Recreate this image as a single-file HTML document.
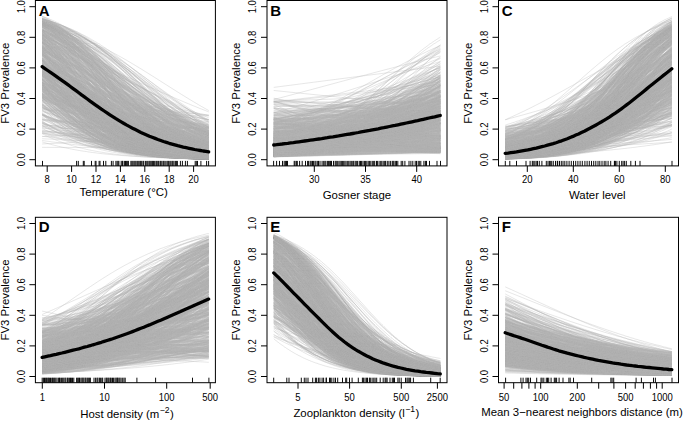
<!DOCTYPE html><html><head><meta charset="utf-8"><style>html,body{margin:0;padding:0;background:#fff}svg{display:block}</style></head><body>
<svg width="685" height="421" viewBox="0 0 685 421" font-family="Liberation Sans, sans-serif">
<rect width="685" height="421" fill="#fff"/>
<defs><path id="s" fill="none" stroke="#b3b3b3" stroke-opacity="0.4" stroke-width="0.8" vector-effect="non-scaling-stroke" d="M-9 159.68 -8.97 159.68 -8.95 159.68 -8.93 159.68 -8.9 159.68 -8.88 159.68 -8.85 159.68 -8.82 159.68 -8.8 159.68 -8.78 159.68 -8.75 159.68 -8.72 159.68 -8.7 159.67 -8.68 159.67 -8.65 159.67 -8.62 159.67 -8.6 159.67 -8.57 159.67 -8.55 159.67 -8.53 159.67 -8.5 159.67 -8.47 159.67 -8.45 159.67 -8.43 159.67 -8.4 159.67 -8.38 159.66 -8.35 159.66 -8.32 159.66 -8.3 159.66 -8.28 159.66 -8.25 159.66 -8.22 159.66 -8.2 159.66 -8.18 159.66 -8.15 159.66 -8.12 159.65 -8.1 159.65 -8.07 159.65 -8.05 159.65 -8.03 159.65 -8 159.65 -7.97 159.65 -7.95 159.65 -7.92 159.64 -7.9 159.64 -7.88 159.64 -7.85 159.64 -7.83 159.64 -7.8 159.64 -7.78 159.64 -7.75 159.63 -7.72 159.63 -7.7 159.63 -7.67 159.63 -7.65 159.63 -7.62 159.63 -7.6 159.62 -7.58 159.62 -7.55 159.62 -7.53 159.62 -7.5 159.62 -7.47 159.61 -7.45 159.61 -7.42 159.61 -7.4 159.61 -7.38 159.6 -7.35 159.6 -7.33 159.6 -7.3 159.6 -7.28 159.59 -7.25 159.59 -7.22 159.59 -7.2 159.59 -7.17 159.58 -7.15 159.58 -7.12 159.58 -7.1 159.57 -7.08 159.57 -7.05 159.57 -7.03 159.56 -7 159.56 -6.97 159.56 -6.95 159.55 -6.92 159.55 -6.9 159.55 -6.88 159.54 -6.85 159.54 -6.82 159.53 -6.8 159.53 -6.78 159.53 -6.75 159.52 -6.72 159.52 -6.7 159.51 -6.67 159.51 -6.65 159.5 -6.62 159.5 -6.6 159.49 -6.57 159.49 -6.55 159.48 -6.53 159.48 -6.5 159.47 -6.47 159.46 -6.45 159.46 -6.42 159.45 -6.4 159.45 -6.38 159.44 -6.35 159.43 -6.32 159.43 -6.3 159.42 -6.28 159.41 -6.25 159.41 -6.22 159.4 -6.2 159.39 -6.17 159.38 -6.15 159.37 -6.12 159.37 -6.1 159.36 -6.07 159.35 -6.05 159.34 -6.03 159.33 -6 159.32 -5.97 159.31 -5.95 159.3 -5.92 159.29 -5.9 159.28 -5.88 159.27 -5.85 159.26 -5.82 159.25 -5.8 159.24 -5.78 159.23 -5.75 159.21 -5.72 159.2 -5.7 159.19 -5.67 159.18 -5.65 159.16 -5.62 159.15 -5.6 159.14 -5.57 159.12 -5.55 159.11 -5.53 159.09 -5.5 159.08 -5.47 159.06 -5.45 159.05 -5.42 159.03 -5.4 159.01 -5.38 158.99 -5.35 158.98 -5.32 158.96 -5.3 158.94 -5.28 158.92 -5.25 158.9 -5.22 158.88 -5.2 158.86 -5.17 158.84 -5.15 158.82 -5.12 158.8 -5.1 158.77 -5.07 158.75 -5.05 158.73 -5.03 158.7 -5 158.68 -4.97 158.65 -4.95 158.62 -4.92 158.6 -4.9 158.57 -4.88 158.54 -4.85 158.51 -4.83 158.48 -4.8 158.45 -4.77 158.42 -4.75 158.39 -4.72 158.35 -4.7 158.32 -4.67 158.29 -4.65 158.25 -4.62 158.21 -4.6 158.18 -4.58 158.14 -4.55 158.1 -4.52 158.06 -4.5 158.02 -4.47 157.98 -4.45 157.93 -4.42 157.89 -4.4 157.84 -4.38 157.8 -4.35 157.75 -4.33 157.7 -4.3 157.65 -4.27 157.6 -4.25 157.55 -4.22 157.49 -4.2 157.44 -4.17 157.38 -4.15 157.33 -4.12 157.27 -4.1 157.21 -4.07 157.14 -4.05 157.08 -4.02 157.01 -4 156.95 -3.97 156.88 -3.95 156.81 -3.92 156.74 -3.9 156.66 -3.88 156.59 -3.85 156.51 -3.82 156.43 -3.8 156.35 -3.77 156.27 -3.75 156.18 -3.72 156.1 -3.7 156.01 -3.67 155.92 -3.65 155.82 -3.62 155.73 -3.6 155.63 -3.57 155.53 -3.55 155.43 -3.52 155.32 -3.5 155.22 -3.47 155.11 -3.45 154.99 -3.42 154.88 -3.4 154.76 -3.38 154.64 -3.35 154.51 -3.32 154.39 -3.3 154.26 -3.27 154.12 -3.25 153.99 -3.22 153.85 -3.2 153.71 -3.17 153.56 -3.15 153.41 -3.12 153.26 -3.1 153.1 -3.07 152.94 -3.05 152.78 -3.02 152.61 -3 152.44 -2.97 152.27 -2.95 152.09 -2.92 151.91 -2.9 151.72 -2.88 151.53 -2.85 151.33 -2.82 151.13 -2.8 150.93 -2.77 150.72 -2.75 150.51 -2.72 150.29 -2.7 150.07 -2.67 149.84 -2.65 149.6 -2.62 149.37 -2.6 149.12 -2.57 148.87 -2.55 148.62 -2.52 148.36 -2.5 148.09 -2.47 147.82 -2.45 147.55 -2.42 147.26 -2.4 146.97 -2.38 146.68 -2.35 146.38 -2.32 146.07 -2.3 145.76 -2.27 145.44 -2.25 145.11 -2.22 144.78 -2.2 144.44 -2.17 144.09 -2.15 143.74 -2.12 143.38 -2.1 143.01 -2.07 142.63 -2.05 142.25 -2.02 141.86 -2 141.46 -1.97 141.06 -1.95 140.64 -1.92 140.22 -1.9 139.79 -1.88 139.36 -1.85 138.91 -1.82 138.46 -1.8 138 -1.77 137.53 -1.75 137.05 -1.72 136.56 -1.7 136.07 -1.67 135.56 -1.65 135.05 -1.62 134.53 -1.6 134 -1.57 133.46 -1.55 132.91 -1.52 132.35 -1.5 131.79 -1.47 131.21 -1.45 130.63 -1.42 130.04 -1.4 129.43 -1.38 128.82 -1.35 128.2 -1.32 127.57 -1.3 126.93 -1.27 126.28 -1.25 125.63 -1.22 124.96 -1.2 124.28 -1.17 123.6 -1.15 122.91 -1.12 122.2 -1.1 121.49 -1.07 120.77 -1.05 120.04 -1.02 119.3 -1 118.55 -0.975 117.8 -0.95 117.03 -0.925 116.26 -0.9 115.48 -0.875 114.69 -0.85 113.89 -0.825 113.08 -0.8 112.27 -0.775 111.44 -0.75 110.61 -0.725 109.78 -0.7 108.93 -0.675 108.08 -0.65 107.22 -0.625 106.36 -0.6 105.49 -0.575 104.61 -0.55 103.72 -0.525 102.83 -0.5 101.94 -0.475 101.03 -0.45 100.13 -0.425 99.22 -0.4 98.3 -0.375 97.38 -0.35 96.45 -0.325 95.52 -0.3 94.59 -0.275 93.65 -0.25 92.71 -0.225 91.77 -0.2 90.82 -0.175 89.88 -0.15 88.93 -0.125 87.98 -0.1 87.02 -0.075 86.07 -0.05 85.11 -0.025 84.16 0 83.2 0.025 82.24 0.05 81.29 0.075 80.33 0.1 79.38 0.125 78.42 0.15 77.47 0.175 76.52 0.2 75.58 0.225 74.63 0.25 73.69 0.275 72.75 0.3 71.81 0.325 70.88 0.35 69.95 0.375 69.02 0.4 68.1 0.425 67.18 0.45 66.27 0.475 65.37 0.5 64.46 0.525 63.57 0.55 62.68 0.575 61.79 0.6 60.91 0.625 60.04 0.65 59.18 0.675 58.32 0.7 57.47 0.725 56.62 0.75 55.79 0.775 54.96 0.8 54.13 0.825 53.32 0.85 52.51 0.875 51.71 0.9 50.92 0.925 50.14 0.95 49.37 0.975 48.6 1 47.85 1.03 47.1 1.05 46.36 1.08 45.63 1.1 44.91 1.12 44.2 1.15 43.49 1.18 42.8 1.2 42.12 1.23 41.44 1.25 40.77 1.28 40.12 1.3 39.47 1.33 38.83 1.35 38.2 1.38 37.58 1.4 36.97 1.43 36.36 1.45 35.77 1.48 35.19 1.5 34.61 1.53 34.05 1.55 33.49 1.58 32.94 1.6 32.4 1.62 31.87 1.65 31.35 1.68 30.84 1.7 30.33 1.73 29.84 1.75 29.35 1.78 28.87 1.8 28.4 1.83 27.94 1.85 27.49 1.88 27.04 1.9 26.61 1.93 26.18 1.95 25.76 1.98 25.34 2 24.94 2.03 24.54 2.05 24.15 2.08 23.77 2.1 23.39 2.12 23.02 2.15 22.66 2.18 22.31 2.2 21.96 2.23 21.62 2.25 21.29 2.28 20.96 2.3 20.64 2.33 20.33 2.35 20.02 2.38 19.72 2.4 19.43 2.43 19.14 2.45 18.85 2.48 18.58 2.5 18.31 2.53 18.04 2.55 17.78 2.58 17.53 2.6 17.28 2.62 17.03 2.65 16.8 2.68 16.56 2.7 16.33 2.73 16.11 2.75 15.89 2.78 15.68 2.8 15.47 2.83 15.27 2.85 15.07 2.88 14.87 2.9 14.68 2.93 14.49 2.95 14.31 2.98 14.13 3 13.96 3.03 13.79 3.05 13.62 3.08 13.46 3.1 13.3 3.12 13.14 3.15 12.99 3.18 12.84 3.2 12.69 3.23 12.55 3.25 12.41 3.28 12.28 3.3 12.14 3.33 12.01 3.35 11.89 3.38 11.76 3.4 11.64 3.43 11.52 3.45 11.41 3.48 11.29 3.5 11.18 3.53 11.08 3.55 10.97 3.58 10.87 3.6 10.77 3.62 10.67 3.65 10.58 3.68 10.48 3.7 10.39 3.73 10.3 3.75 10.22 3.78 10.13 3.8 10.05 3.83 9.97 3.85 9.89 3.88 9.81 3.9 9.74 3.93 9.66 3.95 9.59 3.98 9.52 4 9.45 4.03 9.39 4.05 9.32 4.08 9.26 4.1 9.19 4.12 9.13 4.15 9.07 4.18 9.02 4.2 8.96 4.23 8.91 4.25 8.85 4.28 8.8 4.3 8.75 4.33 8.7 4.35 8.65 4.38 8.6 4.4 8.56 4.43 8.51 4.45 8.47 4.48 8.42 4.5 8.38 4.53 8.34 4.55 8.3 4.58 8.26 4.6 8.22 4.62 8.19 4.65 8.15 4.68 8.11 4.7 8.08 4.73 8.05 4.75 8.01 4.78 7.98 4.8 7.95 4.83 7.92 4.85 7.89 4.88 7.86 4.9 7.83 4.93 7.8 4.95 7.78 4.98 7.75 5 7.72 5.03 7.7 5.05 7.67 5.08 7.65 5.1 7.63 5.12 7.6 5.15 7.58 5.18 7.56 5.2 7.54 5.23 7.52 5.25 7.5 5.28 7.48 5.3 7.46 5.33 7.44 5.35 7.42 5.38 7.41 5.4 7.39 5.43 7.37 5.45 7.35 5.48 7.34 5.5 7.32 5.53 7.31 5.55 7.29 5.58 7.28 5.6 7.26 5.62 7.25 5.65 7.24 5.68 7.22 5.7 7.21 5.73 7.2 5.75 7.19 5.78 7.17 5.8 7.16 5.83 7.15 5.85 7.14 5.88 7.13 5.9 7.12 5.93 7.11 5.95 7.1 5.98 7.09 6 7.08 6.03 7.07 6.05 7.06 6.08 7.05 6.1 7.04 6.12 7.03 6.15 7.03 6.18 7.02 6.2 7.01 6.23 7 6.25 6.99 6.28 6.99 6.3 6.98 6.33 6.97 6.35 6.97 6.38 6.96 6.4 6.95 6.43 6.95 6.45 6.94 6.48 6.94 6.5 6.93 6.53 6.92 6.55 6.92 6.58 6.91 6.6 6.91 6.62 6.9 6.65 6.9 6.68 6.89 6.7 6.89 6.73 6.88 6.75 6.88 6.78 6.87 6.8 6.87 6.83 6.87 6.85 6.86 6.88 6.86 6.9 6.85 6.93 6.85 6.95 6.85 6.98 6.84 7 6.84 7.03 6.84 7.05 6.83 7.07 6.83 7.1 6.83 7.12 6.82 7.15 6.82 7.18 6.82 7.2 6.81 7.23 6.81 7.25 6.81 7.28 6.81 7.3 6.8 7.32 6.8 7.35 6.8 7.38 6.8 7.4 6.79 7.43 6.79 7.45 6.79 7.48 6.79 7.5 6.78 7.53 6.78 7.55 6.78 7.57 6.78 7.6 6.78 7.62 6.77 7.65 6.77 7.68 6.77 7.7 6.77 7.73 6.77 7.75 6.77 7.78 6.76 7.8 6.76 7.82 6.76 7.85 6.76 7.88 6.76 7.9 6.76 7.93 6.76 7.95 6.75 7.98 6.75 8 6.75 8.03 6.75 8.05 6.75 8.07 6.75 8.1 6.75 8.12 6.75 8.15 6.74 8.18 6.74 8.2 6.74 8.23 6.74 8.25 6.74 8.28 6.74 8.3 6.74 8.32 6.74 8.35 6.74 8.38 6.74 8.4 6.73 8.43 6.73 8.45 6.73 8.48 6.73 8.5 6.73 8.53 6.73 8.55 6.73 8.57 6.73 8.6 6.73 8.62 6.73 8.65 6.73 8.68 6.73 8.7 6.73 8.73 6.72 8.75 6.72 8.78 6.72 8.8 6.72 8.82 6.72 8.85 6.72 8.88 6.72 8.9 6.72 8.93 6.72 8.95 6.72 8.98 6.72 9 6.72"/></defs>
<clipPath id="cA"><rect x="42.1" y="0.5" width="166.7" height="165.4"/></clipPath>
<g transform="translate(0 0.0)"><g clip-path="url(#cA)"><use href="#s" transform="matrix(-72.77 0 0 1 -5.1918 0)"/><use href="#s" transform="matrix(-33.1 0 0 1 108.91 0)"/><use href="#s" transform="matrix(-72.95 0 0 1 31.261 0)"/><use href="#s" transform="matrix(-56.37 0 0 1 60.653 0)"/><use href="#s" transform="matrix(-55.04 0 0 1 68.118 0)"/><use href="#s" transform="matrix(-37.59 0 0 1 40.311 0)"/><use href="#s" transform="matrix(-51.68 0 0 1 11.66 0)"/><use href="#s" transform="matrix(-59.5 0 0 1 120.71 0)"/><use href="#s" transform="matrix(-25.35 0 0 1 66.693 0)"/><use href="#s" transform="matrix(-653.5 0 0 1 -759.1 0)"/><use href="#s" transform="matrix(-27.9 0 0 1 110.39 0)"/><use href="#s" transform="matrix(-50.07 0 0 1 127.73 0)"/><use href="#s" transform="matrix(-29.75 0 0 1 40.247 0)"/><use href="#s" transform="matrix(-32.29 0 0 1 94.708 0)"/><use href="#s" transform="matrix(-73.89 0 0 1 54.432 0)"/><use href="#s" transform="matrix(-50.9 0 0 1 66.742 0)"/><use href="#s" transform="matrix(-51.01 0 0 1 118.18 0)"/><use href="#s" transform="matrix(-39.01 0 0 1 23.842 0)"/><use href="#s" transform="matrix(-32.83 0 0 1 82.549 0)"/><use href="#s" transform="matrix(-28.05 0 0 1 100.34 0)"/><use href="#s" transform="matrix(-38.72 0 0 1 121.23 0)"/><use href="#s" transform="matrix(-59.95 0 0 1 59.933 0)"/><use href="#s" transform="matrix(-35.99 0 0 1 100.77 0)"/><use href="#s" transform="matrix(-58.6 0 0 1 -8.6152 0)"/><use href="#s" transform="matrix(-42.69 0 0 1 59.512 0)"/><use href="#s" transform="matrix(-42.94 0 0 1 88.406 0)"/><use href="#s" transform="matrix(-38.53 0 0 1 20.415 0)"/><use href="#s" transform="matrix(-47.24 0 0 1 64.195 0)"/><use href="#s" transform="matrix(-32.5 0 0 1 114.1 0)"/><use href="#s" transform="matrix(-27.93 0 0 1 112.68 0)"/><use href="#s" transform="matrix(-31.42 0 0 1 88.517 0)"/><use href="#s" transform="matrix(-55.56 0 0 1 127.65 0)"/><use href="#s" transform="matrix(-41.65 0 0 1 33.023 0)"/><use href="#s" transform="matrix(-75.15 0 0 1 10.826 0)"/><use href="#s" transform="matrix(-165.1 0 0 1 -63.056 0)"/><use href="#s" transform="matrix(-50.71 0 0 1 102.47 0)"/><use href="#s" transform="matrix(-38.86 0 0 1 98.312 0)"/><use href="#s" transform="matrix(-85.46 0 0 1 43.559 0)"/><use href="#s" transform="matrix(-34.53 0 0 1 26.989 0)"/><use href="#s" transform="matrix(-28 0 0 1 65.747 0)"/><use href="#s" transform="matrix(-36.95 0 0 1 75.798 0)"/><use href="#s" transform="matrix(-43.96 0 0 1 60.968 0)"/><use href="#s" transform="matrix(-33.8 0 0 1 110.41 0)"/><use href="#s" transform="matrix(-95.46 0 0 1 85.938 0)"/><use href="#s" transform="matrix(-89.01 0 0 1 84.836 0)"/><use href="#s" transform="matrix(-57.92 0 0 1 22.735 0)"/><use href="#s" transform="matrix(-49.69 0 0 1 76.73 0)"/><use href="#s" transform="matrix(-26.11 0 0 1 95.722 0)"/><use href="#s" transform="matrix(-52.03 0 0 1 73.628 0)"/><use href="#s" transform="matrix(-28.8 0 0 1 59.882 0)"/><use href="#s" transform="matrix(-64.47 0 0 1 110.4 0)"/><use href="#s" transform="matrix(-35.5 0 0 1 72.948 0)"/><use href="#s" transform="matrix(-48.04 0 0 1 98.627 0)"/><use href="#s" transform="matrix(-26.39 0 0 1 73.346 0)"/><use href="#s" transform="matrix(-59.43 0 0 1 118.42 0)"/><use href="#s" transform="matrix(-72.85 0 0 1 35.582 0)"/><use href="#s" transform="matrix(-78.72 0 0 1 112.71 0)"/><use href="#s" transform="matrix(-73.56 0 0 1 -20.041 0)"/><use href="#s" transform="matrix(-27.14 0 0 1 65.322 0)"/><use href="#s" transform="matrix(-40.59 0 0 1 22.885 0)"/><use href="#s" transform="matrix(-29.7 0 0 1 56.219 0)"/><use href="#s" transform="matrix(-65.82 0 0 1 115.06 0)"/><use href="#s" transform="matrix(-38.33 0 0 1 50.042 0)"/><use href="#s" transform="matrix(-33.82 0 0 1 64.086 0)"/><use href="#s" transform="matrix(-104.2 0 0 1 -50.218 0)"/><use href="#s" transform="matrix(-63.76 0 0 1 33.29 0)"/><use href="#s" transform="matrix(-44.87 0 0 1 103.53 0)"/><use href="#s" transform="matrix(-45.25 0 0 1 25.327 0)"/><use href="#s" transform="matrix(-24.65 0 0 1 74.698 0)"/><use href="#s" transform="matrix(-35.99 0 0 1 20.086 0)"/><use href="#s" transform="matrix(-30.94 0 0 1 36.596 0)"/><use href="#s" transform="matrix(-121.5 0 0 1 2.7324 0)"/><use href="#s" transform="matrix(-66.31 0 0 1 77.936 0)"/><use href="#s" transform="matrix(-35.45 0 0 1 83.985 0)"/><use href="#s" transform="matrix(-79.67 0 0 1 18.118 0)"/><use href="#s" transform="matrix(-63.24 0 0 1 66.756 0)"/><use href="#s" transform="matrix(-39.09 0 0 1 126.99 0)"/><use href="#s" transform="matrix(-61.86 0 0 1 59.647 0)"/><use href="#s" transform="matrix(-84.06 0 0 1 33.219 0)"/><use href="#s" transform="matrix(-43.67 0 0 1 85.847 0)"/><use href="#s" transform="matrix(-28.2 0 0 1 52.149 0)"/><use href="#s" transform="matrix(-29.28 0 0 1 41.596 0)"/><use href="#s" transform="matrix(-227.7 0 0 1 -198.09 0)"/><use href="#s" transform="matrix(-44.49 0 0 1 110.04 0)"/><use href="#s" transform="matrix(-29.12 0 0 1 44.571 0)"/><use href="#s" transform="matrix(-50.65 0 0 1 69.074 0)"/><use href="#s" transform="matrix(-37.76 0 0 1 30.779 0)"/><use href="#s" transform="matrix(-29.1 0 0 1 101.31 0)"/><use href="#s" transform="matrix(-23.58 0 0 1 76.072 0)"/><use href="#s" transform="matrix(-44.56 0 0 1 118.96 0)"/><use href="#s" transform="matrix(-46.82 0 0 1 62.944 0)"/><use href="#s" transform="matrix(-53.37 0 0 1 100.86 0)"/><use href="#s" transform="matrix(-50.48 0 0 1 123.64 0)"/><use href="#s" transform="matrix(-50.05 0 0 1 131.01 0)"/><use href="#s" transform="matrix(-72.34 0 0 1 108.06 0)"/><use href="#s" transform="matrix(-53.39 0 0 1 67.901 0)"/><use href="#s" transform="matrix(-55.54 0 0 1 56.026 0)"/><use href="#s" transform="matrix(-39.95 0 0 1 39.958 0)"/><use href="#s" transform="matrix(-73.76 0 0 1 25.676 0)"/><use href="#s" transform="matrix(-38.98 0 0 1 79.89 0)"/><use href="#s" transform="matrix(-30.62 0 0 1 52.513 0)"/><use href="#s" transform="matrix(-277.6 0 0 1 -311.22 0)"/><use href="#s" transform="matrix(-63.95 0 0 1 68.342 0)"/><use href="#s" transform="matrix(-22.32 0 0 1 82.842 0)"/><use href="#s" transform="matrix(-29.05 0 0 1 51.282 0)"/><use href="#s" transform="matrix(-65.31 0 0 1 -30.919 0)"/><use href="#s" transform="matrix(-29.7 0 0 1 54.986 0)"/><use href="#s" transform="matrix(-54.03 0 0 1 122.43 0)"/><use href="#s" transform="matrix(-47.64 0 0 1 79.129 0)"/><use href="#s" transform="matrix(-64.87 0 0 1 54.892 0)"/><use href="#s" transform="matrix(-41.66 0 0 1 136.58 0)"/><use href="#s" transform="matrix(-44.34 0 0 1 143.66 0)"/><use href="#s" transform="matrix(-42.81 0 0 1 61.558 0)"/><use href="#s" transform="matrix(-45.1 0 0 1 110.71 0)"/><use href="#s" transform="matrix(-45.97 0 0 1 88.486 0)"/><use href="#s" transform="matrix(-48.02 0 0 1 113.29 0)"/><use href="#s" transform="matrix(-38.97 0 0 1 123.93 0)"/><use href="#s" transform="matrix(-55.42 0 0 1 126.87 0)"/><use href="#s" transform="matrix(-55.93 0 0 1 77.8 0)"/><use href="#s" transform="matrix(-42.52 0 0 1 42.984 0)"/><use href="#s" transform="matrix(-59.9 0 0 1 35.945 0)"/><use href="#s" transform="matrix(-30.4 0 0 1 57.64 0)"/><use href="#s" transform="matrix(-37.87 0 0 1 115.6 0)"/><use href="#s" transform="matrix(-70.81 0 0 1 105.65 0)"/><use href="#s" transform="matrix(-36.28 0 0 1 63.72 0)"/><use href="#s" transform="matrix(-27.14 0 0 1 65.005 0)"/><use href="#s" transform="matrix(-45.96 0 0 1 68.525 0)"/><use href="#s" transform="matrix(-33.83 0 0 1 82.603 0)"/><use href="#s" transform="matrix(-60.12 0 0 1 21.31 0)"/><use href="#s" transform="matrix(-53.97 0 0 1 -25.416 0)"/><use href="#s" transform="matrix(-53.99 0 0 1 52.865 0)"/><use href="#s" transform="matrix(-36.28 0 0 1 28.801 0)"/><use href="#s" transform="matrix(-47.25 0 0 1 144.58 0)"/><use href="#s" transform="matrix(-44.34 0 0 1 60.176 0)"/><use href="#s" transform="matrix(-60.94 0 0 1 62.459 0)"/><use href="#s" transform="matrix(-111.1 0 0 1 -43.961 0)"/><use href="#s" transform="matrix(-41.54 0 0 1 78.437 0)"/><use href="#s" transform="matrix(-65.36 0 0 1 45.003 0)"/><use href="#s" transform="matrix(-32.99 0 0 1 104.66 0)"/><use href="#s" transform="matrix(-32.54 0 0 1 92.688 0)"/><use href="#s" transform="matrix(-49.3 0 0 1 38.415 0)"/><use href="#s" transform="matrix(-49.2 0 0 1 92.842 0)"/><use href="#s" transform="matrix(-51.56 0 0 1 -62.261 0)"/><use href="#s" transform="matrix(-35.65 0 0 1 42.284 0)"/><use href="#s" transform="matrix(-27.11 0 0 1 96.614 0)"/><use href="#s" transform="matrix(-31.55 0 0 1 89.189 0)"/><use href="#s" transform="matrix(-69.2 0 0 1 93.662 0)"/><use href="#s" transform="matrix(-47.89 0 0 1 66.46 0)"/><use href="#s" transform="matrix(-54.24 0 0 1 7.0971 0)"/><use href="#s" transform="matrix(-71.41 0 0 1 0.66477 0)"/><use href="#s" transform="matrix(-64.97 0 0 1 94.309 0)"/><use href="#s" transform="matrix(-27 0 0 1 102.33 0)"/><use href="#s" transform="matrix(-278.8 0 0 1 -364.73 0)"/><use href="#s" transform="matrix(-24.32 0 0 1 73.612 0)"/><use href="#s" transform="matrix(-29.45 0 0 1 79.286 0)"/><use href="#s" transform="matrix(-53.32 0 0 1 132.14 0)"/><use href="#s" transform="matrix(-123.9 0 0 1 23.858 0)"/><use href="#s" transform="matrix(-57.82 0 0 1 48.938 0)"/><use href="#s" transform="matrix(-39.33 0 0 1 65.186 0)"/><use href="#s" transform="matrix(-89.32 0 0 1 17.887 0)"/><use href="#s" transform="matrix(-48.89 0 0 1 20.684 0)"/><use href="#s" transform="matrix(-124.8 0 0 1 22.345 0)"/><use href="#s" transform="matrix(-78.29 0 0 1 79.398 0)"/><use href="#s" transform="matrix(-55.04 0 0 1 96.41 0)"/><use href="#s" transform="matrix(-33.91 0 0 1 59.464 0)"/><use href="#s" transform="matrix(-67.27 0 0 1 84.191 0)"/><use href="#s" transform="matrix(-48.44 0 0 1 41.96 0)"/><use href="#s" transform="matrix(-49.19 0 0 1 40.539 0)"/><use href="#s" transform="matrix(-31.33 0 0 1 101.46 0)"/><use href="#s" transform="matrix(-46.6 0 0 1 64.873 0)"/><use href="#s" transform="matrix(-58.76 0 0 1 69.557 0)"/><use href="#s" transform="matrix(-46.85 0 0 1 120.36 0)"/><use href="#s" transform="matrix(-43.18 0 0 1 128.81 0)"/><use href="#s" transform="matrix(-60.14 0 0 1 163.76 0)"/><use href="#s" transform="matrix(-37.73 0 0 1 80.784 0)"/><use href="#s" transform="matrix(-77.67 0 0 1 80.351 0)"/><use href="#s" transform="matrix(-34.24 0 0 1 72.346 0)"/><use href="#s" transform="matrix(-42.67 0 0 1 74.086 0)"/><use href="#s" transform="matrix(-24.67 0 0 1 93.291 0)"/><use href="#s" transform="matrix(-66.96 0 0 1 101.5 0)"/><use href="#s" transform="matrix(-43.42 0 0 1 98.911 0)"/><use href="#s" transform="matrix(-51.31 0 0 1 68.258 0)"/><use href="#s" transform="matrix(-33.9 0 0 1 112.07 0)"/><use href="#s" transform="matrix(-217 0 0 1 -247.62 0)"/><use href="#s" transform="matrix(-35.88 0 0 1 77.779 0)"/><use href="#s" transform="matrix(-43.73 0 0 1 105.54 0)"/><use href="#s" transform="matrix(-255.1 0 0 1 -53.219 0)"/><use href="#s" transform="matrix(-32.18 0 0 1 119.01 0)"/><use href="#s" transform="matrix(-38.06 0 0 1 57.853 0)"/><use href="#s" transform="matrix(-32.87 0 0 1 55.423 0)"/><use href="#s" transform="matrix(-92.81 0 0 1 13.18 0)"/><use href="#s" transform="matrix(-38.8 0 0 1 104.17 0)"/><use href="#s" transform="matrix(-33.83 0 0 1 69.314 0)"/><use href="#s" transform="matrix(-37.19 0 0 1 44.668 0)"/><use href="#s" transform="matrix(-46.16 0 0 1 79.34 0)"/><use href="#s" transform="matrix(-28.48 0 0 1 81.011 0)"/><use href="#s" transform="matrix(-54.03 0 0 1 150.07 0)"/><use href="#s" transform="matrix(-42.7 0 0 1 76.018 0)"/><use href="#s" transform="matrix(-54.22 0 0 1 30.047 0)"/><use href="#s" transform="matrix(-52.69 0 0 1 47.193 0)"/><use href="#s" transform="matrix(-43.12 0 0 1 -26.469 0)"/><use href="#s" transform="matrix(-32.18 0 0 1 40.785 0)"/><use href="#s" transform="matrix(-35.1 0 0 1 92.208 0)"/><use href="#s" transform="matrix(-42.37 0 0 1 88.632 0)"/><use href="#s" transform="matrix(-30.3 0 0 1 55.641 0)"/><use href="#s" transform="matrix(-102.9 0 0 1 69.391 0)"/><use href="#s" transform="matrix(-38.27 0 0 1 124.6 0)"/><use href="#s" transform="matrix(-68.86 0 0 1 102.37 0)"/><use href="#s" transform="matrix(-51.82 0 0 1 127 0)"/><use href="#s" transform="matrix(-40.23 0 0 1 82.82 0)"/><use href="#s" transform="matrix(-159.7 0 0 1 43.531 0)"/><use href="#s" transform="matrix(-35.45 0 0 1 118.08 0)"/><use href="#s" transform="matrix(-33.39 0 0 1 27.141 0)"/><use href="#s" transform="matrix(-32.14 0 0 1 29.133 0)"/><use href="#s" transform="matrix(-53.84 0 0 1 52.667 0)"/><use href="#s" transform="matrix(-84.95 0 0 1 38.844 0)"/><use href="#s" transform="matrix(-56.77 0 0 1 47.551 0)"/><use href="#s" transform="matrix(-118.3 0 0 1 49.569 0)"/><use href="#s" transform="matrix(-34.09 0 0 1 101.15 0)"/><use href="#s" transform="matrix(-58.64 0 0 1 77.14 0)"/><use href="#s" transform="matrix(-55.74 0 0 1 95.598 0)"/><use href="#s" transform="matrix(-40.56 0 0 1 8.4699 0)"/><use href="#s" transform="matrix(-67.01 0 0 1 33.383 0)"/><use href="#s" transform="matrix(-39.68 0 0 1 115.56 0)"/><use href="#s" transform="matrix(-118.8 0 0 1 -6.604 0)"/><use href="#s" transform="matrix(-47.53 0 0 1 135.52 0)"/><use href="#s" transform="matrix(-101.7 0 0 1 14.286 0)"/><use href="#s" transform="matrix(-33.28 0 0 1 71.892 0)"/><use href="#s" transform="matrix(-82 0 0 1 31.486 0)"/><use href="#s" transform="matrix(-67.74 0 0 1 94.328 0)"/><use href="#s" transform="matrix(-60.71 0 0 1 31.7 0)"/><use href="#s" transform="matrix(-69.03 0 0 1 64.965 0)"/><use href="#s" transform="matrix(-41.15 0 0 1 132.35 0)"/><use href="#s" transform="matrix(-88.44 0 0 1 63.202 0)"/><use href="#s" transform="matrix(-33.95 0 0 1 121.83 0)"/><use href="#s" transform="matrix(-64.76 0 0 1 53.317 0)"/><use href="#s" transform="matrix(-69.74 0 0 1 15.111 0)"/><use href="#s" transform="matrix(-48.92 0 0 1 72.574 0)"/><use href="#s" transform="matrix(-39.69 0 0 1 50.506 0)"/><use href="#s" transform="matrix(-31.31 0 0 1 111.89 0)"/><use href="#s" transform="matrix(-26.66 0 0 1 84.188 0)"/><use href="#s" transform="matrix(-33.86 0 0 1 108.77 0)"/><use href="#s" transform="matrix(-49.54 0 0 1 106.51 0)"/><use href="#s" transform="matrix(-37.65 0 0 1 135.65 0)"/><use href="#s" transform="matrix(-47.86 0 0 1 113.8 0)"/><use href="#s" transform="matrix(-40.56 0 0 1 89.877 0)"/><use href="#s" transform="matrix(-115.3 0 0 1 28.703 0)"/><use href="#s" transform="matrix(-45.98 0 0 1 33.867 0)"/><use href="#s" transform="matrix(-59.79 0 0 1 87.291 0)"/><use href="#s" transform="matrix(-41.02 0 0 1 113.69 0)"/><use href="#s" transform="matrix(-28.5 0 0 1 95.966 0)"/><use href="#s" transform="matrix(-41.16 0 0 1 33.612 0)"/><use href="#s" transform="matrix(-52.17 0 0 1 103.57 0)"/><use href="#s" transform="matrix(-46.61 0 0 1 77.837 0)"/><use href="#s" transform="matrix(-70.68 0 0 1 17.922 0)"/><use href="#s" transform="matrix(-85.78 0 0 1 141.15 0)"/><use href="#s" transform="matrix(-176 0 0 1 -232.67 0)"/><use href="#s" transform="matrix(-46.77 0 0 1 81.94 0)"/><use href="#s" transform="matrix(-38.73 0 0 1 138.33 0)"/><use href="#s" transform="matrix(-43.74 0 0 1 30.487 0)"/><use href="#s" transform="matrix(-45.3 0 0 1 67.212 0)"/><use href="#s" transform="matrix(-116.3 0 0 1 -93.131 0)"/><use href="#s" transform="matrix(-38.26 0 0 1 39.857 0)"/><use href="#s" transform="matrix(-39.04 0 0 1 98.768 0)"/><use href="#s" transform="matrix(-54.68 0 0 1 26.626 0)"/><use href="#s" transform="matrix(-51.16 0 0 1 67.926 0)"/><use href="#s" transform="matrix(-29.77 0 0 1 49.649 0)"/><use href="#s" transform="matrix(-107 0 0 1 67.371 0)"/><use href="#s" transform="matrix(-45.05 0 0 1 76.49 0)"/><use href="#s" transform="matrix(-49.79 0 0 1 97.913 0)"/><use href="#s" transform="matrix(-25.84 0 0 1 93.892 0)"/><use href="#s" transform="matrix(-25.46 0 0 1 81.424 0)"/><use href="#s" transform="matrix(-55.82 0 0 1 47.133 0)"/><use href="#s" transform="matrix(-31.97 0 0 1 108.68 0)"/><use href="#s" transform="matrix(-41.17 0 0 1 124.94 0)"/><use href="#s" transform="matrix(-42.22 0 0 1 8.4282 0)"/><use href="#s" transform="matrix(-28.77 0 0 1 80.663 0)"/><use href="#s" transform="matrix(-42.14 0 0 1 106.83 0)"/><use href="#s" transform="matrix(-44.79 0 0 1 118.57 0)"/><use href="#s" transform="matrix(-55.22 0 0 1 108.22 0)"/><use href="#s" transform="matrix(-64.54 0 0 1 9.0645 0)"/><use href="#s" transform="matrix(-56.81 0 0 1 60.422 0)"/><use href="#s" transform="matrix(-51.25 0 0 1 -27.314 0)"/><use href="#s" transform="matrix(-84.55 0 0 1 76.635 0)"/><use href="#s" transform="matrix(-42.91 0 0 1 142.73 0)"/><use href="#s" transform="matrix(-55.67 0 0 1 117.87 0)"/><use href="#s" transform="matrix(-24.63 0 0 1 80.24 0)"/><use href="#s" transform="matrix(-78.92 0 0 1 52.404 0)"/><use href="#s" transform="matrix(-41.24 0 0 1 31.283 0)"/><use href="#s" transform="matrix(-77.49 0 0 1 18.502 0)"/><use href="#s" transform="matrix(-54.16 0 0 1 79.055 0)"/><use href="#s" transform="matrix(-106.8 0 0 1 31.888 0)"/><use href="#s" transform="matrix(-50.45 0 0 1 43.78 0)"/><use href="#s" transform="matrix(-32.38 0 0 1 104.4 0)"/><use href="#s" transform="matrix(-41.31 0 0 1 5.4667 0)"/><use href="#s" transform="matrix(-36.25 0 0 1 22.866 0)"/><use href="#s" transform="matrix(-68.31 0 0 1 51.181 0)"/><use href="#s" transform="matrix(-33.87 0 0 1 57.449 0)"/><use href="#s" transform="matrix(-64.04 0 0 1 69.669 0)"/><use href="#s" transform="matrix(-53.08 0 0 1 9.1657 0)"/><use href="#s" transform="matrix(-36.42 0 0 1 70.036 0)"/><use href="#s" transform="matrix(-72.52 0 0 1 73.336 0)"/><use href="#s" transform="matrix(-57.74 0 0 1 97.706 0)"/><use href="#s" transform="matrix(-37.15 0 0 1 30.405 0)"/><use href="#s" transform="matrix(-42.49 0 0 1 77.347 0)"/><use href="#s" transform="matrix(-45.46 0 0 1 78.481 0)"/><use href="#s" transform="matrix(-73.81 0 0 1 43.259 0)"/><use href="#s" transform="matrix(-36.59 0 0 1 55.291 0)"/><use href="#s" transform="matrix(-44.04 0 0 1 46.372 0)"/><use href="#s" transform="matrix(-33.89 0 0 1 111.86 0)"/><use href="#s" transform="matrix(-3316 0 0 1 -8016.4 0)"/><use href="#s" transform="matrix(-118 0 0 1 -37.627 0)"/><use href="#s" transform="matrix(-52.7 0 0 1 -8.3517 0)"/><use href="#s" transform="matrix(-105.5 0 0 1 67.043 0)"/><use href="#s" transform="matrix(-66.47 0 0 1 42.202 0)"/><use href="#s" transform="matrix(-36.58 0 0 1 49.78 0)"/><use href="#s" transform="matrix(-25.2 0 0 1 77.527 0)"/><use href="#s" transform="matrix(-52.8 0 0 1 -4.228 0)"/><use href="#s" transform="matrix(-30.49 0 0 1 38.145 0)"/><use href="#s" transform="matrix(-54.21 0 0 1 61.467 0)"/><use href="#s" transform="matrix(-82.69 0 0 1 8.337 0)"/><use href="#s" transform="matrix(-65.21 0 0 1 106.13 0)"/><use href="#s" transform="matrix(-51.17 0 0 1 89.852 0)"/><use href="#s" transform="matrix(-31.32 0 0 1 41.349 0)"/><use href="#s" transform="matrix(-62.87 0 0 1 -22.556 0)"/><use href="#s" transform="matrix(-40.27 0 0 1 129.18 0)"/><use href="#s" transform="matrix(-25.24 0 0 1 69.965 0)"/><use href="#s" transform="matrix(-31.46 0 0 1 75.027 0)"/><use href="#s" transform="matrix(-58.71 0 0 1 78.474 0)"/><use href="#s" transform="matrix(-49.6 0 0 1 68.179 0)"/><use href="#s" transform="matrix(-23.97 0 0 1 79.062 0)"/><use href="#s" transform="matrix(-38.9 0 0 1 62.298 0)"/><use href="#s" transform="matrix(-55.99 0 0 1 44.263 0)"/><use href="#s" transform="matrix(-66.14 0 0 1 134.37 0)"/><use href="#s" transform="matrix(-39.33 0 0 1 65.856 0)"/><use href="#s" transform="matrix(-36.63 0 0 1 39.451 0)"/><use href="#s" transform="matrix(-65.32 0 0 1 30.576 0)"/><use href="#s" transform="matrix(-38.22 0 0 1 116.61 0)"/><use href="#s" transform="matrix(-47.38 0 0 1 103.66 0)"/><use href="#s" transform="matrix(-44.9 0 0 1 146.37 0)"/><use href="#s" transform="matrix(-52.29 0 0 1 48.378 0)"/><use href="#s" transform="matrix(-32.39 0 0 1 40.487 0)"/><use href="#s" transform="matrix(-43.56 0 0 1 86.66 0)"/><use href="#s" transform="matrix(-34.78 0 0 1 114.02 0)"/><use href="#s" transform="matrix(-54.6 0 0 1 110.77 0)"/><use href="#s" transform="matrix(-55.44 0 0 1 100.79 0)"/><use href="#s" transform="matrix(-27.27 0 0 1 104.39 0)"/><use href="#s" transform="matrix(-79.38 0 0 1 38.203 0)"/><use href="#s" transform="matrix(-111.2 0 0 1 -8.8354 0)"/><use href="#s" transform="matrix(-50.98 0 0 1 39.537 0)"/><use href="#s" transform="matrix(-75.85 0 0 1 63.656 0)"/><use href="#s" transform="matrix(-45.59 0 0 1 87.042 0)"/><use href="#s" transform="matrix(-38.2 0 0 1 109.9 0)"/><use href="#s" transform="matrix(-41.02 0 0 1 84.144 0)"/><use href="#s" transform="matrix(-41.69 0 0 1 130.88 0)"/><use href="#s" transform="matrix(-210.2 0 0 1 18.023 0)"/><use href="#s" transform="matrix(-35.21 0 0 1 122.83 0)"/><use href="#s" transform="matrix(-33.51 0 0 1 38.639 0)"/><use href="#s" transform="matrix(-33.3 0 0 1 107.23 0)"/><use href="#s" transform="matrix(-43.22 0 0 1 33.395 0)"/><use href="#s" transform="matrix(-48.25 0 0 1 87.905 0)"/><use href="#s" transform="matrix(-45.29 0 0 1 68.979 0)"/><use href="#s" transform="matrix(-78 0 0 1 132.7 0)"/><use href="#s" transform="matrix(-48.21 0 0 1 111.81 0)"/><use href="#s" transform="matrix(-101.6 0 0 1 79.2 0)"/><use href="#s" transform="matrix(-36.21 0 0 1 59.447 0)"/><use href="#s" transform="matrix(-41.64 0 0 1 76.344 0)"/><use href="#s" transform="matrix(-236 0 0 1 -80.607 0)"/><use href="#s" transform="matrix(-31.51 0 0 1 40.832 0)"/><use href="#s" transform="matrix(-81.69 0 0 1 -28.839 0)"/><use href="#s" transform="matrix(-28.85 0 0 1 57.606 0)"/><use href="#s" transform="matrix(-44.67 0 0 1 149.82 0)"/><use href="#s" transform="matrix(-25.33 0 0 1 78.4 0)"/><use href="#s" transform="matrix(-48.97 0 0 1 35.014 0)"/><use href="#s" transform="matrix(-50.9 0 0 1 41.009 0)"/><use href="#s" transform="matrix(-23.89 0 0 1 83.146 0)"/><use href="#s" transform="matrix(-139.7 0 0 1 64.637 0)"/><use href="#s" transform="matrix(-64.32 0 0 1 -12.648 0)"/><use href="#s" transform="matrix(-142 0 0 1 4.1479 0)"/><use href="#s" transform="matrix(-41.71 0 0 1 29.904 0)"/><use href="#s" transform="matrix(-33.44 0 0 1 33.174 0)"/><use href="#s" transform="matrix(-42.28 0 0 1 99.339 0)"/><use href="#s" transform="matrix(-50.51 0 0 1 73.292 0)"/><use href="#s" transform="matrix(-854.9 0 0 1 -573.5 0)"/><use href="#s" transform="matrix(-33.62 0 0 1 45.778 0)"/><use href="#s" transform="matrix(-33.72 0 0 1 30.019 0)"/><use href="#s" transform="matrix(-42.42 0 0 1 24.476 0)"/><use href="#s" transform="matrix(-83.65 0 0 1 -19.806 0)"/><use href="#s" transform="matrix(-38.48 0 0 1 127.72 0)"/><use href="#s" transform="matrix(-36.64 0 0 1 52.768 0)"/><use href="#s" transform="matrix(-36.1 0 0 1 86.591 0)"/><use href="#s" transform="matrix(-43.74 0 0 1 111.59 0)"/><use href="#s" transform="matrix(-82.96 0 0 1 61.309 0)"/><use href="#s" transform="matrix(-33.2 0 0 1 81.341 0)"/><use href="#s" transform="matrix(-42.82 0 0 1 93.031 0)"/><use href="#s" transform="matrix(-25.74 0 0 1 62.737 0)"/><use href="#s" transform="matrix(-25.19 0 0 1 102.45 0)"/><use href="#s" transform="matrix(-50.63 0 0 1 86.507 0)"/><use href="#s" transform="matrix(-50.61 0 0 1 59.966 0)"/><use href="#s" transform="matrix(-37.82 0 0 1 91.928 0)"/><use href="#s" transform="matrix(-46.96 0 0 1 147.22 0)"/><use href="#s" transform="matrix(-33.63 0 0 1 100.66 0)"/><use href="#s" transform="matrix(-32.78 0 0 1 47.261 0)"/><use href="#s" transform="matrix(-63.32 0 0 1 33.277 0)"/><use href="#s" transform="matrix(-64.43 0 0 1 29.492 0)"/><use href="#s" transform="matrix(-32.91 0 0 1 42.56 0)"/><use href="#s" transform="matrix(-59.62 0 0 1 101.84 0)"/><use href="#s" transform="matrix(-58.03 0 0 1 132.69 0)"/><use href="#s" transform="matrix(-59.87 0 0 1 -51.344 0)"/><use href="#s" transform="matrix(-33.57 0 0 1 59.446 0)"/><use href="#s" transform="matrix(-57.62 0 0 1 22.98 0)"/><use href="#s" transform="matrix(-56.71 0 0 1 119.37 0)"/><use href="#s" transform="matrix(-31.05 0 0 1 93.144 0)"/><use href="#s" transform="matrix(-39.21 0 0 1 39.087 0)"/><use href="#s" transform="matrix(-39.7 0 0 1 49.253 0)"/><use href="#s" transform="matrix(-65.7 0 0 1 28.18 0)"/><use href="#s" transform="matrix(-45.78 0 0 1 88.218 0)"/><use href="#s" transform="matrix(-63.65 0 0 1 -12.179 0)"/><use href="#s" transform="matrix(-119.7 0 0 1 0.49561 0)"/><use href="#s" transform="matrix(-149.8 0 0 1 41.655 0)"/><use href="#s" transform="matrix(-29.27 0 0 1 100.72 0)"/><use href="#s" transform="matrix(-41.07 0 0 1 143.3 0)"/><use href="#s" transform="matrix(-52.64 0 0 1 71.36 0)"/><use href="#s" transform="matrix(-377.3 0 0 1 -123.89 0)"/><use href="#s" transform="matrix(-32.93 0 0 1 62.567 0)"/><use href="#s" transform="matrix(-47.63 0 0 1 35.072 0)"/><use href="#s" transform="matrix(-43.51 0 0 1 89.568 0)"/><use href="#s" transform="matrix(-33.99 0 0 1 30.577 0)"/><use href="#s" transform="matrix(-46.83 0 0 1 53.47 0)"/><use href="#s" transform="matrix(-62.6 0 0 1 74.691 0)"/><use href="#s" transform="matrix(-26.28 0 0 1 72.682 0)"/><use href="#s" transform="matrix(-51.37 0 0 1 66.319 0)"/><use href="#s" transform="matrix(-51.13 0 0 1 145.37 0)"/><use href="#s" transform="matrix(-36.17 0 0 1 66.786 0)"/><use href="#s" transform="matrix(-44.58 0 0 1 -5.825 0)"/><use href="#s" transform="matrix(-22.99 0 0 1 80.149 0)"/><use href="#s" transform="matrix(-48.65 0 0 1 56.891 0)"/><use href="#s" transform="matrix(-31.32 0 0 1 42.344 0)"/><use href="#s" transform="matrix(-39.04 0 0 1 124.97 0)"/><use href="#s" transform="matrix(-138.7 0 0 1 8.2015 0)"/><use href="#s" transform="matrix(-57.08 0 0 1 77.494 0)"/><use href="#s" transform="matrix(-37.87 0 0 1 41.124 0)"/><use href="#s" transform="matrix(-40.48 0 0 1 125.35 0)"/><use href="#s" transform="matrix(-41.31 0 0 1 52.303 0)"/><use href="#s" transform="matrix(-29.34 0 0 1 66.093 0)"/><use href="#s" transform="matrix(-48.87 0 0 1 12.011 0)"/><use href="#s" transform="matrix(-36.33 0 0 1 118.09 0)"/><use href="#s" transform="matrix(-48.7 0 0 1 27.284 0)"/><use href="#s" transform="matrix(-42.91 0 0 1 112.44 0)"/><use href="#s" transform="matrix(-55.97 0 0 1 147.71 0)"/><use href="#s" transform="matrix(-40.41 0 0 1 123.14 0)"/><use href="#s" transform="matrix(-40.08 0 0 1 132.42 0)"/><use href="#s" transform="matrix(-42.68 0 0 1 25.737 0)"/><use href="#s" transform="matrix(-64.94 0 0 1 108.4 0)"/><use href="#s" transform="matrix(-51.84 0 0 1 78.364 0)"/><use href="#s" transform="matrix(-58.96 0 0 1 103.57 0)"/><use href="#s" transform="matrix(-28.01 0 0 1 94.404 0)"/><use href="#s" transform="matrix(-50.32 0 0 1 75.545 0)"/><use href="#s" transform="matrix(-30.37 0 0 1 38.844 0)"/><use href="#s" transform="matrix(-41.64 0 0 1 61.065 0)"/><use href="#s" transform="matrix(-26.61 0 0 1 98.934 0)"/><use href="#s" transform="matrix(-36.87 0 0 1 27.722 0)"/><use href="#s" transform="matrix(-84.6 0 0 1 95.296 0)"/><use href="#s" transform="matrix(-32.97 0 0 1 34.333 0)"/><use href="#s" transform="matrix(-34.41 0 0 1 106.81 0)"/><use href="#s" transform="matrix(-65.3 0 0 1 -16.32 0)"/><use href="#s" transform="matrix(-62.89 0 0 1 58.775 0)"/><use href="#s" transform="matrix(-72.89 0 0 1 73.786 0)"/><use href="#s" transform="matrix(-28.02 0 0 1 60.968 0)"/><use href="#s" transform="matrix(-28.25 0 0 1 111.38 0)"/><use href="#s" transform="matrix(-27.65 0 0 1 101.34 0)"/><use href="#s" transform="matrix(-82.83 0 0 1 19.494 0)"/><use href="#s" transform="matrix(-40.83 0 0 1 139.81 0)"/><use href="#s" transform="matrix(-48.22 0 0 1 22.798 0)"/><use href="#s" transform="matrix(-54.1 0 0 1 -19.422 0)"/><use href="#s" transform="matrix(-39.07 0 0 1 13.518 0)"/><use href="#s" transform="matrix(-50.65 0 0 1 81.565 0)"/><use href="#s" transform="matrix(-65.57 0 0 1 119.64 0)"/><use href="#s" transform="matrix(-132.5 0 0 1 -156.67 0)"/><use href="#s" transform="matrix(-32.31 0 0 1 76.402 0)"/><use href="#s" transform="matrix(-34.86 0 0 1 53.345 0)"/><use href="#s" transform="matrix(-30.53 0 0 1 84.558 0)"/><use href="#s" transform="matrix(-30.02 0 0 1 49.022 0)"/><use href="#s" transform="matrix(-56.87 0 0 1 134.62 0)"/><use href="#s" transform="matrix(-41.57 0 0 1 92.744 0)"/><use href="#s" transform="matrix(-49.89 0 0 1 22.905 0)"/><use href="#s" transform="matrix(-52.85 0 0 1 152.89 0)"/><use href="#s" transform="matrix(-48.16 0 0 1 80.143 0)"/><use href="#s" transform="matrix(-57.98 0 0 1 124.43 0)"/><use href="#s" transform="matrix(-36.84 0 0 1 116.44 0)"/><use href="#s" transform="matrix(-102.3 0 0 1 18.604 0)"/><use href="#s" transform="matrix(-50.07 0 0 1 65.399 0)"/><use href="#s" transform="matrix(-46.03 0 0 1 37.01 0)"/><use href="#s" transform="matrix(-69.74 0 0 1 27.83 0)"/><use href="#s" transform="matrix(-55.67 0 0 1 89.712 0)"/><use href="#s" transform="matrix(-62.23 0 0 1 100.92 0)"/><use href="#s" transform="matrix(-36.05 0 0 1 115.91 0)"/><use href="#s" transform="matrix(-32.09 0 0 1 108.55 0)"/><use href="#s" transform="matrix(-40.55 0 0 1 62.972 0)"/><use href="#s" transform="matrix(-64.83 0 0 1 34.166 0)"/><use href="#s" transform="matrix(-28.15 0 0 1 118.05 0)"/><use href="#s" transform="matrix(-30.22 0 0 1 114.3 0)"/><use href="#s" transform="matrix(-59.21 0 0 1 68.642 0)"/><use href="#s" transform="matrix(-75.35 0 0 1 27.403 0)"/><use href="#s" transform="matrix(-63.11 0 0 1 54.761 0)"/><use href="#s" transform="matrix(-32.74 0 0 1 70.687 0)"/><use href="#s" transform="matrix(-23.57 0 0 1 87.074 0)"/><use href="#s" transform="matrix(-39.24 0 0 1 109.23 0)"/><use href="#s" transform="matrix(-43.56 0 0 1 88.33 0)"/><use href="#s" transform="matrix(-41.77 0 0 1 56.23 0)"/><use href="#s" transform="matrix(-48.57 0 0 1 77.859 0)"/><use href="#s" transform="matrix(-70.92 0 0 1 62.599 0)"/><use href="#s" transform="matrix(-42.8 0 0 1 68.538 0)"/><use href="#s" transform="matrix(-56.11 0 0 1 67.396 0)"/><use href="#s" transform="matrix(-28.94 0 0 1 75.968 0)"/><use href="#s" transform="matrix(-66.35 0 0 1 -34.197 0)"/><use href="#s" transform="matrix(-35.13 0 0 1 51.275 0)"/><use href="#s" transform="matrix(-30.13 0 0 1 51.243 0)"/><use href="#s" transform="matrix(-74.38 0 0 1 15.941 0)"/><use href="#s" transform="matrix(-27.29 0 0 1 52.908 0)"/><use href="#s" transform="matrix(-56.66 0 0 1 25.577 0)"/><use href="#s" transform="matrix(-76.09 0 0 1 43.051 0)"/><use href="#s" transform="matrix(-58.53 0 0 1 59.969 0)"/><use href="#s" transform="matrix(-29.72 0 0 1 52.006 0)"/><use href="#s" transform="matrix(-58.98 0 0 1 47.013 0)"/><use href="#s" transform="matrix(-23.1 0 0 1 85.387 0)"/><use href="#s" transform="matrix(-31.66 0 0 1 66.663 0)"/><use href="#s" transform="matrix(-68.44 0 0 1 105.34 0)"/><use href="#s" transform="matrix(-46.81 0 0 1 80.259 0)"/><use href="#s" transform="matrix(-94.39 0 0 1 43.028 0)"/><use href="#s" transform="matrix(-33.96 0 0 1 36.704 0)"/><use href="#s" transform="matrix(-23.75 0 0 1 78.971 0)"/><use href="#s" transform="matrix(-36.19 0 0 1 51.344 0)"/><use href="#s" transform="matrix(-226.8 0 0 1 -191.05 0)"/><use href="#s" transform="matrix(-236.5 0 0 1 -309.76 0)"/><use href="#s" transform="matrix(-64.68 0 0 1 93.943 0)"/><use href="#s" transform="matrix(-50.65 0 0 1 39.852 0)"/><use href="#s" transform="matrix(-46.43 0 0 1 64.327 0)"/><use href="#s" transform="matrix(-47.6 0 0 1 47.045 0)"/><use href="#s" transform="matrix(-149.7 0 0 1 74.088 0)"/><use href="#s" transform="matrix(-51.12 0 0 1 62.375 0)"/><use href="#s" transform="matrix(-174.7 0 0 1 -37.801 0)"/><use href="#s" transform="matrix(-44.21 0 0 1 64.948 0)"/><use href="#s" transform="matrix(-51.55 0 0 1 131.35 0)"/><use href="#s" transform="matrix(-27.2 0 0 1 79.563 0)"/><use href="#s" transform="matrix(-52.89 0 0 1 -10.484 0)"/><use href="#s" transform="matrix(-77.97 0 0 1 -1.5798 0)"/><use href="#s" transform="matrix(-45.76 0 0 1 16.887 0)"/><use href="#s" transform="matrix(-41.24 0 0 1 56.021 0)"/><use href="#s" transform="matrix(-36.01 0 0 1 98.691 0)"/><use href="#s" transform="matrix(-35.02 0 0 1 74.467 0)"/><use href="#s" transform="matrix(-305.2 0 0 1 -265.85 0)"/><use href="#s" transform="matrix(-72.05 0 0 1 85.226 0)"/><use href="#s" transform="matrix(-24.99 0 0 1 79.921 0)"/><use href="#s" transform="matrix(-106.1 0 0 1 61.305 0)"/><use href="#s" transform="matrix(-32.96 0 0 1 117.64 0)"/><use href="#s" transform="matrix(-53.61 0 0 1 43.308 0)"/><use href="#s" transform="matrix(-33.62 0 0 1 107.92 0)"/><use href="#s" transform="matrix(-39.78 0 0 1 139.53 0)"/><use href="#s" transform="matrix(-91.97 0 0 1 -2.8831 0)"/><use href="#s" transform="matrix(-39.8 0 0 1 53.182 0)"/><use href="#s" transform="matrix(-41.28 0 0 1 92.9 0)"/><use href="#s" transform="matrix(-22.57 0 0 1 103.08 0)"/><use href="#s" transform="matrix(-496.5 0 0 1 -477.61 0)"/><use href="#s" transform="matrix(-30 0 0 1 78.695 0)"/><use href="#s" transform="matrix(-31.28 0 0 1 69.558 0)"/><use href="#s" transform="matrix(-37.28 0 0 1 49.605 0)"/><use href="#s" transform="matrix(-60.84 0 0 1 34.758 0)"/><use href="#s" transform="matrix(-72.62 0 0 1 50.873 0)"/><use href="#s" transform="matrix(-42.88 0 0 1 54.733 0)"/><use href="#s" transform="matrix(-64.14 0 0 1 11.175 0)"/><use href="#s" transform="matrix(-31 0 0 1 108.8 0)"/><use href="#s" transform="matrix(-125.9 0 0 1 0.028 0)"/><use href="#s" transform="matrix(-57.19 0 0 1 53.399 0)"/><use href="#s" transform="matrix(-31.07 0 0 1 42.543 0)"/><use href="#s" transform="matrix(-96.75 0 0 1 62.316 0)"/><use href="#s" transform="matrix(-52.26 0 0 1 75.79 0)"/><use href="#s" transform="matrix(-136.7 0 0 1 33.898 0)"/><use href="#s" transform="matrix(-38.05 0 0 1 55.296 0)"/><use href="#s" transform="matrix(-29.32 0 0 1 107.04 0)"/><use href="#s" transform="matrix(-34.51 0 0 1 104.79 0)"/><use href="#s" transform="matrix(-30.27 0 0 1 51.363 0)"/><use href="#s" transform="matrix(-33.18 0 0 1 96.349 0)"/><use href="#s" transform="matrix(-105.1 0 0 1 34.888 0)"/><use href="#s" transform="matrix(-56.64 0 0 1 87.78 0)"/><use href="#s" transform="matrix(-33.54 0 0 1 20.116 0)"/><use href="#s" transform="matrix(-128.7 0 0 1 -4.4974 0)"/><use href="#s" transform="matrix(-67.44 0 0 1 32.294 0)"/><use href="#s" transform="matrix(-42.66 0 0 1 127.74 0)"/><use href="#s" transform="matrix(-45.65 0 0 1 79.181 0)"/><use href="#s" transform="matrix(-43.37 0 0 1 94.059 0)"/><use href="#s" transform="matrix(-47.01 0 0 1 75.759 0)"/><use href="#s" transform="matrix(-43.97 0 0 1 85.102 0)"/><use href="#s" transform="matrix(-29.19 0 0 1 72.501 0)"/><use href="#s" transform="matrix(-52.51 0 0 1 118.91 0)"/><use href="#s" transform="matrix(-49.24 0 0 1 77.933 0)"/><use href="#s" transform="matrix(-69.2 0 0 1 29.364 0)"/><use href="#s" transform="matrix(-65.74 0 0 1 36.425 0)"/><use href="#s" transform="matrix(-32.01 0 0 1 106.04 0)"/><use href="#s" transform="matrix(-34.01 0 0 1 112.9 0)"/><use href="#s" transform="matrix(-26.28 0 0 1 73.945 0)"/><use href="#s" transform="matrix(-87.19 0 0 1 -35.564 0)"/><use href="#s" transform="matrix(-36.29 0 0 1 120.18 0)"/><use href="#s" transform="matrix(-39.88 0 0 1 78.964 0)"/><use href="#s" transform="matrix(-28.72 0 0 1 55.681 0)"/><use href="#s" transform="matrix(-78.65 0 0 1 85.805 0)"/><use href="#s" transform="matrix(-47.65 0 0 1 53.55 0)"/><use href="#s" transform="matrix(-33.54 0 0 1 116.89 0)"/><use href="#s" transform="matrix(-31.25 0 0 1 110.76 0)"/><use href="#s" transform="matrix(-43.37 0 0 1 29.063 0)"/><use href="#s" transform="matrix(-41.4 0 0 1 57.961 0)"/><use href="#s" transform="matrix(-29.11 0 0 1 68.306 0)"/><use href="#s" transform="matrix(-29.12 0 0 1 101.03 0)"/><use href="#s" transform="matrix(388.3 0 0 1 711.29 0)"/><use href="#s" transform="matrix(-51.08 0 0 1 127.09 0)"/><use href="#s" transform="matrix(-50.33 0 0 1 152.38 0)"/><use href="#s" transform="matrix(-38.54 0 0 1 52.518 0)"/><use href="#s" transform="matrix(-28.26 0 0 1 55.971 0)"/><use href="#s" transform="matrix(-23.42 0 0 1 89.171 0)"/><use href="#s" transform="matrix(-25.2 0 0 1 66.729 0)"/><use href="#s" transform="matrix(-125.6 0 0 1 -28.891 0)"/><use href="#s" transform="matrix(-125.3 0 0 1 -6.9531 0)"/><use href="#s" transform="matrix(-63.68 0 0 1 23.959 0)"/><use href="#s" transform="matrix(-83.47 0 0 1 -12.918 0)"/><use href="#s" transform="matrix(-55.01 0 0 1 70.48 0)"/><use href="#s" transform="matrix(-50.57 0 0 1 47.873 0)"/><use href="#s" transform="matrix(-62.02 0 0 1 77.105 0)"/><use href="#s" transform="matrix(-28.01 0 0 1 80.578 0)"/><use href="#s" transform="matrix(-29.82 0 0 1 108.8 0)"/><use href="#s" transform="matrix(-42.91 0 0 1 75.461 0)"/><use href="#s" transform="matrix(-39.17 0 0 1 -2.8783 0)"/><use href="#s" transform="matrix(-25.61 0 0 1 95.04 0)"/><use href="#s" transform="matrix(-57.85 0 0 1 66.814 0)"/><use href="#s" transform="matrix(-38.35 0 0 1 116.23 0)"/><use href="#s" transform="matrix(-28.83 0 0 1 46.902 0)"/><use href="#s" transform="matrix(-59.95 0 0 1 95.02 0)"/><use href="#s" transform="matrix(-56.3 0 0 1 65.383 0)"/><use href="#s" transform="matrix(-64.42 0 0 1 74.232 0)"/><use href="#s" transform="matrix(-34.3 0 0 1 111.33 0)"/><use href="#s" transform="matrix(-70.72 0 0 1 42.531 0)"/><use href="#s" transform="matrix(-28.55 0 0 1 62.385 0)"/><use href="#s" transform="matrix(-41.58 0 0 1 74.509 0)"/><use href="#s" transform="matrix(-32.8 0 0 1 49.112 0)"/><use href="#s" transform="matrix(-61.73 0 0 1 -51.213 0)"/><use href="#s" transform="matrix(-64.77 0 0 1 102.69 0)"/><use href="#s" transform="matrix(276.6 0 0 1 640.77 0)"/><use href="#s" transform="matrix(-71.4 0 0 1 -12.055 0)"/><use href="#s" transform="matrix(-42.53 0 0 1 48.817 0)"/><use href="#s" transform="matrix(-54.41 0 0 1 98.35 0)"/><use href="#s" transform="matrix(-42.88 0 0 1 109.05 0)"/><use href="#s" transform="matrix(-61.41 0 0 1 135.44 0)"/><use href="#s" transform="matrix(-48.89 0 0 1 102.62 0)"/><use href="#s" transform="matrix(-28.67 0 0 1 48.789 0)"/><use href="#s" transform="matrix(-35.42 0 0 1 112.65 0)"/><use href="#s" transform="matrix(-43.62 0 0 1 55.61 0)"/><use href="#s" transform="matrix(-27.77 0 0 1 94.25 0)"/><use href="#s" transform="matrix(-111.4 0 0 1 -130.14 0)"/><use href="#s" transform="matrix(-61.19 0 0 1 28.165 0)"/><use href="#s" transform="matrix(-45.17 0 0 1 45.18 0)"/><use href="#s" transform="matrix(-83.79 0 0 1 85.477 0)"/><use href="#s" transform="matrix(-157.4 0 0 1 -226.46 0)"/><use href="#s" transform="matrix(-42.82 0 0 1 106.5 0)"/><use href="#s" transform="matrix(-38.3 0 0 1 107.94 0)"/><use href="#s" transform="matrix(-54.46 0 0 1 122.29 0)"/><use href="#s" transform="matrix(-32.75 0 0 1 45.851 0)"/><use href="#s" transform="matrix(-45.65 0 0 1 137.73 0)"/><use href="#s" transform="matrix(-47.65 0 0 1 46.427 0)"/><use href="#s" transform="matrix(-54.64 0 0 1 130.56 0)"/><use href="#s" transform="matrix(-83.52 0 0 1 81.672 0)"/><use href="#s" transform="matrix(-57.81 0 0 1 71.272 0)"/><use href="#s" transform="matrix(-40.43 0 0 1 58.187 0)"/><use href="#s" transform="matrix(-53.55 0 0 1 69.038 0)"/><use href="#s" transform="matrix(-38.96 0 0 1 114.86 0)"/><use href="#s" transform="matrix(-23.05 0 0 1 90.212 0)"/><use href="#s" transform="matrix(-31.51 0 0 1 107.74 0)"/><use href="#s" transform="matrix(-29.81 0 0 1 90.377 0)"/><use href="#s" transform="matrix(-58.77 0 0 1 120.09 0)"/><use href="#s" transform="matrix(-69.4 0 0 1 115.92 0)"/><use href="#s" transform="matrix(-27.36 0 0 1 102.96 0)"/><use href="#s" transform="matrix(-40.85 0 0 1 49.216 0)"/><use href="#s" transform="matrix(-32.07 0 0 1 42.863 0)"/><use href="#s" transform="matrix(-52.16 0 0 1 71.918 0)"/><use href="#s" transform="matrix(-129.4 0 0 1 -78.776 0)"/><use href="#s" transform="matrix(-100.4 0 0 1 75.679 0)"/><use href="#s" transform="matrix(-29.73 0 0 1 56.171 0)"/><use href="#s" transform="matrix(-95.56 0 0 1 14.953 0)"/><use href="#s" transform="matrix(-50.17 0 0 1 45.53 0)"/><use href="#s" transform="matrix(-30.82 0 0 1 83.985 0)"/><use href="#s" transform="matrix(-42.86 0 0 1 56.641 0)"/><use href="#s" transform="matrix(-34.4 0 0 1 62.91 0)"/><use href="#s" transform="matrix(-40.68 0 0 1 114.2 0)"/><use href="#s" transform="matrix(-54.87 0 0 1 44.256 0)"/><use href="#s" transform="matrix(-119.3 0 0 1 -2.6085 0)"/><use href="#s" transform="matrix(-38.48 0 0 1 60.839 0)"/><use href="#s" transform="matrix(-26.02 0 0 1 68.878 0)"/><use href="#s" transform="matrix(-42.72 0 0 1 -4.5748 0)"/><use href="#s" transform="matrix(-43.94 0 0 1 99.782 0)"/><use href="#s" transform="matrix(-30.27 0 0 1 50.381 0)"/><use href="#s" transform="matrix(-36.96 0 0 1 49.338 0)"/><use href="#s" transform="matrix(-72.95 0 0 1 30.907 0)"/><use href="#s" transform="matrix(-30 0 0 1 53.355 0)"/><use href="#s" transform="matrix(-46.24 0 0 1 120.15 0)"/><use href="#s" transform="matrix(-45.58 0 0 1 94.83 0)"/><use href="#s" transform="matrix(-31.45 0 0 1 89.344 0)"/><use href="#s" transform="matrix(-50.84 0 0 1 54.103 0)"/><use href="#s" transform="matrix(-29.45 0 0 1 105.55 0)"/><use href="#s" transform="matrix(-30.88 0 0 1 104.45 0)"/><use href="#s" transform="matrix(-41.7 0 0 1 63.291 0)"/><use href="#s" transform="matrix(-118.8 0 0 1 -188.3 0)"/><use href="#s" transform="matrix(-45.73 0 0 1 69.249 0)"/><use href="#s" transform="matrix(-26.45 0 0 1 109.94 0)"/><use href="#s" transform="matrix(-32.38 0 0 1 57.676 0)"/><use href="#s" transform="matrix(-175.3 0 0 1 -5.7682 0)"/><use href="#s" transform="matrix(-24.62 0 0 1 96.363 0)"/><use href="#s" transform="matrix(-50.03 0 0 1 44.311 0)"/><use href="#s" transform="matrix(-60.63 0 0 1 110.31 0)"/><use href="#s" transform="matrix(-51.44 0 0 1 116.95 0)"/><use href="#s" transform="matrix(-44.34 0 0 1 10.573 0)"/><use href="#s" transform="matrix(-88.89 0 0 1 102.49 0)"/><use href="#s" transform="matrix(-51.32 0 0 1 143.62 0)"/><use href="#s" transform="matrix(-43.9 0 0 1 53.993 0)"/><use href="#s" transform="matrix(-26.37 0 0 1 76.935 0)"/><use href="#s" transform="matrix(-60.33 0 0 1 72.911 0)"/><use href="#s" transform="matrix(-34.56 0 0 1 103.57 0)"/><use href="#s" transform="matrix(-31.09 0 0 1 112.61 0)"/><use href="#s" transform="matrix(-39.52 0 0 1 29.037 0)"/><use href="#s" transform="matrix(-38.49 0 0 1 53.819 0)"/><use href="#s" transform="matrix(-44.9 0 0 1 87.353 0)"/><use href="#s" transform="matrix(-80.62 0 0 1 44.96 0)"/><use href="#s" transform="matrix(-30.84 0 0 1 38.478 0)"/><use href="#s" transform="matrix(-28.51 0 0 1 49.447 0)"/><use href="#s" transform="matrix(-74.33 0 0 1 65.768 0)"/><use href="#s" transform="matrix(-36.62 0 0 1 42.729 0)"/><use href="#s" transform="matrix(-54.1 0 0 1 92.381 0)"/><use href="#s" transform="matrix(-39.38 0 0 1 101.68 0)"/><use href="#s" transform="matrix(-55.16 0 0 1 121.44 0)"/><use href="#s" transform="matrix(-51.46 0 0 1 111.99 0)"/><use href="#s" transform="matrix(-32.26 0 0 1 106.05 0)"/><use href="#s" transform="matrix(-58.48 0 0 1 7.7231 0)"/><use href="#s" transform="matrix(-54.95 0 0 1 66.306 0)"/><use href="#s" transform="matrix(-58.06 0 0 1 86.321 0)"/><use href="#s" transform="matrix(-32.67 0 0 1 80.354 0)"/><use href="#s" transform="matrix(-37.44 0 0 1 9.9095 0)"/><use href="#s" transform="matrix(-34.07 0 0 1 119.85 0)"/><use href="#s" transform="matrix(-55.97 0 0 1 32.905 0)"/><use href="#s" transform="matrix(-41.79 0 0 1 77.737 0)"/><use href="#s" transform="matrix(-27.84 0 0 1 81.861 0)"/><use href="#s" transform="matrix(-41.53 0 0 1 119.08 0)"/><use href="#s" transform="matrix(-31.1 0 0 1 41.937 0)"/><use href="#s" transform="matrix(-41.93 0 0 1 46.631 0)"/><use href="#s" transform="matrix(-65.07 0 0 1 106.09 0)"/><use href="#s" transform="matrix(-27.64 0 0 1 76.536 0)"/><use href="#s" transform="matrix(-41.46 0 0 1 110.15 0)"/><use href="#s" transform="matrix(-56.84 0 0 1 69.839 0)"/><use href="#s" transform="matrix(-65.94 0 0 1 41.41 0)"/><use href="#s" transform="matrix(-34.61 0 0 1 22.953 0)"/><use href="#s" transform="matrix(-42.93 0 0 1 137.61 0)"/><use href="#s" transform="matrix(-71.95 0 0 1 -0.70235 0)"/><use href="#s" transform="matrix(-45.03 0 0 1 104.45 0)"/><use href="#s" transform="matrix(-48.55 0 0 1 84.454 0)"/><use href="#s" transform="matrix(-39.39 0 0 1 99.672 0)"/><use href="#s" transform="matrix(-50.83 0 0 1 128.29 0)"/><use href="#s" transform="matrix(-47.67 0 0 1 140.15 0)"/><use href="#s" transform="matrix(-28.34 0 0 1 55.916 0)"/><use href="#s" transform="matrix(-31.85 0 0 1 74.524 0)"/><use href="#s" transform="matrix(-71.87 0 0 1 -45.926 0)"/><use href="#s" transform="matrix(-27.26 0 0 1 58.192 0)"/><use href="#s" transform="matrix(-121.2 0 0 1 20.917 0)"/><use href="#s" transform="matrix(-35.32 0 0 1 56.716 0)"/><use href="#s" transform="matrix(-39.78 0 0 1 122.03 0)"/><use href="#s" transform="matrix(-49.98 0 0 1 75.402 0)"/><use href="#s" transform="matrix(-33.71 0 0 1 104.94 0)"/><use href="#s" transform="matrix(-32.64 0 0 1 54.421 0)"/><use href="#s" transform="matrix(-37.16 0 0 1 80.128 0)"/><use href="#s" transform="matrix(-54.3 0 0 1 53.612 0)"/><use href="#s" transform="matrix(-327.8 0 0 1 -560.39 0)"/><use href="#s" transform="matrix(-49.66 0 0 1 40.983 0)"/><use href="#s" transform="matrix(-42.01 0 0 1 55.837 0)"/><use href="#s" transform="matrix(-41.37 0 0 1 72.275 0)"/><use href="#s" transform="matrix(-78.3 0 0 1 84.501 0)"/><use href="#s" transform="matrix(-54.65 0 0 1 65.997 0)"/><use href="#s" transform="matrix(-29.71 0 0 1 92.372 0)"/><use href="#s" transform="matrix(-26.35 0 0 1 76.336 0)"/><use href="#s" transform="matrix(-42.59 0 0 1 51.703 0)"/><use href="#s" transform="matrix(-27.98 0 0 1 86.864 0)"/><use href="#s" transform="matrix(-60.92 0 0 1 -34.386 0)"/><use href="#s" transform="matrix(-88.28 0 0 1 70.028 0)"/><use href="#s" transform="matrix(-63.88 0 0 1 69.062 0)"/><use href="#s" transform="matrix(-36.52 0 0 1 116.56 0)"/><use href="#s" transform="matrix(-62.82 0 0 1 49.557 0)"/><use href="#s" transform="matrix(-224.8 0 0 1 -113.71 0)"/><use href="#s" transform="matrix(-29.53 0 0 1 64.458 0)"/><use href="#s" transform="matrix(-37.39 0 0 1 124.57 0)"/><use href="#s" transform="matrix(-45.53 0 0 1 59.199 0)"/><use href="#s" transform="matrix(-51.6 0 0 1 65.946 0)"/><use href="#s" transform="matrix(-51.58 0 0 1 61.674 0)"/><use href="#s" transform="matrix(-41.18 0 0 1 67.129 0)"/><use href="#s" transform="matrix(-39.39 0 0 1 122.46 0)"/><use href="#s" transform="matrix(-21.49 0 0 1 91.992 0)"/><use href="#s" transform="matrix(-45.43 0 0 1 92.956 0)"/><use href="#s" transform="matrix(-62.74 0 0 1 70.958 0)"/><use href="#s" transform="matrix(-25.52 0 0 1 100.17 0)"/><use href="#s" transform="matrix(-31.58 0 0 1 63.191 0)"/><use href="#s" transform="matrix(-88.91 0 0 1 98.001 0)"/><use href="#s" transform="matrix(-34.64 0 0 1 51.197 0)"/><use href="#s" transform="matrix(-42.64 0 0 1 54.726 0)"/><use href="#s" transform="matrix(-32.94 0 0 1 69.835 0)"/><use href="#s" transform="matrix(-38.37 0 0 1 54.313 0)"/><use href="#s" transform="matrix(-32.92 0 0 1 76.941 0)"/><use href="#s" transform="matrix(-27.08 0 0 1 60.008 0)"/><use href="#s" transform="matrix(-73.68 0 0 1 132.51 0)"/><use href="#s" transform="matrix(-37.09 0 0 1 51.205 0)"/><use href="#s" transform="matrix(-57.21 0 0 1 64.285 0)"/><use href="#s" transform="matrix(-43.54 0 0 1 78.991 0)"/><use href="#s" transform="matrix(-75.96 0 0 1 90.304 0)"/><use href="#s" transform="matrix(-58.78 0 0 1 81.665 0)"/><use href="#s" transform="matrix(-46.37 0 0 1 133.67 0)"/><use href="#s" transform="matrix(-111.7 0 0 1 9.348 0)"/><use href="#s" transform="matrix(-161.9 0 0 1 -151.5 0)"/><use href="#s" transform="matrix(-39.41 0 0 1 98.578 0)"/><use href="#s" transform="matrix(-71.67 0 0 1 67.576 0)"/><use href="#s" transform="matrix(-22.93 0 0 1 89.382 0)"/><use href="#s" transform="matrix(-67.9 0 0 1 74.536 0)"/><use href="#s" transform="matrix(-86.65 0 0 1 10.115 0)"/><use href="#s" transform="matrix(-35.01 0 0 1 126.38 0)"/><use href="#s" transform="matrix(-27.02 0 0 1 70.137 0)"/><use href="#s" transform="matrix(-93.14 0 0 1 59.878 0)"/><use href="#s" transform="matrix(-39.86 0 0 1 40.357 0)"/><use href="#s" transform="matrix(-48.73 0 0 1 102.24 0)"/><use href="#s" transform="matrix(-30.72 0 0 1 42.537 0)"/><use href="#s" transform="matrix(-40.06 0 0 1 83.116 0)"/><use href="#s" transform="matrix(-28.74 0 0 1 98.592 0)"/><use href="#s" transform="matrix(-42.39 0 0 1 16.813 0)"/><use href="#s" transform="matrix(-37.84 0 0 1 52.085 0)"/><use href="#s" transform="matrix(-68.5 0 0 1 119.63 0)"/><use href="#s" transform="matrix(-33.57 0 0 1 115.74 0)"/><use href="#s" transform="matrix(-40.34 0 0 1 109.84 0)"/><use href="#s" transform="matrix(-124.2 0 0 1 65.317 0)"/><use href="#s" transform="matrix(-23.03 0 0 1 90.645 0)"/><use href="#s" transform="matrix(-95.36 0 0 1 67.055 0)"/><use href="#s" transform="matrix(-41.7 0 0 1 59.371 0)"/><use href="#s" transform="matrix(-33.66 0 0 1 75.947 0)"/><use href="#s" transform="matrix(-47.51 0 0 1 27.144 0)"/><use href="#s" transform="matrix(-21.12 0 0 1 98.372 0)"/><use href="#s" transform="matrix(-23.2 0 0 1 88.387 0)"/><use href="#s" transform="matrix(-29.28 0 0 1 65.853 0)"/><use href="#s" transform="matrix(-40.69 0 0 1 45.987 0)"/><use href="#s" transform="matrix(-86.95 0 0 1 10.31 0)"/><use href="#s" transform="matrix(-61.24 0 0 1 103.13 0)"/><use href="#s" transform="matrix(-34.59 0 0 1 90.124 0)"/><use href="#s" transform="matrix(-59.67 0 0 1 55.691 0)"/><use href="#s" transform="matrix(-58.21 0 0 1 64.61 0)"/><use href="#s" transform="matrix(-37.64 0 0 1 88.041 0)"/><use href="#s" transform="matrix(-52.51 0 0 1 67.903 0)"/><use href="#s" transform="matrix(-52.46 0 0 1 -16.146 0)"/><use href="#s" transform="matrix(-46.16 0 0 1 104.53 0)"/><use href="#s" transform="matrix(-40.68 0 0 1 76.196 0)"/><use href="#s" transform="matrix(-39.41 0 0 1 98.436 0)"/><use href="#s" transform="matrix(-62.24 0 0 1 38.84 0)"/><use href="#s" transform="matrix(-102.8 0 0 1 -102.31 0)"/><use href="#s" transform="matrix(-42.12 0 0 1 23.12 0)"/><use href="#s" transform="matrix(-27.55 0 0 1 66.958 0)"/><use href="#s" transform="matrix(-32.43 0 0 1 118.94 0)"/><use href="#s" transform="matrix(-28.04 0 0 1 110.83 0)"/><use href="#s" transform="matrix(-35.41 0 0 1 74.25 0)"/><use href="#s" transform="matrix(-62.27 0 0 1 -0.23677 0)"/><use href="#s" transform="matrix(-36.96 0 0 1 52.205 0)"/><use href="#s" transform="matrix(-47.87 0 0 1 93.919 0)"/><use href="#s" transform="matrix(-47.32 0 0 1 92.72 0)"/><use href="#s" transform="matrix(-32.35 0 0 1 63.241 0)"/><use href="#s" transform="matrix(-37.52 0 0 1 119.14 0)"/><use href="#s" transform="matrix(-36.08 0 0 1 36.076 0)"/><use href="#s" transform="matrix(-177.1 0 0 1 -214.48 0)"/><use href="#s" transform="matrix(-75.36 0 0 1 30.813 0)"/><use href="#s" transform="matrix(-60.19 0 0 1 19.695 0)"/><use href="#s" transform="matrix(-40.09 0 0 1 138.95 0)"/><use href="#s" transform="matrix(-74.06 0 0 1 71.004 0)"/><use href="#s" transform="matrix(-85.09 0 0 1 -13.141 0)"/><use href="#s" transform="matrix(-25.09 0 0 1 74.409 0)"/><use href="#s" transform="matrix(-37.52 0 0 1 108.22 0)"/><use href="#s" transform="matrix(-50.33 0 0 1 72.413 0)"/><use href="#s" transform="matrix(-59.02 0 0 1 87.654 0)"/><use href="#s" transform="matrix(-26.57 0 0 1 89.45 0)"/><use href="#s" transform="matrix(-50.66 0 0 1 101.04 0)"/><use href="#s" transform="matrix(-63.64 0 0 1 41.374 0)"/><use href="#s" transform="matrix(-45.17 0 0 1 98.745 0)"/><use href="#s" transform="matrix(-25.12 0 0 1 83.965 0)"/><use href="#s" transform="matrix(-31.11 0 0 1 71.741 0)"/><use href="#s" transform="matrix(-51.34 0 0 1 124.2 0)"/><use href="#s" transform="matrix(-51.45 0 0 1 106.32 0)"/><use href="#s" transform="matrix(-48.1 0 0 1 58.938 0)"/><use href="#s" transform="matrix(-75.2 0 0 1 73.698 0)"/><use href="#s" transform="matrix(-43.06 0 0 1 97.346 0)"/><use href="#s" transform="matrix(-43.06 0 0 1 46.482 0)"/><use href="#s" transform="matrix(-23.29 0 0 1 87.21 0)"/><use href="#s" transform="matrix(-44.68 0 0 1 131.51 0)"/><use href="#s" transform="matrix(-74.52 0 0 1 -55.473 0)"/><use href="#s" transform="matrix(-52.51 0 0 1 67.272 0)"/><use href="#s" transform="matrix(-31.16 0 0 1 40.439 0)"/><use href="#s" transform="matrix(-41.13 0 0 1 43.664 0)"/></g></g>
<path fill="none" stroke="#000" stroke-width="3.3" stroke-linejoin="round" stroke-linecap="round" d="M42.1 66.7 44.9 68.6 47.7 70.5 50.5 72.4 53.4 74.3 56.2 76.3 59.0 78.3 61.8 80.3 64.7 82.4 67.5 84.4 70.3 86.5 73.1 88.6 76.0 90.7 78.8 92.8 81.6 94.9 84.4 96.9 87.3 99.0 90.1 101.1 92.9 103.1 95.7 105.1 98.6 107.1 101.4 109.1 104.2 111.0 107.0 112.9 109.9 114.8 112.7 116.6 115.5 118.4 118.3 120.1 121.2 121.8 124.0 123.5 126.8 125.1 129.6 126.6 132.5 128.2 135.3 129.6 138.1 131.0 140.9 132.4 143.8 133.7 146.6 134.9 149.4 136.2 152.2 137.3 155.1 138.4 157.9 139.5 160.7 140.5 163.5 141.5 166.4 142.4 169.2 143.3 172.0 144.1 174.8 144.9 177.7 145.7 180.5 146.4 183.3 147.1 186.1 147.7 189.0 148.3 191.8 148.9 194.6 149.5 197.4 150.0 200.3 150.5 203.1 151.0 205.9 151.4 208.7 151.9"/>
<path stroke="#000" stroke-width=".95" d="M42.5 165.9v-5M76.6 165.9v-5M78.3 165.9v-5M83.3 165.9v-5M84.2 165.9v-5M91.5 165.9v-5M95.2 165.9v-5M96 165.9v-5M99.1 165.9v-5M100 165.9v-5M103.5 165.9v-5M105.8 165.9v-5M111.4 165.9v-5M113.1 165.9v-5M115.9 165.9v-5M117.1 165.9v-5M118.1 165.9v-5M118.9 165.9v-5M121.2 165.9v-5M122.3 165.9v-5M122.8 165.9v-5M124.4 165.9v-5M125.5 165.9v-5M126.6 165.9v-5M127.7 165.9v-5M128.4 165.9v-5M130.9 165.9v-5M131.9 165.9v-5M132.9 165.9v-5M134 165.9v-5M135 165.9v-5M136 165.9v-5M137.2 165.9v-5M138.1 165.9v-5M139.1 165.9v-5M140.2 165.9v-5M140.9 165.9v-5M141.8 165.9v-5M143.1 165.9v-5M143.8 165.9v-5M145.6 165.9v-5M146.8 165.9v-5M147.8 165.9v-5M149 165.9v-5M149.9 165.9v-5M150.9 165.9v-5M151.9 165.9v-5M152.7 165.9v-5M153.6 165.9v-5M154.7 165.9v-5M156 165.9v-5M156.8 165.9v-5M157.9 165.9v-5M158.7 165.9v-5M160.1 165.9v-5M160.8 165.9v-5M161.9 165.9v-5M163.2 165.9v-5M164 165.9v-5M165.2 165.9v-5M166.9 165.9v-5M167.9 165.9v-5M168.7 165.9v-5M169.9 165.9v-5M170.9 165.9v-5M172.1 165.9v-5M172.9 165.9v-5M174 165.9v-5M175.4 165.9v-5M176.4 165.9v-5M177.4 165.9v-5M180.4 165.9v-5M182.4 165.9v-5M185.4 165.9v-5M187.4 165.9v-5M195.2 165.9v-5M196.3 165.9v-5M197.5 165.9v-5M200.9 165.9v-5M206.6 165.9v-5M208.6 165.9v-5"/>
<rect x="35.4" y="0.5" width="180" height="165.4" fill="none" stroke="#000" stroke-width="1"/>
<path stroke="#000" stroke-width="1" d="M35.4 159.7h-6M35.4 129.1h-6M35.4 98.5h-6M35.4 67.9h-6M35.4 37.3h-6M35.4 6.7h-6M47.2 165.9v6M71.6 165.9v6M96 165.9v6M120.4 165.9v6M144.8 165.9v6M169.2 165.9v6M193.6 165.9v6"/>
<text transform="translate(24.5 159.7) rotate(-90) scale(.95 1)" text-anchor="middle" font-size="10">0.0</text>
<text transform="translate(24.5 129.1) rotate(-90) scale(.95 1)" text-anchor="middle" font-size="10">0.2</text>
<text transform="translate(24.5 98.5) rotate(-90) scale(.95 1)" text-anchor="middle" font-size="10">0.4</text>
<text transform="translate(24.5 67.9) rotate(-90) scale(.95 1)" text-anchor="middle" font-size="10">0.6</text>
<text transform="translate(24.5 37.3) rotate(-90) scale(.95 1)" text-anchor="middle" font-size="10">0.8</text>
<text transform="translate(24.5 6.7) rotate(-90) scale(.95 1)" text-anchor="middle" font-size="10">1.0</text>
<text transform="translate(47.2 182.6) scale(.95 1)" text-anchor="middle" font-size="10">8</text>
<text transform="translate(71.6 182.6) scale(.95 1)" text-anchor="middle" font-size="10">10</text>
<text transform="translate(96 182.6) scale(.95 1)" text-anchor="middle" font-size="10">12</text>
<text transform="translate(120.4 182.6) scale(.95 1)" text-anchor="middle" font-size="10">14</text>
<text transform="translate(144.8 182.6) scale(.95 1)" text-anchor="middle" font-size="10">16</text>
<text transform="translate(169.2 182.6) scale(.95 1)" text-anchor="middle" font-size="10">18</text>
<text transform="translate(193.6 182.6) scale(.95 1)" text-anchor="middle" font-size="10">20</text>
<text transform="translate(8.8 83.2) rotate(-90)" text-anchor="middle" font-size="11.4">FV3 Prevalence</text>
<text x="79.6" y="196" font-size="11.5">Temperature (°C)</text>
<text x="38.7" y="15.6" font-size="15" font-weight="bold">A</text>
<clipPath id="cB"><rect x="273.7" y="0.5" width="166.7" height="165.4"/></clipPath>
<g transform="translate(0 0.0)"><g clip-path="url(#cB)"><use href="#s" transform="matrix(259.3 0 0 1 630.14 0)"/><use href="#s" transform="matrix(114.9 0 0 1 565.89 0)"/><use href="#s" transform="matrix(-658.1 0 0 1 -680.83 0)"/><use href="#s" transform="matrix(260.7 0 0 1 541.35 0)"/><use href="#s" transform="matrix(118.6 0 0 1 371.15 0)"/><use href="#s" transform="matrix(-168.7 0 0 1 109.38 0)"/><use href="#s" transform="matrix(-558.9 0 0 1 -384.66 0)"/><use href="#s" transform="matrix(70.78 0 0 1 490.82 0)"/><use href="#s" transform="matrix(611.1 0 0 1 1637.6 0)"/><use href="#s" transform="matrix(112.6 0 0 1 467.76 0)"/><use href="#s" transform="matrix(763.2 0 0 1 1876.4 0)"/><use href="#s" transform="matrix(149.4 0 0 1 825.87 0)"/><use href="#s" transform="matrix(2002 0 0 1 4877.3 0)"/><use href="#s" transform="matrix(66.47 0 0 1 460.39 0)"/><use href="#s" transform="matrix(-176 0 0 1 -71.231 0)"/><use href="#s" transform="matrix(180 0 0 1 604.9 0)"/><use href="#s" transform="matrix(386.9 0 0 1 1597.2 0)"/><use href="#s" transform="matrix(71.68 0 0 1 478.52 0)"/><use href="#s" transform="matrix(128.8 0 0 1 531.92 0)"/><use href="#s" transform="matrix(65.82 0 0 1 479.93 0)"/><use href="#s" transform="matrix(61.66 0 0 1 408.03 0)"/><use href="#s" transform="matrix(95.08 0 0 1 553.38 0)"/><use href="#s" transform="matrix(63.05 0 0 1 451.3 0)"/><use href="#s" transform="matrix(183 0 0 1 525.84 0)"/><use href="#s" transform="matrix(80.17 0 0 1 456.11 0)"/><use href="#s" transform="matrix(219 0 0 1 859.37 0)"/><use href="#s" transform="matrix(183.3 0 0 1 441.55 0)"/><use href="#s" transform="matrix(149.9 0 0 1 641.34 0)"/><use href="#s" transform="matrix(71.62 0 0 1 430.17 0)"/><use href="#s" transform="matrix(86.83 0 0 1 459.71 0)"/><use href="#s" transform="matrix(-368.6 0 0 1 203.47 0)"/><use href="#s" transform="matrix(141.4 0 0 1 500.09 0)"/><use href="#s" transform="matrix(173.9 0 0 1 516.86 0)"/><use href="#s" transform="matrix(95.69 0 0 1 513.2 0)"/><use href="#s" transform="matrix(66.91 0 0 1 368.2 0)"/><use href="#s" transform="matrix(-315.2 0 0 1 -93.229 0)"/><use href="#s" transform="matrix(224.3 0 0 1 1005 0)"/><use href="#s" transform="matrix(-285.2 0 0 1 -232.09 0)"/><use href="#s" transform="matrix(-1689 0 0 1 -1157.2 0)"/><use href="#s" transform="matrix(-4555 0 0 1 -3104.7 0)"/><use href="#s" transform="matrix(104.9 0 0 1 476.66 0)"/><use href="#s" transform="matrix(315.7 0 0 1 430.4 0)"/><use href="#s" transform="matrix(81.28 0 0 1 500.44 0)"/><use href="#s" transform="matrix(304.9 0 0 1 646.76 0)"/><use href="#s" transform="matrix(-964.2 0 0 1 -1338.8 0)"/><use href="#s" transform="matrix(56.6 0 0 1 451.03 0)"/><use href="#s" transform="matrix(113.2 0 0 1 415.56 0)"/><use href="#s" transform="matrix(73.94 0 0 1 520 0)"/><use href="#s" transform="matrix(69.78 0 0 1 465.89 0)"/><use href="#s" transform="matrix(244.6 0 0 1 817.88 0)"/><use href="#s" transform="matrix(72.22 0 0 1 509.98 0)"/><use href="#s" transform="matrix(384.1 0 0 1 704.13 0)"/><use href="#s" transform="matrix(71.71 0 0 1 457.32 0)"/><use href="#s" transform="matrix(218.4 0 0 1 995.87 0)"/><use href="#s" transform="matrix(148.2 0 0 1 556.77 0)"/><use href="#s" transform="matrix(84.74 0 0 1 455.58 0)"/><use href="#s" transform="matrix(67.16 0 0 1 486.04 0)"/><use href="#s" transform="matrix(74.03 0 0 1 469.76 0)"/><use href="#s" transform="matrix(-103.1 0 0 1 134.55 0)"/><use href="#s" transform="matrix(-533.2 0 0 1 -478.27 0)"/><use href="#s" transform="matrix(83.63 0 0 1 565.76 0)"/><use href="#s" transform="matrix(-519.6 0 0 1 -390.93 0)"/><use href="#s" transform="matrix(-100.4 0 0 1 145.87 0)"/><use href="#s" transform="matrix(147.9 0 0 1 440.66 0)"/><use href="#s" transform="matrix(90.77 0 0 1 507.52 0)"/><use href="#s" transform="matrix(5385 0 0 1 15627 0)"/><use href="#s" transform="matrix(215.9 0 0 1 751.68 0)"/><use href="#s" transform="matrix(92.08 0 0 1 525.82 0)"/><use href="#s" transform="matrix(77.15 0 0 1 455.95 0)"/><use href="#s" transform="matrix(74.53 0 0 1 474.08 0)"/><use href="#s" transform="matrix(613.2 0 0 1 1739.9 0)"/><use href="#s" transform="matrix(191.8 0 0 1 770.03 0)"/><use href="#s" transform="matrix(123.6 0 0 1 532.53 0)"/><use href="#s" transform="matrix(91.61 0 0 1 455.27 0)"/><use href="#s" transform="matrix(182 0 0 1 704.15 0)"/><use href="#s" transform="matrix(180.1 0 0 1 748.69 0)"/><use href="#s" transform="matrix(342 0 0 1 565.83 0)"/><use href="#s" transform="matrix(302.2 0 0 1 668.06 0)"/><use href="#s" transform="matrix(91.85 0 0 1 429.41 0)"/><use href="#s" transform="matrix(71.99 0 0 1 486.08 0)"/><use href="#s" transform="matrix(115.5 0 0 1 455.26 0)"/><use href="#s" transform="matrix(-298.7 0 0 1 -405.44 0)"/><use href="#s" transform="matrix(-195.7 0 0 1 -39.946 0)"/><use href="#s" transform="matrix(-256.9 0 0 1 -220.62 0)"/><use href="#s" transform="matrix(-159.6 0 0 1 210.77 0)"/><use href="#s" transform="matrix(116.7 0 0 1 520.27 0)"/><use href="#s" transform="matrix(98.57 0 0 1 577.13 0)"/><use href="#s" transform="matrix(242.7 0 0 1 559.28 0)"/><use href="#s" transform="matrix(-285.2 0 0 1 -48.159 0)"/><use href="#s" transform="matrix(185.7 0 0 1 462.3 0)"/><use href="#s" transform="matrix(49.58 0 0 1 466.15 0)"/><use href="#s" transform="matrix(674.1 0 0 1 2307.9 0)"/><use href="#s" transform="matrix(297.7 0 0 1 1139.1 0)"/><use href="#s" transform="matrix(103.1 0 0 1 637.45 0)"/><use href="#s" transform="matrix(98.68 0 0 1 474.43 0)"/><use href="#s" transform="matrix(135.2 0 0 1 485.83 0)"/><use href="#s" transform="matrix(103.6 0 0 1 398.04 0)"/><use href="#s" transform="matrix(-138.2 0 0 1 87.197 0)"/><use href="#s" transform="matrix(126.9 0 0 1 544.46 0)"/><use href="#s" transform="matrix(8032 0 0 1 7541.6 0)"/><use href="#s" transform="matrix(261.2 0 0 1 780.08 0)"/><use href="#s" transform="matrix(68.93 0 0 1 544.29 0)"/><use href="#s" transform="matrix(-347.9 0 0 1 -585.19 0)"/><use href="#s" transform="matrix(81.42 0 0 1 508.54 0)"/><use href="#s" transform="matrix(417.5 0 0 1 1057.9 0)"/><use href="#s" transform="matrix(2312 0 0 1 6239.5 0)"/><use href="#s" transform="matrix(66.07 0 0 1 438.26 0)"/><use href="#s" transform="matrix(-252.9 0 0 1 13.094 0)"/><use href="#s" transform="matrix(82.66 0 0 1 514.14 0)"/><use href="#s" transform="matrix(120.1 0 0 1 684.1 0)"/><use href="#s" transform="matrix(-252.3 0 0 1 -226.4 0)"/><use href="#s" transform="matrix(1356 0 0 1 2483.8 0)"/><use href="#s" transform="matrix(109.1 0 0 1 525.89 0)"/><use href="#s" transform="matrix(-4541 0 0 1 -9774.1 0)"/><use href="#s" transform="matrix(79.72 0 0 1 494.3 0)"/><use href="#s" transform="matrix(46.82 0 0 1 432.9 0)"/><use href="#s" transform="matrix(60.09 0 0 1 449.97 0)"/><use href="#s" transform="matrix(98.12 0 0 1 590.19 0)"/><use href="#s" transform="matrix(-241.9 0 0 1 -1.5141 0)"/><use href="#s" transform="matrix(77.89 0 0 1 465.45 0)"/><use href="#s" transform="matrix(-114.8 0 0 1 155.37 0)"/><use href="#s" transform="matrix(2443 0 0 1 6017.8 0)"/><use href="#s" transform="matrix(50.36 0 0 1 429.27 0)"/><use href="#s" transform="matrix(121.5 0 0 1 523.46 0)"/><use href="#s" transform="matrix(114.8 0 0 1 508.49 0)"/><use href="#s" transform="matrix(-2071 0 0 1 -1965.3 0)"/><use href="#s" transform="matrix(35.18 0 0 1 406.99 0)"/><use href="#s" transform="matrix(42.58 0 0 1 385.55 0)"/><use href="#s" transform="matrix(210.3 0 0 1 666.21 0)"/><use href="#s" transform="matrix(65 0 0 1 464.79 0)"/><use href="#s" transform="matrix(193.4 0 0 1 683.51 0)"/><use href="#s" transform="matrix(88.25 0 0 1 494.55 0)"/><use href="#s" transform="matrix(140.3 0 0 1 416.78 0)"/><use href="#s" transform="matrix(133.8 0 0 1 423.9 0)"/><use href="#s" transform="matrix(70.74 0 0 1 542.37 0)"/><use href="#s" transform="matrix(59.77 0 0 1 484.5 0)"/><use href="#s" transform="matrix(40.97 0 0 1 395.66 0)"/><use href="#s" transform="matrix(79.17 0 0 1 454.93 0)"/><use href="#s" transform="matrix(66.11 0 0 1 430.52 0)"/><use href="#s" transform="matrix(75.86 0 0 1 479.22 0)"/><use href="#s" transform="matrix(225.3 0 0 1 653.34 0)"/><use href="#s" transform="matrix(-256.9 0 0 1 -98.301 0)"/><use href="#s" transform="matrix(2040 0 0 1 4619.8 0)"/><use href="#s" transform="matrix(-964.2 0 0 1 -2136.3 0)"/><use href="#s" transform="matrix(-1.187e+04 0 0 1 -25632 0)"/><use href="#s" transform="matrix(174.1 0 0 1 796.86 0)"/><use href="#s" transform="matrix(139.3 0 0 1 480.66 0)"/><use href="#s" transform="matrix(-147.1 0 0 1 56.44 0)"/><use href="#s" transform="matrix(68.68 0 0 1 486.14 0)"/><use href="#s" transform="matrix(-95.21 0 0 1 178.69 0)"/><use href="#s" transform="matrix(51.25 0 0 1 389.51 0)"/><use href="#s" transform="matrix(1.465e+05 0 0 1 2.175e+05 0)"/><use href="#s" transform="matrix(118 0 0 1 535.03 0)"/><use href="#s" transform="matrix(60.5 0 0 1 417.88 0)"/><use href="#s" transform="matrix(300.6 0 0 1 748.79 0)"/><use href="#s" transform="matrix(75.11 0 0 1 509.26 0)"/><use href="#s" transform="matrix(103 0 0 1 525.36 0)"/><use href="#s" transform="matrix(60.57 0 0 1 475.42 0)"/><use href="#s" transform="matrix(483.2 0 0 1 1130.6 0)"/><use href="#s" transform="matrix(59.62 0 0 1 418.45 0)"/><use href="#s" transform="matrix(67.89 0 0 1 444.35 0)"/><use href="#s" transform="matrix(89.49 0 0 1 516.25 0)"/><use href="#s" transform="matrix(97.9 0 0 1 434.13 0)"/><use href="#s" transform="matrix(167 0 0 1 603.23 0)"/><use href="#s" transform="matrix(191.1 0 0 1 735.84 0)"/><use href="#s" transform="matrix(104.7 0 0 1 551.07 0)"/><use href="#s" transform="matrix(438.2 0 0 1 622.8 0)"/><use href="#s" transform="matrix(-108.2 0 0 1 168.89 0)"/><use href="#s" transform="matrix(89.52 0 0 1 566.5 0)"/><use href="#s" transform="matrix(249.8 0 0 1 559.31 0)"/><use href="#s" transform="matrix(-393.1 0 0 1 -410.24 0)"/><use href="#s" transform="matrix(129 0 0 1 523.11 0)"/><use href="#s" transform="matrix(-466.2 0 0 1 -578.24 0)"/><use href="#s" transform="matrix(65.49 0 0 1 497.64 0)"/><use href="#s" transform="matrix(-488.6 0 0 1 53.634 0)"/><use href="#s" transform="matrix(1260 0 0 1 1070.6 0)"/><use href="#s" transform="matrix(437.4 0 0 1 1220.1 0)"/><use href="#s" transform="matrix(-254 0 0 1 -282.57 0)"/><use href="#s" transform="matrix(-171.2 0 0 1 -80.149 0)"/><use href="#s" transform="matrix(39.4 0 0 1 385.3 0)"/><use href="#s" transform="matrix(-205.4 0 0 1 -80.254 0)"/><use href="#s" transform="matrix(654.3 0 0 1 1737.5 0)"/><use href="#s" transform="matrix(343.5 0 0 1 1380.7 0)"/><use href="#s" transform="matrix(60.52 0 0 1 435.51 0)"/><use href="#s" transform="matrix(69.64 0 0 1 470.5 0)"/><use href="#s" transform="matrix(67.67 0 0 1 462.36 0)"/><use href="#s" transform="matrix(938.2 0 0 1 2654.7 0)"/><use href="#s" transform="matrix(106.7 0 0 1 451.34 0)"/><use href="#s" transform="matrix(234.3 0 0 1 887.27 0)"/><use href="#s" transform="matrix(48.14 0 0 1 445.44 0)"/><use href="#s" transform="matrix(1467 0 0 1 1766.3 0)"/><use href="#s" transform="matrix(-769.4 0 0 1 -1866.7 0)"/><use href="#s" transform="matrix(1811 0 0 1 2113.4 0)"/><use href="#s" transform="matrix(6007 0 0 1 12350 0)"/><use href="#s" transform="matrix(63.48 0 0 1 384.32 0)"/><use href="#s" transform="matrix(351.1 0 0 1 1336 0)"/><use href="#s" transform="matrix(197.1 0 0 1 695.79 0)"/><use href="#s" transform="matrix(133.1 0 0 1 618.33 0)"/><use href="#s" transform="matrix(572.8 0 0 1 1581.9 0)"/><use href="#s" transform="matrix(1.165e+04 0 0 1 21362 0)"/><use href="#s" transform="matrix(109 0 0 1 556.57 0)"/><use href="#s" transform="matrix(193.5 0 0 1 562.74 0)"/><use href="#s" transform="matrix(92.54 0 0 1 593.71 0)"/><use href="#s" transform="matrix(91.52 0 0 1 570.65 0)"/><use href="#s" transform="matrix(184.3 0 0 1 613.51 0)"/><use href="#s" transform="matrix(-532.2 0 0 1 -664.56 0)"/><use href="#s" transform="matrix(1097 0 0 1 1679.1 0)"/><use href="#s" transform="matrix(1968 0 0 1 2066.7 0)"/><use href="#s" transform="matrix(98.92 0 0 1 454.2 0)"/><use href="#s" transform="matrix(143.2 0 0 1 495.97 0)"/><use href="#s" transform="matrix(117.3 0 0 1 507.26 0)"/><use href="#s" transform="matrix(91.18 0 0 1 463.21 0)"/><use href="#s" transform="matrix(463.1 0 0 1 1340.5 0)"/><use href="#s" transform="matrix(82.51 0 0 1 447.62 0)"/><use href="#s" transform="matrix(134.9 0 0 1 642.74 0)"/><use href="#s" transform="matrix(141.3 0 0 1 606.12 0)"/><use href="#s" transform="matrix(1413 0 0 1 2399.5 0)"/><use href="#s" transform="matrix(124.9 0 0 1 494.45 0)"/><use href="#s" transform="matrix(-381.6 0 0 1 -182.7 0)"/><use href="#s" transform="matrix(80.13 0 0 1 485.96 0)"/><use href="#s" transform="matrix(154 0 0 1 665.31 0)"/><use href="#s" transform="matrix(616.1 0 0 1 1399.5 0)"/><use href="#s" transform="matrix(73.71 0 0 1 495.72 0)"/><use href="#s" transform="matrix(186.5 0 0 1 842.92 0)"/><use href="#s" transform="matrix(101.8 0 0 1 443.16 0)"/><use href="#s" transform="matrix(288.4 0 0 1 993.73 0)"/><use href="#s" transform="matrix(-5060 0 0 1 -7095 0)"/><use href="#s" transform="matrix(80.52 0 0 1 445.79 0)"/><use href="#s" transform="matrix(-1.024e+04 0 0 1 -26650 0)"/><use href="#s" transform="matrix(59.18 0 0 1 463.32 0)"/><use href="#s" transform="matrix(542.9 0 0 1 909.97 0)"/><use href="#s" transform="matrix(122.9 0 0 1 556.56 0)"/><use href="#s" transform="matrix(77.92 0 0 1 512.62 0)"/><use href="#s" transform="matrix(141.3 0 0 1 768.81 0)"/><use href="#s" transform="matrix(47.48 0 0 1 433.66 0)"/><use href="#s" transform="matrix(83.63 0 0 1 492.93 0)"/><use href="#s" transform="matrix(225 0 0 1 533.72 0)"/><use href="#s" transform="matrix(62.93 0 0 1 469.29 0)"/><use href="#s" transform="matrix(95.52 0 0 1 463.84 0)"/><use href="#s" transform="matrix(128.9 0 0 1 538.59 0)"/><use href="#s" transform="matrix(110.7 0 0 1 718.63 0)"/><use href="#s" transform="matrix(207.4 0 0 1 978.8 0)"/><use href="#s" transform="matrix(-171.8 0 0 1 7.3062 0)"/><use href="#s" transform="matrix(85.49 0 0 1 598.83 0)"/><use href="#s" transform="matrix(150.3 0 0 1 466.12 0)"/><use href="#s" transform="matrix(-615.4 0 0 1 -1121.7 0)"/><use href="#s" transform="matrix(86.02 0 0 1 585.77 0)"/><use href="#s" transform="matrix(450.2 0 0 1 635.12 0)"/><use href="#s" transform="matrix(183.9 0 0 1 715.82 0)"/><use href="#s" transform="matrix(-739.5 0 0 1 -447.01 0)"/><use href="#s" transform="matrix(-641.3 0 0 1 -1071.7 0)"/><use href="#s" transform="matrix(82.44 0 0 1 520.81 0)"/><use href="#s" transform="matrix(-459.8 0 0 1 -322.09 0)"/><use href="#s" transform="matrix(-190.9 0 0 1 111.78 0)"/><use href="#s" transform="matrix(-633.9 0 0 1 -461.71 0)"/><use href="#s" transform="matrix(66.39 0 0 1 497.43 0)"/><use href="#s" transform="matrix(112.7 0 0 1 469.3 0)"/><use href="#s" transform="matrix(201 0 0 1 950.08 0)"/><use href="#s" transform="matrix(78.13 0 0 1 496.84 0)"/><use href="#s" transform="matrix(-143.5 0 0 1 113.6 0)"/><use href="#s" transform="matrix(300.6 0 0 1 1326.4 0)"/><use href="#s" transform="matrix(-148.5 0 0 1 202.04 0)"/><use href="#s" transform="matrix(70.89 0 0 1 526.45 0)"/><use href="#s" transform="matrix(78.86 0 0 1 544.62 0)"/><use href="#s" transform="matrix(182.3 0 0 1 570.13 0)"/><use href="#s" transform="matrix(-360.5 0 0 1 -625.05 0)"/><use href="#s" transform="matrix(68.55 0 0 1 440.66 0)"/><use href="#s" transform="matrix(62.04 0 0 1 471.01 0)"/><use href="#s" transform="matrix(143.9 0 0 1 510.39 0)"/><use href="#s" transform="matrix(-273.3 0 0 1 -298.92 0)"/><use href="#s" transform="matrix(99.76 0 0 1 511.14 0)"/><use href="#s" transform="matrix(131.4 0 0 1 677.03 0)"/><use href="#s" transform="matrix(98.97 0 0 1 624.75 0)"/><use href="#s" transform="matrix(134.2 0 0 1 583.91 0)"/><use href="#s" transform="matrix(166.8 0 0 1 913.68 0)"/><use href="#s" transform="matrix(62.74 0 0 1 457.12 0)"/><use href="#s" transform="matrix(109.2 0 0 1 463.78 0)"/><use href="#s" transform="matrix(127.1 0 0 1 488.2 0)"/><use href="#s" transform="matrix(62.06 0 0 1 440.76 0)"/><use href="#s" transform="matrix(166.1 0 0 1 923.55 0)"/><use href="#s" transform="matrix(375.6 0 0 1 952.87 0)"/><use href="#s" transform="matrix(1206 0 0 1 2097.2 0)"/><use href="#s" transform="matrix(-654.9 0 0 1 -1198.7 0)"/><use href="#s" transform="matrix(197.1 0 0 1 502.3 0)"/><use href="#s" transform="matrix(72.74 0 0 1 374.17 0)"/><use href="#s" transform="matrix(144.5 0 0 1 799.85 0)"/><use href="#s" transform="matrix(87.46 0 0 1 493.52 0)"/><use href="#s" transform="matrix(95.52 0 0 1 537.57 0)"/><use href="#s" transform="matrix(869.6 0 0 1 1126.7 0)"/><use href="#s" transform="matrix(352.6 0 0 1 745.05 0)"/><use href="#s" transform="matrix(98.15 0 0 1 488.53 0)"/><use href="#s" transform="matrix(3254 0 0 1 6080.9 0)"/><use href="#s" transform="matrix(1944 0 0 1 3200.3 0)"/><use href="#s" transform="matrix(53.29 0 0 1 431.72 0)"/><use href="#s" transform="matrix(117.4 0 0 1 563.28 0)"/><use href="#s" transform="matrix(125.7 0 0 1 573.48 0)"/><use href="#s" transform="matrix(-1573 0 0 1 -3963.6 0)"/><use href="#s" transform="matrix(86.95 0 0 1 500.19 0)"/><use href="#s" transform="matrix(107.8 0 0 1 498.07 0)"/><use href="#s" transform="matrix(66.14 0 0 1 500.93 0)"/><use href="#s" transform="matrix(48.6 0 0 1 436.88 0)"/><use href="#s" transform="matrix(-131.6 0 0 1 63.669 0)"/><use href="#s" transform="matrix(214.2 0 0 1 489.1 0)"/><use href="#s" transform="matrix(-92.23 0 0 1 200.14 0)"/><use href="#s" transform="matrix(139 0 0 1 786.46 0)"/><use href="#s" transform="matrix(-177.8 0 0 1 -74.737 0)"/><use href="#s" transform="matrix(63.65 0 0 1 470.72 0)"/><use href="#s" transform="matrix(109.8 0 0 1 582.53 0)"/><use href="#s" transform="matrix(190.7 0 0 1 753.12 0)"/><use href="#s" transform="matrix(176.1 0 0 1 615.66 0)"/><use href="#s" transform="matrix(-144.4 0 0 1 14.264 0)"/><use href="#s" transform="matrix(95.64 0 0 1 645.18 0)"/><use href="#s" transform="matrix(86.9 0 0 1 523.71 0)"/><use href="#s" transform="matrix(-462.7 0 0 1 -344.95 0)"/><use href="#s" transform="matrix(164.9 0 0 1 634.22 0)"/><use href="#s" transform="matrix(205.7 0 0 1 1017.4 0)"/><use href="#s" transform="matrix(75.6 0 0 1 518.86 0)"/><use href="#s" transform="matrix(112.5 0 0 1 619.35 0)"/><use href="#s" transform="matrix(290.8 0 0 1 683.01 0)"/><use href="#s" transform="matrix(153 0 0 1 407.69 0)"/><use href="#s" transform="matrix(77.07 0 0 1 530.99 0)"/><use href="#s" transform="matrix(3283 0 0 1 6358.6 0)"/><use href="#s" transform="matrix(93.86 0 0 1 516.57 0)"/><use href="#s" transform="matrix(-269 0 0 1 -210.35 0)"/><use href="#s" transform="matrix(62.7 0 0 1 432.84 0)"/><use href="#s" transform="matrix(80.3 0 0 1 543.17 0)"/><use href="#s" transform="matrix(96.65 0 0 1 557.63 0)"/><use href="#s" transform="matrix(76.56 0 0 1 499.15 0)"/><use href="#s" transform="matrix(-118.7 0 0 1 147.39 0)"/><use href="#s" transform="matrix(94.55 0 0 1 561.17 0)"/><use href="#s" transform="matrix(370.7 0 0 1 949.18 0)"/><use href="#s" transform="matrix(47.14 0 0 1 421.04 0)"/><use href="#s" transform="matrix(57.43 0 0 1 443.84 0)"/><use href="#s" transform="matrix(69.94 0 0 1 421.8 0)"/><use href="#s" transform="matrix(99.2 0 0 1 558.48 0)"/><use href="#s" transform="matrix(-2094 0 0 1 -1321.5 0)"/><use href="#s" transform="matrix(175.3 0 0 1 475.61 0)"/><use href="#s" transform="matrix(136 0 0 1 731.54 0)"/><use href="#s" transform="matrix(-458.1 0 0 1 -580.25 0)"/><use href="#s" transform="matrix(138.3 0 0 1 417.14 0)"/><use href="#s" transform="matrix(64.95 0 0 1 494.98 0)"/><use href="#s" transform="matrix(86.21 0 0 1 507.75 0)"/><use href="#s" transform="matrix(-99.39 0 0 1 168.94 0)"/><use href="#s" transform="matrix(127 0 0 1 669.14 0)"/><use href="#s" transform="matrix(1863 0 0 1 3554.2 0)"/><use href="#s" transform="matrix(467.6 0 0 1 1397.8 0)"/><use href="#s" transform="matrix(127.3 0 0 1 548.95 0)"/><use href="#s" transform="matrix(187.4 0 0 1 895 0)"/><use href="#s" transform="matrix(-1323 0 0 1 -2896.9 0)"/><use href="#s" transform="matrix(54.83 0 0 1 424.11 0)"/><use href="#s" transform="matrix(603.6 0 0 1 808.63 0)"/><use href="#s" transform="matrix(-282.7 0 0 1 -221.99 0)"/><use href="#s" transform="matrix(62.12 0 0 1 411.88 0)"/><use href="#s" transform="matrix(99.56 0 0 1 507.51 0)"/><use href="#s" transform="matrix(177.7 0 0 1 577.95 0)"/><use href="#s" transform="matrix(342.2 0 0 1 1513.3 0)"/><use href="#s" transform="matrix(51.19 0 0 1 442.01 0)"/><use href="#s" transform="matrix(76.74 0 0 1 519.87 0)"/><use href="#s" transform="matrix(57.43 0 0 1 451.5 0)"/><use href="#s" transform="matrix(44.53 0 0 1 436.14 0)"/><use href="#s" transform="matrix(-259.3 0 0 1 -211.05 0)"/><use href="#s" transform="matrix(54.24 0 0 1 424.78 0)"/><use href="#s" transform="matrix(185.3 0 0 1 499.06 0)"/><use href="#s" transform="matrix(112.5 0 0 1 549.39 0)"/><use href="#s" transform="matrix(-526.9 0 0 1 -1144.1 0)"/><use href="#s" transform="matrix(70.25 0 0 1 409.85 0)"/><use href="#s" transform="matrix(140.1 0 0 1 545.97 0)"/><use href="#s" transform="matrix(82.2 0 0 1 488.3 0)"/><use href="#s" transform="matrix(-279.2 0 0 1 -233.61 0)"/><use href="#s" transform="matrix(222.9 0 0 1 544.48 0)"/><use href="#s" transform="matrix(77.87 0 0 1 489.17 0)"/><use href="#s" transform="matrix(121.9 0 0 1 417.96 0)"/><use href="#s" transform="matrix(499.2 0 0 1 1533.6 0)"/><use href="#s" transform="matrix(-120 0 0 1 86.201 0)"/><use href="#s" transform="matrix(287.6 0 0 1 958.7 0)"/><use href="#s" transform="matrix(418.1 0 0 1 1404.4 0)"/><use href="#s" transform="matrix(132.4 0 0 1 547.08 0)"/><use href="#s" transform="matrix(84.39 0 0 1 557.67 0)"/><use href="#s" transform="matrix(63.63 0 0 1 504.31 0)"/><use href="#s" transform="matrix(72.15 0 0 1 445.25 0)"/><use href="#s" transform="matrix(60.14 0 0 1 428.31 0)"/><use href="#s" transform="matrix(74.48 0 0 1 524.36 0)"/><use href="#s" transform="matrix(-88.09 0 0 1 213.95 0)"/><use href="#s" transform="matrix(178 0 0 1 623.94 0)"/><use href="#s" transform="matrix(103 0 0 1 585.51 0)"/><use href="#s" transform="matrix(219.7 0 0 1 685.53 0)"/><use href="#s" transform="matrix(255.5 0 0 1 746.58 0)"/><use href="#s" transform="matrix(108.4 0 0 1 567.27 0)"/><use href="#s" transform="matrix(-396.9 0 0 1 -745.43 0)"/><use href="#s" transform="matrix(56.05 0 0 1 484.57 0)"/><use href="#s" transform="matrix(113.7 0 0 1 515.88 0)"/><use href="#s" transform="matrix(1101 0 0 1 1175.5 0)"/><use href="#s" transform="matrix(863 0 0 1 1409.6 0)"/><use href="#s" transform="matrix(152.4 0 0 1 488.3 0)"/><use href="#s" transform="matrix(1988 0 0 1 6026.4 0)"/><use href="#s" transform="matrix(85.74 0 0 1 560.16 0)"/><use href="#s" transform="matrix(171.6 0 0 1 539.33 0)"/><use href="#s" transform="matrix(404.2 0 0 1 1108.8 0)"/><use href="#s" transform="matrix(131.6 0 0 1 606.31 0)"/><use href="#s" transform="matrix(72.96 0 0 1 466.08 0)"/><use href="#s" transform="matrix(664 0 0 1 1267.7 0)"/><use href="#s" transform="matrix(-456.4 0 0 1 -536.09 0)"/><use href="#s" transform="matrix(168.6 0 0 1 742.91 0)"/><use href="#s" transform="matrix(103.2 0 0 1 526.17 0)"/><use href="#s" transform="matrix(146.8 0 0 1 810.78 0)"/><use href="#s" transform="matrix(79.29 0 0 1 542.83 0)"/><use href="#s" transform="matrix(667 0 0 1 1492.9 0)"/><use href="#s" transform="matrix(102.7 0 0 1 558.54 0)"/><use href="#s" transform="matrix(65.08 0 0 1 479.24 0)"/><use href="#s" transform="matrix(106.6 0 0 1 496.54 0)"/><use href="#s" transform="matrix(631.6 0 0 1 1041.2 0)"/><use href="#s" transform="matrix(77.9 0 0 1 517.88 0)"/><use href="#s" transform="matrix(78.88 0 0 1 482.36 0)"/><use href="#s" transform="matrix(360 0 0 1 1203.4 0)"/><use href="#s" transform="matrix(-625.3 0 0 1 -54.222 0)"/><use href="#s" transform="matrix(-171.5 0 0 1 28.608 0)"/><use href="#s" transform="matrix(85.31 0 0 1 452.35 0)"/><use href="#s" transform="matrix(71.83 0 0 1 526.96 0)"/><use href="#s" transform="matrix(-196 0 0 1 -51.515 0)"/><use href="#s" transform="matrix(956.3 0 0 1 2019.7 0)"/><use href="#s" transform="matrix(84.04 0 0 1 485.74 0)"/><use href="#s" transform="matrix(78.86 0 0 1 514.07 0)"/><use href="#s" transform="matrix(-1.267e+04 0 0 1 -34749 0)"/><use href="#s" transform="matrix(44.64 0 0 1 436.54 0)"/><use href="#s" transform="matrix(94.56 0 0 1 529.53 0)"/><use href="#s" transform="matrix(85.9 0 0 1 511.96 0)"/><use href="#s" transform="matrix(104.8 0 0 1 608.85 0)"/><use href="#s" transform="matrix(324.3 0 0 1 1131.5 0)"/><use href="#s" transform="matrix(194.2 0 0 1 974.79 0)"/><use href="#s" transform="matrix(359.9 0 0 1 754.53 0)"/><use href="#s" transform="matrix(125.6 0 0 1 586.86 0)"/><use href="#s" transform="matrix(91.2 0 0 1 583.5 0)"/><use href="#s" transform="matrix(137.6 0 0 1 501.7 0)"/><use href="#s" transform="matrix(158 0 0 1 564.92 0)"/><use href="#s" transform="matrix(397.5 0 0 1 1393 0)"/><use href="#s" transform="matrix(97.55 0 0 1 612.35 0)"/><use href="#s" transform="matrix(76.67 0 0 1 458.23 0)"/><use href="#s" transform="matrix(-263.6 0 0 1 -234.11 0)"/><use href="#s" transform="matrix(72.95 0 0 1 402.99 0)"/><use href="#s" transform="matrix(-1386 0 0 1 -1841.4 0)"/><use href="#s" transform="matrix(68.6 0 0 1 382.54 0)"/><use href="#s" transform="matrix(61.38 0 0 1 491.96 0)"/><use href="#s" transform="matrix(-364.7 0 0 1 -541.48 0)"/><use href="#s" transform="matrix(57.32 0 0 1 489.7 0)"/><use href="#s" transform="matrix(290.8 0 0 1 706.3 0)"/><use href="#s" transform="matrix(381.7 0 0 1 1030.2 0)"/><use href="#s" transform="matrix(295.9 0 0 1 718.36 0)"/><use href="#s" transform="matrix(128.3 0 0 1 570.61 0)"/><use href="#s" transform="matrix(-198.2 0 0 1 -192.86 0)"/><use href="#s" transform="matrix(71.74 0 0 1 479.08 0)"/><use href="#s" transform="matrix(76.08 0 0 1 574.65 0)"/><use href="#s" transform="matrix(114.3 0 0 1 564 0)"/><use href="#s" transform="matrix(1034 0 0 1 767.77 0)"/><use href="#s" transform="matrix(648.7 0 0 1 1060.1 0)"/><use href="#s" transform="matrix(2873 0 0 1 7619.6 0)"/><use href="#s" transform="matrix(101.5 0 0 1 481.73 0)"/><use href="#s" transform="matrix(309.3 0 0 1 874.87 0)"/><use href="#s" transform="matrix(84.26 0 0 1 517.39 0)"/><use href="#s" transform="matrix(400.5 0 0 1 1213.6 0)"/><use href="#s" transform="matrix(204.8 0 0 1 690.06 0)"/><use href="#s" transform="matrix(334.8 0 0 1 1215 0)"/><use href="#s" transform="matrix(80.22 0 0 1 428.5 0)"/><use href="#s" transform="matrix(-179.2 0 0 1 49.603 0)"/><use href="#s" transform="matrix(123.8 0 0 1 471.72 0)"/><use href="#s" transform="matrix(-226 0 0 1 -198.22 0)"/><use href="#s" transform="matrix(102.1 0 0 1 528.5 0)"/><use href="#s" transform="matrix(449.9 0 0 1 1033.8 0)"/><use href="#s" transform="matrix(66.78 0 0 1 463.07 0)"/><use href="#s" transform="matrix(82.63 0 0 1 515.77 0)"/><use href="#s" transform="matrix(88.01 0 0 1 379.86 0)"/><use href="#s" transform="matrix(44.83 0 0 1 393.74 0)"/><use href="#s" transform="matrix(103.9 0 0 1 635.12 0)"/><use href="#s" transform="matrix(147.8 0 0 1 506.53 0)"/><use href="#s" transform="matrix(-408 0 0 1 -415.38 0)"/><use href="#s" transform="matrix(-225.4 0 0 1 -26.845 0)"/><use href="#s" transform="matrix(130 0 0 1 588.14 0)"/><use href="#s" transform="matrix(160.5 0 0 1 484.13 0)"/><use href="#s" transform="matrix(87.73 0 0 1 488.17 0)"/><use href="#s" transform="matrix(88.51 0 0 1 562.99 0)"/><use href="#s" transform="matrix(72.66 0 0 1 454.44 0)"/><use href="#s" transform="matrix(-512.8 0 0 1 -797.76 0)"/><use href="#s" transform="matrix(154.4 0 0 1 787.55 0)"/><use href="#s" transform="matrix(124.5 0 0 1 583.43 0)"/><use href="#s" transform="matrix(-240.7 0 0 1 -229.03 0)"/><use href="#s" transform="matrix(62.44 0 0 1 442.92 0)"/><use href="#s" transform="matrix(158 0 0 1 627.03 0)"/><use href="#s" transform="matrix(183.5 0 0 1 702.45 0)"/><use href="#s" transform="matrix(71.88 0 0 1 493.91 0)"/><use href="#s" transform="matrix(-332.4 0 0 1 -393.42 0)"/><use href="#s" transform="matrix(235.4 0 0 1 696.21 0)"/><use href="#s" transform="matrix(172.8 0 0 1 930.36 0)"/><use href="#s" transform="matrix(101.5 0 0 1 571.72 0)"/><use href="#s" transform="matrix(229 0 0 1 635.4 0)"/><use href="#s" transform="matrix(79.44 0 0 1 424.5 0)"/><use href="#s" transform="matrix(66.23 0 0 1 521.65 0)"/><use href="#s" transform="matrix(79.11 0 0 1 438.43 0)"/><use href="#s" transform="matrix(882.4 0 0 1 1237.7 0)"/><use href="#s" transform="matrix(-150.9 0 0 1 44.374 0)"/><use href="#s" transform="matrix(134.6 0 0 1 490.38 0)"/><use href="#s" transform="matrix(116.5 0 0 1 551.49 0)"/><use href="#s" transform="matrix(321.2 0 0 1 982.03 0)"/><use href="#s" transform="matrix(56.5 0 0 1 462.15 0)"/><use href="#s" transform="matrix(-4.06e+04 0 0 1 -91487 0)"/><use href="#s" transform="matrix(-268.3 0 0 1 121.91 0)"/><use href="#s" transform="matrix(91.38 0 0 1 483.23 0)"/><use href="#s" transform="matrix(61.77 0 0 1 467.07 0)"/><use href="#s" transform="matrix(2093 0 0 1 4055.1 0)"/><use href="#s" transform="matrix(58.13 0 0 1 494.41 0)"/><use href="#s" transform="matrix(-859 0 0 1 -220.15 0)"/><use href="#s" transform="matrix(135.1 0 0 1 505.96 0)"/><use href="#s" transform="matrix(139.4 0 0 1 623.73 0)"/><use href="#s" transform="matrix(-475 0 0 1 -962.96 0)"/><use href="#s" transform="matrix(107.7 0 0 1 608.32 0)"/><use href="#s" transform="matrix(73.21 0 0 1 431.26 0)"/><use href="#s" transform="matrix(780.6 0 0 1 2007.8 0)"/><use href="#s" transform="matrix(79.39 0 0 1 554.58 0)"/><use href="#s" transform="matrix(154.4 0 0 1 486.99 0)"/><use href="#s" transform="matrix(132 0 0 1 615.33 0)"/><use href="#s" transform="matrix(199.7 0 0 1 926.94 0)"/><use href="#s" transform="matrix(349.6 0 0 1 773.59 0)"/><use href="#s" transform="matrix(377.7 0 0 1 875.98 0)"/><use href="#s" transform="matrix(250.5 0 0 1 970.81 0)"/><use href="#s" transform="matrix(105.4 0 0 1 574.75 0)"/><use href="#s" transform="matrix(-139.3 0 0 1 94.136 0)"/><use href="#s" transform="matrix(-3235 0 0 1 -8189.5 0)"/><use href="#s" transform="matrix(-616.4 0 0 1 -998.13 0)"/><use href="#s" transform="matrix(1.187e+04 0 0 1 13082 0)"/><use href="#s" transform="matrix(75.75 0 0 1 527.33 0)"/><use href="#s" transform="matrix(104.5 0 0 1 639.73 0)"/><use href="#s" transform="matrix(59.83 0 0 1 454.89 0)"/><use href="#s" transform="matrix(76.3 0 0 1 485.5 0)"/><use href="#s" transform="matrix(133.5 0 0 1 568.27 0)"/><use href="#s" transform="matrix(127.1 0 0 1 448.72 0)"/><use href="#s" transform="matrix(61.57 0 0 1 435.58 0)"/><use href="#s" transform="matrix(303.6 0 0 1 540.55 0)"/><use href="#s" transform="matrix(419.9 0 0 1 1128.3 0)"/><use href="#s" transform="matrix(51.31 0 0 1 466 0)"/><use href="#s" transform="matrix(77.14 0 0 1 447.76 0)"/><use href="#s" transform="matrix(170 0 0 1 545.12 0)"/><use href="#s" transform="matrix(609.5 0 0 1 1040.8 0)"/><use href="#s" transform="matrix(81.16 0 0 1 507.77 0)"/><use href="#s" transform="matrix(105.7 0 0 1 518.18 0)"/><use href="#s" transform="matrix(-80.08 0 0 1 227.91 0)"/><use href="#s" transform="matrix(73.29 0 0 1 426.31 0)"/><use href="#s" transform="matrix(81.4 0 0 1 523.87 0)"/><use href="#s" transform="matrix(43.3 0 0 1 425.05 0)"/><use href="#s" transform="matrix(100.4 0 0 1 536.84 0)"/><use href="#s" transform="matrix(1.667e+05 0 0 1 3.1495e+05 0)"/><use href="#s" transform="matrix(59.45 0 0 1 466.38 0)"/><use href="#s" transform="matrix(648.1 0 0 1 964.24 0)"/><use href="#s" transform="matrix(65.49 0 0 1 464.17 0)"/><use href="#s" transform="matrix(84.18 0 0 1 584.95 0)"/><use href="#s" transform="matrix(811.4 0 0 1 1604 0)"/><use href="#s" transform="matrix(424.6 0 0 1 1196 0)"/><use href="#s" transform="matrix(277.7 0 0 1 945.56 0)"/><use href="#s" transform="matrix(305.8 0 0 1 612.87 0)"/><use href="#s" transform="matrix(631.2 0 0 1 2016.6 0)"/><use href="#s" transform="matrix(210.2 0 0 1 606.97 0)"/><use href="#s" transform="matrix(66.8 0 0 1 453.73 0)"/><use href="#s" transform="matrix(-161 0 0 1 129.94 0)"/><use href="#s" transform="matrix(177 0 0 1 661.57 0)"/><use href="#s" transform="matrix(638.3 0 0 1 1661 0)"/><use href="#s" transform="matrix(555.1 0 0 1 1205.1 0)"/><use href="#s" transform="matrix(120.9 0 0 1 547.91 0)"/><use href="#s" transform="matrix(122.4 0 0 1 493.7 0)"/><use href="#s" transform="matrix(80.63 0 0 1 468.18 0)"/><use href="#s" transform="matrix(-2423 0 0 1 -3724.7 0)"/><use href="#s" transform="matrix(100.8 0 0 1 488.92 0)"/><use href="#s" transform="matrix(187.6 0 0 1 779.16 0)"/><use href="#s" transform="matrix(-269.8 0 0 1 -183.38 0)"/><use href="#s" transform="matrix(-511.7 0 0 1 -636.25 0)"/><use href="#s" transform="matrix(627.2 0 0 1 2267.8 0)"/><use href="#s" transform="matrix(113.8 0 0 1 554.38 0)"/><use href="#s" transform="matrix(248.6 0 0 1 1159.6 0)"/><use href="#s" transform="matrix(134.1 0 0 1 554.72 0)"/><use href="#s" transform="matrix(69.06 0 0 1 374.5 0)"/><use href="#s" transform="matrix(-122.7 0 0 1 215.06 0)"/><use href="#s" transform="matrix(-168.3 0 0 1 -52.409 0)"/><use href="#s" transform="matrix(267 0 0 1 614.11 0)"/><use href="#s" transform="matrix(-150.2 0 0 1 125.93 0)"/><use href="#s" transform="matrix(294.6 0 0 1 730.8 0)"/><use href="#s" transform="matrix(69.15 0 0 1 526.75 0)"/><use href="#s" transform="matrix(95.55 0 0 1 523.68 0)"/><use href="#s" transform="matrix(65.16 0 0 1 396.71 0)"/><use href="#s" transform="matrix(141.2 0 0 1 545.52 0)"/><use href="#s" transform="matrix(129.8 0 0 1 543.45 0)"/><use href="#s" transform="matrix(92.81 0 0 1 554.02 0)"/><use href="#s" transform="matrix(106.6 0 0 1 663.83 0)"/><use href="#s" transform="matrix(1046 0 0 1 2219 0)"/><use href="#s" transform="matrix(-177.5 0 0 1 64.565 0)"/><use href="#s" transform="matrix(73.94 0 0 1 467.95 0)"/><use href="#s" transform="matrix(278.4 0 0 1 747.65 0)"/><use href="#s" transform="matrix(77.28 0 0 1 480.59 0)"/><use href="#s" transform="matrix(106.2 0 0 1 519.51 0)"/><use href="#s" transform="matrix(50.38 0 0 1 410.65 0)"/><use href="#s" transform="matrix(345.7 0 0 1 780.67 0)"/><use href="#s" transform="matrix(67.74 0 0 1 479.37 0)"/><use href="#s" transform="matrix(427.8 0 0 1 1153.8 0)"/><use href="#s" transform="matrix(122.1 0 0 1 444.04 0)"/><use href="#s" transform="matrix(164.1 0 0 1 634.72 0)"/><use href="#s" transform="matrix(73.21 0 0 1 516.69 0)"/><use href="#s" transform="matrix(-261.6 0 0 1 -209.22 0)"/><use href="#s" transform="matrix(92.43 0 0 1 490.92 0)"/><use href="#s" transform="matrix(47.19 0 0 1 431.85 0)"/><use href="#s" transform="matrix(69.48 0 0 1 437.06 0)"/><use href="#s" transform="matrix(837.6 0 0 1 2330.5 0)"/><use href="#s" transform="matrix(116.7 0 0 1 466.74 0)"/><use href="#s" transform="matrix(205 0 0 1 813.41 0)"/><use href="#s" transform="matrix(-306.9 0 0 1 -370.93 0)"/><use href="#s" transform="matrix(-247 0 0 1 -136.6 0)"/><use href="#s" transform="matrix(47.05 0 0 1 446.67 0)"/><use href="#s" transform="matrix(984.7 0 0 1 1589.5 0)"/><use href="#s" transform="matrix(-862.8 0 0 1 -1600.5 0)"/><use href="#s" transform="matrix(70.5 0 0 1 493.06 0)"/><use href="#s" transform="matrix(119.8 0 0 1 521.82 0)"/><use href="#s" transform="matrix(1207 0 0 1 1833.6 0)"/><use href="#s" transform="matrix(75.59 0 0 1 487.15 0)"/><use href="#s" transform="matrix(130.5 0 0 1 626.05 0)"/><use href="#s" transform="matrix(147 0 0 1 428.45 0)"/><use href="#s" transform="matrix(238.5 0 0 1 496.65 0)"/><use href="#s" transform="matrix(-1104 0 0 1 -485.99 0)"/><use href="#s" transform="matrix(112.4 0 0 1 515.43 0)"/><use href="#s" transform="matrix(61.02 0 0 1 460.61 0)"/><use href="#s" transform="matrix(87.02 0 0 1 540.97 0)"/><use href="#s" transform="matrix(87.12 0 0 1 490.37 0)"/><use href="#s" transform="matrix(86.79 0 0 1 543.33 0)"/><use href="#s" transform="matrix(305.1 0 0 1 826.09 0)"/><use href="#s" transform="matrix(-102.8 0 0 1 159.36 0)"/><use href="#s" transform="matrix(247.3 0 0 1 1058.4 0)"/><use href="#s" transform="matrix(-166.6 0 0 1 109.31 0)"/><use href="#s" transform="matrix(82.42 0 0 1 522.81 0)"/><use href="#s" transform="matrix(45.03 0 0 1 401.07 0)"/><use href="#s" transform="matrix(147.3 0 0 1 774.47 0)"/><use href="#s" transform="matrix(1226 0 0 1 2181.4 0)"/><use href="#s" transform="matrix(-749 0 0 1 -1421.8 0)"/><use href="#s" transform="matrix(234 0 0 1 779.93 0)"/><use href="#s" transform="matrix(71.7 0 0 1 555.94 0)"/><use href="#s" transform="matrix(75.02 0 0 1 478.96 0)"/><use href="#s" transform="matrix(-276.1 0 0 1 -257.89 0)"/><use href="#s" transform="matrix(54.03 0 0 1 484.94 0)"/><use href="#s" transform="matrix(4095 0 0 1 3154.5 0)"/><use href="#s" transform="matrix(284.5 0 0 1 816.99 0)"/><use href="#s" transform="matrix(-147.8 0 0 1 90.421 0)"/><use href="#s" transform="matrix(1104 0 0 1 2993.8 0)"/><use href="#s" transform="matrix(667.5 0 0 1 1202.5 0)"/><use href="#s" transform="matrix(267 0 0 1 566.26 0)"/><use href="#s" transform="matrix(-354.9 0 0 1 125.45 0)"/><use href="#s" transform="matrix(153.1 0 0 1 753.22 0)"/><use href="#s" transform="matrix(-1.233e+04 0 0 1 -7323.2 0)"/><use href="#s" transform="matrix(217.2 0 0 1 959.45 0)"/><use href="#s" transform="matrix(102.2 0 0 1 479.97 0)"/><use href="#s" transform="matrix(46.15 0 0 1 389.59 0)"/><use href="#s" transform="matrix(281.3 0 0 1 922.27 0)"/><use href="#s" transform="matrix(50.21 0 0 1 457.97 0)"/><use href="#s" transform="matrix(780.2 0 0 1 2154 0)"/><use href="#s" transform="matrix(74.92 0 0 1 517.28 0)"/><use href="#s" transform="matrix(96.6 0 0 1 498.05 0)"/><use href="#s" transform="matrix(89.54 0 0 1 444.85 0)"/><use href="#s" transform="matrix(148 0 0 1 581.89 0)"/><use href="#s" transform="matrix(74.01 0 0 1 438.38 0)"/><use href="#s" transform="matrix(-124.6 0 0 1 149.21 0)"/><use href="#s" transform="matrix(255.7 0 0 1 744.75 0)"/><use href="#s" transform="matrix(249.1 0 0 1 674.55 0)"/><use href="#s" transform="matrix(781.8 0 0 1 1074.8 0)"/><use href="#s" transform="matrix(159.1 0 0 1 620.75 0)"/><use href="#s" transform="matrix(68.92 0 0 1 413.82 0)"/><use href="#s" transform="matrix(868.3 0 0 1 1614 0)"/><use href="#s" transform="matrix(77.76 0 0 1 457.76 0)"/><use href="#s" transform="matrix(319.9 0 0 1 617.67 0)"/><use href="#s" transform="matrix(52.35 0 0 1 415.28 0)"/><use href="#s" transform="matrix(155.3 0 0 1 633.4 0)"/><use href="#s" transform="matrix(91.5 0 0 1 479.5 0)"/><use href="#s" transform="matrix(89.3 0 0 1 489.4 0)"/><use href="#s" transform="matrix(-161 0 0 1 -70.554 0)"/><use href="#s" transform="matrix(88.65 0 0 1 501.08 0)"/><use href="#s" transform="matrix(47.8 0 0 1 456.73 0)"/><use href="#s" transform="matrix(119 0 0 1 409.22 0)"/><use href="#s" transform="matrix(624.1 0 0 1 1852.9 0)"/><use href="#s" transform="matrix(394.7 0 0 1 864.74 0)"/><use href="#s" transform="matrix(54.84 0 0 1 445.35 0)"/><use href="#s" transform="matrix(-291.3 0 0 1 -201.76 0)"/><use href="#s" transform="matrix(129.8 0 0 1 705.54 0)"/><use href="#s" transform="matrix(284 0 0 1 548.44 0)"/><use href="#s" transform="matrix(90.68 0 0 1 479.05 0)"/><use href="#s" transform="matrix(64.3 0 0 1 438 0)"/><use href="#s" transform="matrix(45.94 0 0 1 453.91 0)"/><use href="#s" transform="matrix(58.14 0 0 1 495.48 0)"/><use href="#s" transform="matrix(422.8 0 0 1 1382.9 0)"/><use href="#s" transform="matrix(168.2 0 0 1 736.77 0)"/><use href="#s" transform="matrix(94.42 0 0 1 533.26 0)"/><use href="#s" transform="matrix(84.77 0 0 1 498.47 0)"/><use href="#s" transform="matrix(317.5 0 0 1 700.79 0)"/><use href="#s" transform="matrix(75.62 0 0 1 466.89 0)"/><use href="#s" transform="matrix(237.1 0 0 1 879.82 0)"/><use href="#s" transform="matrix(120.6 0 0 1 621.25 0)"/><use href="#s" transform="matrix(247.3 0 0 1 1060.8 0)"/><use href="#s" transform="matrix(68.56 0 0 1 401.77 0)"/><use href="#s" transform="matrix(114.5 0 0 1 569.67 0)"/><use href="#s" transform="matrix(71.3 0 0 1 454.8 0)"/><use href="#s" transform="matrix(83.69 0 0 1 435.78 0)"/><use href="#s" transform="matrix(111.2 0 0 1 511.59 0)"/><use href="#s" transform="matrix(327.3 0 0 1 767.48 0)"/><use href="#s" transform="matrix(1036 0 0 1 1875.2 0)"/><use href="#s" transform="matrix(82.56 0 0 1 550.82 0)"/><use href="#s" transform="matrix(855.6 0 0 1 2773.4 0)"/><use href="#s" transform="matrix(-3521 0 0 1 -4491.6 0)"/><use href="#s" transform="matrix(76.32 0 0 1 467.71 0)"/><use href="#s" transform="matrix(167 0 0 1 547.72 0)"/><use href="#s" transform="matrix(62.61 0 0 1 461.83 0)"/><use href="#s" transform="matrix(49.49 0 0 1 464.34 0)"/><use href="#s" transform="matrix(50.93 0 0 1 467.64 0)"/><use href="#s" transform="matrix(85.33 0 0 1 515.18 0)"/><use href="#s" transform="matrix(93.3 0 0 1 514.78 0)"/><use href="#s" transform="matrix(349.3 0 0 1 451.72 0)"/><use href="#s" transform="matrix(528 0 0 1 1081.4 0)"/><use href="#s" transform="matrix(-196.5 0 0 1 -34.663 0)"/><use href="#s" transform="matrix(142.1 0 0 1 469.3 0)"/><use href="#s" transform="matrix(66.78 0 0 1 508.22 0)"/><use href="#s" transform="matrix(81.96 0 0 1 447.3 0)"/><use href="#s" transform="matrix(281.8 0 0 1 911.53 0)"/><use href="#s" transform="matrix(-89.92 0 0 1 212.57 0)"/><use href="#s" transform="matrix(101.3 0 0 1 558.43 0)"/><use href="#s" transform="matrix(103.9 0 0 1 630.06 0)"/><use href="#s" transform="matrix(2807 0 0 1 6156.3 0)"/><use href="#s" transform="matrix(65.65 0 0 1 426.72 0)"/><use href="#s" transform="matrix(121.5 0 0 1 525.3 0)"/><use href="#s" transform="matrix(-513.1 0 0 1 -726.87 0)"/><use href="#s" transform="matrix(-281.5 0 0 1 -293.38 0)"/><use href="#s" transform="matrix(100.8 0 0 1 549.39 0)"/><use href="#s" transform="matrix(81.48 0 0 1 481.76 0)"/><use href="#s" transform="matrix(-6324 0 0 1 -2925.5 0)"/><use href="#s" transform="matrix(63.13 0 0 1 445.25 0)"/><use href="#s" transform="matrix(156.2 0 0 1 539.48 0)"/><use href="#s" transform="matrix(68.5 0 0 1 483.7 0)"/><use href="#s" transform="matrix(247.1 0 0 1 1151.3 0)"/><use href="#s" transform="matrix(114.3 0 0 1 428.14 0)"/><use href="#s" transform="matrix(376.8 0 0 1 1010.3 0)"/><use href="#s" transform="matrix(180.8 0 0 1 459.34 0)"/><use href="#s" transform="matrix(-125.2 0 0 1 124.31 0)"/><use href="#s" transform="matrix(-3636 0 0 1 -6574.2 0)"/><use href="#s" transform="matrix(61.4 0 0 1 444.59 0)"/><use href="#s" transform="matrix(-112.6 0 0 1 200.82 0)"/><use href="#s" transform="matrix(134.2 0 0 1 544.45 0)"/><use href="#s" transform="matrix(-312.8 0 0 1 104.7 0)"/><use href="#s" transform="matrix(89.55 0 0 1 403.14 0)"/><use href="#s" transform="matrix(234.3 0 0 1 567.39 0)"/><use href="#s" transform="matrix(103.6 0 0 1 429.07 0)"/><use href="#s" transform="matrix(226.4 0 0 1 642.31 0)"/><use href="#s" transform="matrix(-358.2 0 0 1 -514.29 0)"/><use href="#s" transform="matrix(141.5 0 0 1 334.97 0)"/><use href="#s" transform="matrix(141.1 0 0 1 672.19 0)"/><use href="#s" transform="matrix(69.75 0 0 1 508.38 0)"/><use href="#s" transform="matrix(197.9 0 0 1 619.55 0)"/><use href="#s" transform="matrix(-7258 0 0 1 -18582 0)"/><use href="#s" transform="matrix(190.6 0 0 1 494.11 0)"/><use href="#s" transform="matrix(202.1 0 0 1 709.93 0)"/><use href="#s" transform="matrix(-104.7 0 0 1 165.27 0)"/><use href="#s" transform="matrix(-270.4 0 0 1 -245.05 0)"/><use href="#s" transform="matrix(-632.1 0 0 1 -1440.6 0)"/><use href="#s" transform="matrix(382.1 0 0 1 1149.3 0)"/><use href="#s" transform="matrix(449.9 0 0 1 903.97 0)"/><use href="#s" transform="matrix(370.4 0 0 1 1223.6 0)"/><use href="#s" transform="matrix(96.2 0 0 1 539.93 0)"/><use href="#s" transform="matrix(202.6 0 0 1 713.1 0)"/><use href="#s" transform="matrix(136.6 0 0 1 511.65 0)"/><use href="#s" transform="matrix(997.7 0 0 1 1285.6 0)"/><use href="#s" transform="matrix(285.9 0 0 1 744.17 0)"/><use href="#s" transform="matrix(-320.7 0 0 1 -134.46 0)"/><use href="#s" transform="matrix(-852.5 0 0 1 -1585 0)"/><use href="#s" transform="matrix(-146.1 0 0 1 178.01 0)"/><use href="#s" transform="matrix(3.088e+04 0 0 1 15750 0)"/><use href="#s" transform="matrix(162.8 0 0 1 698.54 0)"/><use href="#s" transform="matrix(84.69 0 0 1 426.91 0)"/><use href="#s" transform="matrix(93.05 0 0 1 471.55 0)"/><use href="#s" transform="matrix(-224.5 0 0 1 -117.73 0)"/><use href="#s" transform="matrix(100.5 0 0 1 504.12 0)"/><use href="#s" transform="matrix(64.09 0 0 1 444.01 0)"/><use href="#s" transform="matrix(124.2 0 0 1 672.67 0)"/><use href="#s" transform="matrix(68.65 0 0 1 443.99 0)"/><use href="#s" transform="matrix(835.3 0 0 1 1954.2 0)"/><use href="#s" transform="matrix(116.4 0 0 1 406.19 0)"/><use href="#s" transform="matrix(159.9 0 0 1 519.63 0)"/><use href="#s" transform="matrix(145.6 0 0 1 623.14 0)"/><use href="#s" transform="matrix(-1882 0 0 1 -4667.7 0)"/><use href="#s" transform="matrix(78.52 0 0 1 538.26 0)"/><use href="#s" transform="matrix(-505.6 0 0 1 -454.75 0)"/><use href="#s" transform="matrix(129.8 0 0 1 527.04 0)"/><use href="#s" transform="matrix(-391.9 0 0 1 -318.93 0)"/><use href="#s" transform="matrix(196.5 0 0 1 545.75 0)"/><use href="#s" transform="matrix(1453 0 0 1 2548.6 0)"/><use href="#s" transform="matrix(103.6 0 0 1 493.89 0)"/><use href="#s" transform="matrix(85.49 0 0 1 470.19 0)"/><use href="#s" transform="matrix(80.88 0 0 1 512.86 0)"/><use href="#s" transform="matrix(83.23 0 0 1 492.16 0)"/><use href="#s" transform="matrix(104.1 0 0 1 448.77 0)"/><use href="#s" transform="matrix(-125.4 0 0 1 212.34 0)"/><use href="#s" transform="matrix(88.03 0 0 1 486.55 0)"/><use href="#s" transform="matrix(150.7 0 0 1 553.06 0)"/><use href="#s" transform="matrix(296 0 0 1 306.18 0)"/><use href="#s" transform="matrix(198.4 0 0 1 665.64 0)"/><use href="#s" transform="matrix(77.9 0 0 1 458.09 0)"/><use href="#s" transform="matrix(-261 0 0 1 -262.62 0)"/><use href="#s" transform="matrix(73.55 0 0 1 441.96 0)"/><use href="#s" transform="matrix(58.52 0 0 1 485.69 0)"/><use href="#s" transform="matrix(217.6 0 0 1 569.88 0)"/><use href="#s" transform="matrix(52.95 0 0 1 461.63 0)"/><use href="#s" transform="matrix(1291 0 0 1 3644.1 0)"/><use href="#s" transform="matrix(134.7 0 0 1 609.79 0)"/><use href="#s" transform="matrix(192.9 0 0 1 606.27 0)"/><use href="#s" transform="matrix(170.9 0 0 1 669.21 0)"/><use href="#s" transform="matrix(177.7 0 0 1 728.89 0)"/><use href="#s" transform="matrix(63.11 0 0 1 458.57 0)"/><use href="#s" transform="matrix(163.5 0 0 1 590.29 0)"/><use href="#s" transform="matrix(140.6 0 0 1 619.61 0)"/><use href="#s" transform="matrix(90.7 0 0 1 529.58 0)"/><use href="#s" transform="matrix(50.37 0 0 1 443.19 0)"/><use href="#s" transform="matrix(50.25 0 0 1 422.96 0)"/><use href="#s" transform="matrix(86.26 0 0 1 450.63 0)"/><use href="#s" transform="matrix(59.58 0 0 1 482.03 0)"/><use href="#s" transform="matrix(-392.8 0 0 1 -539.99 0)"/><use href="#s" transform="matrix(340 0 0 1 993.35 0)"/><use href="#s" transform="matrix(-225.3 0 0 1 2.8309 0)"/><use href="#s" transform="matrix(253.9 0 0 1 993.71 0)"/><use href="#s" transform="matrix(55.86 0 0 1 447.45 0)"/><use href="#s" transform="matrix(274.6 0 0 1 906.6 0)"/><use href="#s" transform="matrix(63.69 0 0 1 437.74 0)"/><use href="#s" transform="matrix(60.39 0 0 1 508.61 0)"/><use href="#s" transform="matrix(782.4 0 0 1 1208.2 0)"/><use href="#s" transform="matrix(196.8 0 0 1 671.26 0)"/><use href="#s" transform="matrix(-380.6 0 0 1 -528.87 0)"/><use href="#s" transform="matrix(116.3 0 0 1 620.37 0)"/><use href="#s" transform="matrix(102.5 0 0 1 470.11 0)"/><use href="#s" transform="matrix(81.91 0 0 1 478.32 0)"/><use href="#s" transform="matrix(749.9 0 0 1 987.69 0)"/><use href="#s" transform="matrix(135 0 0 1 493.63 0)"/><use href="#s" transform="matrix(543.1 0 0 1 843.17 0)"/><use href="#s" transform="matrix(64.31 0 0 1 488.89 0)"/><use href="#s" transform="matrix(44.27 0 0 1 408.47 0)"/><use href="#s" transform="matrix(96.42 0 0 1 526.24 0)"/><use href="#s" transform="matrix(3499 0 0 1 10087 0)"/><use href="#s" transform="matrix(-87.46 0 0 1 191.3 0)"/><use href="#s" transform="matrix(1386 0 0 1 2928.9 0)"/><use href="#s" transform="matrix(71.27 0 0 1 503.52 0)"/><use href="#s" transform="matrix(74.22 0 0 1 457.68 0)"/><use href="#s" transform="matrix(-4174 0 0 1 -3100.6 0)"/><use href="#s" transform="matrix(102.4 0 0 1 531.2 0)"/><use href="#s" transform="matrix(134.4 0 0 1 501.97 0)"/><use href="#s" transform="matrix(131.5 0 0 1 747.63 0)"/><use href="#s" transform="matrix(99.46 0 0 1 547.12 0)"/><use href="#s" transform="matrix(100.8 0 0 1 513.2 0)"/><use href="#s" transform="matrix(165 0 0 1 680.9 0)"/><use href="#s" transform="matrix(599.8 0 0 1 1612.3 0)"/><use href="#s" transform="matrix(119.8 0 0 1 504.39 0)"/><use href="#s" transform="matrix(139.5 0 0 1 446.35 0)"/><use href="#s" transform="matrix(65.38 0 0 1 510.33 0)"/><use href="#s" transform="matrix(-205.5 0 0 1 -173.98 0)"/><use href="#s" transform="matrix(-820.7 0 0 1 -1055.7 0)"/><use href="#s" transform="matrix(282.9 0 0 1 847.68 0)"/><use href="#s" transform="matrix(242.1 0 0 1 574.12 0)"/><use href="#s" transform="matrix(208.4 0 0 1 763.84 0)"/><use href="#s" transform="matrix(152.5 0 0 1 675.08 0)"/><use href="#s" transform="matrix(61.68 0 0 1 458.48 0)"/><use href="#s" transform="matrix(112.5 0 0 1 436.11 0)"/><use href="#s" transform="matrix(71.07 0 0 1 513.68 0)"/><use href="#s" transform="matrix(605.6 0 0 1 1868.6 0)"/><use href="#s" transform="matrix(-941.8 0 0 1 -1868.7 0)"/><use href="#s" transform="matrix(133.5 0 0 1 500.88 0)"/><use href="#s" transform="matrix(307.2 0 0 1 1044.4 0)"/><use href="#s" transform="matrix(84.46 0 0 1 536.47 0)"/><use href="#s" transform="matrix(287.5 0 0 1 772.43 0)"/><use href="#s" transform="matrix(71.47 0 0 1 509.73 0)"/><use href="#s" transform="matrix(78.48 0 0 1 503 0)"/><use href="#s" transform="matrix(127.9 0 0 1 755.68 0)"/><use href="#s" transform="matrix(499.8 0 0 1 1323 0)"/><use href="#s" transform="matrix(130.2 0 0 1 551.7 0)"/><use href="#s" transform="matrix(68.12 0 0 1 521.3 0)"/><use href="#s" transform="matrix(-2282 0 0 1 -5381.1 0)"/><use href="#s" transform="matrix(75.27 0 0 1 407.87 0)"/><use href="#s" transform="matrix(566.8 0 0 1 1913.2 0)"/><use href="#s" transform="matrix(51.09 0 0 1 457.8 0)"/><use href="#s" transform="matrix(-503.4 0 0 1 -918.49 0)"/><use href="#s" transform="matrix(109.8 0 0 1 465.66 0)"/><use href="#s" transform="matrix(201.4 0 0 1 1020.2 0)"/><use href="#s" transform="matrix(129.5 0 0 1 473.24 0)"/><use href="#s" transform="matrix(114.6 0 0 1 542.56 0)"/><use href="#s" transform="matrix(146 0 0 1 490.28 0)"/><use href="#s" transform="matrix(140.8 0 0 1 730.62 0)"/><use href="#s" transform="matrix(230.8 0 0 1 613.52 0)"/><use href="#s" transform="matrix(139.6 0 0 1 553.52 0)"/><use href="#s" transform="matrix(217.8 0 0 1 622.68 0)"/><use href="#s" transform="matrix(323.6 0 0 1 990.77 0)"/><use href="#s" transform="matrix(111.3 0 0 1 432.55 0)"/><use href="#s" transform="matrix(-444 0 0 1 -808.86 0)"/><use href="#s" transform="matrix(2.177e+04 0 0 1 58714 0)"/><use href="#s" transform="matrix(294.1 0 0 1 1225.6 0)"/><use href="#s" transform="matrix(47.73 0 0 1 443.07 0)"/><use href="#s" transform="matrix(1443 0 0 1 3471.9 0)"/><use href="#s" transform="matrix(264.9 0 0 1 961 0)"/><use href="#s" transform="matrix(374.8 0 0 1 1164.8 0)"/><use href="#s" transform="matrix(153.6 0 0 1 664.32 0)"/></g></g>
<path fill="none" stroke="#000" stroke-width="3.3" stroke-linejoin="round" stroke-linecap="round" d="M273.7 145.0 276.5 144.7 279.3 144.3 282.1 144.0 285.0 143.6 287.8 143.3 290.6 142.9 293.4 142.6 296.3 142.2 299.1 141.8 301.9 141.4 304.7 141.0 307.6 140.6 310.4 140.2 313.2 139.8 316.0 139.4 318.9 139.0 321.7 138.6 324.5 138.1 327.3 137.7 330.2 137.2 333.0 136.8 335.8 136.3 338.6 135.9 341.5 135.4 344.3 134.9 347.1 134.4 349.9 134.0 352.8 133.5 355.6 133.0 358.4 132.5 361.2 131.9 364.1 131.4 366.9 130.9 369.7 130.4 372.5 129.8 375.4 129.3 378.2 128.8 381.0 128.2 383.8 127.7 386.7 127.1 389.5 126.5 392.3 125.9 395.1 125.4 398.0 124.8 400.8 124.2 403.6 123.6 406.4 123.0 409.3 122.4 412.1 121.8 414.9 121.2 417.7 120.6 420.6 119.9 423.4 119.3 426.2 118.7 429.0 118.0 431.9 117.4 434.7 116.8 437.5 116.1 440.3 115.5"/>
<path stroke="#000" stroke-width=".95" d="M273.6 165.9v-5M276.6 165.9v-5M279.5 165.9v-5M282.5 165.9v-5M284.2 165.9v-5M285.4 165.9v-5M286.5 165.9v-5M287.5 165.9v-5M294.2 165.9v-5M295 165.9v-5M296.4 165.9v-5M297.3 165.9v-5M299.6 165.9v-5M302.2 165.9v-5M305.5 165.9v-5M307.6 165.9v-5M308.6 165.9v-5M310.2 165.9v-5M311.2 165.9v-5M312.5 165.9v-5M313.6 165.9v-5M315 165.9v-5M316 165.9v-5M317.7 165.9v-5M318.5 165.9v-5M320 165.9v-5M322.1 165.9v-5M323.7 165.9v-5M324.9 165.9v-5M325.9 165.9v-5M327.6 165.9v-5M328.6 165.9v-5M329.7 165.9v-5M330.6 165.9v-5M331.5 165.9v-5M333.5 165.9v-5M335.2 165.9v-5M336.2 165.9v-5M337.3 165.9v-5M338.9 165.9v-5M340.1 165.9v-5M341.3 165.9v-5M342.4 165.9v-5M343.7 165.9v-5M344.9 165.9v-5M346.1 165.9v-5M347.7 165.9v-5M348.8 165.9v-5M350.1 165.9v-5M351.3 165.9v-5M352.8 165.9v-5M353.7 165.9v-5M355.2 165.9v-5M356.3 165.9v-5M357.6 165.9v-5M359.3 165.9v-5M360.5 165.9v-5M361.6 165.9v-5M363 165.9v-5M364.4 165.9v-5M365.4 165.9v-5M366.8 165.9v-5M368.2 165.9v-5M369.4 165.9v-5M370.8 165.9v-5M372.3 165.9v-5M373.7 165.9v-5M374.7 165.9v-5M376.5 165.9v-5M377.4 165.9v-5M379.1 165.9v-5M380.7 165.9v-5M381.8 165.9v-5M383.2 165.9v-5M384.7 165.9v-5M385.6 165.9v-5M387.3 165.9v-5M388.9 165.9v-5M390.4 165.9v-5M392.2 165.9v-5M393 165.9v-5M393.9 165.9v-5M395.3 165.9v-5M396.5 165.9v-5M397.8 165.9v-5M401.2 165.9v-5M402.7 165.9v-5M404.9 165.9v-5M409 165.9v-5M410.9 165.9v-5M412.8 165.9v-5M415.2 165.9v-5M416.5 165.9v-5M418.2 165.9v-5M419.3 165.9v-5M420.8 165.9v-5M423.9 165.9v-5M425.4 165.9v-5M426.5 165.9v-5M429.5 165.9v-5M437 165.9v-5M440.5 165.9v-5"/>
<rect x="267" y="0.5" width="180" height="165.4" fill="none" stroke="#000" stroke-width="1"/>
<path stroke="#000" stroke-width="1" d="M267 159.7h-6M267 129.1h-6M267 98.5h-6M267 67.9h-6M267 37.3h-6M267 6.7h-6M314.3 165.9v6M365.5 165.9v6M416.7 165.9v6"/>
<text transform="translate(256.1 159.7) rotate(-90) scale(.95 1)" text-anchor="middle" font-size="10">0.0</text>
<text transform="translate(256.1 129.1) rotate(-90) scale(.95 1)" text-anchor="middle" font-size="10">0.2</text>
<text transform="translate(256.1 98.5) rotate(-90) scale(.95 1)" text-anchor="middle" font-size="10">0.4</text>
<text transform="translate(256.1 67.9) rotate(-90) scale(.95 1)" text-anchor="middle" font-size="10">0.6</text>
<text transform="translate(256.1 37.3) rotate(-90) scale(.95 1)" text-anchor="middle" font-size="10">0.8</text>
<text transform="translate(256.1 6.7) rotate(-90) scale(.95 1)" text-anchor="middle" font-size="10">1.0</text>
<text transform="translate(314.3 182.6) scale(.95 1)" text-anchor="middle" font-size="10">30</text>
<text transform="translate(365.5 182.6) scale(.95 1)" text-anchor="middle" font-size="10">35</text>
<text transform="translate(416.7 182.6) scale(.95 1)" text-anchor="middle" font-size="10">40</text>
<text transform="translate(240.4 83.2) rotate(-90)" text-anchor="middle" font-size="11.4">FV3 Prevalence</text>
<text x="356.9" y="198.6" text-anchor="middle" font-size="11.4">Gosner stage</text>
<text x="270.3" y="15.6" font-size="15" font-weight="bold">B</text>
<clipPath id="cC"><rect x="505.2" y="0.5" width="166.7" height="165.4"/></clipPath>
<g transform="translate(0 0.0)"><g clip-path="url(#cC)"><use href="#s" transform="matrix(114.6 0 0 1 624.06 0)"/><use href="#s" transform="matrix(90.09 0 0 1 659.95 0)"/><use href="#s" transform="matrix(27.44 0 0 1 636.93 0)"/><use href="#s" transform="matrix(60.41 0 0 1 649.06 0)"/><use href="#s" transform="matrix(24.2 0 0 1 623.67 0)"/><use href="#s" transform="matrix(46.55 0 0 1 588.22 0)"/><use href="#s" transform="matrix(29.45 0 0 1 602.49 0)"/><use href="#s" transform="matrix(30.44 0 0 1 655.81 0)"/><use href="#s" transform="matrix(30.04 0 0 1 625.97 0)"/><use href="#s" transform="matrix(57.18 0 0 1 697.52 0)"/><use href="#s" transform="matrix(62.36 0 0 1 613.87 0)"/><use href="#s" transform="matrix(43.04 0 0 1 631.05 0)"/><use href="#s" transform="matrix(62.6 0 0 1 665.1 0)"/><use href="#s" transform="matrix(29.8 0 0 1 615.64 0)"/><use href="#s" transform="matrix(38.81 0 0 1 641.97 0)"/><use href="#s" transform="matrix(40.92 0 0 1 690.14 0)"/><use href="#s" transform="matrix(31.2 0 0 1 613.12 0)"/><use href="#s" transform="matrix(41.51 0 0 1 643.98 0)"/><use href="#s" transform="matrix(36.88 0 0 1 621.18 0)"/><use href="#s" transform="matrix(41.03 0 0 1 666.53 0)"/><use href="#s" transform="matrix(50.84 0 0 1 673.96 0)"/><use href="#s" transform="matrix(51.68 0 0 1 689.55 0)"/><use href="#s" transform="matrix(65.75 0 0 1 694.26 0)"/><use href="#s" transform="matrix(32.09 0 0 1 626.44 0)"/><use href="#s" transform="matrix(33.47 0 0 1 630.67 0)"/><use href="#s" transform="matrix(48.14 0 0 1 700.36 0)"/><use href="#s" transform="matrix(36.84 0 0 1 647.24 0)"/><use href="#s" transform="matrix(41.07 0 0 1 646.89 0)"/><use href="#s" transform="matrix(38.93 0 0 1 669.14 0)"/><use href="#s" transform="matrix(66.75 0 0 1 635.33 0)"/><use href="#s" transform="matrix(87.77 0 0 1 695.01 0)"/><use href="#s" transform="matrix(39.35 0 0 1 615.76 0)"/><use href="#s" transform="matrix(65.32 0 0 1 663.39 0)"/><use href="#s" transform="matrix(31.29 0 0 1 643.53 0)"/><use href="#s" transform="matrix(92.63 0 0 1 859.3 0)"/><use href="#s" transform="matrix(43.88 0 0 1 665.56 0)"/><use href="#s" transform="matrix(50.08 0 0 1 652.37 0)"/><use href="#s" transform="matrix(75.92 0 0 1 686.04 0)"/><use href="#s" transform="matrix(68.53 0 0 1 664.88 0)"/><use href="#s" transform="matrix(37.03 0 0 1 675.28 0)"/><use href="#s" transform="matrix(36.97 0 0 1 624.42 0)"/><use href="#s" transform="matrix(109.8 0 0 1 732.61 0)"/><use href="#s" transform="matrix(46.2 0 0 1 663.76 0)"/><use href="#s" transform="matrix(37.49 0 0 1 606.7 0)"/><use href="#s" transform="matrix(25.41 0 0 1 626.13 0)"/><use href="#s" transform="matrix(48.25 0 0 1 656 0)"/><use href="#s" transform="matrix(57.67 0 0 1 703.44 0)"/><use href="#s" transform="matrix(39.44 0 0 1 702.2 0)"/><use href="#s" transform="matrix(55.98 0 0 1 638.68 0)"/><use href="#s" transform="matrix(77.18 0 0 1 648.4 0)"/><use href="#s" transform="matrix(70.44 0 0 1 671.43 0)"/><use href="#s" transform="matrix(45.07 0 0 1 663.7 0)"/><use href="#s" transform="matrix(31.26 0 0 1 608.38 0)"/><use href="#s" transform="matrix(31.86 0 0 1 627.33 0)"/><use href="#s" transform="matrix(58.83 0 0 1 655.77 0)"/><use href="#s" transform="matrix(58.96 0 0 1 664.12 0)"/><use href="#s" transform="matrix(97.81 0 0 1 682.77 0)"/><use href="#s" transform="matrix(43.36 0 0 1 642.02 0)"/><use href="#s" transform="matrix(73.48 0 0 1 669.62 0)"/><use href="#s" transform="matrix(42.9 0 0 1 650.37 0)"/><use href="#s" transform="matrix(41.38 0 0 1 665.73 0)"/><use href="#s" transform="matrix(38.74 0 0 1 627.69 0)"/><use href="#s" transform="matrix(34.56 0 0 1 644.55 0)"/><use href="#s" transform="matrix(45.14 0 0 1 687.34 0)"/><use href="#s" transform="matrix(34.82 0 0 1 589.5 0)"/><use href="#s" transform="matrix(55.93 0 0 1 643.16 0)"/><use href="#s" transform="matrix(40.48 0 0 1 665.63 0)"/><use href="#s" transform="matrix(45.11 0 0 1 689.51 0)"/><use href="#s" transform="matrix(43.1 0 0 1 650.35 0)"/><use href="#s" transform="matrix(41.87 0 0 1 670.05 0)"/><use href="#s" transform="matrix(38.71 0 0 1 600.88 0)"/><use href="#s" transform="matrix(36.95 0 0 1 634.92 0)"/><use href="#s" transform="matrix(35.95 0 0 1 666.69 0)"/><use href="#s" transform="matrix(51.32 0 0 1 713.14 0)"/><use href="#s" transform="matrix(42.66 0 0 1 623.18 0)"/><use href="#s" transform="matrix(553.7 0 0 1 1329.4 0)"/><use href="#s" transform="matrix(48.1 0 0 1 633.96 0)"/><use href="#s" transform="matrix(31.1 0 0 1 646.43 0)"/><use href="#s" transform="matrix(64.38 0 0 1 770.67 0)"/><use href="#s" transform="matrix(52.07 0 0 1 662.72 0)"/><use href="#s" transform="matrix(31.74 0 0 1 612.01 0)"/><use href="#s" transform="matrix(60.69 0 0 1 689.95 0)"/><use href="#s" transform="matrix(-1950 0 0 1 -2459.7 0)"/><use href="#s" transform="matrix(47.34 0 0 1 706.86 0)"/><use href="#s" transform="matrix(35.51 0 0 1 654.33 0)"/><use href="#s" transform="matrix(42.36 0 0 1 642.68 0)"/><use href="#s" transform="matrix(37.88 0 0 1 624.73 0)"/><use href="#s" transform="matrix(46.4 0 0 1 643.58 0)"/><use href="#s" transform="matrix(86.44 0 0 1 710.82 0)"/><use href="#s" transform="matrix(51.05 0 0 1 669.03 0)"/><use href="#s" transform="matrix(76.06 0 0 1 668.35 0)"/><use href="#s" transform="matrix(51.55 0 0 1 659.96 0)"/><use href="#s" transform="matrix(76.23 0 0 1 719.14 0)"/><use href="#s" transform="matrix(26.85 0 0 1 634.04 0)"/><use href="#s" transform="matrix(28.84 0 0 1 622.66 0)"/><use href="#s" transform="matrix(42.58 0 0 1 657.52 0)"/><use href="#s" transform="matrix(56.77 0 0 1 649.43 0)"/><use href="#s" transform="matrix(49.43 0 0 1 694.98 0)"/><use href="#s" transform="matrix(33.56 0 0 1 645.11 0)"/><use href="#s" transform="matrix(43.36 0 0 1 676.43 0)"/><use href="#s" transform="matrix(147.3 0 0 1 751.55 0)"/><use href="#s" transform="matrix(27.05 0 0 1 630.26 0)"/><use href="#s" transform="matrix(48.78 0 0 1 649 0)"/><use href="#s" transform="matrix(52.95 0 0 1 670.67 0)"/><use href="#s" transform="matrix(226.3 0 0 1 918.25 0)"/><use href="#s" transform="matrix(59.97 0 0 1 654.3 0)"/><use href="#s" transform="matrix(30.88 0 0 1 613.25 0)"/><use href="#s" transform="matrix(58.04 0 0 1 640.31 0)"/><use href="#s" transform="matrix(73.57 0 0 1 644.4 0)"/><use href="#s" transform="matrix(31.68 0 0 1 616.58 0)"/><use href="#s" transform="matrix(23.89 0 0 1 618.41 0)"/><use href="#s" transform="matrix(29.45 0 0 1 634.2 0)"/><use href="#s" transform="matrix(36.23 0 0 1 617.53 0)"/><use href="#s" transform="matrix(32.96 0 0 1 643.5 0)"/><use href="#s" transform="matrix(42.2 0 0 1 632.63 0)"/><use href="#s" transform="matrix(61.43 0 0 1 630.37 0)"/><use href="#s" transform="matrix(36.82 0 0 1 613.6 0)"/><use href="#s" transform="matrix(144.2 0 0 1 707.14 0)"/><use href="#s" transform="matrix(40.64 0 0 1 638.47 0)"/><use href="#s" transform="matrix(30.62 0 0 1 639.81 0)"/><use href="#s" transform="matrix(50.49 0 0 1 654.27 0)"/><use href="#s" transform="matrix(82.41 0 0 1 684.56 0)"/><use href="#s" transform="matrix(27.12 0 0 1 627.8 0)"/><use href="#s" transform="matrix(59.83 0 0 1 666.15 0)"/><use href="#s" transform="matrix(236.9 0 0 1 904.63 0)"/><use href="#s" transform="matrix(40.49 0 0 1 623.58 0)"/><use href="#s" transform="matrix(247.4 0 0 1 898.88 0)"/><use href="#s" transform="matrix(26.78 0 0 1 628.42 0)"/><use href="#s" transform="matrix(160.5 0 0 1 919.76 0)"/><use href="#s" transform="matrix(29.89 0 0 1 646.69 0)"/><use href="#s" transform="matrix(24.14 0 0 1 620.78 0)"/><use href="#s" transform="matrix(32.29 0 0 1 653.22 0)"/><use href="#s" transform="matrix(46.03 0 0 1 602.31 0)"/><use href="#s" transform="matrix(56.19 0 0 1 665.06 0)"/><use href="#s" transform="matrix(110.3 0 0 1 707.03 0)"/><use href="#s" transform="matrix(37.81 0 0 1 657.4 0)"/><use href="#s" transform="matrix(25.48 0 0 1 626.39 0)"/><use href="#s" transform="matrix(41.86 0 0 1 601.28 0)"/><use href="#s" transform="matrix(28.97 0 0 1 617.11 0)"/><use href="#s" transform="matrix(26.12 0 0 1 626.17 0)"/><use href="#s" transform="matrix(61.1 0 0 1 651.42 0)"/><use href="#s" transform="matrix(186 0 0 1 900.93 0)"/><use href="#s" transform="matrix(42.08 0 0 1 671.31 0)"/><use href="#s" transform="matrix(34.31 0 0 1 608.18 0)"/><use href="#s" transform="matrix(94.71 0 0 1 752.3 0)"/><use href="#s" transform="matrix(31.32 0 0 1 634.22 0)"/><use href="#s" transform="matrix(32.61 0 0 1 635.41 0)"/><use href="#s" transform="matrix(83.33 0 0 1 744.58 0)"/><use href="#s" transform="matrix(76.54 0 0 1 634.68 0)"/><use href="#s" transform="matrix(37.47 0 0 1 660.75 0)"/><use href="#s" transform="matrix(58.74 0 0 1 642.53 0)"/><use href="#s" transform="matrix(58.83 0 0 1 655.73 0)"/><use href="#s" transform="matrix(52.28 0 0 1 658.84 0)"/><use href="#s" transform="matrix(53.82 0 0 1 684.38 0)"/><use href="#s" transform="matrix(55.17 0 0 1 725.54 0)"/><use href="#s" transform="matrix(38.22 0 0 1 599.17 0)"/><use href="#s" transform="matrix(54.91 0 0 1 683.24 0)"/><use href="#s" transform="matrix(28.14 0 0 1 652.29 0)"/><use href="#s" transform="matrix(57.76 0 0 1 666.54 0)"/><use href="#s" transform="matrix(39.02 0 0 1 659.16 0)"/><use href="#s" transform="matrix(53 0 0 1 678.08 0)"/><use href="#s" transform="matrix(81.15 0 0 1 623.04 0)"/><use href="#s" transform="matrix(52.92 0 0 1 652.17 0)"/><use href="#s" transform="matrix(30.71 0 0 1 660.26 0)"/><use href="#s" transform="matrix(46.11 0 0 1 669.84 0)"/><use href="#s" transform="matrix(30.02 0 0 1 634.73 0)"/><use href="#s" transform="matrix(97.84 0 0 1 712.51 0)"/><use href="#s" transform="matrix(22.93 0 0 1 632.02 0)"/><use href="#s" transform="matrix(38.8 0 0 1 604.2 0)"/><use href="#s" transform="matrix(35.68 0 0 1 614.81 0)"/><use href="#s" transform="matrix(35.93 0 0 1 630.73 0)"/><use href="#s" transform="matrix(92.32 0 0 1 754.55 0)"/><use href="#s" transform="matrix(68.37 0 0 1 612.53 0)"/><use href="#s" transform="matrix(27.47 0 0 1 639.52 0)"/><use href="#s" transform="matrix(30.24 0 0 1 615.68 0)"/><use href="#s" transform="matrix(52.26 0 0 1 669.21 0)"/><use href="#s" transform="matrix(52.06 0 0 1 665.63 0)"/><use href="#s" transform="matrix(31.76 0 0 1 612.27 0)"/><use href="#s" transform="matrix(68.91 0 0 1 685.99 0)"/><use href="#s" transform="matrix(35.62 0 0 1 610.57 0)"/><use href="#s" transform="matrix(36.89 0 0 1 635.98 0)"/><use href="#s" transform="matrix(44.5 0 0 1 722.39 0)"/><use href="#s" transform="matrix(68.69 0 0 1 670.17 0)"/><use href="#s" transform="matrix(102.8 0 0 1 683.36 0)"/><use href="#s" transform="matrix(145.7 0 0 1 780.51 0)"/><use href="#s" transform="matrix(106.2 0 0 1 785.6 0)"/><use href="#s" transform="matrix(75.68 0 0 1 647.17 0)"/><use href="#s" transform="matrix(37.36 0 0 1 675.59 0)"/><use href="#s" transform="matrix(81.33 0 0 1 687.16 0)"/><use href="#s" transform="matrix(70.6 0 0 1 695.25 0)"/><use href="#s" transform="matrix(49.43 0 0 1 658.58 0)"/><use href="#s" transform="matrix(63.25 0 0 1 624.6 0)"/><use href="#s" transform="matrix(36.42 0 0 1 622.13 0)"/><use href="#s" transform="matrix(36.83 0 0 1 631.42 0)"/><use href="#s" transform="matrix(37.69 0 0 1 659.68 0)"/><use href="#s" transform="matrix(30.35 0 0 1 651.3 0)"/><use href="#s" transform="matrix(35.51 0 0 1 629.94 0)"/><use href="#s" transform="matrix(56.22 0 0 1 592.08 0)"/><use href="#s" transform="matrix(106.5 0 0 1 662.85 0)"/><use href="#s" transform="matrix(51.77 0 0 1 695.05 0)"/><use href="#s" transform="matrix(46.27 0 0 1 637.79 0)"/><use href="#s" transform="matrix(67.59 0 0 1 617.68 0)"/><use href="#s" transform="matrix(38.24 0 0 1 662.49 0)"/><use href="#s" transform="matrix(31.58 0 0 1 615.86 0)"/><use href="#s" transform="matrix(34.83 0 0 1 661.58 0)"/><use href="#s" transform="matrix(92.04 0 0 1 654.24 0)"/><use href="#s" transform="matrix(35.45 0 0 1 636.49 0)"/><use href="#s" transform="matrix(31.17 0 0 1 611.76 0)"/><use href="#s" transform="matrix(63.77 0 0 1 701.05 0)"/><use href="#s" transform="matrix(32.23 0 0 1 632.34 0)"/><use href="#s" transform="matrix(84.73 0 0 1 609.42 0)"/><use href="#s" transform="matrix(81.67 0 0 1 658.15 0)"/><use href="#s" transform="matrix(67.87 0 0 1 597.27 0)"/><use href="#s" transform="matrix(31.77 0 0 1 663.66 0)"/><use href="#s" transform="matrix(100.5 0 0 1 730.1 0)"/><use href="#s" transform="matrix(61.75 0 0 1 702.15 0)"/><use href="#s" transform="matrix(38.95 0 0 1 668.71 0)"/><use href="#s" transform="matrix(66.28 0 0 1 698.95 0)"/><use href="#s" transform="matrix(74.92 0 0 1 624.68 0)"/><use href="#s" transform="matrix(79.28 0 0 1 651.6 0)"/><use href="#s" transform="matrix(56.72 0 0 1 705.87 0)"/><use href="#s" transform="matrix(68.75 0 0 1 576.52 0)"/><use href="#s" transform="matrix(72.59 0 0 1 639.32 0)"/><use href="#s" transform="matrix(53.43 0 0 1 710.4 0)"/><use href="#s" transform="matrix(55.74 0 0 1 720.86 0)"/><use href="#s" transform="matrix(38.85 0 0 1 646.83 0)"/><use href="#s" transform="matrix(34.35 0 0 1 609.9 0)"/><use href="#s" transform="matrix(44.11 0 0 1 660.14 0)"/><use href="#s" transform="matrix(31.64 0 0 1 620.47 0)"/><use href="#s" transform="matrix(43.93 0 0 1 591.66 0)"/><use href="#s" transform="matrix(33.34 0 0 1 626.42 0)"/><use href="#s" transform="matrix(56.49 0 0 1 663.44 0)"/><use href="#s" transform="matrix(53.64 0 0 1 698.1 0)"/><use href="#s" transform="matrix(53.08 0 0 1 674.52 0)"/><use href="#s" transform="matrix(49.05 0 0 1 593.05 0)"/><use href="#s" transform="matrix(49.95 0 0 1 649.68 0)"/><use href="#s" transform="matrix(101.4 0 0 1 719.65 0)"/><use href="#s" transform="matrix(53.84 0 0 1 665.87 0)"/><use href="#s" transform="matrix(87.47 0 0 1 664.46 0)"/><use href="#s" transform="matrix(36.25 0 0 1 611.77 0)"/><use href="#s" transform="matrix(104.6 0 0 1 693.97 0)"/><use href="#s" transform="matrix(26.11 0 0 1 616.94 0)"/><use href="#s" transform="matrix(74.26 0 0 1 640.46 0)"/><use href="#s" transform="matrix(52.87 0 0 1 634.12 0)"/><use href="#s" transform="matrix(46.39 0 0 1 685.72 0)"/><use href="#s" transform="matrix(35.85 0 0 1 635.24 0)"/><use href="#s" transform="matrix(27.62 0 0 1 639.85 0)"/><use href="#s" transform="matrix(37.17 0 0 1 624.32 0)"/><use href="#s" transform="matrix(64.31 0 0 1 681.72 0)"/><use href="#s" transform="matrix(38.91 0 0 1 641.34 0)"/><use href="#s" transform="matrix(178.3 0 0 1 840.57 0)"/><use href="#s" transform="matrix(33.21 0 0 1 672.38 0)"/><use href="#s" transform="matrix(30.63 0 0 1 602.89 0)"/><use href="#s" transform="matrix(36.53 0 0 1 662.39 0)"/><use href="#s" transform="matrix(48.69 0 0 1 676.64 0)"/><use href="#s" transform="matrix(50.38 0 0 1 610.95 0)"/><use href="#s" transform="matrix(50.76 0 0 1 657.46 0)"/><use href="#s" transform="matrix(43.03 0 0 1 576.34 0)"/><use href="#s" transform="matrix(42.21 0 0 1 647.37 0)"/><use href="#s" transform="matrix(33.09 0 0 1 627.35 0)"/><use href="#s" transform="matrix(46.98 0 0 1 659.75 0)"/><use href="#s" transform="matrix(26.16 0 0 1 623.9 0)"/><use href="#s" transform="matrix(36.23 0 0 1 647.83 0)"/><use href="#s" transform="matrix(29.98 0 0 1 597.61 0)"/><use href="#s" transform="matrix(93.48 0 0 1 698.01 0)"/><use href="#s" transform="matrix(31.7 0 0 1 635.33 0)"/><use href="#s" transform="matrix(30.62 0 0 1 627.99 0)"/><use href="#s" transform="matrix(37.45 0 0 1 679.68 0)"/><use href="#s" transform="matrix(35.03 0 0 1 663.69 0)"/><use href="#s" transform="matrix(56.15 0 0 1 681.56 0)"/><use href="#s" transform="matrix(78.07 0 0 1 742.62 0)"/><use href="#s" transform="matrix(48.24 0 0 1 638.26 0)"/><use href="#s" transform="matrix(103.8 0 0 1 856.58 0)"/><use href="#s" transform="matrix(133.7 0 0 1 775.02 0)"/><use href="#s" transform="matrix(36 0 0 1 679.04 0)"/><use href="#s" transform="matrix(43.07 0 0 1 640.54 0)"/><use href="#s" transform="matrix(63.08 0 0 1 659.73 0)"/><use href="#s" transform="matrix(32.72 0 0 1 618.52 0)"/><use href="#s" transform="matrix(38.76 0 0 1 608.4 0)"/><use href="#s" transform="matrix(41.78 0 0 1 645.11 0)"/><use href="#s" transform="matrix(51.69 0 0 1 686.68 0)"/><use href="#s" transform="matrix(40.68 0 0 1 624.77 0)"/><use href="#s" transform="matrix(44.59 0 0 1 674.56 0)"/><use href="#s" transform="matrix(50.6 0 0 1 663.79 0)"/><use href="#s" transform="matrix(59.15 0 0 1 651.9 0)"/><use href="#s" transform="matrix(26.82 0 0 1 619.95 0)"/><use href="#s" transform="matrix(35.18 0 0 1 589.43 0)"/><use href="#s" transform="matrix(48.78 0 0 1 597.57 0)"/><use href="#s" transform="matrix(117.5 0 0 1 695.5 0)"/><use href="#s" transform="matrix(33.58 0 0 1 620.25 0)"/><use href="#s" transform="matrix(47.51 0 0 1 596.15 0)"/><use href="#s" transform="matrix(33.74 0 0 1 669.98 0)"/><use href="#s" transform="matrix(30.68 0 0 1 643.7 0)"/><use href="#s" transform="matrix(57 0 0 1 677.24 0)"/><use href="#s" transform="matrix(37.72 0 0 1 666.74 0)"/><use href="#s" transform="matrix(34.25 0 0 1 645.58 0)"/><use href="#s" transform="matrix(33.11 0 0 1 643.89 0)"/><use href="#s" transform="matrix(49.85 0 0 1 676.93 0)"/><use href="#s" transform="matrix(37.53 0 0 1 648.12 0)"/><use href="#s" transform="matrix(44.25 0 0 1 687.94 0)"/><use href="#s" transform="matrix(47.88 0 0 1 656.42 0)"/><use href="#s" transform="matrix(37.71 0 0 1 643.96 0)"/><use href="#s" transform="matrix(52.09 0 0 1 667.61 0)"/><use href="#s" transform="matrix(83.28 0 0 1 738.7 0)"/><use href="#s" transform="matrix(71.94 0 0 1 689.06 0)"/><use href="#s" transform="matrix(38.93 0 0 1 635.6 0)"/><use href="#s" transform="matrix(32.17 0 0 1 620.14 0)"/><use href="#s" transform="matrix(32.3 0 0 1 620.43 0)"/><use href="#s" transform="matrix(27.6 0 0 1 623.22 0)"/><use href="#s" transform="matrix(36.41 0 0 1 601.84 0)"/><use href="#s" transform="matrix(50.59 0 0 1 666.09 0)"/><use href="#s" transform="matrix(47.06 0 0 1 602.24 0)"/><use href="#s" transform="matrix(64.33 0 0 1 686.6 0)"/><use href="#s" transform="matrix(29.51 0 0 1 612.93 0)"/><use href="#s" transform="matrix(46.38 0 0 1 610.06 0)"/><use href="#s" transform="matrix(53.03 0 0 1 687.41 0)"/><use href="#s" transform="matrix(37.62 0 0 1 625.72 0)"/><use href="#s" transform="matrix(40.61 0 0 1 613.16 0)"/><use href="#s" transform="matrix(62.5 0 0 1 685.69 0)"/><use href="#s" transform="matrix(33.81 0 0 1 638.39 0)"/><use href="#s" transform="matrix(45.26 0 0 1 614.95 0)"/><use href="#s" transform="matrix(35.39 0 0 1 602.09 0)"/><use href="#s" transform="matrix(52.61 0 0 1 670.98 0)"/><use href="#s" transform="matrix(31.83 0 0 1 611.46 0)"/><use href="#s" transform="matrix(66.22 0 0 1 696.53 0)"/><use href="#s" transform="matrix(35.71 0 0 1 670.64 0)"/><use href="#s" transform="matrix(47.7 0 0 1 593.59 0)"/><use href="#s" transform="matrix(23.79 0 0 1 629.85 0)"/><use href="#s" transform="matrix(39.55 0 0 1 671.38 0)"/><use href="#s" transform="matrix(27.21 0 0 1 618.67 0)"/><use href="#s" transform="matrix(45.3 0 0 1 629.79 0)"/><use href="#s" transform="matrix(44.17 0 0 1 642.51 0)"/><use href="#s" transform="matrix(56.16 0 0 1 662.04 0)"/><use href="#s" transform="matrix(54.72 0 0 1 747.52 0)"/><use href="#s" transform="matrix(75.07 0 0 1 651.7 0)"/><use href="#s" transform="matrix(46.89 0 0 1 610.81 0)"/><use href="#s" transform="matrix(27.96 0 0 1 647.68 0)"/><use href="#s" transform="matrix(39.91 0 0 1 623.49 0)"/><use href="#s" transform="matrix(28.94 0 0 1 649.44 0)"/><use href="#s" transform="matrix(29.68 0 0 1 616.54 0)"/><use href="#s" transform="matrix(225.8 0 0 1 1096.3 0)"/><use href="#s" transform="matrix(40.25 0 0 1 632.09 0)"/><use href="#s" transform="matrix(37.5 0 0 1 674.43 0)"/><use href="#s" transform="matrix(35.75 0 0 1 642.43 0)"/><use href="#s" transform="matrix(54.74 0 0 1 620.05 0)"/><use href="#s" transform="matrix(35.48 0 0 1 611.93 0)"/><use href="#s" transform="matrix(45.72 0 0 1 617.44 0)"/><use href="#s" transform="matrix(24.9 0 0 1 625 0)"/><use href="#s" transform="matrix(74.16 0 0 1 702.3 0)"/><use href="#s" transform="matrix(46.89 0 0 1 645.15 0)"/><use href="#s" transform="matrix(54.53 0 0 1 732.93 0)"/><use href="#s" transform="matrix(71.03 0 0 1 635.07 0)"/><use href="#s" transform="matrix(70.15 0 0 1 731.04 0)"/><use href="#s" transform="matrix(44.77 0 0 1 608.04 0)"/><use href="#s" transform="matrix(37.22 0 0 1 643.04 0)"/><use href="#s" transform="matrix(57.03 0 0 1 663.1 0)"/><use href="#s" transform="matrix(67.04 0 0 1 681.96 0)"/><use href="#s" transform="matrix(42.23 0 0 1 643.9 0)"/><use href="#s" transform="matrix(55.53 0 0 1 674.87 0)"/><use href="#s" transform="matrix(78.46 0 0 1 729.19 0)"/><use href="#s" transform="matrix(40.27 0 0 1 636.38 0)"/><use href="#s" transform="matrix(37.89 0 0 1 673.83 0)"/><use href="#s" transform="matrix(45.14 0 0 1 632.54 0)"/><use href="#s" transform="matrix(55.96 0 0 1 688.77 0)"/><use href="#s" transform="matrix(71.16 0 0 1 711.71 0)"/><use href="#s" transform="matrix(26.63 0 0 1 611.79 0)"/><use href="#s" transform="matrix(66.6 0 0 1 622.13 0)"/><use href="#s" transform="matrix(43.93 0 0 1 603.99 0)"/><use href="#s" transform="matrix(91.03 0 0 1 671.78 0)"/><use href="#s" transform="matrix(101 0 0 1 662.16 0)"/><use href="#s" transform="matrix(69.33 0 0 1 654.47 0)"/><use href="#s" transform="matrix(30.3 0 0 1 609.66 0)"/><use href="#s" transform="matrix(28.43 0 0 1 631.51 0)"/><use href="#s" transform="matrix(71.85 0 0 1 649.38 0)"/><use href="#s" transform="matrix(52.13 0 0 1 654.36 0)"/><use href="#s" transform="matrix(63.3 0 0 1 650.89 0)"/><use href="#s" transform="matrix(53.18 0 0 1 603.76 0)"/><use href="#s" transform="matrix(43.85 0 0 1 650.06 0)"/><use href="#s" transform="matrix(34.86 0 0 1 647.76 0)"/><use href="#s" transform="matrix(37.08 0 0 1 606.33 0)"/><use href="#s" transform="matrix(32.17 0 0 1 620.55 0)"/><use href="#s" transform="matrix(30.38 0 0 1 626.61 0)"/><use href="#s" transform="matrix(34.99 0 0 1 601.54 0)"/><use href="#s" transform="matrix(44.04 0 0 1 654.5 0)"/><use href="#s" transform="matrix(78.86 0 0 1 712.49 0)"/><use href="#s" transform="matrix(46.29 0 0 1 702.3 0)"/><use href="#s" transform="matrix(45.69 0 0 1 653.72 0)"/><use href="#s" transform="matrix(40.15 0 0 1 641.5 0)"/><use href="#s" transform="matrix(35.69 0 0 1 617.95 0)"/><use href="#s" transform="matrix(52.56 0 0 1 702.58 0)"/><use href="#s" transform="matrix(94.22 0 0 1 739.01 0)"/><use href="#s" transform="matrix(32.89 0 0 1 655.36 0)"/><use href="#s" transform="matrix(58.93 0 0 1 663.99 0)"/><use href="#s" transform="matrix(137.5 0 0 1 787.76 0)"/><use href="#s" transform="matrix(48.63 0 0 1 658.26 0)"/><use href="#s" transform="matrix(39.53 0 0 1 625.96 0)"/><use href="#s" transform="matrix(39.1 0 0 1 658.69 0)"/><use href="#s" transform="matrix(32.91 0 0 1 599.94 0)"/><use href="#s" transform="matrix(43.78 0 0 1 623.48 0)"/><use href="#s" transform="matrix(61.52 0 0 1 687.3 0)"/><use href="#s" transform="matrix(56.65 0 0 1 661.97 0)"/><use href="#s" transform="matrix(92.79 0 0 1 746.12 0)"/><use href="#s" transform="matrix(33.4 0 0 1 602.37 0)"/><use href="#s" transform="matrix(31.33 0 0 1 657.08 0)"/><use href="#s" transform="matrix(36.17 0 0 1 660.33 0)"/><use href="#s" transform="matrix(37.49 0 0 1 626.82 0)"/><use href="#s" transform="matrix(137.3 0 0 1 698.42 0)"/><use href="#s" transform="matrix(93.55 0 0 1 699.59 0)"/><use href="#s" transform="matrix(47.83 0 0 1 656.1 0)"/><use href="#s" transform="matrix(34.33 0 0 1 619.63 0)"/><use href="#s" transform="matrix(32.29 0 0 1 620.84 0)"/><use href="#s" transform="matrix(93.99 0 0 1 745.57 0)"/><use href="#s" transform="matrix(64.47 0 0 1 727.21 0)"/><use href="#s" transform="matrix(42.57 0 0 1 636.25 0)"/><use href="#s" transform="matrix(38.84 0 0 1 661.84 0)"/><use href="#s" transform="matrix(45.64 0 0 1 668.39 0)"/><use href="#s" transform="matrix(28.41 0 0 1 622.91 0)"/><use href="#s" transform="matrix(33.65 0 0 1 637.75 0)"/><use href="#s" transform="matrix(47.33 0 0 1 670.45 0)"/><use href="#s" transform="matrix(60.27 0 0 1 624.53 0)"/><use href="#s" transform="matrix(65.79 0 0 1 688.65 0)"/><use href="#s" transform="matrix(86.52 0 0 1 687.61 0)"/><use href="#s" transform="matrix(29.65 0 0 1 612.17 0)"/><use href="#s" transform="matrix(55.35 0 0 1 663.77 0)"/><use href="#s" transform="matrix(34.38 0 0 1 634.13 0)"/><use href="#s" transform="matrix(47.22 0 0 1 662.29 0)"/><use href="#s" transform="matrix(48.27 0 0 1 664.31 0)"/><use href="#s" transform="matrix(37.48 0 0 1 680.87 0)"/><use href="#s" transform="matrix(64.55 0 0 1 704.63 0)"/><use href="#s" transform="matrix(26.91 0 0 1 622.48 0)"/><use href="#s" transform="matrix(35.16 0 0 1 598.75 0)"/><use href="#s" transform="matrix(32.98 0 0 1 630.07 0)"/><use href="#s" transform="matrix(27.78 0 0 1 634.19 0)"/><use href="#s" transform="matrix(37.05 0 0 1 666.29 0)"/><use href="#s" transform="matrix(36.5 0 0 1 652.95 0)"/><use href="#s" transform="matrix(46.83 0 0 1 590.21 0)"/><use href="#s" transform="matrix(23.99 0 0 1 611.26 0)"/><use href="#s" transform="matrix(34.72 0 0 1 628.03 0)"/><use href="#s" transform="matrix(43.78 0 0 1 635.88 0)"/><use href="#s" transform="matrix(33.31 0 0 1 616.15 0)"/><use href="#s" transform="matrix(43.78 0 0 1 646 0)"/><use href="#s" transform="matrix(75.53 0 0 1 692.59 0)"/><use href="#s" transform="matrix(44.95 0 0 1 679.14 0)"/><use href="#s" transform="matrix(103.8 0 0 1 677.22 0)"/><use href="#s" transform="matrix(94.57 0 0 1 681.19 0)"/><use href="#s" transform="matrix(112.8 0 0 1 838.16 0)"/><use href="#s" transform="matrix(256 0 0 1 981.89 0)"/><use href="#s" transform="matrix(38.64 0 0 1 622.39 0)"/><use href="#s" transform="matrix(32.38 0 0 1 621.11 0)"/><use href="#s" transform="matrix(28.08 0 0 1 627.76 0)"/><use href="#s" transform="matrix(39.99 0 0 1 658.37 0)"/><use href="#s" transform="matrix(69.5 0 0 1 685.38 0)"/><use href="#s" transform="matrix(52.75 0 0 1 654.47 0)"/><use href="#s" transform="matrix(76.78 0 0 1 638.36 0)"/><use href="#s" transform="matrix(106.9 0 0 1 692.51 0)"/><use href="#s" transform="matrix(44.83 0 0 1 607.63 0)"/><use href="#s" transform="matrix(57.71 0 0 1 679.8 0)"/><use href="#s" transform="matrix(-3048 0 0 1 -4474.9 0)"/><use href="#s" transform="matrix(38.17 0 0 1 626.98 0)"/><use href="#s" transform="matrix(23.87 0 0 1 628.89 0)"/><use href="#s" transform="matrix(44.58 0 0 1 657.73 0)"/><use href="#s" transform="matrix(39.96 0 0 1 613.14 0)"/><use href="#s" transform="matrix(39.56 0 0 1 607.96 0)"/><use href="#s" transform="matrix(182.4 0 0 1 977.53 0)"/><use href="#s" transform="matrix(53.64 0 0 1 633.55 0)"/><use href="#s" transform="matrix(32.58 0 0 1 676.22 0)"/><use href="#s" transform="matrix(80.31 0 0 1 615.25 0)"/><use href="#s" transform="matrix(52.04 0 0 1 640.9 0)"/><use href="#s" transform="matrix(37.83 0 0 1 621.24 0)"/><use href="#s" transform="matrix(30.48 0 0 1 655.24 0)"/><use href="#s" transform="matrix(76.39 0 0 1 684.63 0)"/><use href="#s" transform="matrix(32.31 0 0 1 640.96 0)"/><use href="#s" transform="matrix(22.23 0 0 1 615.68 0)"/><use href="#s" transform="matrix(49.31 0 0 1 632.7 0)"/><use href="#s" transform="matrix(76.81 0 0 1 707.49 0)"/><use href="#s" transform="matrix(44.66 0 0 1 652.61 0)"/><use href="#s" transform="matrix(37.31 0 0 1 657.98 0)"/><use href="#s" transform="matrix(37.04 0 0 1 607.26 0)"/><use href="#s" transform="matrix(45.22 0 0 1 645.84 0)"/><use href="#s" transform="matrix(55.92 0 0 1 663.99 0)"/><use href="#s" transform="matrix(50.12 0 0 1 643.97 0)"/><use href="#s" transform="matrix(35.18 0 0 1 668.02 0)"/><use href="#s" transform="matrix(45.9 0 0 1 631.42 0)"/><use href="#s" transform="matrix(39.34 0 0 1 680.57 0)"/><use href="#s" transform="matrix(60.62 0 0 1 671.02 0)"/><use href="#s" transform="matrix(38.35 0 0 1 642.46 0)"/><use href="#s" transform="matrix(52.71 0 0 1 700.89 0)"/><use href="#s" transform="matrix(189.6 0 0 1 834.13 0)"/><use href="#s" transform="matrix(59.71 0 0 1 683.46 0)"/><use href="#s" transform="matrix(34.38 0 0 1 608.55 0)"/><use href="#s" transform="matrix(45.51 0 0 1 615.96 0)"/><use href="#s" transform="matrix(103.9 0 0 1 654.03 0)"/><use href="#s" transform="matrix(22.95 0 0 1 628.36 0)"/><use href="#s" transform="matrix(41.69 0 0 1 617.07 0)"/><use href="#s" transform="matrix(53.81 0 0 1 673.47 0)"/><use href="#s" transform="matrix(112.4 0 0 1 737.1 0)"/><use href="#s" transform="matrix(34.01 0 0 1 612.1 0)"/><use href="#s" transform="matrix(52.57 0 0 1 674.66 0)"/><use href="#s" transform="matrix(45.75 0 0 1 623.39 0)"/><use href="#s" transform="matrix(68.52 0 0 1 724.38 0)"/><use href="#s" transform="matrix(35.98 0 0 1 651.44 0)"/><use href="#s" transform="matrix(63.89 0 0 1 705.17 0)"/><use href="#s" transform="matrix(69.87 0 0 1 615.48 0)"/><use href="#s" transform="matrix(44.39 0 0 1 619.13 0)"/><use href="#s" transform="matrix(25.4 0 0 1 636.29 0)"/><use href="#s" transform="matrix(35.76 0 0 1 622.78 0)"/><use href="#s" transform="matrix(38.46 0 0 1 665.05 0)"/><use href="#s" transform="matrix(56.58 0 0 1 631.26 0)"/><use href="#s" transform="matrix(29.23 0 0 1 631.64 0)"/><use href="#s" transform="matrix(55.01 0 0 1 683.69 0)"/><use href="#s" transform="matrix(45.16 0 0 1 624.98 0)"/><use href="#s" transform="matrix(56.82 0 0 1 637.63 0)"/><use href="#s" transform="matrix(33.91 0 0 1 633.73 0)"/><use href="#s" transform="matrix(53.67 0 0 1 659.86 0)"/><use href="#s" transform="matrix(116.1 0 0 1 663.99 0)"/><use href="#s" transform="matrix(33.43 0 0 1 633.55 0)"/><use href="#s" transform="matrix(45.04 0 0 1 645.16 0)"/><use href="#s" transform="matrix(31.26 0 0 1 631.6 0)"/><use href="#s" transform="matrix(60.19 0 0 1 706.09 0)"/><use href="#s" transform="matrix(41.05 0 0 1 613.95 0)"/><use href="#s" transform="matrix(57.33 0 0 1 682.14 0)"/><use href="#s" transform="matrix(42.07 0 0 1 609.55 0)"/><use href="#s" transform="matrix(42.01 0 0 1 692.11 0)"/><use href="#s" transform="matrix(56.91 0 0 1 675.35 0)"/><use href="#s" transform="matrix(39.02 0 0 1 640.24 0)"/><use href="#s" transform="matrix(24.2 0 0 1 635.06 0)"/><use href="#s" transform="matrix(85.14 0 0 1 678.61 0)"/><use href="#s" transform="matrix(60.87 0 0 1 688.93 0)"/><use href="#s" transform="matrix(33.26 0 0 1 629.81 0)"/><use href="#s" transform="matrix(48.53 0 0 1 605.45 0)"/><use href="#s" transform="matrix(73.79 0 0 1 696.65 0)"/><use href="#s" transform="matrix(33.07 0 0 1 676.54 0)"/><use href="#s" transform="matrix(65.08 0 0 1 678.35 0)"/><use href="#s" transform="matrix(130 0 0 1 675.57 0)"/><use href="#s" transform="matrix(91.83 0 0 1 763.76 0)"/><use href="#s" transform="matrix(92.86 0 0 1 717.2 0)"/><use href="#s" transform="matrix(26.52 0 0 1 631.09 0)"/><use href="#s" transform="matrix(35.39 0 0 1 669.95 0)"/><use href="#s" transform="matrix(36.39 0 0 1 671.25 0)"/><use href="#s" transform="matrix(43.48 0 0 1 594.04 0)"/><use href="#s" transform="matrix(45.94 0 0 1 605.78 0)"/><use href="#s" transform="matrix(22.56 0 0 1 623.41 0)"/><use href="#s" transform="matrix(66.11 0 0 1 652.12 0)"/><use href="#s" transform="matrix(28.58 0 0 1 650.25 0)"/><use href="#s" transform="matrix(34.08 0 0 1 660.48 0)"/><use href="#s" transform="matrix(65.55 0 0 1 717.15 0)"/><use href="#s" transform="matrix(60.63 0 0 1 739.5 0)"/><use href="#s" transform="matrix(46.67 0 0 1 653.99 0)"/><use href="#s" transform="matrix(61.08 0 0 1 683.81 0)"/><use href="#s" transform="matrix(58.37 0 0 1 619.32 0)"/><use href="#s" transform="matrix(31.53 0 0 1 620.19 0)"/><use href="#s" transform="matrix(52.07 0 0 1 705.27 0)"/><use href="#s" transform="matrix(49.4 0 0 1 697.39 0)"/><use href="#s" transform="matrix(107.6 0 0 1 645.35 0)"/><use href="#s" transform="matrix(45.23 0 0 1 592.97 0)"/><use href="#s" transform="matrix(44.95 0 0 1 590.69 0)"/><use href="#s" transform="matrix(70.45 0 0 1 683.94 0)"/><use href="#s" transform="matrix(49.83 0 0 1 647.46 0)"/><use href="#s" transform="matrix(47.61 0 0 1 589.13 0)"/><use href="#s" transform="matrix(54.51 0 0 1 678.39 0)"/><use href="#s" transform="matrix(36.61 0 0 1 674.77 0)"/><use href="#s" transform="matrix(25.11 0 0 1 623.09 0)"/><use href="#s" transform="matrix(214.6 0 0 1 776.43 0)"/><use href="#s" transform="matrix(42.68 0 0 1 685.04 0)"/><use href="#s" transform="matrix(28.74 0 0 1 615.27 0)"/><use href="#s" transform="matrix(48.51 0 0 1 664.26 0)"/><use href="#s" transform="matrix(82.47 0 0 1 673.01 0)"/><use href="#s" transform="matrix(29.28 0 0 1 631.19 0)"/><use href="#s" transform="matrix(31.74 0 0 1 611.43 0)"/><use href="#s" transform="matrix(41.4 0 0 1 618.17 0)"/><use href="#s" transform="matrix(30.13 0 0 1 639.72 0)"/><use href="#s" transform="matrix(41.49 0 0 1 631.62 0)"/><use href="#s" transform="matrix(60.54 0 0 1 626.48 0)"/><use href="#s" transform="matrix(45.51 0 0 1 635.99 0)"/><use href="#s" transform="matrix(77.84 0 0 1 740.74 0)"/><use href="#s" transform="matrix(49.5 0 0 1 634.66 0)"/><use href="#s" transform="matrix(63.08 0 0 1 706.73 0)"/><use href="#s" transform="matrix(46.5 0 0 1 672.64 0)"/><use href="#s" transform="matrix(37.16 0 0 1 642.62 0)"/><use href="#s" transform="matrix(65.47 0 0 1 654.3 0)"/><use href="#s" transform="matrix(27.54 0 0 1 636.24 0)"/><use href="#s" transform="matrix(32.13 0 0 1 647.19 0)"/><use href="#s" transform="matrix(51.9 0 0 1 626.04 0)"/><use href="#s" transform="matrix(43.31 0 0 1 588.36 0)"/><use href="#s" transform="matrix(62.72 0 0 1 695.78 0)"/><use href="#s" transform="matrix(28.47 0 0 1 620.57 0)"/><use href="#s" transform="matrix(24.01 0 0 1 619.2 0)"/><use href="#s" transform="matrix(63.86 0 0 1 667.58 0)"/><use href="#s" transform="matrix(52.77 0 0 1 662.04 0)"/><use href="#s" transform="matrix(52.53 0 0 1 653.08 0)"/><use href="#s" transform="matrix(45.23 0 0 1 629.12 0)"/><use href="#s" transform="matrix(37.85 0 0 1 667.63 0)"/><use href="#s" transform="matrix(38.48 0 0 1 659.09 0)"/><use href="#s" transform="matrix(43.59 0 0 1 649.24 0)"/><use href="#s" transform="matrix(41.24 0 0 1 645.16 0)"/><use href="#s" transform="matrix(24.56 0 0 1 622.87 0)"/><use href="#s" transform="matrix(34.6 0 0 1 661.03 0)"/><use href="#s" transform="matrix(33.86 0 0 1 621.12 0)"/><use href="#s" transform="matrix(56.59 0 0 1 609.18 0)"/><use href="#s" transform="matrix(103.8 0 0 1 642.81 0)"/><use href="#s" transform="matrix(46.21 0 0 1 641.76 0)"/><use href="#s" transform="matrix(47.64 0 0 1 675.17 0)"/><use href="#s" transform="matrix(59.07 0 0 1 677.16 0)"/><use href="#s" transform="matrix(40.75 0 0 1 633.29 0)"/><use href="#s" transform="matrix(32.32 0 0 1 639.02 0)"/><use href="#s" transform="matrix(25.47 0 0 1 646.61 0)"/><use href="#s" transform="matrix(34.8 0 0 1 610.78 0)"/><use href="#s" transform="matrix(35.17 0 0 1 641.89 0)"/><use href="#s" transform="matrix(42.4 0 0 1 644.51 0)"/><use href="#s" transform="matrix(34.16 0 0 1 651.19 0)"/><use href="#s" transform="matrix(31.2 0 0 1 616.91 0)"/><use href="#s" transform="matrix(39.77 0 0 1 626.72 0)"/><use href="#s" transform="matrix(28.78 0 0 1 637.22 0)"/><use href="#s" transform="matrix(46.03 0 0 1 688.14 0)"/><use href="#s" transform="matrix(37.09 0 0 1 600.38 0)"/><use href="#s" transform="matrix(97.59 0 0 1 739.4 0)"/><use href="#s" transform="matrix(26.44 0 0 1 635.14 0)"/><use href="#s" transform="matrix(90.92 0 0 1 720.21 0)"/><use href="#s" transform="matrix(176.1 0 0 1 834.34 0)"/><use href="#s" transform="matrix(238.8 0 0 1 1159.5 0)"/><use href="#s" transform="matrix(51.38 0 0 1 643.76 0)"/><use href="#s" transform="matrix(43.98 0 0 1 638.05 0)"/><use href="#s" transform="matrix(58.28 0 0 1 665.86 0)"/><use href="#s" transform="matrix(43.67 0 0 1 665.31 0)"/><use href="#s" transform="matrix(162.4 0 0 1 807.9 0)"/><use href="#s" transform="matrix(46.68 0 0 1 653.61 0)"/><use href="#s" transform="matrix(32.9 0 0 1 657.41 0)"/><use href="#s" transform="matrix(93.88 0 0 1 750.41 0)"/><use href="#s" transform="matrix(77.98 0 0 1 679.62 0)"/><use href="#s" transform="matrix(58.95 0 0 1 666.8 0)"/><use href="#s" transform="matrix(42.55 0 0 1 684.89 0)"/><use href="#s" transform="matrix(41.74 0 0 1 610.51 0)"/><use href="#s" transform="matrix(31.69 0 0 1 676.85 0)"/><use href="#s" transform="matrix(47.35 0 0 1 582.66 0)"/><use href="#s" transform="matrix(40.41 0 0 1 609.99 0)"/><use href="#s" transform="matrix(31.86 0 0 1 661.62 0)"/><use href="#s" transform="matrix(23.23 0 0 1 624 0)"/><use href="#s" transform="matrix(68.67 0 0 1 595.52 0)"/><use href="#s" transform="matrix(35.85 0 0 1 610.23 0)"/><use href="#s" transform="matrix(35.28 0 0 1 644.55 0)"/><use href="#s" transform="matrix(68.67 0 0 1 699.42 0)"/><use href="#s" transform="matrix(76.07 0 0 1 764.61 0)"/><use href="#s" transform="matrix(40.1 0 0 1 641.06 0)"/><use href="#s" transform="matrix(53.23 0 0 1 657.28 0)"/><use href="#s" transform="matrix(59.8 0 0 1 677.24 0)"/><use href="#s" transform="matrix(25.64 0 0 1 615.75 0)"/><use href="#s" transform="matrix(44.31 0 0 1 632.17 0)"/><use href="#s" transform="matrix(76.85 0 0 1 732.34 0)"/><use href="#s" transform="matrix(35.31 0 0 1 654.46 0)"/><use href="#s" transform="matrix(56.16 0 0 1 628.29 0)"/><use href="#s" transform="matrix(83.64 0 0 1 724.58 0)"/><use href="#s" transform="matrix(32.37 0 0 1 643.23 0)"/><use href="#s" transform="matrix(114.9 0 0 1 686.82 0)"/><use href="#s" transform="matrix(94.21 0 0 1 749.7 0)"/><use href="#s" transform="matrix(70.02 0 0 1 632.24 0)"/><use href="#s" transform="matrix(31.53 0 0 1 629.86 0)"/><use href="#s" transform="matrix(78.13 0 0 1 791.61 0)"/><use href="#s" transform="matrix(42.81 0 0 1 634.31 0)"/><use href="#s" transform="matrix(43.7 0 0 1 669.32 0)"/><use href="#s" transform="matrix(46.79 0 0 1 663.1 0)"/><use href="#s" transform="matrix(42.04 0 0 1 699.05 0)"/><use href="#s" transform="matrix(221.5 0 0 1 821.39 0)"/><use href="#s" transform="matrix(36.81 0 0 1 601.42 0)"/><use href="#s" transform="matrix(60.62 0 0 1 617.14 0)"/><use href="#s" transform="matrix(102.9 0 0 1 670.02 0)"/><use href="#s" transform="matrix(44.68 0 0 1 648.22 0)"/><use href="#s" transform="matrix(180.3 0 0 1 767.61 0)"/><use href="#s" transform="matrix(27.69 0 0 1 649.41 0)"/><use href="#s" transform="matrix(49.26 0 0 1 680.74 0)"/><use href="#s" transform="matrix(36.46 0 0 1 641.77 0)"/><use href="#s" transform="matrix(60.15 0 0 1 698.35 0)"/><use href="#s" transform="matrix(31.45 0 0 1 643.65 0)"/><use href="#s" transform="matrix(49.69 0 0 1 618.01 0)"/><use href="#s" transform="matrix(124.3 0 0 1 688.95 0)"/><use href="#s" transform="matrix(47.39 0 0 1 644.04 0)"/><use href="#s" transform="matrix(52.9 0 0 1 640.24 0)"/><use href="#s" transform="matrix(30.29 0 0 1 661.29 0)"/><use href="#s" transform="matrix(48.75 0 0 1 698.76 0)"/><use href="#s" transform="matrix(38.98 0 0 1 612.92 0)"/><use href="#s" transform="matrix(36.4 0 0 1 647.15 0)"/><use href="#s" transform="matrix(55.49 0 0 1 663.81 0)"/><use href="#s" transform="matrix(30.93 0 0 1 616.49 0)"/><use href="#s" transform="matrix(65.7 0 0 1 689.26 0)"/><use href="#s" transform="matrix(34.42 0 0 1 663.18 0)"/><use href="#s" transform="matrix(68.34 0 0 1 685.36 0)"/><use href="#s" transform="matrix(140.2 0 0 1 755.39 0)"/><use href="#s" transform="matrix(62.95 0 0 1 658.94 0)"/><use href="#s" transform="matrix(168.5 0 0 1 738.68 0)"/><use href="#s" transform="matrix(32.87 0 0 1 611.96 0)"/><use href="#s" transform="matrix(82.33 0 0 1 689.92 0)"/><use href="#s" transform="matrix(26.18 0 0 1 623.27 0)"/><use href="#s" transform="matrix(95.58 0 0 1 711.56 0)"/><use href="#s" transform="matrix(61.42 0 0 1 666.02 0)"/><use href="#s" transform="matrix(42.31 0 0 1 649.3 0)"/><use href="#s" transform="matrix(107.9 0 0 1 717.89 0)"/><use href="#s" transform="matrix(28.82 0 0 1 630.9 0)"/><use href="#s" transform="matrix(48.8 0 0 1 671.27 0)"/><use href="#s" transform="matrix(62.09 0 0 1 679.97 0)"/><use href="#s" transform="matrix(29.7 0 0 1 630.1 0)"/><use href="#s" transform="matrix(39.78 0 0 1 671.56 0)"/><use href="#s" transform="matrix(55.43 0 0 1 622.31 0)"/><use href="#s" transform="matrix(32.14 0 0 1 617.97 0)"/><use href="#s" transform="matrix(28.88 0 0 1 627.73 0)"/><use href="#s" transform="matrix(30.29 0 0 1 615.61 0)"/><use href="#s" transform="matrix(42.04 0 0 1 663.27 0)"/><use href="#s" transform="matrix(28.88 0 0 1 619.42 0)"/><use href="#s" transform="matrix(60.53 0 0 1 673.78 0)"/><use href="#s" transform="matrix(46.31 0 0 1 703.04 0)"/><use href="#s" transform="matrix(31.97 0 0 1 653.43 0)"/><use href="#s" transform="matrix(32.58 0 0 1 605.91 0)"/><use href="#s" transform="matrix(57.39 0 0 1 690.51 0)"/><use href="#s" transform="matrix(44.27 0 0 1 589.41 0)"/><use href="#s" transform="matrix(41.05 0 0 1 690.61 0)"/><use href="#s" transform="matrix(31.41 0 0 1 623.41 0)"/><use href="#s" transform="matrix(58.18 0 0 1 628.35 0)"/><use href="#s" transform="matrix(58.98 0 0 1 670.19 0)"/><use href="#s" transform="matrix(66.05 0 0 1 754.09 0)"/><use href="#s" transform="matrix(30.96 0 0 1 630.27 0)"/><use href="#s" transform="matrix(48.33 0 0 1 624.45 0)"/><use href="#s" transform="matrix(39.73 0 0 1 632.82 0)"/><use href="#s" transform="matrix(29.04 0 0 1 623.08 0)"/><use href="#s" transform="matrix(47.3 0 0 1 677.75 0)"/><use href="#s" transform="matrix(29.31 0 0 1 610.92 0)"/><use href="#s" transform="matrix(48.44 0 0 1 612.98 0)"/><use href="#s" transform="matrix(30.16 0 0 1 664.74 0)"/><use href="#s" transform="matrix(27.76 0 0 1 610.73 0)"/><use href="#s" transform="matrix(75.52 0 0 1 652.58 0)"/><use href="#s" transform="matrix(27.13 0 0 1 636.17 0)"/><use href="#s" transform="matrix(33.85 0 0 1 623.65 0)"/><use href="#s" transform="matrix(83.9 0 0 1 701.91 0)"/><use href="#s" transform="matrix(36.98 0 0 1 673.49 0)"/><use href="#s" transform="matrix(39.83 0 0 1 656.12 0)"/><use href="#s" transform="matrix(43.57 0 0 1 685.25 0)"/><use href="#s" transform="matrix(50.65 0 0 1 659.09 0)"/><use href="#s" transform="matrix(28.85 0 0 1 618.11 0)"/><use href="#s" transform="matrix(40.93 0 0 1 682.93 0)"/><use href="#s" transform="matrix(45.77 0 0 1 648.15 0)"/><use href="#s" transform="matrix(56.19 0 0 1 673.74 0)"/><use href="#s" transform="matrix(52.63 0 0 1 613.9 0)"/><use href="#s" transform="matrix(51.54 0 0 1 692.65 0)"/><use href="#s" transform="matrix(55.57 0 0 1 693.81 0)"/><use href="#s" transform="matrix(39.58 0 0 1 656.83 0)"/><use href="#s" transform="matrix(41.86 0 0 1 590.03 0)"/><use href="#s" transform="matrix(112.2 0 0 1 728.79 0)"/><use href="#s" transform="matrix(50.88 0 0 1 712.27 0)"/><use href="#s" transform="matrix(32.57 0 0 1 672.81 0)"/><use href="#s" transform="matrix(73.31 0 0 1 617.89 0)"/><use href="#s" transform="matrix(24.74 0 0 1 628.35 0)"/><use href="#s" transform="matrix(29.77 0 0 1 650.82 0)"/><use href="#s" transform="matrix(36.35 0 0 1 643.45 0)"/><use href="#s" transform="matrix(293.6 0 0 1 963.53 0)"/><use href="#s" transform="matrix(62.87 0 0 1 636.35 0)"/><use href="#s" transform="matrix(43.94 0 0 1 658.51 0)"/><use href="#s" transform="matrix(72.25 0 0 1 686.58 0)"/><use href="#s" transform="matrix(33.98 0 0 1 620.92 0)"/><use href="#s" transform="matrix(49.6 0 0 1 608.83 0)"/><use href="#s" transform="matrix(44.13 0 0 1 668.01 0)"/><use href="#s" transform="matrix(81.73 0 0 1 646.82 0)"/><use href="#s" transform="matrix(117.9 0 0 1 815.1 0)"/><use href="#s" transform="matrix(47.82 0 0 1 688.18 0)"/><use href="#s" transform="matrix(24.64 0 0 1 625.37 0)"/><use href="#s" transform="matrix(120.6 0 0 1 753.07 0)"/><use href="#s" transform="matrix(73.39 0 0 1 702.62 0)"/><use href="#s" transform="matrix(27.71 0 0 1 623.22 0)"/><use href="#s" transform="matrix(57.24 0 0 1 745.24 0)"/><use href="#s" transform="matrix(45.35 0 0 1 675.58 0)"/><use href="#s" transform="matrix(34.39 0 0 1 629.22 0)"/><use href="#s" transform="matrix(47.89 0 0 1 669.37 0)"/><use href="#s" transform="matrix(56.22 0 0 1 688.61 0)"/><use href="#s" transform="matrix(59.27 0 0 1 697.5 0)"/><use href="#s" transform="matrix(36.61 0 0 1 646.06 0)"/><use href="#s" transform="matrix(207.1 0 0 1 812.94 0)"/><use href="#s" transform="matrix(38.94 0 0 1 642.99 0)"/><use href="#s" transform="matrix(38.85 0 0 1 658.14 0)"/><use href="#s" transform="matrix(55.91 0 0 1 655.49 0)"/><use href="#s" transform="matrix(28.17 0 0 1 622.72 0)"/><use href="#s" transform="matrix(60.84 0 0 1 675.09 0)"/><use href="#s" transform="matrix(61.17 0 0 1 694.5 0)"/><use href="#s" transform="matrix(69.29 0 0 1 657.05 0)"/><use href="#s" transform="matrix(32.49 0 0 1 643.69 0)"/><use href="#s" transform="matrix(29.74 0 0 1 654.4 0)"/><use href="#s" transform="matrix(180.5 0 0 1 874.34 0)"/><use href="#s" transform="matrix(36.46 0 0 1 630.29 0)"/><use href="#s" transform="matrix(407.8 0 0 1 1182.5 0)"/><use href="#s" transform="matrix(137.2 0 0 1 847.01 0)"/><use href="#s" transform="matrix(31.97 0 0 1 623.99 0)"/><use href="#s" transform="matrix(35.58 0 0 1 607.52 0)"/><use href="#s" transform="matrix(34.67 0 0 1 659.66 0)"/><use href="#s" transform="matrix(39.93 0 0 1 675.53 0)"/><use href="#s" transform="matrix(33.34 0 0 1 612.25 0)"/><use href="#s" transform="matrix(68.18 0 0 1 715.95 0)"/><use href="#s" transform="matrix(29.95 0 0 1 650.08 0)"/><use href="#s" transform="matrix(73.55 0 0 1 684.09 0)"/><use href="#s" transform="matrix(46.13 0 0 1 629.16 0)"/><use href="#s" transform="matrix(62.84 0 0 1 640.41 0)"/><use href="#s" transform="matrix(35.57 0 0 1 670.79 0)"/><use href="#s" transform="matrix(40.74 0 0 1 611.89 0)"/><use href="#s" transform="matrix(32.07 0 0 1 628.9 0)"/><use href="#s" transform="matrix(39.45 0 0 1 651.52 0)"/><use href="#s" transform="matrix(77.12 0 0 1 670.37 0)"/><use href="#s" transform="matrix(47.97 0 0 1 655.52 0)"/><use href="#s" transform="matrix(84.81 0 0 1 726.9 0)"/><use href="#s" transform="matrix(69.99 0 0 1 665.48 0)"/><use href="#s" transform="matrix(79.71 0 0 1 668.46 0)"/><use href="#s" transform="matrix(31.06 0 0 1 634.32 0)"/><use href="#s" transform="matrix(36.41 0 0 1 657.33 0)"/><use href="#s" transform="matrix(58.33 0 0 1 669.53 0)"/><use href="#s" transform="matrix(52.43 0 0 1 642.4 0)"/><use href="#s" transform="matrix(30.11 0 0 1 623.36 0)"/><use href="#s" transform="matrix(45.15 0 0 1 629.53 0)"/><use href="#s" transform="matrix(36.85 0 0 1 654.81 0)"/><use href="#s" transform="matrix(46.9 0 0 1 666.44 0)"/><use href="#s" transform="matrix(32.99 0 0 1 612.6 0)"/><use href="#s" transform="matrix(50.57 0 0 1 652.42 0)"/><use href="#s" transform="matrix(91.09 0 0 1 728.54 0)"/><use href="#s" transform="matrix(40.05 0 0 1 643.54 0)"/><use href="#s" transform="matrix(85.7 0 0 1 757.02 0)"/><use href="#s" transform="matrix(40.87 0 0 1 666.76 0)"/><use href="#s" transform="matrix(50.95 0 0 1 624.15 0)"/><use href="#s" transform="matrix(62.2 0 0 1 660.28 0)"/><use href="#s" transform="matrix(43.5 0 0 1 662 0)"/><use href="#s" transform="matrix(74.53 0 0 1 614.36 0)"/><use href="#s" transform="matrix(35.04 0 0 1 613.43 0)"/><use href="#s" transform="matrix(56.03 0 0 1 688.89 0)"/><use href="#s" transform="matrix(55.4 0 0 1 694.79 0)"/><use href="#s" transform="matrix(69.89 0 0 1 686.85 0)"/><use href="#s" transform="matrix(71.94 0 0 1 708.12 0)"/><use href="#s" transform="matrix(35.91 0 0 1 635.04 0)"/><use href="#s" transform="matrix(46.94 0 0 1 621.88 0)"/><use href="#s" transform="matrix(80.92 0 0 1 660.24 0)"/><use href="#s" transform="matrix(164.5 0 0 1 780.34 0)"/><use href="#s" transform="matrix(115.6 0 0 1 779.9 0)"/><use href="#s" transform="matrix(47.45 0 0 1 658.04 0)"/><use href="#s" transform="matrix(46.97 0 0 1 677.56 0)"/><use href="#s" transform="matrix(54.54 0 0 1 633.21 0)"/><use href="#s" transform="matrix(177.9 0 0 1 816.37 0)"/><use href="#s" transform="matrix(187.1 0 0 1 747.71 0)"/><use href="#s" transform="matrix(50.88 0 0 1 666.81 0)"/><use href="#s" transform="matrix(29.49 0 0 1 622.42 0)"/><use href="#s" transform="matrix(31.72 0 0 1 627.78 0)"/><use href="#s" transform="matrix(50.48 0 0 1 632.4 0)"/><use href="#s" transform="matrix(63.16 0 0 1 645.2 0)"/><use href="#s" transform="matrix(34.34 0 0 1 629.48 0)"/><use href="#s" transform="matrix(51.25 0 0 1 715.12 0)"/><use href="#s" transform="matrix(25.71 0 0 1 627.3 0)"/><use href="#s" transform="matrix(73.68 0 0 1 666.73 0)"/><use href="#s" transform="matrix(25.95 0 0 1 621.63 0)"/><use href="#s" transform="matrix(46.16 0 0 1 615.25 0)"/><use href="#s" transform="matrix(34.3 0 0 1 612.92 0)"/><use href="#s" transform="matrix(33.2 0 0 1 666.2 0)"/><use href="#s" transform="matrix(24.36 0 0 1 607.08 0)"/><use href="#s" transform="matrix(58.66 0 0 1 623.88 0)"/><use href="#s" transform="matrix(44.66 0 0 1 639.55 0)"/><use href="#s" transform="matrix(51.08 0 0 1 671.28 0)"/><use href="#s" transform="matrix(69.85 0 0 1 634.16 0)"/><use href="#s" transform="matrix(90.07 0 0 1 781.15 0)"/><use href="#s" transform="matrix(35.42 0 0 1 608.9 0)"/><use href="#s" transform="matrix(43.29 0 0 1 631.35 0)"/><use href="#s" transform="matrix(50.21 0 0 1 653.16 0)"/><use href="#s" transform="matrix(46.02 0 0 1 594.8 0)"/><use href="#s" transform="matrix(35.41 0 0 1 631.96 0)"/><use href="#s" transform="matrix(63.17 0 0 1 627.75 0)"/><use href="#s" transform="matrix(111.5 0 0 1 692.91 0)"/><use href="#s" transform="matrix(37.2 0 0 1 637.66 0)"/><use href="#s" transform="matrix(81.94 0 0 1 715 0)"/><use href="#s" transform="matrix(41.74 0 0 1 681.97 0)"/><use href="#s" transform="matrix(46.93 0 0 1 643.89 0)"/><use href="#s" transform="matrix(101.9 0 0 1 694 0)"/><use href="#s" transform="matrix(122.8 0 0 1 762.73 0)"/><use href="#s" transform="matrix(43.83 0 0 1 656.32 0)"/><use href="#s" transform="matrix(120.2 0 0 1 801.02 0)"/><use href="#s" transform="matrix(38.08 0 0 1 601.81 0)"/><use href="#s" transform="matrix(63.11 0 0 1 689.11 0)"/><use href="#s" transform="matrix(63.9 0 0 1 689.1 0)"/><use href="#s" transform="matrix(53.16 0 0 1 582.06 0)"/><use href="#s" transform="matrix(33.8 0 0 1 682.31 0)"/><use href="#s" transform="matrix(68.05 0 0 1 753.72 0)"/><use href="#s" transform="matrix(68.19 0 0 1 652.36 0)"/><use href="#s" transform="matrix(49.17 0 0 1 660.4 0)"/><use href="#s" transform="matrix(40.15 0 0 1 613.5 0)"/><use href="#s" transform="matrix(54.34 0 0 1 654.1 0)"/><use href="#s" transform="matrix(67.04 0 0 1 724.69 0)"/><use href="#s" transform="matrix(46.78 0 0 1 646.67 0)"/><use href="#s" transform="matrix(40.08 0 0 1 658.35 0)"/><use href="#s" transform="matrix(34.72 0 0 1 611.18 0)"/><use href="#s" transform="matrix(57.89 0 0 1 637.84 0)"/><use href="#s" transform="matrix(104.2 0 0 1 717.89 0)"/><use href="#s" transform="matrix(71.08 0 0 1 684.71 0)"/><use href="#s" transform="matrix(43.9 0 0 1 650.1 0)"/><use href="#s" transform="matrix(46.2 0 0 1 664.41 0)"/><use href="#s" transform="matrix(29.14 0 0 1 642.14 0)"/><use href="#s" transform="matrix(41.67 0 0 1 640.26 0)"/><use href="#s" transform="matrix(44.81 0 0 1 686.26 0)"/><use href="#s" transform="matrix(36.22 0 0 1 641.87 0)"/><use href="#s" transform="matrix(34.66 0 0 1 623.54 0)"/><use href="#s" transform="matrix(66.71 0 0 1 704.96 0)"/><use href="#s" transform="matrix(74.94 0 0 1 724.43 0)"/><use href="#s" transform="matrix(38.7 0 0 1 623.23 0)"/><use href="#s" transform="matrix(30.29 0 0 1 633.13 0)"/><use href="#s" transform="matrix(32.78 0 0 1 621.03 0)"/></g></g>
<path fill="none" stroke="#000" stroke-width="3.3" stroke-linejoin="round" stroke-linecap="round" d="M505.2 153.4 508.0 153.1 510.8 152.7 513.6 152.3 516.5 151.9 519.3 151.4 522.1 150.9 524.9 150.4 527.8 149.9 530.6 149.3 533.4 148.7 536.2 148.1 539.1 147.4 541.9 146.7 544.7 146.0 547.5 145.2 550.4 144.4 553.2 143.6 556.0 142.7 558.8 141.7 561.7 140.8 564.5 139.7 567.3 138.7 570.1 137.5 573.0 136.4 575.8 135.1 578.6 133.9 581.4 132.5 584.3 131.2 587.1 129.7 589.9 128.3 592.7 126.8 595.6 125.2 598.4 123.6 601.2 122.0 604.0 120.3 606.9 118.6 609.7 116.8 612.5 114.9 615.3 113.1 618.2 111.1 621.0 109.1 623.8 107.0 626.6 104.9 629.5 102.7 632.3 100.5 635.1 98.2 637.9 96.0 640.8 93.7 643.6 91.4 646.4 89.1 649.2 86.8 652.1 84.5 654.9 82.2 657.7 80.0 660.5 77.7 663.4 75.4 666.2 73.2 669.0 71.0 671.8 68.8"/>
<path stroke="#000" stroke-width=".95" d="M505.3 165.9v-5M509.8 165.9v-5M516.5 165.9v-5M526 165.9v-5M530.1 165.9v-5M532.3 165.9v-5M533.2 165.9v-5M534.8 165.9v-5M536.2 165.9v-5M537.5 165.9v-5M539.3 165.9v-5M541.9 165.9v-5M546.3 165.9v-5M548 165.9v-5M549.4 165.9v-5M550.3 165.9v-5M551.7 165.9v-5M553.3 165.9v-5M555.5 165.9v-5M557.3 165.9v-5M557.7 165.9v-5M559.5 165.9v-5M561.3 165.9v-5M563 165.9v-5M564.8 165.9v-5M566.9 165.9v-5M569.1 165.9v-5M571.3 165.9v-5M573.5 165.9v-5M575.7 165.9v-5M577.9 165.9v-5M580.1 165.9v-5M582.3 165.9v-5M584.9 165.9v-5M587.1 165.9v-5M589.3 165.9v-5M591.5 165.9v-5M593.7 165.9v-5M595.8 165.9v-5M598 165.9v-5M599.8 165.9v-5M602 165.9v-5M604.2 165.9v-5M605.9 165.9v-5M608.1 165.9v-5M610.7 165.9v-5M614.4 165.9v-5M614.7 165.9v-5M615.4 165.9v-5M616.9 165.9v-5M619.3 165.9v-5M621.7 165.9v-5M623.1 165.9v-5M624.6 165.9v-5M626.3 165.9v-5M630.8 165.9v-5M635.4 165.9v-5M640 165.9v-5M672 165.9v-5"/>
<rect x="498.5" y="0.5" width="180" height="165.4" fill="none" stroke="#000" stroke-width="1"/>
<path stroke="#000" stroke-width="1" d="M498.5 159.7h-6M498.5 129.1h-6M498.5 98.5h-6M498.5 67.9h-6M498.5 37.3h-6M498.5 6.7h-6M527.3 165.9v6M573.3 165.9v6M619.3 165.9v6M665.3 165.9v6"/>
<text transform="translate(487.6 159.7) rotate(-90) scale(.95 1)" text-anchor="middle" font-size="10">0.0</text>
<text transform="translate(487.6 129.1) rotate(-90) scale(.95 1)" text-anchor="middle" font-size="10">0.2</text>
<text transform="translate(487.6 98.5) rotate(-90) scale(.95 1)" text-anchor="middle" font-size="10">0.4</text>
<text transform="translate(487.6 67.9) rotate(-90) scale(.95 1)" text-anchor="middle" font-size="10">0.6</text>
<text transform="translate(487.6 37.3) rotate(-90) scale(.95 1)" text-anchor="middle" font-size="10">0.8</text>
<text transform="translate(487.6 6.7) rotate(-90) scale(.95 1)" text-anchor="middle" font-size="10">1.0</text>
<text transform="translate(527.3 182.6) scale(.95 1)" text-anchor="middle" font-size="10">20</text>
<text transform="translate(573.3 182.6) scale(.95 1)" text-anchor="middle" font-size="10">40</text>
<text transform="translate(619.3 182.6) scale(.95 1)" text-anchor="middle" font-size="10">60</text>
<text transform="translate(665.3 182.6) scale(.95 1)" text-anchor="middle" font-size="10">80</text>
<text transform="translate(471.9 83.2) rotate(-90)" text-anchor="middle" font-size="11.4">FV3 Prevalence</text>
<text x="597.3" y="198.7" text-anchor="middle" font-size="11.4">Water level</text>
<text x="501.8" y="15.6" font-size="15" font-weight="bold">C</text>
<clipPath id="cD"><rect x="42.1" y="0.5" width="166.7" height="165.4"/></clipPath>
<g transform="translate(0 216.8)"><g clip-path="url(#cD)"><use href="#s" transform="matrix(80.61 0 0 1 240.3 0)"/><use href="#s" transform="matrix(53.69 0 0 1 93.399 0)"/><use href="#s" transform="matrix(70.07 0 0 1 142.31 0)"/><use href="#s" transform="matrix(67.67 0 0 1 126.19 0)"/><use href="#s" transform="matrix(72.43 0 0 1 169.94 0)"/><use href="#s" transform="matrix(39.33 0 0 1 153.94 0)"/><use href="#s" transform="matrix(179.1 0 0 1 395.17 0)"/><use href="#s" transform="matrix(53.5 0 0 1 108.02 0)"/><use href="#s" transform="matrix(42.79 0 0 1 160.82 0)"/><use href="#s" transform="matrix(219.7 0 0 1 517.16 0)"/><use href="#s" transform="matrix(62.49 0 0 1 168.17 0)"/><use href="#s" transform="matrix(113.2 0 0 1 181.4 0)"/><use href="#s" transform="matrix(44.72 0 0 1 129.93 0)"/><use href="#s" transform="matrix(123.4 0 0 1 219.88 0)"/><use href="#s" transform="matrix(93.07 0 0 1 182.09 0)"/><use href="#s" transform="matrix(55.72 0 0 1 166.47 0)"/><use href="#s" transform="matrix(90.69 0 0 1 207.53 0)"/><use href="#s" transform="matrix(33.12 0 0 1 145.07 0)"/><use href="#s" transform="matrix(51.78 0 0 1 167.58 0)"/><use href="#s" transform="matrix(151.9 0 0 1 279.36 0)"/><use href="#s" transform="matrix(77.04 0 0 1 170.05 0)"/><use href="#s" transform="matrix(98.69 0 0 1 209.19 0)"/><use href="#s" transform="matrix(43.45 0 0 1 125.64 0)"/><use href="#s" transform="matrix(399 0 0 1 572.98 0)"/><use href="#s" transform="matrix(-3049 0 0 1 -4455.9 0)"/><use href="#s" transform="matrix(40.77 0 0 1 118.84 0)"/><use href="#s" transform="matrix(46.95 0 0 1 196.97 0)"/><use href="#s" transform="matrix(85.53 0 0 1 74.875 0)"/><use href="#s" transform="matrix(183.7 0 0 1 152.79 0)"/><use href="#s" transform="matrix(68.79 0 0 1 225.8 0)"/><use href="#s" transform="matrix(90.77 0 0 1 124.02 0)"/><use href="#s" transform="matrix(66.05 0 0 1 182.91 0)"/><use href="#s" transform="matrix(263.6 0 0 1 314.51 0)"/><use href="#s" transform="matrix(149.9 0 0 1 444.42 0)"/><use href="#s" transform="matrix(64.43 0 0 1 166.18 0)"/><use href="#s" transform="matrix(41.09 0 0 1 137.67 0)"/><use href="#s" transform="matrix(56.66 0 0 1 119.07 0)"/><use href="#s" transform="matrix(2748 0 0 1 3438.5 0)"/><use href="#s" transform="matrix(46.73 0 0 1 127.03 0)"/><use href="#s" transform="matrix(65.83 0 0 1 286.17 0)"/><use href="#s" transform="matrix(104.3 0 0 1 235.1 0)"/><use href="#s" transform="matrix(51.02 0 0 1 188.73 0)"/><use href="#s" transform="matrix(133 0 0 1 158.98 0)"/><use href="#s" transform="matrix(93.8 0 0 1 263.41 0)"/><use href="#s" transform="matrix(46.52 0 0 1 211.47 0)"/><use href="#s" transform="matrix(67.13 0 0 1 178.15 0)"/><use href="#s" transform="matrix(46.92 0 0 1 187.55 0)"/><use href="#s" transform="matrix(61.26 0 0 1 138.5 0)"/><use href="#s" transform="matrix(37.28 0 0 1 155.8 0)"/><use href="#s" transform="matrix(79.38 0 0 1 170.48 0)"/><use href="#s" transform="matrix(58.25 0 0 1 235.33 0)"/><use href="#s" transform="matrix(73.77 0 0 1 119.44 0)"/><use href="#s" transform="matrix(73.52 0 0 1 186.16 0)"/><use href="#s" transform="matrix(196 0 0 1 313.89 0)"/><use href="#s" transform="matrix(711.2 0 0 1 1557.5 0)"/><use href="#s" transform="matrix(137.8 0 0 1 136.32 0)"/><use href="#s" transform="matrix(51.63 0 0 1 151.71 0)"/><use href="#s" transform="matrix(56.24 0 0 1 123.4 0)"/><use href="#s" transform="matrix(129.7 0 0 1 305.93 0)"/><use href="#s" transform="matrix(134 0 0 1 180.88 0)"/><use href="#s" transform="matrix(95.29 0 0 1 347.99 0)"/><use href="#s" transform="matrix(43.98 0 0 1 187.35 0)"/><use href="#s" transform="matrix(77.66 0 0 1 163.24 0)"/><use href="#s" transform="matrix(83.48 0 0 1 261.86 0)"/><use href="#s" transform="matrix(44.33 0 0 1 169.31 0)"/><use href="#s" transform="matrix(54.32 0 0 1 129.64 0)"/><use href="#s" transform="matrix(48.01 0 0 1 137.32 0)"/><use href="#s" transform="matrix(53.11 0 0 1 245.38 0)"/><use href="#s" transform="matrix(75.01 0 0 1 183.97 0)"/><use href="#s" transform="matrix(41.82 0 0 1 145.92 0)"/><use href="#s" transform="matrix(54.74 0 0 1 204.07 0)"/><use href="#s" transform="matrix(129.6 0 0 1 225.64 0)"/><use href="#s" transform="matrix(107.7 0 0 1 208.93 0)"/><use href="#s" transform="matrix(70.92 0 0 1 112.15 0)"/><use href="#s" transform="matrix(66.45 0 0 1 206.54 0)"/><use href="#s" transform="matrix(127.7 0 0 1 406.05 0)"/><use href="#s" transform="matrix(101.7 0 0 1 96.298 0)"/><use href="#s" transform="matrix(41.58 0 0 1 97.782 0)"/><use href="#s" transform="matrix(71.98 0 0 1 146.33 0)"/><use href="#s" transform="matrix(36.52 0 0 1 144.69 0)"/><use href="#s" transform="matrix(53.22 0 0 1 170.33 0)"/><use href="#s" transform="matrix(113.9 0 0 1 201.06 0)"/><use href="#s" transform="matrix(50.65 0 0 1 247.48 0)"/><use href="#s" transform="matrix(40.52 0 0 1 170.51 0)"/><use href="#s" transform="matrix(78.71 0 0 1 182.6 0)"/><use href="#s" transform="matrix(33.29 0 0 1 161.3 0)"/><use href="#s" transform="matrix(83.17 0 0 1 165.17 0)"/><use href="#s" transform="matrix(49.5 0 0 1 152.94 0)"/><use href="#s" transform="matrix(91 0 0 1 357.91 0)"/><use href="#s" transform="matrix(59.57 0 0 1 164.9 0)"/><use href="#s" transform="matrix(53.83 0 0 1 151.07 0)"/><use href="#s" transform="matrix(58.5 0 0 1 167.09 0)"/><use href="#s" transform="matrix(50.02 0 0 1 121.88 0)"/><use href="#s" transform="matrix(45.97 0 0 1 198.13 0)"/><use href="#s" transform="matrix(45.4 0 0 1 158.25 0)"/><use href="#s" transform="matrix(2356 0 0 1 3971.5 0)"/><use href="#s" transform="matrix(54.25 0 0 1 142.37 0)"/><use href="#s" transform="matrix(54.39 0 0 1 143.98 0)"/><use href="#s" transform="matrix(-896.2 0 0 1 -381.31 0)"/><use href="#s" transform="matrix(248.7 0 0 1 651.69 0)"/><use href="#s" transform="matrix(91.38 0 0 1 280.79 0)"/><use href="#s" transform="matrix(94.63 0 0 1 189.96 0)"/><use href="#s" transform="matrix(40.36 0 0 1 132.96 0)"/><use href="#s" transform="matrix(526.5 0 0 1 748.04 0)"/><use href="#s" transform="matrix(55.88 0 0 1 166.54 0)"/><use href="#s" transform="matrix(92.07 0 0 1 120.84 0)"/><use href="#s" transform="matrix(47.16 0 0 1 167.73 0)"/><use href="#s" transform="matrix(94.55 0 0 1 257.77 0)"/><use href="#s" transform="matrix(70.9 0 0 1 138.15 0)"/><use href="#s" transform="matrix(231.5 0 0 1 497.91 0)"/><use href="#s" transform="matrix(-497.8 0 0 1 -615.87 0)"/><use href="#s" transform="matrix(110 0 0 1 198.92 0)"/><use href="#s" transform="matrix(282.9 0 0 1 419.91 0)"/><use href="#s" transform="matrix(134.2 0 0 1 462.78 0)"/><use href="#s" transform="matrix(56.53 0 0 1 116.46 0)"/><use href="#s" transform="matrix(54.73 0 0 1 147.79 0)"/><use href="#s" transform="matrix(63.25 0 0 1 151.62 0)"/><use href="#s" transform="matrix(85.32 0 0 1 277.8 0)"/><use href="#s" transform="matrix(164.4 0 0 1 302.17 0)"/><use href="#s" transform="matrix(-1976 0 0 1 -2593.2 0)"/><use href="#s" transform="matrix(91.19 0 0 1 194.22 0)"/><use href="#s" transform="matrix(116.6 0 0 1 223.32 0)"/><use href="#s" transform="matrix(85.62 0 0 1 196.98 0)"/><use href="#s" transform="matrix(43.3 0 0 1 133.61 0)"/><use href="#s" transform="matrix(140.6 0 0 1 261.49 0)"/><use href="#s" transform="matrix(80.88 0 0 1 211.05 0)"/><use href="#s" transform="matrix(242.9 0 0 1 537.26 0)"/><use href="#s" transform="matrix(49.24 0 0 1 119.69 0)"/><use href="#s" transform="matrix(60.37 0 0 1 113.67 0)"/><use href="#s" transform="matrix(-149.9 0 0 1 -78.118 0)"/><use href="#s" transform="matrix(-208.6 0 0 1 -180.4 0)"/><use href="#s" transform="matrix(44.42 0 0 1 124.19 0)"/><use href="#s" transform="matrix(35.25 0 0 1 135.03 0)"/><use href="#s" transform="matrix(61.24 0 0 1 143.76 0)"/><use href="#s" transform="matrix(36.53 0 0 1 145.38 0)"/><use href="#s" transform="matrix(102.2 0 0 1 330.82 0)"/><use href="#s" transform="matrix(43.83 0 0 1 195.35 0)"/><use href="#s" transform="matrix(73.99 0 0 1 116.8 0)"/><use href="#s" transform="matrix(157.4 0 0 1 208.28 0)"/><use href="#s" transform="matrix(80.63 0 0 1 275.47 0)"/><use href="#s" transform="matrix(90.48 0 0 1 206.72 0)"/><use href="#s" transform="matrix(185.4 0 0 1 344.51 0)"/><use href="#s" transform="matrix(56.2 0 0 1 91.419 0)"/><use href="#s" transform="matrix(235 0 0 1 259.09 0)"/><use href="#s" transform="matrix(77.2 0 0 1 251.25 0)"/><use href="#s" transform="matrix(1.155e+04 0 0 1 19172 0)"/><use href="#s" transform="matrix(33.13 0 0 1 150.18 0)"/><use href="#s" transform="matrix(83.94 0 0 1 209.64 0)"/><use href="#s" transform="matrix(60.45 0 0 1 154.91 0)"/><use href="#s" transform="matrix(74.96 0 0 1 203.74 0)"/><use href="#s" transform="matrix(47.9 0 0 1 182.98 0)"/><use href="#s" transform="matrix(68.06 0 0 1 192.88 0)"/><use href="#s" transform="matrix(1017 0 0 1 687.02 0)"/><use href="#s" transform="matrix(51.22 0 0 1 168.97 0)"/><use href="#s" transform="matrix(137.9 0 0 1 303.81 0)"/><use href="#s" transform="matrix(96.28 0 0 1 156.83 0)"/><use href="#s" transform="matrix(86.45 0 0 1 152.47 0)"/><use href="#s" transform="matrix(48.88 0 0 1 151.2 0)"/><use href="#s" transform="matrix(1272 0 0 1 1204.5 0)"/><use href="#s" transform="matrix(50.93 0 0 1 89.05 0)"/><use href="#s" transform="matrix(76.33 0 0 1 174.66 0)"/><use href="#s" transform="matrix(289.5 0 0 1 523.11 0)"/><use href="#s" transform="matrix(352.9 0 0 1 738.18 0)"/><use href="#s" transform="matrix(95.75 0 0 1 182.91 0)"/><use href="#s" transform="matrix(97.11 0 0 1 203.87 0)"/><use href="#s" transform="matrix(84.81 0 0 1 129.95 0)"/><use href="#s" transform="matrix(88.56 0 0 1 336.62 0)"/><use href="#s" transform="matrix(132.9 0 0 1 199.16 0)"/><use href="#s" transform="matrix(63.09 0 0 1 167.09 0)"/><use href="#s" transform="matrix(75.09 0 0 1 110.09 0)"/><use href="#s" transform="matrix(-288.2 0 0 1 -250.86 0)"/><use href="#s" transform="matrix(114.7 0 0 1 272.63 0)"/><use href="#s" transform="matrix(145.1 0 0 1 317.31 0)"/><use href="#s" transform="matrix(73.7 0 0 1 211.74 0)"/><use href="#s" transform="matrix(64.68 0 0 1 223.44 0)"/><use href="#s" transform="matrix(73.32 0 0 1 193.29 0)"/><use href="#s" transform="matrix(414.8 0 0 1 580.2 0)"/><use href="#s" transform="matrix(61.7 0 0 1 171.67 0)"/><use href="#s" transform="matrix(102.9 0 0 1 360.16 0)"/><use href="#s" transform="matrix(86.07 0 0 1 207.41 0)"/><use href="#s" transform="matrix(33.03 0 0 1 137.41 0)"/><use href="#s" transform="matrix(196.3 0 0 1 410.48 0)"/><use href="#s" transform="matrix(49.91 0 0 1 112.52 0)"/><use href="#s" transform="matrix(59.39 0 0 1 114.27 0)"/><use href="#s" transform="matrix(270.1 0 0 1 328.7 0)"/><use href="#s" transform="matrix(49.91 0 0 1 175.47 0)"/><use href="#s" transform="matrix(35.85 0 0 1 179.83 0)"/><use href="#s" transform="matrix(171.2 0 0 1 376.81 0)"/><use href="#s" transform="matrix(644.6 0 0 1 1422.5 0)"/><use href="#s" transform="matrix(146.2 0 0 1 243.37 0)"/><use href="#s" transform="matrix(1755 0 0 1 2541.7 0)"/><use href="#s" transform="matrix(56.65 0 0 1 166.41 0)"/><use href="#s" transform="matrix(591.3 0 0 1 1159.8 0)"/><use href="#s" transform="matrix(48.68 0 0 1 104.94 0)"/><use href="#s" transform="matrix(34.18 0 0 1 129.44 0)"/><use href="#s" transform="matrix(56.89 0 0 1 251.82 0)"/><use href="#s" transform="matrix(-1050 0 0 1 -1731.7 0)"/><use href="#s" transform="matrix(72.68 0 0 1 175.36 0)"/><use href="#s" transform="matrix(87.54 0 0 1 254.24 0)"/><use href="#s" transform="matrix(176.8 0 0 1 221.4 0)"/><use href="#s" transform="matrix(312 0 0 1 687.27 0)"/><use href="#s" transform="matrix(140.8 0 0 1 411.79 0)"/><use href="#s" transform="matrix(67.51 0 0 1 161.91 0)"/><use href="#s" transform="matrix(-310.3 0 0 1 -211.05 0)"/><use href="#s" transform="matrix(150.5 0 0 1 487.07 0)"/><use href="#s" transform="matrix(83.87 0 0 1 152.95 0)"/><use href="#s" transform="matrix(42.97 0 0 1 175.81 0)"/><use href="#s" transform="matrix(150.8 0 0 1 257.1 0)"/><use href="#s" transform="matrix(129.7 0 0 1 352.97 0)"/><use href="#s" transform="matrix(40.19 0 0 1 136.26 0)"/><use href="#s" transform="matrix(155.8 0 0 1 265.62 0)"/><use href="#s" transform="matrix(119.6 0 0 1 106.58 0)"/><use href="#s" transform="matrix(80.53 0 0 1 319.16 0)"/><use href="#s" transform="matrix(215.9 0 0 1 510.65 0)"/><use href="#s" transform="matrix(55.45 0 0 1 192.43 0)"/><use href="#s" transform="matrix(59.37 0 0 1 106.07 0)"/><use href="#s" transform="matrix(203.5 0 0 1 429.54 0)"/><use href="#s" transform="matrix(76.72 0 0 1 254.86 0)"/><use href="#s" transform="matrix(181.8 0 0 1 281.8 0)"/><use href="#s" transform="matrix(53.73 0 0 1 120.98 0)"/><use href="#s" transform="matrix(80.39 0 0 1 208.5 0)"/><use href="#s" transform="matrix(88.65 0 0 1 161.76 0)"/><use href="#s" transform="matrix(58.01 0 0 1 140.8 0)"/><use href="#s" transform="matrix(76.2 0 0 1 137.41 0)"/><use href="#s" transform="matrix(34.72 0 0 1 145.2 0)"/><use href="#s" transform="matrix(1141 0 0 1 1732.1 0)"/><use href="#s" transform="matrix(99.23 0 0 1 167.19 0)"/><use href="#s" transform="matrix(50.85 0 0 1 182.77 0)"/><use href="#s" transform="matrix(-170.1 0 0 1 -7.5753 0)"/><use href="#s" transform="matrix(147.5 0 0 1 176.04 0)"/><use href="#s" transform="matrix(78.16 0 0 1 179.32 0)"/><use href="#s" transform="matrix(78.83 0 0 1 236.63 0)"/><use href="#s" transform="matrix(110.9 0 0 1 283.03 0)"/><use href="#s" transform="matrix(47.3 0 0 1 135.43 0)"/><use href="#s" transform="matrix(83.36 0 0 1 175.79 0)"/><use href="#s" transform="matrix(53.38 0 0 1 209.78 0)"/><use href="#s" transform="matrix(49.19 0 0 1 189.11 0)"/><use href="#s" transform="matrix(311.5 0 0 1 354.61 0)"/><use href="#s" transform="matrix(47.38 0 0 1 191.41 0)"/><use href="#s" transform="matrix(120.2 0 0 1 126.98 0)"/><use href="#s" transform="matrix(136.1 0 0 1 325.39 0)"/><use href="#s" transform="matrix(52.09 0 0 1 210.12 0)"/><use href="#s" transform="matrix(60.35 0 0 1 209.36 0)"/><use href="#s" transform="matrix(149.4 0 0 1 167.97 0)"/><use href="#s" transform="matrix(118.2 0 0 1 252.52 0)"/><use href="#s" transform="matrix(56.16 0 0 1 205.24 0)"/><use href="#s" transform="matrix(292 0 0 1 338.9 0)"/><use href="#s" transform="matrix(247.3 0 0 1 429.79 0)"/><use href="#s" transform="matrix(82.08 0 0 1 250.42 0)"/><use href="#s" transform="matrix(114.5 0 0 1 384.3 0)"/><use href="#s" transform="matrix(40.63 0 0 1 175.86 0)"/><use href="#s" transform="matrix(68.88 0 0 1 174.49 0)"/><use href="#s" transform="matrix(249.9 0 0 1 433.16 0)"/><use href="#s" transform="matrix(-3408 0 0 1 -3073.5 0)"/><use href="#s" transform="matrix(-2.572e+04 0 0 1 -22949 0)"/><use href="#s" transform="matrix(-2789 0 0 1 -3267.6 0)"/><use href="#s" transform="matrix(81.22 0 0 1 304.29 0)"/><use href="#s" transform="matrix(52.65 0 0 1 172.28 0)"/><use href="#s" transform="matrix(133.6 0 0 1 247.1 0)"/><use href="#s" transform="matrix(50.25 0 0 1 150.87 0)"/><use href="#s" transform="matrix(66.26 0 0 1 164.26 0)"/><use href="#s" transform="matrix(57.42 0 0 1 176.03 0)"/><use href="#s" transform="matrix(280.3 0 0 1 582.02 0)"/><use href="#s" transform="matrix(54.14 0 0 1 105.31 0)"/><use href="#s" transform="matrix(119.5 0 0 1 226.2 0)"/><use href="#s" transform="matrix(136.6 0 0 1 478.99 0)"/><use href="#s" transform="matrix(78.69 0 0 1 226.76 0)"/><use href="#s" transform="matrix(63.06 0 0 1 230.8 0)"/><use href="#s" transform="matrix(40.83 0 0 1 178.3 0)"/><use href="#s" transform="matrix(1362 0 0 1 1669.6 0)"/><use href="#s" transform="matrix(76.92 0 0 1 192.01 0)"/><use href="#s" transform="matrix(906.9 0 0 1 537.81 0)"/><use href="#s" transform="matrix(57.09 0 0 1 123.07 0)"/><use href="#s" transform="matrix(133.4 0 0 1 246.73 0)"/><use href="#s" transform="matrix(54.73 0 0 1 172.82 0)"/><use href="#s" transform="matrix(43.02 0 0 1 153.57 0)"/><use href="#s" transform="matrix(336.7 0 0 1 492.14 0)"/><use href="#s" transform="matrix(59.35 0 0 1 183.37 0)"/><use href="#s" transform="matrix(177.4 0 0 1 196.82 0)"/><use href="#s" transform="matrix(56.17 0 0 1 107.88 0)"/><use href="#s" transform="matrix(84.3 0 0 1 140.98 0)"/><use href="#s" transform="matrix(163.1 0 0 1 329.05 0)"/><use href="#s" transform="matrix(35.21 0 0 1 138.81 0)"/><use href="#s" transform="matrix(343.7 0 0 1 389.98 0)"/><use href="#s" transform="matrix(68.73 0 0 1 208.14 0)"/><use href="#s" transform="matrix(79.02 0 0 1 191.65 0)"/><use href="#s" transform="matrix(79.84 0 0 1 145.57 0)"/><use href="#s" transform="matrix(108.2 0 0 1 280.84 0)"/><use href="#s" transform="matrix(79.78 0 0 1 224.05 0)"/><use href="#s" transform="matrix(60.5 0 0 1 229.59 0)"/><use href="#s" transform="matrix(120.5 0 0 1 170.91 0)"/><use href="#s" transform="matrix(-5107 0 0 1 -3959.9 0)"/><use href="#s" transform="matrix(74 0 0 1 238.51 0)"/><use href="#s" transform="matrix(-447.6 0 0 1 -413.84 0)"/><use href="#s" transform="matrix(64.54 0 0 1 86.241 0)"/><use href="#s" transform="matrix(113.9 0 0 1 127.2 0)"/><use href="#s" transform="matrix(63.79 0 0 1 109.82 0)"/><use href="#s" transform="matrix(96.52 0 0 1 277.51 0)"/><use href="#s" transform="matrix(112.2 0 0 1 394.38 0)"/><use href="#s" transform="matrix(186 0 0 1 498.34 0)"/><use href="#s" transform="matrix(1028 0 0 1 1535.2 0)"/><use href="#s" transform="matrix(104.6 0 0 1 134.73 0)"/><use href="#s" transform="matrix(298.7 0 0 1 317.89 0)"/><use href="#s" transform="matrix(121.4 0 0 1 273.22 0)"/><use href="#s" transform="matrix(911.3 0 0 1 1388.2 0)"/><use href="#s" transform="matrix(41.45 0 0 1 131.96 0)"/><use href="#s" transform="matrix(84.48 0 0 1 324.45 0)"/><use href="#s" transform="matrix(75.97 0 0 1 223.17 0)"/><use href="#s" transform="matrix(217.5 0 0 1 263.82 0)"/><use href="#s" transform="matrix(150.6 0 0 1 223.7 0)"/><use href="#s" transform="matrix(104.7 0 0 1 221.16 0)"/><use href="#s" transform="matrix(72.59 0 0 1 171 0)"/><use href="#s" transform="matrix(55.18 0 0 1 70.867 0)"/><use href="#s" transform="matrix(57.41 0 0 1 124.67 0)"/><use href="#s" transform="matrix(66.75 0 0 1 177.52 0)"/><use href="#s" transform="matrix(83.51 0 0 1 298.04 0)"/><use href="#s" transform="matrix(40.62 0 0 1 137.54 0)"/><use href="#s" transform="matrix(50.59 0 0 1 117.67 0)"/><use href="#s" transform="matrix(97.15 0 0 1 261.04 0)"/><use href="#s" transform="matrix(75.34 0 0 1 149.93 0)"/><use href="#s" transform="matrix(691.3 0 0 1 1579.4 0)"/><use href="#s" transform="matrix(-268.8 0 0 1 -66.826 0)"/><use href="#s" transform="matrix(45.89 0 0 1 141.1 0)"/><use href="#s" transform="matrix(-331.6 0 0 1 -326.49 0)"/><use href="#s" transform="matrix(49.19 0 0 1 163.45 0)"/><use href="#s" transform="matrix(54.42 0 0 1 128.18 0)"/><use href="#s" transform="matrix(-639.3 0 0 1 -685.29 0)"/><use href="#s" transform="matrix(103.4 0 0 1 212.26 0)"/><use href="#s" transform="matrix(32.99 0 0 1 150.43 0)"/><use href="#s" transform="matrix(51.42 0 0 1 86.087 0)"/><use href="#s" transform="matrix(109 0 0 1 183.54 0)"/><use href="#s" transform="matrix(37.42 0 0 1 141.57 0)"/><use href="#s" transform="matrix(112.1 0 0 1 294.75 0)"/><use href="#s" transform="matrix(213.3 0 0 1 334.64 0)"/><use href="#s" transform="matrix(50.37 0 0 1 172.47 0)"/><use href="#s" transform="matrix(66.48 0 0 1 134.5 0)"/><use href="#s" transform="matrix(48.11 0 0 1 188.51 0)"/><use href="#s" transform="matrix(49.73 0 0 1 131.35 0)"/><use href="#s" transform="matrix(65.62 0 0 1 125.64 0)"/><use href="#s" transform="matrix(41.71 0 0 1 136.92 0)"/><use href="#s" transform="matrix(55.07 0 0 1 140.53 0)"/><use href="#s" transform="matrix(84.91 0 0 1 178.15 0)"/><use href="#s" transform="matrix(118.9 0 0 1 149.35 0)"/><use href="#s" transform="matrix(137.1 0 0 1 180.07 0)"/><use href="#s" transform="matrix(73.9 0 0 1 169.49 0)"/><use href="#s" transform="matrix(50.42 0 0 1 127.18 0)"/><use href="#s" transform="matrix(43.97 0 0 1 140.48 0)"/><use href="#s" transform="matrix(40.92 0 0 1 134.69 0)"/><use href="#s" transform="matrix(43.48 0 0 1 143.67 0)"/><use href="#s" transform="matrix(42.53 0 0 1 145.85 0)"/><use href="#s" transform="matrix(233.8 0 0 1 340.87 0)"/><use href="#s" transform="matrix(79 0 0 1 213.81 0)"/><use href="#s" transform="matrix(65.25 0 0 1 220.92 0)"/><use href="#s" transform="matrix(75.06 0 0 1 246.56 0)"/><use href="#s" transform="matrix(1730 0 0 1 3599 0)"/><use href="#s" transform="matrix(59.38 0 0 1 137.81 0)"/><use href="#s" transform="matrix(103.3 0 0 1 301.03 0)"/><use href="#s" transform="matrix(70.89 0 0 1 248.93 0)"/><use href="#s" transform="matrix(131 0 0 1 281 0)"/><use href="#s" transform="matrix(52.88 0 0 1 107.81 0)"/><use href="#s" transform="matrix(44.68 0 0 1 172.93 0)"/><use href="#s" transform="matrix(39.35 0 0 1 135.93 0)"/><use href="#s" transform="matrix(43.82 0 0 1 198.39 0)"/><use href="#s" transform="matrix(91.74 0 0 1 94.138 0)"/><use href="#s" transform="matrix(39.41 0 0 1 158.91 0)"/><use href="#s" transform="matrix(52.39 0 0 1 204.52 0)"/><use href="#s" transform="matrix(74.22 0 0 1 175.49 0)"/><use href="#s" transform="matrix(208.2 0 0 1 524.3 0)"/><use href="#s" transform="matrix(363.7 0 0 1 551.71 0)"/><use href="#s" transform="matrix(53.2 0 0 1 190.05 0)"/><use href="#s" transform="matrix(-4370 0 0 1 -8271 0)"/><use href="#s" transform="matrix(71.46 0 0 1 172.32 0)"/><use href="#s" transform="matrix(83.43 0 0 1 173.82 0)"/><use href="#s" transform="matrix(768.3 0 0 1 637.29 0)"/><use href="#s" transform="matrix(52.36 0 0 1 148 0)"/><use href="#s" transform="matrix(46.79 0 0 1 171.65 0)"/><use href="#s" transform="matrix(52.42 0 0 1 128.08 0)"/><use href="#s" transform="matrix(53.88 0 0 1 185.06 0)"/><use href="#s" transform="matrix(74.83 0 0 1 137.39 0)"/><use href="#s" transform="matrix(71.15 0 0 1 167.69 0)"/><use href="#s" transform="matrix(284.1 0 0 1 576.75 0)"/><use href="#s" transform="matrix(47.81 0 0 1 201.7 0)"/><use href="#s" transform="matrix(50.37 0 0 1 209.14 0)"/><use href="#s" transform="matrix(58.98 0 0 1 192.11 0)"/><use href="#s" transform="matrix(74.59 0 0 1 193.94 0)"/><use href="#s" transform="matrix(34.44 0 0 1 168.76 0)"/><use href="#s" transform="matrix(66.05 0 0 1 203.84 0)"/><use href="#s" transform="matrix(143.6 0 0 1 303.28 0)"/><use href="#s" transform="matrix(49.01 0 0 1 167.9 0)"/><use href="#s" transform="matrix(-292.9 0 0 1 -333.32 0)"/><use href="#s" transform="matrix(401.2 0 0 1 762.33 0)"/><use href="#s" transform="matrix(67.89 0 0 1 103.69 0)"/><use href="#s" transform="matrix(135.4 0 0 1 399.87 0)"/><use href="#s" transform="matrix(79.8 0 0 1 172.75 0)"/><use href="#s" transform="matrix(57.64 0 0 1 270.45 0)"/><use href="#s" transform="matrix(45.42 0 0 1 167.02 0)"/><use href="#s" transform="matrix(92.74 0 0 1 159.48 0)"/><use href="#s" transform="matrix(44.5 0 0 1 147.82 0)"/><use href="#s" transform="matrix(51.13 0 0 1 168.66 0)"/><use href="#s" transform="matrix(35.98 0 0 1 154.1 0)"/><use href="#s" transform="matrix(-4151 0 0 1 -3514 0)"/><use href="#s" transform="matrix(59.61 0 0 1 103.6 0)"/><use href="#s" transform="matrix(101.7 0 0 1 247.88 0)"/><use href="#s" transform="matrix(58.44 0 0 1 143.11 0)"/><use href="#s" transform="matrix(87.38 0 0 1 217.23 0)"/><use href="#s" transform="matrix(35.32 0 0 1 156.28 0)"/><use href="#s" transform="matrix(69.84 0 0 1 163.57 0)"/><use href="#s" transform="matrix(57.47 0 0 1 186.27 0)"/><use href="#s" transform="matrix(46.08 0 0 1 168.38 0)"/><use href="#s" transform="matrix(132.5 0 0 1 196.62 0)"/><use href="#s" transform="matrix(78.81 0 0 1 197.5 0)"/><use href="#s" transform="matrix(35.69 0 0 1 147.73 0)"/><use href="#s" transform="matrix(68.57 0 0 1 150.18 0)"/><use href="#s" transform="matrix(71.98 0 0 1 188.76 0)"/><use href="#s" transform="matrix(115.6 0 0 1 242.3 0)"/><use href="#s" transform="matrix(45.46 0 0 1 138.09 0)"/><use href="#s" transform="matrix(161.7 0 0 1 325.27 0)"/><use href="#s" transform="matrix(90.62 0 0 1 202.91 0)"/><use href="#s" transform="matrix(96.72 0 0 1 316.58 0)"/><use href="#s" transform="matrix(1138 0 0 1 804.99 0)"/><use href="#s" transform="matrix(95.37 0 0 1 213.09 0)"/><use href="#s" transform="matrix(37.64 0 0 1 187.03 0)"/><use href="#s" transform="matrix(127.5 0 0 1 199.04 0)"/><use href="#s" transform="matrix(36.32 0 0 1 161.57 0)"/><use href="#s" transform="matrix(3382 0 0 1 5766.1 0)"/><use href="#s" transform="matrix(54.06 0 0 1 91.281 0)"/><use href="#s" transform="matrix(53.19 0 0 1 162.95 0)"/><use href="#s" transform="matrix(58.35 0 0 1 164.49 0)"/><use href="#s" transform="matrix(472.8 0 0 1 561.92 0)"/><use href="#s" transform="matrix(58.04 0 0 1 129.95 0)"/><use href="#s" transform="matrix(181.9 0 0 1 328.29 0)"/><use href="#s" transform="matrix(73.86 0 0 1 200.88 0)"/><use href="#s" transform="matrix(70.29 0 0 1 178.84 0)"/><use href="#s" transform="matrix(37.68 0 0 1 176.81 0)"/><use href="#s" transform="matrix(52.18 0 0 1 166.65 0)"/><use href="#s" transform="matrix(122.7 0 0 1 302.18 0)"/><use href="#s" transform="matrix(511.9 0 0 1 817.84 0)"/><use href="#s" transform="matrix(50.7 0 0 1 123.99 0)"/><use href="#s" transform="matrix(38.48 0 0 1 164.26 0)"/><use href="#s" transform="matrix(45.77 0 0 1 166.95 0)"/><use href="#s" transform="matrix(36.93 0 0 1 180.77 0)"/><use href="#s" transform="matrix(55.16 0 0 1 161.8 0)"/><use href="#s" transform="matrix(-251.2 0 0 1 -197 0)"/><use href="#s" transform="matrix(77.03 0 0 1 187.61 0)"/><use href="#s" transform="matrix(39.85 0 0 1 152.16 0)"/><use href="#s" transform="matrix(72.15 0 0 1 181.62 0)"/><use href="#s" transform="matrix(49.37 0 0 1 151.54 0)"/><use href="#s" transform="matrix(42.17 0 0 1 175.66 0)"/><use href="#s" transform="matrix(62.04 0 0 1 222.24 0)"/><use href="#s" transform="matrix(98.73 0 0 1 265.03 0)"/><use href="#s" transform="matrix(106.5 0 0 1 194.19 0)"/><use href="#s" transform="matrix(40.42 0 0 1 148.24 0)"/><use href="#s" transform="matrix(125 0 0 1 381.17 0)"/><use href="#s" transform="matrix(35.62 0 0 1 159.41 0)"/><use href="#s" transform="matrix(318.3 0 0 1 719.29 0)"/><use href="#s" transform="matrix(31.72 0 0 1 140.07 0)"/><use href="#s" transform="matrix(177.5 0 0 1 193.02 0)"/><use href="#s" transform="matrix(66.98 0 0 1 176.56 0)"/><use href="#s" transform="matrix(42.57 0 0 1 218.66 0)"/><use href="#s" transform="matrix(67.18 0 0 1 111.11 0)"/><use href="#s" transform="matrix(122.7 0 0 1 269.65 0)"/><use href="#s" transform="matrix(42.55 0 0 1 133.74 0)"/><use href="#s" transform="matrix(39.33 0 0 1 118.65 0)"/><use href="#s" transform="matrix(55 0 0 1 189.66 0)"/><use href="#s" transform="matrix(70.87 0 0 1 251.96 0)"/><use href="#s" transform="matrix(40.73 0 0 1 156.53 0)"/><use href="#s" transform="matrix(93.68 0 0 1 254.23 0)"/><use href="#s" transform="matrix(96.48 0 0 1 214.43 0)"/><use href="#s" transform="matrix(120.7 0 0 1 138.76 0)"/><use href="#s" transform="matrix(49.96 0 0 1 131.39 0)"/><use href="#s" transform="matrix(292 0 0 1 465.26 0)"/><use href="#s" transform="matrix(66.65 0 0 1 130.49 0)"/><use href="#s" transform="matrix(44.23 0 0 1 167.03 0)"/><use href="#s" transform="matrix(52.16 0 0 1 198.63 0)"/><use href="#s" transform="matrix(41.13 0 0 1 161.09 0)"/><use href="#s" transform="matrix(119.7 0 0 1 157.08 0)"/><use href="#s" transform="matrix(52.45 0 0 1 214.38 0)"/><use href="#s" transform="matrix(-1.35e+04 0 0 1 -21845 0)"/><use href="#s" transform="matrix(182.4 0 0 1 561.81 0)"/><use href="#s" transform="matrix(180.7 0 0 1 142.05 0)"/><use href="#s" transform="matrix(37.93 0 0 1 165.64 0)"/><use href="#s" transform="matrix(70.21 0 0 1 265.17 0)"/><use href="#s" transform="matrix(67.54 0 0 1 213.21 0)"/><use href="#s" transform="matrix(33.44 0 0 1 145.76 0)"/><use href="#s" transform="matrix(60.02 0 0 1 130.36 0)"/><use href="#s" transform="matrix(-1125 0 0 1 -1463.8 0)"/><use href="#s" transform="matrix(70.21 0 0 1 133.76 0)"/><use href="#s" transform="matrix(260.4 0 0 1 226.32 0)"/><use href="#s" transform="matrix(43.92 0 0 1 170.16 0)"/><use href="#s" transform="matrix(74.1 0 0 1 182.97 0)"/><use href="#s" transform="matrix(103.9 0 0 1 291.29 0)"/><use href="#s" transform="matrix(34.06 0 0 1 134.71 0)"/><use href="#s" transform="matrix(-637.7 0 0 1 -1075.1 0)"/><use href="#s" transform="matrix(-568.1 0 0 1 -332.49 0)"/><use href="#s" transform="matrix(37.96 0 0 1 151.1 0)"/><use href="#s" transform="matrix(252.8 0 0 1 206.64 0)"/><use href="#s" transform="matrix(74.21 0 0 1 172.74 0)"/><use href="#s" transform="matrix(112.2 0 0 1 316.07 0)"/><use href="#s" transform="matrix(40.37 0 0 1 166.85 0)"/><use href="#s" transform="matrix(273.5 0 0 1 409.25 0)"/><use href="#s" transform="matrix(254.4 0 0 1 519.22 0)"/><use href="#s" transform="matrix(182.8 0 0 1 433.82 0)"/><use href="#s" transform="matrix(42.3 0 0 1 150.91 0)"/><use href="#s" transform="matrix(80.62 0 0 1 214.51 0)"/><use href="#s" transform="matrix(51.95 0 0 1 163.92 0)"/><use href="#s" transform="matrix(70.8 0 0 1 175.68 0)"/><use href="#s" transform="matrix(49.73 0 0 1 218.49 0)"/><use href="#s" transform="matrix(304.5 0 0 1 591.18 0)"/><use href="#s" transform="matrix(104.6 0 0 1 171.8 0)"/><use href="#s" transform="matrix(77.84 0 0 1 149.49 0)"/><use href="#s" transform="matrix(83.69 0 0 1 310.39 0)"/><use href="#s" transform="matrix(131.6 0 0 1 293.37 0)"/><use href="#s" transform="matrix(197.2 0 0 1 391.34 0)"/><use href="#s" transform="matrix(-214.7 0 0 1 -198.23 0)"/><use href="#s" transform="matrix(99.43 0 0 1 172.84 0)"/><use href="#s" transform="matrix(87.15 0 0 1 146.95 0)"/><use href="#s" transform="matrix(81.8 0 0 1 216.25 0)"/><use href="#s" transform="matrix(94.96 0 0 1 181.12 0)"/><use href="#s" transform="matrix(72.09 0 0 1 193.56 0)"/><use href="#s" transform="matrix(44.63 0 0 1 143.48 0)"/><use href="#s" transform="matrix(38.36 0 0 1 170.25 0)"/><use href="#s" transform="matrix(57.69 0 0 1 142.16 0)"/><use href="#s" transform="matrix(120.7 0 0 1 305.45 0)"/><use href="#s" transform="matrix(42.22 0 0 1 183.29 0)"/><use href="#s" transform="matrix(167.3 0 0 1 211.13 0)"/><use href="#s" transform="matrix(137.9 0 0 1 367.31 0)"/><use href="#s" transform="matrix(73.89 0 0 1 166.94 0)"/><use href="#s" transform="matrix(1268 0 0 1 2228.1 0)"/><use href="#s" transform="matrix(168.3 0 0 1 407.29 0)"/><use href="#s" transform="matrix(53.2 0 0 1 139.32 0)"/><use href="#s" transform="matrix(78.82 0 0 1 144.05 0)"/><use href="#s" transform="matrix(169.2 0 0 1 502.28 0)"/><use href="#s" transform="matrix(45.6 0 0 1 187.46 0)"/><use href="#s" transform="matrix(123.2 0 0 1 189.68 0)"/><use href="#s" transform="matrix(128.5 0 0 1 245.41 0)"/><use href="#s" transform="matrix(112.6 0 0 1 344.11 0)"/><use href="#s" transform="matrix(194.2 0 0 1 270.47 0)"/><use href="#s" transform="matrix(41.97 0 0 1 171.64 0)"/><use href="#s" transform="matrix(44.07 0 0 1 125.25 0)"/><use href="#s" transform="matrix(60.31 0 0 1 144.99 0)"/><use href="#s" transform="matrix(159.5 0 0 1 353.77 0)"/><use href="#s" transform="matrix(67.36 0 0 1 150.82 0)"/><use href="#s" transform="matrix(36.84 0 0 1 131.36 0)"/><use href="#s" transform="matrix(52.41 0 0 1 218.48 0)"/><use href="#s" transform="matrix(136.9 0 0 1 386.85 0)"/><use href="#s" transform="matrix(58.33 0 0 1 130.99 0)"/><use href="#s" transform="matrix(128.1 0 0 1 288.23 0)"/><use href="#s" transform="matrix(79.73 0 0 1 201.41 0)"/><use href="#s" transform="matrix(61.68 0 0 1 181.48 0)"/><use href="#s" transform="matrix(175.7 0 0 1 239.83 0)"/><use href="#s" transform="matrix(67.88 0 0 1 207.52 0)"/><use href="#s" transform="matrix(64.89 0 0 1 155.35 0)"/><use href="#s" transform="matrix(62.51 0 0 1 150.54 0)"/><use href="#s" transform="matrix(51.4 0 0 1 187.08 0)"/><use href="#s" transform="matrix(71.79 0 0 1 138.6 0)"/><use href="#s" transform="matrix(81.23 0 0 1 173.2 0)"/><use href="#s" transform="matrix(194.4 0 0 1 334.66 0)"/><use href="#s" transform="matrix(32.85 0 0 1 146.23 0)"/><use href="#s" transform="matrix(109.1 0 0 1 157.87 0)"/><use href="#s" transform="matrix(55.45 0 0 1 170.56 0)"/><use href="#s" transform="matrix(49.88 0 0 1 141.5 0)"/><use href="#s" transform="matrix(105.2 0 0 1 215.92 0)"/><use href="#s" transform="matrix(-2856 0 0 1 -3635.2 0)"/><use href="#s" transform="matrix(190.1 0 0 1 511.43 0)"/><use href="#s" transform="matrix(124.3 0 0 1 255.72 0)"/><use href="#s" transform="matrix(51.15 0 0 1 141.53 0)"/><use href="#s" transform="matrix(66.13 0 0 1 174.27 0)"/><use href="#s" transform="matrix(60.67 0 0 1 162.73 0)"/><use href="#s" transform="matrix(69.54 0 0 1 241.17 0)"/><use href="#s" transform="matrix(271.2 0 0 1 591.2 0)"/><use href="#s" transform="matrix(202.4 0 0 1 259.4 0)"/><use href="#s" transform="matrix(139.9 0 0 1 447.83 0)"/><use href="#s" transform="matrix(68.27 0 0 1 271.8 0)"/><use href="#s" transform="matrix(106.1 0 0 1 145.13 0)"/><use href="#s" transform="matrix(67.43 0 0 1 257.83 0)"/><use href="#s" transform="matrix(200.8 0 0 1 503.01 0)"/><use href="#s" transform="matrix(53.72 0 0 1 179.93 0)"/><use href="#s" transform="matrix(72.41 0 0 1 173.33 0)"/><use href="#s" transform="matrix(68.89 0 0 1 203.23 0)"/><use href="#s" transform="matrix(-1324 0 0 1 -2131.7 0)"/><use href="#s" transform="matrix(52.45 0 0 1 170.1 0)"/><use href="#s" transform="matrix(63.47 0 0 1 234.14 0)"/><use href="#s" transform="matrix(150.6 0 0 1 131.01 0)"/><use href="#s" transform="matrix(54.06 0 0 1 145.06 0)"/><use href="#s" transform="matrix(81.49 0 0 1 173.18 0)"/><use href="#s" transform="matrix(36.49 0 0 1 156.1 0)"/><use href="#s" transform="matrix(48.93 0 0 1 171.76 0)"/><use href="#s" transform="matrix(88.64 0 0 1 258.24 0)"/><use href="#s" transform="matrix(292.6 0 0 1 406.58 0)"/><use href="#s" transform="matrix(35.7 0 0 1 140.01 0)"/><use href="#s" transform="matrix(44.6 0 0 1 113.86 0)"/><use href="#s" transform="matrix(85.16 0 0 1 235.35 0)"/><use href="#s" transform="matrix(56.43 0 0 1 188.7 0)"/><use href="#s" transform="matrix(83.5 0 0 1 161.06 0)"/><use href="#s" transform="matrix(60.87 0 0 1 148.09 0)"/><use href="#s" transform="matrix(115.1 0 0 1 378.58 0)"/><use href="#s" transform="matrix(66.23 0 0 1 139.58 0)"/><use href="#s" transform="matrix(48.39 0 0 1 193.31 0)"/><use href="#s" transform="matrix(84.81 0 0 1 176.35 0)"/><use href="#s" transform="matrix(93.45 0 0 1 233.47 0)"/><use href="#s" transform="matrix(71.72 0 0 1 86.924 0)"/><use href="#s" transform="matrix(122.1 0 0 1 233.61 0)"/><use href="#s" transform="matrix(62.83 0 0 1 83.473 0)"/><use href="#s" transform="matrix(49.65 0 0 1 117.34 0)"/><use href="#s" transform="matrix(85.37 0 0 1 239.67 0)"/><use href="#s" transform="matrix(59.42 0 0 1 125.9 0)"/><use href="#s" transform="matrix(35.55 0 0 1 157.44 0)"/><use href="#s" transform="matrix(56.11 0 0 1 214.5 0)"/><use href="#s" transform="matrix(710.8 0 0 1 1504 0)"/><use href="#s" transform="matrix(200.9 0 0 1 225.51 0)"/><use href="#s" transform="matrix(86.02 0 0 1 150.66 0)"/><use href="#s" transform="matrix(30.31 0 0 1 138.18 0)"/><use href="#s" transform="matrix(31.25 0 0 1 155.85 0)"/><use href="#s" transform="matrix(52.03 0 0 1 132.88 0)"/><use href="#s" transform="matrix(42.14 0 0 1 181.91 0)"/><use href="#s" transform="matrix(37.53 0 0 1 155.16 0)"/><use href="#s" transform="matrix(86.02 0 0 1 263.33 0)"/><use href="#s" transform="matrix(73.01 0 0 1 253.3 0)"/><use href="#s" transform="matrix(101.9 0 0 1 324.55 0)"/><use href="#s" transform="matrix(135 0 0 1 338.94 0)"/><use href="#s" transform="matrix(123.1 0 0 1 197.37 0)"/><use href="#s" transform="matrix(34.96 0 0 1 132.74 0)"/><use href="#s" transform="matrix(234.9 0 0 1 501.36 0)"/><use href="#s" transform="matrix(73.54 0 0 1 163.58 0)"/><use href="#s" transform="matrix(87.06 0 0 1 182.4 0)"/><use href="#s" transform="matrix(333.6 0 0 1 736.62 0)"/><use href="#s" transform="matrix(60.91 0 0 1 205.68 0)"/><use href="#s" transform="matrix(620.4 0 0 1 1323.2 0)"/><use href="#s" transform="matrix(34.74 0 0 1 155.76 0)"/><use href="#s" transform="matrix(50.04 0 0 1 145.88 0)"/><use href="#s" transform="matrix(402.7 0 0 1 465.04 0)"/><use href="#s" transform="matrix(129.6 0 0 1 242.41 0)"/><use href="#s" transform="matrix(45.46 0 0 1 226.48 0)"/><use href="#s" transform="matrix(163.1 0 0 1 299.1 0)"/><use href="#s" transform="matrix(63.04 0 0 1 140.92 0)"/><use href="#s" transform="matrix(132.5 0 0 1 348.55 0)"/><use href="#s" transform="matrix(135.6 0 0 1 241.36 0)"/><use href="#s" transform="matrix(471.4 0 0 1 745.18 0)"/><use href="#s" transform="matrix(45.79 0 0 1 139.68 0)"/><use href="#s" transform="matrix(65.29 0 0 1 187.63 0)"/><use href="#s" transform="matrix(37.04 0 0 1 155.66 0)"/><use href="#s" transform="matrix(362.5 0 0 1 483.74 0)"/><use href="#s" transform="matrix(99.41 0 0 1 413.13 0)"/><use href="#s" transform="matrix(65.7 0 0 1 154.57 0)"/><use href="#s" transform="matrix(57.83 0 0 1 177.24 0)"/><use href="#s" transform="matrix(53.47 0 0 1 145.83 0)"/><use href="#s" transform="matrix(68.32 0 0 1 204.75 0)"/><use href="#s" transform="matrix(56.14 0 0 1 157.7 0)"/><use href="#s" transform="matrix(42.15 0 0 1 160.3 0)"/><use href="#s" transform="matrix(70.73 0 0 1 243.93 0)"/><use href="#s" transform="matrix(-160.8 0 0 1 -98.587 0)"/><use href="#s" transform="matrix(52.51 0 0 1 163.17 0)"/><use href="#s" transform="matrix(129.7 0 0 1 172.32 0)"/><use href="#s" transform="matrix(167.9 0 0 1 278.72 0)"/><use href="#s" transform="matrix(295 0 0 1 582.91 0)"/><use href="#s" transform="matrix(46.15 0 0 1 122.94 0)"/><use href="#s" transform="matrix(73.32 0 0 1 190.71 0)"/><use href="#s" transform="matrix(113.1 0 0 1 185.39 0)"/><use href="#s" transform="matrix(143.3 0 0 1 340.76 0)"/><use href="#s" transform="matrix(104.9 0 0 1 287.52 0)"/><use href="#s" transform="matrix(92.85 0 0 1 179.61 0)"/><use href="#s" transform="matrix(243 0 0 1 527.44 0)"/><use href="#s" transform="matrix(54.17 0 0 1 128.03 0)"/><use href="#s" transform="matrix(78.69 0 0 1 243.95 0)"/><use href="#s" transform="matrix(46.65 0 0 1 137.12 0)"/><use href="#s" transform="matrix(112.4 0 0 1 185 0)"/><use href="#s" transform="matrix(355 0 0 1 494.52 0)"/><use href="#s" transform="matrix(33.03 0 0 1 140.72 0)"/><use href="#s" transform="matrix(80.56 0 0 1 210.62 0)"/><use href="#s" transform="matrix(67.7 0 0 1 243.24 0)"/><use href="#s" transform="matrix(64.69 0 0 1 132.8 0)"/><use href="#s" transform="matrix(49.33 0 0 1 183.13 0)"/><use href="#s" transform="matrix(46.95 0 0 1 205.61 0)"/><use href="#s" transform="matrix(133 0 0 1 448.5 0)"/><use href="#s" transform="matrix(113.9 0 0 1 393.01 0)"/><use href="#s" transform="matrix(95.62 0 0 1 99.994 0)"/><use href="#s" transform="matrix(82.86 0 0 1 252.71 0)"/><use href="#s" transform="matrix(80.85 0 0 1 158.59 0)"/><use href="#s" transform="matrix(94.09 0 0 1 294.51 0)"/><use href="#s" transform="matrix(81.18 0 0 1 180.57 0)"/><use href="#s" transform="matrix(-282.7 0 0 1 -262.15 0)"/><use href="#s" transform="matrix(154.4 0 0 1 243.95 0)"/><use href="#s" transform="matrix(62.78 0 0 1 105.94 0)"/><use href="#s" transform="matrix(105.8 0 0 1 178.64 0)"/><use href="#s" transform="matrix(91.6 0 0 1 243.79 0)"/><use href="#s" transform="matrix(109.7 0 0 1 219.99 0)"/><use href="#s" transform="matrix(88.19 0 0 1 208.07 0)"/><use href="#s" transform="matrix(37.91 0 0 1 134.91 0)"/><use href="#s" transform="matrix(185.8 0 0 1 169.06 0)"/><use href="#s" transform="matrix(48.51 0 0 1 181.86 0)"/><use href="#s" transform="matrix(63.48 0 0 1 240.8 0)"/><use href="#s" transform="matrix(52.65 0 0 1 172.42 0)"/><use href="#s" transform="matrix(95.84 0 0 1 154.23 0)"/><use href="#s" transform="matrix(103.6 0 0 1 285.87 0)"/><use href="#s" transform="matrix(856.9 0 0 1 1578.1 0)"/><use href="#s" transform="matrix(69.48 0 0 1 225.78 0)"/><use href="#s" transform="matrix(66.64 0 0 1 114.1 0)"/><use href="#s" transform="matrix(150.2 0 0 1 302.5 0)"/><use href="#s" transform="matrix(109.6 0 0 1 251.67 0)"/><use href="#s" transform="matrix(69.84 0 0 1 110.23 0)"/><use href="#s" transform="matrix(63.93 0 0 1 217.15 0)"/><use href="#s" transform="matrix(-204 0 0 1 -153.33 0)"/><use href="#s" transform="matrix(53.59 0 0 1 113.85 0)"/><use href="#s" transform="matrix(52.8 0 0 1 203.93 0)"/><use href="#s" transform="matrix(106.3 0 0 1 268.23 0)"/><use href="#s" transform="matrix(125.8 0 0 1 243.43 0)"/><use href="#s" transform="matrix(46.84 0 0 1 179.79 0)"/><use href="#s" transform="matrix(76.05 0 0 1 250.23 0)"/><use href="#s" transform="matrix(58.72 0 0 1 99.197 0)"/><use href="#s" transform="matrix(162.4 0 0 1 120.61 0)"/><use href="#s" transform="matrix(101.2 0 0 1 131.51 0)"/><use href="#s" transform="matrix(88.68 0 0 1 176.38 0)"/><use href="#s" transform="matrix(130 0 0 1 284.8 0)"/><use href="#s" transform="matrix(53.97 0 0 1 196.04 0)"/><use href="#s" transform="matrix(51.41 0 0 1 113.02 0)"/><use href="#s" transform="matrix(87.05 0 0 1 252.43 0)"/><use href="#s" transform="matrix(94.05 0 0 1 222.18 0)"/><use href="#s" transform="matrix(72.73 0 0 1 176.38 0)"/><use href="#s" transform="matrix(315.5 0 0 1 458.18 0)"/><use href="#s" transform="matrix(64.3 0 0 1 140.59 0)"/><use href="#s" transform="matrix(69.47 0 0 1 297.8 0)"/><use href="#s" transform="matrix(55.98 0 0 1 181.29 0)"/><use href="#s" transform="matrix(963.5 0 0 1 1221.7 0)"/><use href="#s" transform="matrix(241.9 0 0 1 287.21 0)"/><use href="#s" transform="matrix(159.5 0 0 1 259.96 0)"/><use href="#s" transform="matrix(46.12 0 0 1 97.215 0)"/><use href="#s" transform="matrix(71.33 0 0 1 251.32 0)"/><use href="#s" transform="matrix(51.77 0 0 1 144.98 0)"/><use href="#s" transform="matrix(70.32 0 0 1 173.27 0)"/><use href="#s" transform="matrix(348.5 0 0 1 477.08 0)"/><use href="#s" transform="matrix(56.33 0 0 1 146.47 0)"/><use href="#s" transform="matrix(70.39 0 0 1 211.07 0)"/><use href="#s" transform="matrix(-512.4 0 0 1 -586.71 0)"/><use href="#s" transform="matrix(689.2 0 0 1 1344 0)"/><use href="#s" transform="matrix(100.5 0 0 1 190.57 0)"/><use href="#s" transform="matrix(47.28 0 0 1 199.02 0)"/><use href="#s" transform="matrix(539.9 0 0 1 1038.5 0)"/><use href="#s" transform="matrix(104.3 0 0 1 200.93 0)"/><use href="#s" transform="matrix(280.2 0 0 1 305.83 0)"/><use href="#s" transform="matrix(68.77 0 0 1 169.98 0)"/><use href="#s" transform="matrix(66.09 0 0 1 259.33 0)"/><use href="#s" transform="matrix(53.12 0 0 1 205.76 0)"/><use href="#s" transform="matrix(176.1 0 0 1 237.4 0)"/><use href="#s" transform="matrix(90.85 0 0 1 149.84 0)"/><use href="#s" transform="matrix(49.84 0 0 1 147.44 0)"/><use href="#s" transform="matrix(35.27 0 0 1 137.47 0)"/><use href="#s" transform="matrix(-465.1 0 0 1 -488.35 0)"/><use href="#s" transform="matrix(62.41 0 0 1 192.33 0)"/><use href="#s" transform="matrix(168.4 0 0 1 377.12 0)"/><use href="#s" transform="matrix(84.73 0 0 1 315.11 0)"/><use href="#s" transform="matrix(77.3 0 0 1 340.49 0)"/><use href="#s" transform="matrix(149.7 0 0 1 310.14 0)"/><use href="#s" transform="matrix(224.8 0 0 1 220.33 0)"/><use href="#s" transform="matrix(89.61 0 0 1 241.77 0)"/><use href="#s" transform="matrix(51.85 0 0 1 201.46 0)"/><use href="#s" transform="matrix(151.8 0 0 1 194.14 0)"/><use href="#s" transform="matrix(50.96 0 0 1 187.72 0)"/><use href="#s" transform="matrix(46.49 0 0 1 212.17 0)"/><use href="#s" transform="matrix(62.85 0 0 1 194.66 0)"/><use href="#s" transform="matrix(93.24 0 0 1 203.5 0)"/><use href="#s" transform="matrix(79.55 0 0 1 258.92 0)"/><use href="#s" transform="matrix(320.2 0 0 1 673.47 0)"/><use href="#s" transform="matrix(415.2 0 0 1 855.14 0)"/><use href="#s" transform="matrix(74.18 0 0 1 184.74 0)"/><use href="#s" transform="matrix(-576.1 0 0 1 -496.9 0)"/><use href="#s" transform="matrix(67.2 0 0 1 164.84 0)"/><use href="#s" transform="matrix(198.3 0 0 1 349.09 0)"/><use href="#s" transform="matrix(-9861 0 0 1 -9870 0)"/><use href="#s" transform="matrix(93.7 0 0 1 253.71 0)"/><use href="#s" transform="matrix(134.9 0 0 1 218.34 0)"/><use href="#s" transform="matrix(40.13 0 0 1 142.25 0)"/><use href="#s" transform="matrix(133.7 0 0 1 297.91 0)"/><use href="#s" transform="matrix(131.8 0 0 1 309.58 0)"/><use href="#s" transform="matrix(119.2 0 0 1 187.28 0)"/><use href="#s" transform="matrix(75.28 0 0 1 139.39 0)"/><use href="#s" transform="matrix(73.73 0 0 1 232.98 0)"/><use href="#s" transform="matrix(79.48 0 0 1 269.08 0)"/><use href="#s" transform="matrix(49.38 0 0 1 189.33 0)"/><use href="#s" transform="matrix(55.96 0 0 1 200.73 0)"/><use href="#s" transform="matrix(58.01 0 0 1 190.12 0)"/><use href="#s" transform="matrix(315.4 0 0 1 676.32 0)"/><use href="#s" transform="matrix(50.4 0 0 1 179.72 0)"/><use href="#s" transform="matrix(232.5 0 0 1 226.77 0)"/><use href="#s" transform="matrix(77.68 0 0 1 123.05 0)"/><use href="#s" transform="matrix(574.6 0 0 1 435.82 0)"/><use href="#s" transform="matrix(86.9 0 0 1 179.6 0)"/><use href="#s" transform="matrix(161.9 0 0 1 273.67 0)"/><use href="#s" transform="matrix(40.51 0 0 1 128.07 0)"/><use href="#s" transform="matrix(-342.9 0 0 1 -319.74 0)"/><use href="#s" transform="matrix(462.6 0 0 1 743.56 0)"/><use href="#s" transform="matrix(163 0 0 1 368.75 0)"/><use href="#s" transform="matrix(-258.3 0 0 1 -378.52 0)"/><use href="#s" transform="matrix(4150 0 0 1 3191.5 0)"/><use href="#s" transform="matrix(67.26 0 0 1 99.609 0)"/><use href="#s" transform="matrix(64.28 0 0 1 164.03 0)"/><use href="#s" transform="matrix(36.19 0 0 1 169.15 0)"/><use href="#s" transform="matrix(45.48 0 0 1 221.74 0)"/><use href="#s" transform="matrix(143.8 0 0 1 325.4 0)"/><use href="#s" transform="matrix(100.5 0 0 1 240.47 0)"/><use href="#s" transform="matrix(304.7 0 0 1 640.55 0)"/><use href="#s" transform="matrix(-2042 0 0 1 -3299.1 0)"/><use href="#s" transform="matrix(62.35 0 0 1 137.42 0)"/><use href="#s" transform="matrix(67.5 0 0 1 219.96 0)"/><use href="#s" transform="matrix(42.51 0 0 1 146.47 0)"/><use href="#s" transform="matrix(-276.8 0 0 1 -199.01 0)"/><use href="#s" transform="matrix(289.9 0 0 1 221.49 0)"/><use href="#s" transform="matrix(751.1 0 0 1 1375.1 0)"/><use href="#s" transform="matrix(49.39 0 0 1 129.72 0)"/><use href="#s" transform="matrix(137.4 0 0 1 213.73 0)"/><use href="#s" transform="matrix(407.5 0 0 1 697.93 0)"/><use href="#s" transform="matrix(256.3 0 0 1 509.07 0)"/><use href="#s" transform="matrix(51.63 0 0 1 138.89 0)"/><use href="#s" transform="matrix(-470.2 0 0 1 -379.91 0)"/><use href="#s" transform="matrix(78.86 0 0 1 238.3 0)"/><use href="#s" transform="matrix(125.4 0 0 1 226.05 0)"/><use href="#s" transform="matrix(98.14 0 0 1 325.36 0)"/><use href="#s" transform="matrix(55.45 0 0 1 122.49 0)"/><use href="#s" transform="matrix(48.89 0 0 1 121.3 0)"/><use href="#s" transform="matrix(135.5 0 0 1 303.06 0)"/><use href="#s" transform="matrix(99.87 0 0 1 200.93 0)"/><use href="#s" transform="matrix(41.37 0 0 1 178.95 0)"/><use href="#s" transform="matrix(52.86 0 0 1 177.02 0)"/><use href="#s" transform="matrix(56.22 0 0 1 167.83 0)"/><use href="#s" transform="matrix(332.2 0 0 1 636.51 0)"/><use href="#s" transform="matrix(91.96 0 0 1 215.4 0)"/><use href="#s" transform="matrix(163.6 0 0 1 448.26 0)"/><use href="#s" transform="matrix(104.9 0 0 1 232.08 0)"/><use href="#s" transform="matrix(80.31 0 0 1 169.98 0)"/><use href="#s" transform="matrix(119.9 0 0 1 103.64 0)"/><use href="#s" transform="matrix(-833.4 0 0 1 -1392.9 0)"/><use href="#s" transform="matrix(93.14 0 0 1 191.39 0)"/><use href="#s" transform="matrix(976.3 0 0 1 1629.6 0)"/><use href="#s" transform="matrix(64.67 0 0 1 178.51 0)"/><use href="#s" transform="matrix(64.27 0 0 1 184.57 0)"/><use href="#s" transform="matrix(118.1 0 0 1 193.53 0)"/><use href="#s" transform="matrix(53.53 0 0 1 152.5 0)"/><use href="#s" transform="matrix(66.66 0 0 1 193.32 0)"/><use href="#s" transform="matrix(169.8 0 0 1 358.12 0)"/><use href="#s" transform="matrix(407.3 0 0 1 381.47 0)"/><use href="#s" transform="matrix(51.97 0 0 1 191.38 0)"/><use href="#s" transform="matrix(299.7 0 0 1 690.39 0)"/><use href="#s" transform="matrix(127.6 0 0 1 249.96 0)"/><use href="#s" transform="matrix(95.01 0 0 1 175.59 0)"/><use href="#s" transform="matrix(-454.6 0 0 1 -322.28 0)"/><use href="#s" transform="matrix(82.46 0 0 1 96.596 0)"/><use href="#s" transform="matrix(46.39 0 0 1 151.92 0)"/><use href="#s" transform="matrix(91.67 0 0 1 158.53 0)"/><use href="#s" transform="matrix(325.3 0 0 1 264.57 0)"/><use href="#s" transform="matrix(287.9 0 0 1 330.8 0)"/><use href="#s" transform="matrix(52.5 0 0 1 176.21 0)"/><use href="#s" transform="matrix(59.53 0 0 1 180.57 0)"/><use href="#s" transform="matrix(59.5 0 0 1 146.14 0)"/><use href="#s" transform="matrix(407.6 0 0 1 529.32 0)"/><use href="#s" transform="matrix(49.74 0 0 1 176.73 0)"/><use href="#s" transform="matrix(68.66 0 0 1 123.98 0)"/><use href="#s" transform="matrix(127.3 0 0 1 343.17 0)"/><use href="#s" transform="matrix(117 0 0 1 199.93 0)"/><use href="#s" transform="matrix(134.4 0 0 1 214.06 0)"/><use href="#s" transform="matrix(139 0 0 1 246.7 0)"/><use href="#s" transform="matrix(79.11 0 0 1 126.09 0)"/><use href="#s" transform="matrix(106.4 0 0 1 235.77 0)"/><use href="#s" transform="matrix(68.8 0 0 1 156.9 0)"/><use href="#s" transform="matrix(124.4 0 0 1 158.91 0)"/><use href="#s" transform="matrix(53.67 0 0 1 165.74 0)"/><use href="#s" transform="matrix(82.47 0 0 1 235.62 0)"/><use href="#s" transform="matrix(72.11 0 0 1 262.71 0)"/><use href="#s" transform="matrix(115.4 0 0 1 131.49 0)"/><use href="#s" transform="matrix(67.96 0 0 1 210.84 0)"/><use href="#s" transform="matrix(82.67 0 0 1 136.28 0)"/><use href="#s" transform="matrix(141 0 0 1 290.04 0)"/><use href="#s" transform="matrix(196.6 0 0 1 336.21 0)"/><use href="#s" transform="matrix(57.71 0 0 1 166.62 0)"/><use href="#s" transform="matrix(82.82 0 0 1 201.96 0)"/><use href="#s" transform="matrix(184 0 0 1 247.24 0)"/><use href="#s" transform="matrix(67.81 0 0 1 161.22 0)"/><use href="#s" transform="matrix(67.29 0 0 1 225.9 0)"/><use href="#s" transform="matrix(79.3 0 0 1 198.37 0)"/><use href="#s" transform="matrix(46.34 0 0 1 184.32 0)"/><use href="#s" transform="matrix(550.1 0 0 1 853.85 0)"/><use href="#s" transform="matrix(73.37 0 0 1 131.35 0)"/><use href="#s" transform="matrix(101.7 0 0 1 215.26 0)"/><use href="#s" transform="matrix(305.7 0 0 1 311.33 0)"/><use href="#s" transform="matrix(221.8 0 0 1 234.22 0)"/><use href="#s" transform="matrix(126.6 0 0 1 296.57 0)"/><use href="#s" transform="matrix(-279.9 0 0 1 -264.28 0)"/><use href="#s" transform="matrix(79.17 0 0 1 208.19 0)"/><use href="#s" transform="matrix(132.1 0 0 1 274.09 0)"/><use href="#s" transform="matrix(44.41 0 0 1 134.42 0)"/><use href="#s" transform="matrix(49.22 0 0 1 131.36 0)"/><use href="#s" transform="matrix(68.87 0 0 1 245.49 0)"/><use href="#s" transform="matrix(70.36 0 0 1 184.8 0)"/><use href="#s" transform="matrix(39.35 0 0 1 160.66 0)"/><use href="#s" transform="matrix(130.9 0 0 1 156.17 0)"/><use href="#s" transform="matrix(77.52 0 0 1 222.31 0)"/><use href="#s" transform="matrix(105.6 0 0 1 245.91 0)"/><use href="#s" transform="matrix(76.66 0 0 1 288.16 0)"/><use href="#s" transform="matrix(48.05 0 0 1 162.18 0)"/><use href="#s" transform="matrix(76.68 0 0 1 156.49 0)"/><use href="#s" transform="matrix(44.75 0 0 1 201.31 0)"/><use href="#s" transform="matrix(103.1 0 0 1 210.84 0)"/></g></g>
<path fill="none" stroke="#000" stroke-width="3.3" stroke-linejoin="round" stroke-linecap="round" d="M42.1 357.4 44.9 356.8 47.7 356.2 50.5 355.6 53.4 354.9 56.2 354.3 59.0 353.6 61.8 353.0 64.7 352.3 67.5 351.6 70.3 350.9 73.1 350.2 76.0 349.5 78.8 348.8 81.6 348.0 84.4 347.2 87.3 346.5 90.1 345.7 92.9 344.8 95.7 344.0 98.6 343.1 101.4 342.3 104.2 341.4 107.0 340.5 109.9 339.6 112.7 338.7 115.5 337.7 118.3 336.8 121.2 335.8 124.0 334.8 126.8 333.8 129.6 332.7 132.5 331.6 135.3 330.5 138.1 329.4 140.9 328.3 143.8 327.2 146.6 326.0 149.4 324.9 152.2 323.7 155.1 322.5 157.9 321.3 160.7 320.2 163.5 319.0 166.4 317.7 169.2 316.5 172.0 315.3 174.8 314.1 177.7 312.8 180.5 311.6 183.3 310.3 186.1 309.1 189.0 307.8 191.8 306.6 194.6 305.3 197.4 304.1 200.3 302.8 203.1 301.6 205.9 300.3 208.7 299.1"/>
<path stroke="#000" stroke-width=".95" d="M42.2 382.7v-5M43.4 382.7v-5M44.5 382.7v-5M45.7 382.7v-5M46.4 382.7v-5M47.8 382.7v-5M48.3 382.7v-5M49.4 382.7v-5M50.5 382.7v-5M51.8 382.7v-5M52.6 382.7v-5M53.7 382.7v-5M54.7 382.7v-5M55.8 382.7v-5M57 382.7v-5M58.4 382.7v-5M59.5 382.7v-5M60.2 382.7v-5M61.6 382.7v-5M62.7 382.7v-5M63.8 382.7v-5M65 382.7v-5M65.9 382.7v-5M67.4 382.7v-5M68.2 382.7v-5M69.4 382.7v-5M70.5 382.7v-5M71.4 382.7v-5M72.5 382.7v-5M73.8 382.7v-5M76.6 382.7v-5M77.7 382.7v-5M78.7 382.7v-5M79.5 382.7v-5M80.9 382.7v-5M82 382.7v-5M82.9 382.7v-5M83.9 382.7v-5M85.2 382.7v-5M86 382.7v-5M87.3 382.7v-5M88.3 382.7v-5M89.4 382.7v-5M90.4 382.7v-5M94 382.7v-5M95.6 382.7v-5M97 382.7v-5M97.9 382.7v-5M99.4 382.7v-5M100.4 382.7v-5M101.8 382.7v-5M102.7 382.7v-5M105 382.7v-5M106.3 382.7v-5M107.1 382.7v-5M108.2 382.7v-5M109.1 382.7v-5M110.4 382.7v-5M111.2 382.7v-5M112.5 382.7v-5M113.6 382.7v-5M115 382.7v-5M116.1 382.7v-5M117.1 382.7v-5M117.7 382.7v-5M118.9 382.7v-5M119.9 382.7v-5M121.1 382.7v-5M122.7 382.7v-5M124 382.7v-5M125.2 382.7v-5M136.9 382.7v-5M155.6 382.7v-5M192.5 382.7v-5M208.9 382.7v-5"/>
<rect x="35.4" y="217.3" width="180" height="165.4" fill="none" stroke="#000" stroke-width="1"/>
<path stroke="#000" stroke-width="1" d="M35.4 376.5h-6M35.4 345.9h-6M35.4 315.3h-6M35.4 284.7h-6M35.4 254.1h-6M35.4 223.5h-6M42.3 382.7v6M104.5 382.7v6M166.7 382.7v6M210.2 382.7v6"/>
<text transform="translate(24.5 376.5) rotate(-90) scale(.95 1)" text-anchor="middle" font-size="10">0.0</text>
<text transform="translate(24.5 345.9) rotate(-90) scale(.95 1)" text-anchor="middle" font-size="10">0.2</text>
<text transform="translate(24.5 315.3) rotate(-90) scale(.95 1)" text-anchor="middle" font-size="10">0.4</text>
<text transform="translate(24.5 284.7) rotate(-90) scale(.95 1)" text-anchor="middle" font-size="10">0.6</text>
<text transform="translate(24.5 254.1) rotate(-90) scale(.95 1)" text-anchor="middle" font-size="10">0.8</text>
<text transform="translate(24.5 223.5) rotate(-90) scale(.95 1)" text-anchor="middle" font-size="10">1.0</text>
<text transform="translate(42.3 400.6) scale(.95 1)" text-anchor="middle" font-size="10">1</text>
<text transform="translate(104.5 400.6) scale(.95 1)" text-anchor="middle" font-size="10">10</text>
<text transform="translate(166.7 400.6) scale(.95 1)" text-anchor="middle" font-size="10">100</text>
<text transform="translate(210.2 400.6) scale(.95 1)" text-anchor="middle" font-size="10">500</text>
<text transform="translate(8.8 300) rotate(-90)" text-anchor="middle" font-size="11.4">FV3 Prevalence</text>
<text x="80.2" y="417.8" font-size="11.4">Host density (m<tspan font-size="8.6" dx="0.5" dy="-4.6">−2</tspan><tspan dx="0.4" dy="4.6">)</tspan></text>
<text x="38.7" y="232.4" font-size="15" font-weight="bold">D</text>
<clipPath id="cE"><rect x="273.7" y="0.5" width="166.7" height="165.4"/></clipPath>
<g transform="translate(0 216.8)"><g clip-path="url(#cE)"><use href="#s" transform="matrix(-37.72 0 0 1 319.96 0)"/><use href="#s" transform="matrix(-31.82 0 0 1 320.22 0)"/><use href="#s" transform="matrix(-29.41 0 0 1 302.27 0)"/><use href="#s" transform="matrix(-40.77 0 0 1 302.61 0)"/><use href="#s" transform="matrix(-36.79 0 0 1 307.16 0)"/><use href="#s" transform="matrix(-23.35 0 0 1 319.08 0)"/><use href="#s" transform="matrix(-50.03 0 0 1 289.22 0)"/><use href="#s" transform="matrix(-44.12 0 0 1 273.54 0)"/><use href="#s" transform="matrix(-28.9 0 0 1 316.15 0)"/><use href="#s" transform="matrix(-28.52 0 0 1 284.14 0)"/><use href="#s" transform="matrix(-32.57 0 0 1 314.13 0)"/><use href="#s" transform="matrix(-47.79 0 0 1 275.32 0)"/><use href="#s" transform="matrix(-22.64 0 0 1 298.02 0)"/><use href="#s" transform="matrix(-29.84 0 0 1 288.05 0)"/><use href="#s" transform="matrix(-34.37 0 0 1 287.32 0)"/><use href="#s" transform="matrix(-32.22 0 0 1 324.09 0)"/><use href="#s" transform="matrix(-26.86 0 0 1 282.74 0)"/><use href="#s" transform="matrix(-104.8 0 0 1 193.17 0)"/><use href="#s" transform="matrix(-39.69 0 0 1 269.71 0)"/><use href="#s" transform="matrix(-27.4 0 0 1 290.33 0)"/><use href="#s" transform="matrix(-24.24 0 0 1 329.44 0)"/><use href="#s" transform="matrix(-44.09 0 0 1 296.28 0)"/><use href="#s" transform="matrix(-43.16 0 0 1 270.75 0)"/><use href="#s" transform="matrix(-30.03 0 0 1 284.94 0)"/><use href="#s" transform="matrix(-28.51 0 0 1 329.81 0)"/><use href="#s" transform="matrix(-33.56 0 0 1 313.87 0)"/><use href="#s" transform="matrix(-31.54 0 0 1 315.98 0)"/><use href="#s" transform="matrix(-23.3 0 0 1 306.7 0)"/><use href="#s" transform="matrix(-27.26 0 0 1 335.63 0)"/><use href="#s" transform="matrix(-87.92 0 0 1 263.61 0)"/><use href="#s" transform="matrix(-24.42 0 0 1 327.98 0)"/><use href="#s" transform="matrix(-31.11 0 0 1 320.4 0)"/><use href="#s" transform="matrix(-26.23 0 0 1 277.07 0)"/><use href="#s" transform="matrix(-28.69 0 0 1 320.74 0)"/><use href="#s" transform="matrix(-27.43 0 0 1 335.23 0)"/><use href="#s" transform="matrix(-30.7 0 0 1 293.72 0)"/><use href="#s" transform="matrix(-25.56 0 0 1 324.8 0)"/><use href="#s" transform="matrix(-34.54 0 0 1 253.41 0)"/><use href="#s" transform="matrix(-55.31 0 0 1 261.72 0)"/><use href="#s" transform="matrix(-30.01 0 0 1 315.89 0)"/><use href="#s" transform="matrix(-24.44 0 0 1 296.61 0)"/><use href="#s" transform="matrix(-26.03 0 0 1 315.65 0)"/><use href="#s" transform="matrix(-31.78 0 0 1 319.15 0)"/><use href="#s" transform="matrix(-28.93 0 0 1 327 0)"/><use href="#s" transform="matrix(-81.02 0 0 1 259.09 0)"/><use href="#s" transform="matrix(-42.91 0 0 1 266.18 0)"/><use href="#s" transform="matrix(-26.39 0 0 1 331.36 0)"/><use href="#s" transform="matrix(-24.34 0 0 1 304.7 0)"/><use href="#s" transform="matrix(-37.05 0 0 1 308.88 0)"/><use href="#s" transform="matrix(-26.77 0 0 1 293.52 0)"/><use href="#s" transform="matrix(-27.46 0 0 1 337.59 0)"/><use href="#s" transform="matrix(-30.54 0 0 1 284.71 0)"/><use href="#s" transform="matrix(-24.07 0 0 1 306.7 0)"/><use href="#s" transform="matrix(-20.93 0 0 1 321.53 0)"/><use href="#s" transform="matrix(-56.93 0 0 1 300.21 0)"/><use href="#s" transform="matrix(-26.49 0 0 1 285.92 0)"/><use href="#s" transform="matrix(-43.89 0 0 1 302.25 0)"/><use href="#s" transform="matrix(-50.07 0 0 1 250.45 0)"/><use href="#s" transform="matrix(-20.46 0 0 1 318.66 0)"/><use href="#s" transform="matrix(-24.62 0 0 1 324.2 0)"/><use href="#s" transform="matrix(-20.87 0 0 1 323.61 0)"/><use href="#s" transform="matrix(-35.97 0 0 1 307.27 0)"/><use href="#s" transform="matrix(-36.56 0 0 1 327.37 0)"/><use href="#s" transform="matrix(-38.78 0 0 1 342.2 0)"/><use href="#s" transform="matrix(-22.08 0 0 1 325.74 0)"/><use href="#s" transform="matrix(-25.98 0 0 1 309.82 0)"/><use href="#s" transform="matrix(-24.59 0 0 1 312.17 0)"/><use href="#s" transform="matrix(-37.98 0 0 1 291 0)"/><use href="#s" transform="matrix(-24.57 0 0 1 308.4 0)"/><use href="#s" transform="matrix(-45.79 0 0 1 320.34 0)"/><use href="#s" transform="matrix(-25.49 0 0 1 329.79 0)"/><use href="#s" transform="matrix(-26.12 0 0 1 322.5 0)"/><use href="#s" transform="matrix(-25.3 0 0 1 276.8 0)"/><use href="#s" transform="matrix(-42.74 0 0 1 280.88 0)"/><use href="#s" transform="matrix(-23.35 0 0 1 306.75 0)"/><use href="#s" transform="matrix(-56.97 0 0 1 310.01 0)"/><use href="#s" transform="matrix(-34.62 0 0 1 320.32 0)"/><use href="#s" transform="matrix(-23.8 0 0 1 326.5 0)"/><use href="#s" transform="matrix(-48.33 0 0 1 274.96 0)"/><use href="#s" transform="matrix(-41.94 0 0 1 334.4 0)"/><use href="#s" transform="matrix(-43.96 0 0 1 283.65 0)"/><use href="#s" transform="matrix(-39.28 0 0 1 310.56 0)"/><use href="#s" transform="matrix(-23.9 0 0 1 293.56 0)"/><use href="#s" transform="matrix(-31.83 0 0 1 277.76 0)"/><use href="#s" transform="matrix(-33.05 0 0 1 252.6 0)"/><use href="#s" transform="matrix(-39.83 0 0 1 297.78 0)"/><use href="#s" transform="matrix(-28.04 0 0 1 274.05 0)"/><use href="#s" transform="matrix(-23.09 0 0 1 299.23 0)"/><use href="#s" transform="matrix(-28.75 0 0 1 303.11 0)"/><use href="#s" transform="matrix(-25.84 0 0 1 324.41 0)"/><use href="#s" transform="matrix(-32.9 0 0 1 323.41 0)"/><use href="#s" transform="matrix(-76.26 0 0 1 240.49 0)"/><use href="#s" transform="matrix(-66.45 0 0 1 251.77 0)"/><use href="#s" transform="matrix(-41.64 0 0 1 282.52 0)"/><use href="#s" transform="matrix(-36.62 0 0 1 301.43 0)"/><use href="#s" transform="matrix(-22.72 0 0 1 299.97 0)"/><use href="#s" transform="matrix(-50.22 0 0 1 291.87 0)"/><use href="#s" transform="matrix(-24.77 0 0 1 304.77 0)"/><use href="#s" transform="matrix(-34.89 0 0 1 280.06 0)"/><use href="#s" transform="matrix(-25.88 0 0 1 328.44 0)"/><use href="#s" transform="matrix(-27 0 0 1 288.16 0)"/><use href="#s" transform="matrix(-33.96 0 0 1 290.21 0)"/><use href="#s" transform="matrix(-45.08 0 0 1 296.87 0)"/><use href="#s" transform="matrix(-43.68 0 0 1 314.18 0)"/><use href="#s" transform="matrix(-33.91 0 0 1 351.28 0)"/><use href="#s" transform="matrix(-37.66 0 0 1 316.84 0)"/><use href="#s" transform="matrix(-23.54 0 0 1 321.17 0)"/><use href="#s" transform="matrix(-42.7 0 0 1 288.91 0)"/><use href="#s" transform="matrix(-22.2 0 0 1 311.06 0)"/><use href="#s" transform="matrix(-20.39 0 0 1 310.62 0)"/><use href="#s" transform="matrix(-28.95 0 0 1 334.22 0)"/><use href="#s" transform="matrix(-33.49 0 0 1 281.13 0)"/><use href="#s" transform="matrix(-33.13 0 0 1 282.38 0)"/><use href="#s" transform="matrix(-24.37 0 0 1 298.21 0)"/><use href="#s" transform="matrix(-39.33 0 0 1 337.88 0)"/><use href="#s" transform="matrix(-39.89 0 0 1 285.8 0)"/><use href="#s" transform="matrix(-40.16 0 0 1 320.72 0)"/><use href="#s" transform="matrix(-25.65 0 0 1 333.33 0)"/><use href="#s" transform="matrix(-51.8 0 0 1 251.77 0)"/><use href="#s" transform="matrix(-44.6 0 0 1 273.39 0)"/><use href="#s" transform="matrix(-46.86 0 0 1 308.8 0)"/><use href="#s" transform="matrix(-21.62 0 0 1 305.85 0)"/><use href="#s" transform="matrix(-30.25 0 0 1 301.59 0)"/><use href="#s" transform="matrix(-24.39 0 0 1 311.39 0)"/><use href="#s" transform="matrix(-27.51 0 0 1 336.5 0)"/><use href="#s" transform="matrix(-29.91 0 0 1 290.69 0)"/><use href="#s" transform="matrix(-38.81 0 0 1 285.63 0)"/><use href="#s" transform="matrix(-21.78 0 0 1 323.36 0)"/><use href="#s" transform="matrix(-32.47 0 0 1 265.57 0)"/><use href="#s" transform="matrix(-29.12 0 0 1 330.89 0)"/><use href="#s" transform="matrix(-29.9 0 0 1 341.37 0)"/><use href="#s" transform="matrix(-32.42 0 0 1 316.75 0)"/><use href="#s" transform="matrix(-25.68 0 0 1 287.15 0)"/><use href="#s" transform="matrix(-24.82 0 0 1 303.18 0)"/><use href="#s" transform="matrix(-42.54 0 0 1 296.24 0)"/><use href="#s" transform="matrix(-21.96 0 0 1 327.37 0)"/><use href="#s" transform="matrix(-32.36 0 0 1 328.83 0)"/><use href="#s" transform="matrix(-32.11 0 0 1 308.3 0)"/><use href="#s" transform="matrix(-38.04 0 0 1 330.34 0)"/><use href="#s" transform="matrix(-22.45 0 0 1 309.37 0)"/><use href="#s" transform="matrix(-26.94 0 0 1 332.62 0)"/><use href="#s" transform="matrix(-35.19 0 0 1 322.02 0)"/><use href="#s" transform="matrix(-42.35 0 0 1 289.38 0)"/><use href="#s" transform="matrix(-24.99 0 0 1 291.91 0)"/><use href="#s" transform="matrix(-30.1 0 0 1 278.44 0)"/><use href="#s" transform="matrix(-35.98 0 0 1 271.26 0)"/><use href="#s" transform="matrix(-23.21 0 0 1 303.49 0)"/><use href="#s" transform="matrix(-30.57 0 0 1 289.93 0)"/><use href="#s" transform="matrix(-28.43 0 0 1 296.65 0)"/><use href="#s" transform="matrix(-25.01 0 0 1 316.84 0)"/><use href="#s" transform="matrix(-23.65 0 0 1 322.12 0)"/><use href="#s" transform="matrix(-25.08 0 0 1 301.91 0)"/><use href="#s" transform="matrix(-42.61 0 0 1 296.91 0)"/><use href="#s" transform="matrix(-33.18 0 0 1 332.1 0)"/><use href="#s" transform="matrix(-35.81 0 0 1 286.4 0)"/><use href="#s" transform="matrix(-30.77 0 0 1 345.13 0)"/><use href="#s" transform="matrix(-46.18 0 0 1 301.86 0)"/><use href="#s" transform="matrix(-23.33 0 0 1 325.53 0)"/><use href="#s" transform="matrix(-59.74 0 0 1 285.52 0)"/><use href="#s" transform="matrix(-34.66 0 0 1 340.86 0)"/><use href="#s" transform="matrix(-34.59 0 0 1 326.12 0)"/><use href="#s" transform="matrix(-30.38 0 0 1 299.5 0)"/><use href="#s" transform="matrix(-27.9 0 0 1 335.07 0)"/><use href="#s" transform="matrix(-25.19 0 0 1 314.25 0)"/><use href="#s" transform="matrix(-37.13 0 0 1 315.45 0)"/><use href="#s" transform="matrix(-30.84 0 0 1 301.73 0)"/><use href="#s" transform="matrix(-22.43 0 0 1 308.81 0)"/><use href="#s" transform="matrix(-23.68 0 0 1 301.72 0)"/><use href="#s" transform="matrix(-31.63 0 0 1 285.46 0)"/><use href="#s" transform="matrix(-27.97 0 0 1 285.72 0)"/><use href="#s" transform="matrix(-37.8 0 0 1 304.89 0)"/><use href="#s" transform="matrix(-49.61 0 0 1 277.9 0)"/><use href="#s" transform="matrix(-50.25 0 0 1 253.74 0)"/><use href="#s" transform="matrix(-24.62 0 0 1 321.53 0)"/><use href="#s" transform="matrix(-33.72 0 0 1 291.12 0)"/><use href="#s" transform="matrix(-21.25 0 0 1 327.25 0)"/><use href="#s" transform="matrix(-24.68 0 0 1 304.14 0)"/><use href="#s" transform="matrix(-29.84 0 0 1 330.63 0)"/><use href="#s" transform="matrix(-23.61 0 0 1 317.71 0)"/><use href="#s" transform="matrix(-36.15 0 0 1 311.5 0)"/><use href="#s" transform="matrix(-26.07 0 0 1 290.99 0)"/><use href="#s" transform="matrix(-29.57 0 0 1 267.95 0)"/><use href="#s" transform="matrix(-43.75 0 0 1 279.57 0)"/><use href="#s" transform="matrix(-79.11 0 0 1 269.55 0)"/><use href="#s" transform="matrix(-44.52 0 0 1 268.64 0)"/><use href="#s" transform="matrix(-32.99 0 0 1 268.15 0)"/><use href="#s" transform="matrix(-41.15 0 0 1 322.86 0)"/><use href="#s" transform="matrix(-49.32 0 0 1 252.38 0)"/><use href="#s" transform="matrix(-22.99 0 0 1 327.3 0)"/><use href="#s" transform="matrix(-27.09 0 0 1 282.08 0)"/><use href="#s" transform="matrix(-34.31 0 0 1 322.32 0)"/><use href="#s" transform="matrix(-26.83 0 0 1 308.3 0)"/><use href="#s" transform="matrix(-23.67 0 0 1 307.67 0)"/><use href="#s" transform="matrix(-30.42 0 0 1 299.38 0)"/><use href="#s" transform="matrix(-43.11 0 0 1 306.31 0)"/><use href="#s" transform="matrix(-37.37 0 0 1 314.43 0)"/><use href="#s" transform="matrix(-21.25 0 0 1 315.05 0)"/><use href="#s" transform="matrix(-20.81 0 0 1 310.09 0)"/><use href="#s" transform="matrix(-42.06 0 0 1 322.66 0)"/><use href="#s" transform="matrix(-45.07 0 0 1 267.29 0)"/><use href="#s" transform="matrix(-62.17 0 0 1 290.16 0)"/><use href="#s" transform="matrix(-35.1 0 0 1 310.25 0)"/><use href="#s" transform="matrix(-28.23 0 0 1 336.28 0)"/><use href="#s" transform="matrix(-24.88 0 0 1 330.69 0)"/><use href="#s" transform="matrix(-37.44 0 0 1 291.41 0)"/><use href="#s" transform="matrix(-32.27 0 0 1 316.51 0)"/><use href="#s" transform="matrix(-37.44 0 0 1 291.86 0)"/><use href="#s" transform="matrix(-57.18 0 0 1 285.94 0)"/><use href="#s" transform="matrix(-30.44 0 0 1 305.06 0)"/><use href="#s" transform="matrix(-26.14 0 0 1 315.18 0)"/><use href="#s" transform="matrix(-38.96 0 0 1 320.71 0)"/><use href="#s" transform="matrix(-36.11 0 0 1 249.88 0)"/><use href="#s" transform="matrix(-23.86 0 0 1 326.33 0)"/><use href="#s" transform="matrix(-50.74 0 0 1 247.08 0)"/><use href="#s" transform="matrix(-20.28 0 0 1 316.89 0)"/><use href="#s" transform="matrix(-27.49 0 0 1 336.27 0)"/><use href="#s" transform="matrix(-21.97 0 0 1 334.03 0)"/><use href="#s" transform="matrix(-54.02 0 0 1 265.6 0)"/><use href="#s" transform="matrix(-38.84 0 0 1 293.45 0)"/><use href="#s" transform="matrix(-23.83 0 0 1 299.07 0)"/><use href="#s" transform="matrix(-22.31 0 0 1 305.74 0)"/><use href="#s" transform="matrix(-27.8 0 0 1 288.8 0)"/><use href="#s" transform="matrix(-23.66 0 0 1 325.69 0)"/><use href="#s" transform="matrix(-33.13 0 0 1 292.83 0)"/><use href="#s" transform="matrix(-29.69 0 0 1 302.22 0)"/><use href="#s" transform="matrix(-37.08 0 0 1 306.87 0)"/><use href="#s" transform="matrix(-21.51 0 0 1 312.11 0)"/><use href="#s" transform="matrix(-24.63 0 0 1 310.46 0)"/><use href="#s" transform="matrix(-65.45 0 0 1 259.34 0)"/><use href="#s" transform="matrix(-26.59 0 0 1 323.24 0)"/><use href="#s" transform="matrix(-39.78 0 0 1 279.95 0)"/><use href="#s" transform="matrix(-46.65 0 0 1 283.79 0)"/><use href="#s" transform="matrix(-26.63 0 0 1 283.35 0)"/><use href="#s" transform="matrix(-37.59 0 0 1 300.83 0)"/><use href="#s" transform="matrix(-27.64 0 0 1 318.86 0)"/><use href="#s" transform="matrix(-23.62 0 0 1 312.09 0)"/><use href="#s" transform="matrix(-46.9 0 0 1 266.24 0)"/><use href="#s" transform="matrix(-45.22 0 0 1 312 0)"/><use href="#s" transform="matrix(-27.8 0 0 1 333.72 0)"/><use href="#s" transform="matrix(-25.68 0 0 1 325.13 0)"/><use href="#s" transform="matrix(-42.43 0 0 1 323.18 0)"/><use href="#s" transform="matrix(-43.54 0 0 1 289.77 0)"/><use href="#s" transform="matrix(-40.04 0 0 1 339.18 0)"/><use href="#s" transform="matrix(-46.07 0 0 1 306.67 0)"/><use href="#s" transform="matrix(-45.93 0 0 1 269.34 0)"/><use href="#s" transform="matrix(-42.8 0 0 1 241.92 0)"/><use href="#s" transform="matrix(-27.28 0 0 1 315.08 0)"/><use href="#s" transform="matrix(-31.06 0 0 1 342.73 0)"/><use href="#s" transform="matrix(-19.84 0 0 1 321.89 0)"/><use href="#s" transform="matrix(-36.32 0 0 1 355.73 0)"/><use href="#s" transform="matrix(-21.23 0 0 1 304.99 0)"/><use href="#s" transform="matrix(-37.8 0 0 1 304.54 0)"/><use href="#s" transform="matrix(-39.01 0 0 1 319.36 0)"/><use href="#s" transform="matrix(-22.73 0 0 1 312.54 0)"/><use href="#s" transform="matrix(-26.42 0 0 1 274.92 0)"/><use href="#s" transform="matrix(-27.11 0 0 1 303.34 0)"/><use href="#s" transform="matrix(-30.66 0 0 1 292.61 0)"/><use href="#s" transform="matrix(-32.68 0 0 1 330.05 0)"/><use href="#s" transform="matrix(-27.84 0 0 1 319.26 0)"/><use href="#s" transform="matrix(-53.22 0 0 1 244.08 0)"/><use href="#s" transform="matrix(-42.21 0 0 1 263.67 0)"/><use href="#s" transform="matrix(-44.66 0 0 1 312.91 0)"/><use href="#s" transform="matrix(-25.48 0 0 1 312.05 0)"/><use href="#s" transform="matrix(-36.34 0 0 1 282.8 0)"/><use href="#s" transform="matrix(-34.44 0 0 1 308.66 0)"/><use href="#s" transform="matrix(-54.91 0 0 1 320.85 0)"/><use href="#s" transform="matrix(-23.84 0 0 1 284.72 0)"/><use href="#s" transform="matrix(-24.9 0 0 1 283.6 0)"/><use href="#s" transform="matrix(-25.49 0 0 1 305.92 0)"/><use href="#s" transform="matrix(-20.72 0 0 1 319.23 0)"/><use href="#s" transform="matrix(-35.64 0 0 1 288.54 0)"/><use href="#s" transform="matrix(-33.58 0 0 1 324 0)"/><use href="#s" transform="matrix(-35.97 0 0 1 314.12 0)"/><use href="#s" transform="matrix(-33.77 0 0 1 288.83 0)"/><use href="#s" transform="matrix(-29.35 0 0 1 286.48 0)"/><use href="#s" transform="matrix(-37.15 0 0 1 279.62 0)"/><use href="#s" transform="matrix(-25.9 0 0 1 300.49 0)"/><use href="#s" transform="matrix(-41.11 0 0 1 336.35 0)"/><use href="#s" transform="matrix(-46.41 0 0 1 302.65 0)"/><use href="#s" transform="matrix(-45.99 0 0 1 255.88 0)"/><use href="#s" transform="matrix(-38.38 0 0 1 309.32 0)"/><use href="#s" transform="matrix(-29.88 0 0 1 295.42 0)"/><use href="#s" transform="matrix(-36.56 0 0 1 293.08 0)"/><use href="#s" transform="matrix(-27.55 0 0 1 331.4 0)"/><use href="#s" transform="matrix(-27.61 0 0 1 279.85 0)"/><use href="#s" transform="matrix(-37.03 0 0 1 295.35 0)"/><use href="#s" transform="matrix(-27.47 0 0 1 300.65 0)"/><use href="#s" transform="matrix(-28.1 0 0 1 337.43 0)"/><use href="#s" transform="matrix(-29.64 0 0 1 274.86 0)"/><use href="#s" transform="matrix(-27.31 0 0 1 302.52 0)"/><use href="#s" transform="matrix(-56.98 0 0 1 249.01 0)"/><use href="#s" transform="matrix(-55.04 0 0 1 291.19 0)"/><use href="#s" transform="matrix(-40.97 0 0 1 298.21 0)"/><use href="#s" transform="matrix(-48.58 0 0 1 267.49 0)"/><use href="#s" transform="matrix(-22.48 0 0 1 305.73 0)"/><use href="#s" transform="matrix(-27.54 0 0 1 303.51 0)"/><use href="#s" transform="matrix(-41.79 0 0 1 283.85 0)"/><use href="#s" transform="matrix(-33.21 0 0 1 304.4 0)"/><use href="#s" transform="matrix(-40.8 0 0 1 285.19 0)"/><use href="#s" transform="matrix(-46.75 0 0 1 301.4 0)"/><use href="#s" transform="matrix(-48.32 0 0 1 304.11 0)"/><use href="#s" transform="matrix(-22.95 0 0 1 324.92 0)"/><use href="#s" transform="matrix(-31.3 0 0 1 278.46 0)"/><use href="#s" transform="matrix(-22.24 0 0 1 305.48 0)"/><use href="#s" transform="matrix(-27.39 0 0 1 331.52 0)"/><use href="#s" transform="matrix(-38.54 0 0 1 308.88 0)"/><use href="#s" transform="matrix(-37.57 0 0 1 330.6 0)"/><use href="#s" transform="matrix(-21.23 0 0 1 324.96 0)"/><use href="#s" transform="matrix(-36.51 0 0 1 275.13 0)"/><use href="#s" transform="matrix(-32.34 0 0 1 274.12 0)"/><use href="#s" transform="matrix(-43.34 0 0 1 339.16 0)"/><use href="#s" transform="matrix(-47.64 0 0 1 315.81 0)"/><use href="#s" transform="matrix(-23.29 0 0 1 326.9 0)"/><use href="#s" transform="matrix(-40.89 0 0 1 291.31 0)"/><use href="#s" transform="matrix(-27.19 0 0 1 299.54 0)"/><use href="#s" transform="matrix(-26.73 0 0 1 316.13 0)"/><use href="#s" transform="matrix(-99.12 0 0 1 216.57 0)"/><use href="#s" transform="matrix(-24.4 0 0 1 328.91 0)"/><use href="#s" transform="matrix(-32.13 0 0 1 303.92 0)"/><use href="#s" transform="matrix(-41.35 0 0 1 282.15 0)"/><use href="#s" transform="matrix(-26.5 0 0 1 284.58 0)"/><use href="#s" transform="matrix(-25.69 0 0 1 286.16 0)"/><use href="#s" transform="matrix(-19.59 0 0 1 317.66 0)"/><use href="#s" transform="matrix(-51.9 0 0 1 285.05 0)"/><use href="#s" transform="matrix(-21.77 0 0 1 322.47 0)"/><use href="#s" transform="matrix(-31.62 0 0 1 287.35 0)"/><use href="#s" transform="matrix(-36.43 0 0 1 324.23 0)"/><use href="#s" transform="matrix(-26.49 0 0 1 289.18 0)"/><use href="#s" transform="matrix(-30.15 0 0 1 299.14 0)"/><use href="#s" transform="matrix(-22.55 0 0 1 318.41 0)"/><use href="#s" transform="matrix(-38.16 0 0 1 303.68 0)"/><use href="#s" transform="matrix(-35.53 0 0 1 288.71 0)"/><use href="#s" transform="matrix(-20.51 0 0 1 314.56 0)"/><use href="#s" transform="matrix(-29.41 0 0 1 345.09 0)"/><use href="#s" transform="matrix(-46.8 0 0 1 306.91 0)"/><use href="#s" transform="matrix(-38.83 0 0 1 299.58 0)"/><use href="#s" transform="matrix(-34.79 0 0 1 289.68 0)"/><use href="#s" transform="matrix(-43.83 0 0 1 268.74 0)"/><use href="#s" transform="matrix(-27.34 0 0 1 282.29 0)"/><use href="#s" transform="matrix(-28.35 0 0 1 310.28 0)"/><use href="#s" transform="matrix(-49.04 0 0 1 292.99 0)"/><use href="#s" transform="matrix(-33.78 0 0 1 314.95 0)"/><use href="#s" transform="matrix(-23.8 0 0 1 299.08 0)"/><use href="#s" transform="matrix(-22.14 0 0 1 308.35 0)"/><use href="#s" transform="matrix(-23.94 0 0 1 328.29 0)"/><use href="#s" transform="matrix(-45.27 0 0 1 309.12 0)"/><use href="#s" transform="matrix(-50.18 0 0 1 266.61 0)"/><use href="#s" transform="matrix(-32.53 0 0 1 309.37 0)"/><use href="#s" transform="matrix(-35.18 0 0 1 325.75 0)"/><use href="#s" transform="matrix(-21.32 0 0 1 323.81 0)"/><use href="#s" transform="matrix(-36.87 0 0 1 306.56 0)"/><use href="#s" transform="matrix(-35.26 0 0 1 285.58 0)"/><use href="#s" transform="matrix(-28.37 0 0 1 278.34 0)"/><use href="#s" transform="matrix(-33.26 0 0 1 323.41 0)"/><use href="#s" transform="matrix(-25.53 0 0 1 290.26 0)"/><use href="#s" transform="matrix(-27.09 0 0 1 326.86 0)"/><use href="#s" transform="matrix(-30.8 0 0 1 342.38 0)"/><use href="#s" transform="matrix(-24.82 0 0 1 294.44 0)"/><use href="#s" transform="matrix(-37.83 0 0 1 329.83 0)"/><use href="#s" transform="matrix(-45.21 0 0 1 313.33 0)"/><use href="#s" transform="matrix(-34.62 0 0 1 326.08 0)"/><use href="#s" transform="matrix(-41.95 0 0 1 267.56 0)"/><use href="#s" transform="matrix(-37.88 0 0 1 281.09 0)"/><use href="#s" transform="matrix(-24.23 0 0 1 329.53 0)"/><use href="#s" transform="matrix(-47.06 0 0 1 263.05 0)"/><use href="#s" transform="matrix(-31.22 0 0 1 275.62 0)"/><use href="#s" transform="matrix(-32.48 0 0 1 320.58 0)"/><use href="#s" transform="matrix(-59.5 0 0 1 280.69 0)"/><use href="#s" transform="matrix(-26.09 0 0 1 286.5 0)"/><use href="#s" transform="matrix(-61.07 0 0 1 283.3 0)"/><use href="#s" transform="matrix(-20.55 0 0 1 320.24 0)"/><use href="#s" transform="matrix(-27.61 0 0 1 293.54 0)"/><use href="#s" transform="matrix(-23.17 0 0 1 326.97 0)"/><use href="#s" transform="matrix(-32.59 0 0 1 308.52 0)"/><use href="#s" transform="matrix(-50.24 0 0 1 258.27 0)"/><use href="#s" transform="matrix(-46.28 0 0 1 318.35 0)"/><use href="#s" transform="matrix(-58.13 0 0 1 248.59 0)"/><use href="#s" transform="matrix(-34.37 0 0 1 338.66 0)"/><use href="#s" transform="matrix(-45.25 0 0 1 244.49 0)"/><use href="#s" transform="matrix(-29.89 0 0 1 333.56 0)"/><use href="#s" transform="matrix(-22.1 0 0 1 305.2 0)"/><use href="#s" transform="matrix(-20.46 0 0 1 320.08 0)"/><use href="#s" transform="matrix(-46.42 0 0 1 334.7 0)"/><use href="#s" transform="matrix(-31.78 0 0 1 309.39 0)"/><use href="#s" transform="matrix(-42.88 0 0 1 296.63 0)"/><use href="#s" transform="matrix(-47.57 0 0 1 290.59 0)"/><use href="#s" transform="matrix(-46.88 0 0 1 286.7 0)"/><use href="#s" transform="matrix(-25.75 0 0 1 288.21 0)"/><use href="#s" transform="matrix(-38 0 0 1 297.95 0)"/><use href="#s" transform="matrix(-34.21 0 0 1 359.15 0)"/><use href="#s" transform="matrix(-38.14 0 0 1 322.71 0)"/><use href="#s" transform="matrix(-36.02 0 0 1 279.33 0)"/><use href="#s" transform="matrix(-26.36 0 0 1 332.45 0)"/><use href="#s" transform="matrix(-29.39 0 0 1 300.42 0)"/><use href="#s" transform="matrix(-41.65 0 0 1 285.91 0)"/><use href="#s" transform="matrix(-34.97 0 0 1 306.17 0)"/><use href="#s" transform="matrix(-39.87 0 0 1 286.29 0)"/><use href="#s" transform="matrix(-25 0 0 1 308.86 0)"/><use href="#s" transform="matrix(-25.02 0 0 1 287.89 0)"/><use href="#s" transform="matrix(-29.69 0 0 1 333.08 0)"/><use href="#s" transform="matrix(-46.84 0 0 1 269.6 0)"/><use href="#s" transform="matrix(-36.7 0 0 1 312.11 0)"/><use href="#s" transform="matrix(-60.55 0 0 1 265.34 0)"/><use href="#s" transform="matrix(-24.02 0 0 1 330.34 0)"/><use href="#s" transform="matrix(-59.46 0 0 1 270.85 0)"/><use href="#s" transform="matrix(-24.29 0 0 1 331.9 0)"/><use href="#s" transform="matrix(-45.38 0 0 1 301.64 0)"/><use href="#s" transform="matrix(-30.93 0 0 1 334.75 0)"/><use href="#s" transform="matrix(-31.79 0 0 1 280.24 0)"/><use href="#s" transform="matrix(-46.2 0 0 1 300.05 0)"/><use href="#s" transform="matrix(-28.66 0 0 1 337.97 0)"/><use href="#s" transform="matrix(-47.42 0 0 1 266.61 0)"/><use href="#s" transform="matrix(-30.01 0 0 1 317.73 0)"/><use href="#s" transform="matrix(-49.3 0 0 1 258.31 0)"/><use href="#s" transform="matrix(-21.31 0 0 1 325.49 0)"/><use href="#s" transform="matrix(-21.12 0 0 1 316.28 0)"/><use href="#s" transform="matrix(-50.37 0 0 1 251.13 0)"/><use href="#s" transform="matrix(-45.11 0 0 1 297.78 0)"/><use href="#s" transform="matrix(-26.61 0 0 1 327.38 0)"/><use href="#s" transform="matrix(-28.19 0 0 1 343.58 0)"/><use href="#s" transform="matrix(-24.87 0 0 1 292.2 0)"/><use href="#s" transform="matrix(-82.76 0 0 1 235.14 0)"/><use href="#s" transform="matrix(-27.96 0 0 1 335.35 0)"/><use href="#s" transform="matrix(-38.14 0 0 1 281.99 0)"/><use href="#s" transform="matrix(-36.25 0 0 1 301.9 0)"/><use href="#s" transform="matrix(-42 0 0 1 291.86 0)"/><use href="#s" transform="matrix(-48.05 0 0 1 263.05 0)"/><use href="#s" transform="matrix(-62.56 0 0 1 228.92 0)"/><use href="#s" transform="matrix(-20.35 0 0 1 320.02 0)"/><use href="#s" transform="matrix(-38.91 0 0 1 308.5 0)"/><use href="#s" transform="matrix(-34.08 0 0 1 300.02 0)"/><use href="#s" transform="matrix(-28.36 0 0 1 282.61 0)"/><use href="#s" transform="matrix(-38.25 0 0 1 317.46 0)"/><use href="#s" transform="matrix(-44.87 0 0 1 271.43 0)"/><use href="#s" transform="matrix(-67.34 0 0 1 266.75 0)"/><use href="#s" transform="matrix(-38.48 0 0 1 264.07 0)"/><use href="#s" transform="matrix(-69.23 0 0 1 253.56 0)"/><use href="#s" transform="matrix(-37.85 0 0 1 311.53 0)"/><use href="#s" transform="matrix(-37.18 0 0 1 261.16 0)"/><use href="#s" transform="matrix(-29.77 0 0 1 343.54 0)"/><use href="#s" transform="matrix(-41.66 0 0 1 299.46 0)"/><use href="#s" transform="matrix(-49.36 0 0 1 291.58 0)"/><use href="#s" transform="matrix(-32.08 0 0 1 290.3 0)"/><use href="#s" transform="matrix(-19.37 0 0 1 317.44 0)"/><use href="#s" transform="matrix(-49.85 0 0 1 233.61 0)"/><use href="#s" transform="matrix(-37.33 0 0 1 300.37 0)"/><use href="#s" transform="matrix(-30.02 0 0 1 343.19 0)"/><use href="#s" transform="matrix(-34.21 0 0 1 338.99 0)"/><use href="#s" transform="matrix(-42.86 0 0 1 317.94 0)"/><use href="#s" transform="matrix(-44.57 0 0 1 292.34 0)"/><use href="#s" transform="matrix(-26.22 0 0 1 338.51 0)"/><use href="#s" transform="matrix(-34.64 0 0 1 287.17 0)"/><use href="#s" transform="matrix(-28.08 0 0 1 339.94 0)"/><use href="#s" transform="matrix(-38.14 0 0 1 274.23 0)"/><use href="#s" transform="matrix(-53.26 0 0 1 253.96 0)"/><use href="#s" transform="matrix(-32.82 0 0 1 297.39 0)"/><use href="#s" transform="matrix(-46.28 0 0 1 291.77 0)"/><use href="#s" transform="matrix(-53.35 0 0 1 227.53 0)"/><use href="#s" transform="matrix(-30.32 0 0 1 294.44 0)"/><use href="#s" transform="matrix(-22.05 0 0 1 329.01 0)"/><use href="#s" transform="matrix(-42.13 0 0 1 298.96 0)"/><use href="#s" transform="matrix(-28.44 0 0 1 306.82 0)"/><use href="#s" transform="matrix(-47.11 0 0 1 306.32 0)"/><use href="#s" transform="matrix(-27.2 0 0 1 292.62 0)"/><use href="#s" transform="matrix(-36.48 0 0 1 308.09 0)"/><use href="#s" transform="matrix(-32.08 0 0 1 300.67 0)"/><use href="#s" transform="matrix(-25.8 0 0 1 292.22 0)"/><use href="#s" transform="matrix(-32.87 0 0 1 309.55 0)"/><use href="#s" transform="matrix(-35.55 0 0 1 314.99 0)"/><use href="#s" transform="matrix(-39.67 0 0 1 307.41 0)"/><use href="#s" transform="matrix(-45.07 0 0 1 258.54 0)"/><use href="#s" transform="matrix(-30.21 0 0 1 276.02 0)"/><use href="#s" transform="matrix(-35.68 0 0 1 268.77 0)"/><use href="#s" transform="matrix(-32.06 0 0 1 290.29 0)"/><use href="#s" transform="matrix(-34.52 0 0 1 351.48 0)"/><use href="#s" transform="matrix(-24.49 0 0 1 297.6 0)"/><use href="#s" transform="matrix(-38.42 0 0 1 288.75 0)"/><use href="#s" transform="matrix(-35.03 0 0 1 357.31 0)"/><use href="#s" transform="matrix(-22.54 0 0 1 310.06 0)"/><use href="#s" transform="matrix(-59.76 0 0 1 286.74 0)"/><use href="#s" transform="matrix(-41.58 0 0 1 324.88 0)"/><use href="#s" transform="matrix(-32.46 0 0 1 334.62 0)"/><use href="#s" transform="matrix(-31.32 0 0 1 330.35 0)"/><use href="#s" transform="matrix(-26.41 0 0 1 281.34 0)"/><use href="#s" transform="matrix(-33.26 0 0 1 305.9 0)"/><use href="#s" transform="matrix(-38.28 0 0 1 283.22 0)"/><use href="#s" transform="matrix(-64.7 0 0 1 259.47 0)"/><use href="#s" transform="matrix(-39.05 0 0 1 324.78 0)"/><use href="#s" transform="matrix(-34.26 0 0 1 253.17 0)"/><use href="#s" transform="matrix(-24.05 0 0 1 288.62 0)"/><use href="#s" transform="matrix(-23.14 0 0 1 317.55 0)"/><use href="#s" transform="matrix(-42.88 0 0 1 334.82 0)"/><use href="#s" transform="matrix(-37.11 0 0 1 300.26 0)"/><use href="#s" transform="matrix(-33.01 0 0 1 312.44 0)"/><use href="#s" transform="matrix(-39.52 0 0 1 309.77 0)"/><use href="#s" transform="matrix(-24.85 0 0 1 328.74 0)"/><use href="#s" transform="matrix(-33.27 0 0 1 319.33 0)"/><use href="#s" transform="matrix(-24.02 0 0 1 312.56 0)"/><use href="#s" transform="matrix(-31.51 0 0 1 282.45 0)"/><use href="#s" transform="matrix(-40.63 0 0 1 301.2 0)"/><use href="#s" transform="matrix(-41.03 0 0 1 290.44 0)"/><use href="#s" transform="matrix(-31.15 0 0 1 335.58 0)"/><use href="#s" transform="matrix(-29.49 0 0 1 326.22 0)"/><use href="#s" transform="matrix(-41.42 0 0 1 312.73 0)"/><use href="#s" transform="matrix(-30.88 0 0 1 329.62 0)"/><use href="#s" transform="matrix(-36.91 0 0 1 307.97 0)"/><use href="#s" transform="matrix(-45.53 0 0 1 305.47 0)"/><use href="#s" transform="matrix(-31.3 0 0 1 320.91 0)"/><use href="#s" transform="matrix(-23.99 0 0 1 301.9 0)"/><use href="#s" transform="matrix(-20.58 0 0 1 325.4 0)"/><use href="#s" transform="matrix(-42.22 0 0 1 270.04 0)"/><use href="#s" transform="matrix(-32.69 0 0 1 339.29 0)"/><use href="#s" transform="matrix(-34.74 0 0 1 279.87 0)"/><use href="#s" transform="matrix(-26.74 0 0 1 321.85 0)"/><use href="#s" transform="matrix(-56.82 0 0 1 281.41 0)"/><use href="#s" transform="matrix(-73.46 0 0 1 249 0)"/><use href="#s" transform="matrix(-20.13 0 0 1 320.29 0)"/><use href="#s" transform="matrix(-25.97 0 0 1 292.67 0)"/><use href="#s" transform="matrix(-24.9 0 0 1 331.79 0)"/><use href="#s" transform="matrix(-41.09 0 0 1 287.49 0)"/><use href="#s" transform="matrix(-34.04 0 0 1 282.66 0)"/><use href="#s" transform="matrix(-20.29 0 0 1 318.84 0)"/><use href="#s" transform="matrix(-61.3 0 0 1 298.86 0)"/><use href="#s" transform="matrix(-36.86 0 0 1 308.75 0)"/><use href="#s" transform="matrix(-57.92 0 0 1 285.67 0)"/><use href="#s" transform="matrix(-43.24 0 0 1 303.1 0)"/><use href="#s" transform="matrix(-65.05 0 0 1 233.22 0)"/><use href="#s" transform="matrix(-25.31 0 0 1 288.02 0)"/><use href="#s" transform="matrix(-38.88 0 0 1 302.55 0)"/><use href="#s" transform="matrix(-29.19 0 0 1 330.44 0)"/><use href="#s" transform="matrix(-28.8 0 0 1 331.32 0)"/><use href="#s" transform="matrix(-28.95 0 0 1 296.07 0)"/><use href="#s" transform="matrix(-24.61 0 0 1 297.67 0)"/><use href="#s" transform="matrix(-36.23 0 0 1 303.28 0)"/><use href="#s" transform="matrix(-28.05 0 0 1 342.95 0)"/><use href="#s" transform="matrix(-50.66 0 0 1 290.82 0)"/><use href="#s" transform="matrix(-29.8 0 0 1 328.81 0)"/><use href="#s" transform="matrix(-23.56 0 0 1 297.95 0)"/><use href="#s" transform="matrix(-40.46 0 0 1 271.15 0)"/><use href="#s" transform="matrix(-26.61 0 0 1 314.97 0)"/><use href="#s" transform="matrix(-22.62 0 0 1 323.69 0)"/><use href="#s" transform="matrix(-23.5 0 0 1 303.64 0)"/><use href="#s" transform="matrix(-50.41 0 0 1 275.25 0)"/><use href="#s" transform="matrix(-25 0 0 1 313.64 0)"/><use href="#s" transform="matrix(-30.33 0 0 1 323.81 0)"/><use href="#s" transform="matrix(-42.25 0 0 1 297.38 0)"/><use href="#s" transform="matrix(-22.99 0 0 1 318.79 0)"/><use href="#s" transform="matrix(-43.53 0 0 1 262.31 0)"/><use href="#s" transform="matrix(-35.39 0 0 1 273.12 0)"/><use href="#s" transform="matrix(-47.13 0 0 1 302.67 0)"/><use href="#s" transform="matrix(-27.92 0 0 1 298.97 0)"/><use href="#s" transform="matrix(-20.96 0 0 1 314.5 0)"/><use href="#s" transform="matrix(-32.13 0 0 1 338.2 0)"/><use href="#s" transform="matrix(-25.22 0 0 1 281.78 0)"/><use href="#s" transform="matrix(-33.89 0 0 1 344.84 0)"/><use href="#s" transform="matrix(-28.17 0 0 1 339.05 0)"/><use href="#s" transform="matrix(-30.44 0 0 1 331.23 0)"/><use href="#s" transform="matrix(-39.02 0 0 1 304.47 0)"/><use href="#s" transform="matrix(-37.62 0 0 1 299.62 0)"/><use href="#s" transform="matrix(-45.19 0 0 1 286.13 0)"/><use href="#s" transform="matrix(-28.69 0 0 1 260.52 0)"/><use href="#s" transform="matrix(-36.47 0 0 1 284.58 0)"/><use href="#s" transform="matrix(-30.76 0 0 1 268.78 0)"/><use href="#s" transform="matrix(-22.89 0 0 1 299.24 0)"/><use href="#s" transform="matrix(-24.21 0 0 1 298.68 0)"/><use href="#s" transform="matrix(-28.16 0 0 1 311.07 0)"/><use href="#s" transform="matrix(-33.11 0 0 1 315.73 0)"/><use href="#s" transform="matrix(-24.37 0 0 1 309.19 0)"/><use href="#s" transform="matrix(-28.12 0 0 1 287.12 0)"/><use href="#s" transform="matrix(-49.21 0 0 1 303.3 0)"/><use href="#s" transform="matrix(-34.46 0 0 1 321.3 0)"/><use href="#s" transform="matrix(-21.02 0 0 1 321.63 0)"/><use href="#s" transform="matrix(-35.14 0 0 1 260.59 0)"/><use href="#s" transform="matrix(-43.73 0 0 1 275.63 0)"/><use href="#s" transform="matrix(-42.72 0 0 1 301.17 0)"/><use href="#s" transform="matrix(-34.46 0 0 1 276.65 0)"/><use href="#s" transform="matrix(-36.47 0 0 1 289.02 0)"/><use href="#s" transform="matrix(-40.87 0 0 1 308.4 0)"/><use href="#s" transform="matrix(-26.79 0 0 1 280.11 0)"/><use href="#s" transform="matrix(-29.02 0 0 1 324.75 0)"/><use href="#s" transform="matrix(-26.89 0 0 1 317.6 0)"/><use href="#s" transform="matrix(-22.17 0 0 1 311.25 0)"/><use href="#s" transform="matrix(-31.88 0 0 1 317.32 0)"/><use href="#s" transform="matrix(-32.47 0 0 1 329.72 0)"/><use href="#s" transform="matrix(-53.63 0 0 1 217.56 0)"/><use href="#s" transform="matrix(-24.21 0 0 1 316.69 0)"/><use href="#s" transform="matrix(-55.06 0 0 1 282.05 0)"/><use href="#s" transform="matrix(-25.26 0 0 1 335.89 0)"/><use href="#s" transform="matrix(-29.17 0 0 1 283.37 0)"/><use href="#s" transform="matrix(-33.15 0 0 1 315.01 0)"/><use href="#s" transform="matrix(-53.99 0 0 1 262.48 0)"/><use href="#s" transform="matrix(-40.1 0 0 1 273.25 0)"/><use href="#s" transform="matrix(-22.91 0 0 1 299.15 0)"/><use href="#s" transform="matrix(-26.13 0 0 1 308.29 0)"/><use href="#s" transform="matrix(-20.34 0 0 1 320.54 0)"/><use href="#s" transform="matrix(-35.59 0 0 1 339.84 0)"/><use href="#s" transform="matrix(-21.58 0 0 1 321.84 0)"/><use href="#s" transform="matrix(-32.17 0 0 1 351.62 0)"/><use href="#s" transform="matrix(-46.29 0 0 1 263.55 0)"/><use href="#s" transform="matrix(-25.88 0 0 1 332.98 0)"/><use href="#s" transform="matrix(-41.94 0 0 1 285.39 0)"/><use href="#s" transform="matrix(-41.53 0 0 1 326.35 0)"/><use href="#s" transform="matrix(-25.54 0 0 1 293.88 0)"/><use href="#s" transform="matrix(-24.56 0 0 1 321.33 0)"/><use href="#s" transform="matrix(-25.49 0 0 1 321.63 0)"/><use href="#s" transform="matrix(-31.51 0 0 1 323.1 0)"/><use href="#s" transform="matrix(-30.55 0 0 1 290.45 0)"/><use href="#s" transform="matrix(-50.42 0 0 1 253.31 0)"/><use href="#s" transform="matrix(-39.05 0 0 1 312.45 0)"/><use href="#s" transform="matrix(-30.01 0 0 1 300.14 0)"/><use href="#s" transform="matrix(-42.68 0 0 1 315.21 0)"/><use href="#s" transform="matrix(-29.07 0 0 1 319.49 0)"/><use href="#s" transform="matrix(-23.79 0 0 1 331.29 0)"/><use href="#s" transform="matrix(-29.09 0 0 1 337.65 0)"/><use href="#s" transform="matrix(-27.59 0 0 1 313.41 0)"/><use href="#s" transform="matrix(-41.23 0 0 1 294.11 0)"/><use href="#s" transform="matrix(-34.95 0 0 1 273.08 0)"/><use href="#s" transform="matrix(-20.28 0 0 1 320.46 0)"/><use href="#s" transform="matrix(-30.39 0 0 1 326.24 0)"/><use href="#s" transform="matrix(-38.16 0 0 1 311.26 0)"/><use href="#s" transform="matrix(-45.33 0 0 1 264.12 0)"/><use href="#s" transform="matrix(-42.98 0 0 1 300.86 0)"/><use href="#s" transform="matrix(-25.75 0 0 1 316.66 0)"/><use href="#s" transform="matrix(-43.1 0 0 1 335.46 0)"/><use href="#s" transform="matrix(-33.7 0 0 1 292.81 0)"/><use href="#s" transform="matrix(-35.28 0 0 1 314.73 0)"/><use href="#s" transform="matrix(-34.95 0 0 1 298.49 0)"/><use href="#s" transform="matrix(-34.76 0 0 1 294.52 0)"/><use href="#s" transform="matrix(-21.04 0 0 1 321.58 0)"/><use href="#s" transform="matrix(-35.44 0 0 1 336.95 0)"/><use href="#s" transform="matrix(-29.57 0 0 1 312.31 0)"/><use href="#s" transform="matrix(-30.43 0 0 1 290.53 0)"/><use href="#s" transform="matrix(-30.71 0 0 1 343.41 0)"/><use href="#s" transform="matrix(-57.23 0 0 1 268.2 0)"/><use href="#s" transform="matrix(-26.31 0 0 1 305.8 0)"/><use href="#s" transform="matrix(-49.01 0 0 1 277.92 0)"/><use href="#s" transform="matrix(-72.01 0 0 1 233.64 0)"/><use href="#s" transform="matrix(-39.42 0 0 1 294.25 0)"/><use href="#s" transform="matrix(-32.93 0 0 1 255.68 0)"/><use href="#s" transform="matrix(-36.32 0 0 1 296.26 0)"/><use href="#s" transform="matrix(-35.54 0 0 1 267.73 0)"/><use href="#s" transform="matrix(-25.03 0 0 1 294.61 0)"/><use href="#s" transform="matrix(-40.24 0 0 1 292.1 0)"/><use href="#s" transform="matrix(-55.77 0 0 1 258.46 0)"/><use href="#s" transform="matrix(-24.74 0 0 1 285.8 0)"/><use href="#s" transform="matrix(-35.8 0 0 1 282.05 0)"/><use href="#s" transform="matrix(-21.38 0 0 1 322.27 0)"/><use href="#s" transform="matrix(-27.93 0 0 1 336.68 0)"/><use href="#s" transform="matrix(-24.89 0 0 1 316.32 0)"/><use href="#s" transform="matrix(-21.42 0 0 1 313.21 0)"/><use href="#s" transform="matrix(-30.16 0 0 1 350.03 0)"/><use href="#s" transform="matrix(-30.77 0 0 1 309.2 0)"/><use href="#s" transform="matrix(-42.25 0 0 1 318.44 0)"/><use href="#s" transform="matrix(-26.94 0 0 1 336 0)"/><use href="#s" transform="matrix(-23.57 0 0 1 311.18 0)"/><use href="#s" transform="matrix(-27.48 0 0 1 278.79 0)"/><use href="#s" transform="matrix(-20 0 0 1 320 0)"/><use href="#s" transform="matrix(-29.97 0 0 1 306.9 0)"/><use href="#s" transform="matrix(-26.71 0 0 1 334.55 0)"/><use href="#s" transform="matrix(-31.39 0 0 1 346.41 0)"/><use href="#s" transform="matrix(-26.06 0 0 1 288.95 0)"/><use href="#s" transform="matrix(-34.63 0 0 1 306.58 0)"/><use href="#s" transform="matrix(-33.76 0 0 1 326.65 0)"/><use href="#s" transform="matrix(-61.44 0 0 1 269.81 0)"/><use href="#s" transform="matrix(-51.75 0 0 1 281.51 0)"/><use href="#s" transform="matrix(-36.97 0 0 1 312.9 0)"/><use href="#s" transform="matrix(-39.22 0 0 1 308.06 0)"/><use href="#s" transform="matrix(-27.77 0 0 1 278.71 0)"/><use href="#s" transform="matrix(-36.17 0 0 1 302.13 0)"/><use href="#s" transform="matrix(-23.25 0 0 1 304.4 0)"/><use href="#s" transform="matrix(-62.13 0 0 1 294.54 0)"/><use href="#s" transform="matrix(-50.37 0 0 1 286.65 0)"/><use href="#s" transform="matrix(-34.54 0 0 1 298.4 0)"/><use href="#s" transform="matrix(-39.09 0 0 1 275.26 0)"/><use href="#s" transform="matrix(-37.81 0 0 1 280.84 0)"/><use href="#s" transform="matrix(-42.52 0 0 1 296.24 0)"/><use href="#s" transform="matrix(-47.06 0 0 1 249.19 0)"/><use href="#s" transform="matrix(-38.01 0 0 1 288.07 0)"/><use href="#s" transform="matrix(-26.05 0 0 1 301.41 0)"/><use href="#s" transform="matrix(-48.94 0 0 1 275.93 0)"/><use href="#s" transform="matrix(-29.95 0 0 1 337.3 0)"/><use href="#s" transform="matrix(-24.79 0 0 1 302.95 0)"/><use href="#s" transform="matrix(-29.22 0 0 1 338.92 0)"/><use href="#s" transform="matrix(-34.33 0 0 1 299.83 0)"/><use href="#s" transform="matrix(-34.86 0 0 1 327.91 0)"/><use href="#s" transform="matrix(-43.43 0 0 1 306.68 0)"/><use href="#s" transform="matrix(-36.98 0 0 1 274.69 0)"/><use href="#s" transform="matrix(-33.71 0 0 1 324.41 0)"/><use href="#s" transform="matrix(-51.58 0 0 1 288.45 0)"/><use href="#s" transform="matrix(-22.87 0 0 1 307.17 0)"/><use href="#s" transform="matrix(-43.23 0 0 1 277.37 0)"/><use href="#s" transform="matrix(-26.13 0 0 1 295.72 0)"/><use href="#s" transform="matrix(-41.92 0 0 1 299.17 0)"/><use href="#s" transform="matrix(-20.13 0 0 1 318.26 0)"/><use href="#s" transform="matrix(-44.37 0 0 1 300.29 0)"/><use href="#s" transform="matrix(-24.78 0 0 1 326.65 0)"/><use href="#s" transform="matrix(-34.36 0 0 1 323.66 0)"/><use href="#s" transform="matrix(-34.89 0 0 1 353.69 0)"/><use href="#s" transform="matrix(-37.84 0 0 1 294.24 0)"/><use href="#s" transform="matrix(-22.14 0 0 1 317.41 0)"/><use href="#s" transform="matrix(-21.54 0 0 1 315.19 0)"/><use href="#s" transform="matrix(-33.22 0 0 1 328.83 0)"/><use href="#s" transform="matrix(-23.67 0 0 1 301.62 0)"/><use href="#s" transform="matrix(-20.17 0 0 1 319.53 0)"/><use href="#s" transform="matrix(-49.6 0 0 1 266.94 0)"/><use href="#s" transform="matrix(-35.58 0 0 1 336.48 0)"/><use href="#s" transform="matrix(-41.33 0 0 1 292.07 0)"/><use href="#s" transform="matrix(-41.37 0 0 1 335.56 0)"/><use href="#s" transform="matrix(-34.39 0 0 1 338.57 0)"/><use href="#s" transform="matrix(-36.39 0 0 1 321.03 0)"/><use href="#s" transform="matrix(-40.19 0 0 1 300.1 0)"/><use href="#s" transform="matrix(-45.6 0 0 1 281.2 0)"/><use href="#s" transform="matrix(-51.92 0 0 1 263.63 0)"/><use href="#s" transform="matrix(-50.14 0 0 1 290.02 0)"/><use href="#s" transform="matrix(-32.13 0 0 1 318.56 0)"/><use href="#s" transform="matrix(-29.58 0 0 1 267.08 0)"/><use href="#s" transform="matrix(-19.07 0 0 1 322.99 0)"/><use href="#s" transform="matrix(-26.27 0 0 1 294.4 0)"/><use href="#s" transform="matrix(-40.83 0 0 1 284.68 0)"/><use href="#s" transform="matrix(-20.66 0 0 1 316.18 0)"/><use href="#s" transform="matrix(-25.3 0 0 1 327.67 0)"/><use href="#s" transform="matrix(-32.88 0 0 1 317.8 0)"/><use href="#s" transform="matrix(-51.62 0 0 1 288.71 0)"/><use href="#s" transform="matrix(-26.23 0 0 1 298.6 0)"/><use href="#s" transform="matrix(-21.35 0 0 1 320.63 0)"/><use href="#s" transform="matrix(-21.8 0 0 1 311.95 0)"/><use href="#s" transform="matrix(-33.06 0 0 1 256.7 0)"/><use href="#s" transform="matrix(-25.63 0 0 1 319.5 0)"/><use href="#s" transform="matrix(-31.75 0 0 1 348.39 0)"/><use href="#s" transform="matrix(-24.42 0 0 1 281.52 0)"/><use href="#s" transform="matrix(-50.12 0 0 1 250.35 0)"/><use href="#s" transform="matrix(-42.25 0 0 1 285.07 0)"/><use href="#s" transform="matrix(-43.22 0 0 1 315.76 0)"/><use href="#s" transform="matrix(-46.1 0 0 1 305.6 0)"/><use href="#s" transform="matrix(-38.15 0 0 1 299.95 0)"/><use href="#s" transform="matrix(-34.59 0 0 1 235.19 0)"/><use href="#s" transform="matrix(-30.03 0 0 1 283.04 0)"/><use href="#s" transform="matrix(-34.95 0 0 1 283.53 0)"/><use href="#s" transform="matrix(-27.63 0 0 1 294.5 0)"/><use href="#s" transform="matrix(-29.77 0 0 1 337.05 0)"/><use href="#s" transform="matrix(-33.63 0 0 1 281.02 0)"/><use href="#s" transform="matrix(-20.96 0 0 1 317.32 0)"/><use href="#s" transform="matrix(-25.31 0 0 1 330.33 0)"/><use href="#s" transform="matrix(-31.17 0 0 1 334.51 0)"/><use href="#s" transform="matrix(-31.64 0 0 1 286.53 0)"/><use href="#s" transform="matrix(-20.66 0 0 1 319.73 0)"/><use href="#s" transform="matrix(-28.97 0 0 1 287.62 0)"/><use href="#s" transform="matrix(-36.96 0 0 1 296.59 0)"/><use href="#s" transform="matrix(-50.25 0 0 1 259.34 0)"/><use href="#s" transform="matrix(-33.37 0 0 1 275.87 0)"/><use href="#s" transform="matrix(-32 0 0 1 277.44 0)"/><use href="#s" transform="matrix(-29.24 0 0 1 339.07 0)"/><use href="#s" transform="matrix(-46.93 0 0 1 329.15 0)"/><use href="#s" transform="matrix(-49.56 0 0 1 329.12 0)"/><use href="#s" transform="matrix(-59.19 0 0 1 304.43 0)"/><use href="#s" transform="matrix(-30.97 0 0 1 288.33 0)"/><use href="#s" transform="matrix(-44.45 0 0 1 276.25 0)"/><use href="#s" transform="matrix(-37.06 0 0 1 292.7 0)"/><use href="#s" transform="matrix(-23.42 0 0 1 325.99 0)"/><use href="#s" transform="matrix(-31.08 0 0 1 292.97 0)"/><use href="#s" transform="matrix(-25.05 0 0 1 334.24 0)"/><use href="#s" transform="matrix(-33.44 0 0 1 321.52 0)"/><use href="#s" transform="matrix(-49.66 0 0 1 299.58 0)"/><use href="#s" transform="matrix(-32.41 0 0 1 345.53 0)"/><use href="#s" transform="matrix(-32.88 0 0 1 298.83 0)"/><use href="#s" transform="matrix(-25.91 0 0 1 324.34 0)"/><use href="#s" transform="matrix(-47.45 0 0 1 293.39 0)"/><use href="#s" transform="matrix(-29.2 0 0 1 339.73 0)"/><use href="#s" transform="matrix(-28.05 0 0 1 309.41 0)"/><use href="#s" transform="matrix(-34.1 0 0 1 309.54 0)"/><use href="#s" transform="matrix(-20.81 0 0 1 313.32 0)"/><use href="#s" transform="matrix(-41.57 0 0 1 290.99 0)"/><use href="#s" transform="matrix(-34.8 0 0 1 252.34 0)"/><use href="#s" transform="matrix(-44.5 0 0 1 281.95 0)"/><use href="#s" transform="matrix(-20.1 0 0 1 311.03 0)"/><use href="#s" transform="matrix(-26.19 0 0 1 333.62 0)"/><use href="#s" transform="matrix(-30.69 0 0 1 268.32 0)"/><use href="#s" transform="matrix(-26.83 0 0 1 311.07 0)"/><use href="#s" transform="matrix(-31.29 0 0 1 319.78 0)"/><use href="#s" transform="matrix(-36.5 0 0 1 267.18 0)"/><use href="#s" transform="matrix(-77.2 0 0 1 242.48 0)"/><use href="#s" transform="matrix(-29.79 0 0 1 343.53 0)"/><use href="#s" transform="matrix(-28.67 0 0 1 309.71 0)"/><use href="#s" transform="matrix(-53.19 0 0 1 302.59 0)"/><use href="#s" transform="matrix(-30.75 0 0 1 316.65 0)"/><use href="#s" transform="matrix(-51.7 0 0 1 254.84 0)"/><use href="#s" transform="matrix(-43.88 0 0 1 326.56 0)"/><use href="#s" transform="matrix(-52.68 0 0 1 310.02 0)"/><use href="#s" transform="matrix(-38.42 0 0 1 293.86 0)"/><use href="#s" transform="matrix(-31 0 0 1 336.62 0)"/><use href="#s" transform="matrix(-35.11 0 0 1 300.63 0)"/><use href="#s" transform="matrix(-43.39 0 0 1 307.44 0)"/><use href="#s" transform="matrix(-36.6 0 0 1 288.75 0)"/><use href="#s" transform="matrix(-54.71 0 0 1 282.41 0)"/><use href="#s" transform="matrix(-25.09 0 0 1 290.14 0)"/><use href="#s" transform="matrix(-28.13 0 0 1 337.02 0)"/><use href="#s" transform="matrix(-75.91 0 0 1 227.95 0)"/><use href="#s" transform="matrix(-46.96 0 0 1 270.33 0)"/><use href="#s" transform="matrix(-26.67 0 0 1 280.96 0)"/><use href="#s" transform="matrix(-32.4 0 0 1 319.11 0)"/><use href="#s" transform="matrix(-29.29 0 0 1 279.75 0)"/><use href="#s" transform="matrix(-27.52 0 0 1 310.68 0)"/><use href="#s" transform="matrix(-57.03 0 0 1 232.92 0)"/><use href="#s" transform="matrix(-68.87 0 0 1 267.86 0)"/><use href="#s" transform="matrix(-29.2 0 0 1 316.1 0)"/><use href="#s" transform="matrix(-36.91 0 0 1 241.88 0)"/><use href="#s" transform="matrix(-46.92 0 0 1 318.08 0)"/><use href="#s" transform="matrix(-24.65 0 0 1 327.43 0)"/><use href="#s" transform="matrix(-25.64 0 0 1 310.66 0)"/><use href="#s" transform="matrix(-27.9 0 0 1 316.11 0)"/><use href="#s" transform="matrix(-38.63 0 0 1 275.92 0)"/><use href="#s" transform="matrix(-53.14 0 0 1 287.52 0)"/><use href="#s" transform="matrix(-20.61 0 0 1 311.2 0)"/><use href="#s" transform="matrix(-25.84 0 0 1 299.89 0)"/><use href="#s" transform="matrix(-28.68 0 0 1 340.04 0)"/><use href="#s" transform="matrix(-33.16 0 0 1 311.49 0)"/><use href="#s" transform="matrix(-32.62 0 0 1 301.02 0)"/><use href="#s" transform="matrix(-24.12 0 0 1 291.16 0)"/><use href="#s" transform="matrix(-29.49 0 0 1 339.78 0)"/><use href="#s" transform="matrix(-23.94 0 0 1 317.85 0)"/><use href="#s" transform="matrix(-51.49 0 0 1 292.32 0)"/><use href="#s" transform="matrix(-21.69 0 0 1 303.37 0)"/><use href="#s" transform="matrix(-44.49 0 0 1 277.7 0)"/><use href="#s" transform="matrix(-30.87 0 0 1 328.32 0)"/><use href="#s" transform="matrix(-50.6 0 0 1 301.61 0)"/><use href="#s" transform="matrix(-26.01 0 0 1 331.97 0)"/><use href="#s" transform="matrix(-21.84 0 0 1 323 0)"/><use href="#s" transform="matrix(-30.09 0 0 1 323.93 0)"/><use href="#s" transform="matrix(-40.99 0 0 1 259.29 0)"/><use href="#s" transform="matrix(-39.77 0 0 1 287.35 0)"/><use href="#s" transform="matrix(-22.79 0 0 1 298.25 0)"/><use href="#s" transform="matrix(-32 0 0 1 307.28 0)"/><use href="#s" transform="matrix(-32.72 0 0 1 311.95 0)"/><use href="#s" transform="matrix(-28.32 0 0 1 328.73 0)"/><use href="#s" transform="matrix(-39.65 0 0 1 283.67 0)"/><use href="#s" transform="matrix(-69.5 0 0 1 263.8 0)"/><use href="#s" transform="matrix(-75.98 0 0 1 255.81 0)"/><use href="#s" transform="matrix(-31.93 0 0 1 338.49 0)"/><use href="#s" transform="matrix(-29 0 0 1 324.95 0)"/><use href="#s" transform="matrix(-52 0 0 1 294.29 0)"/><use href="#s" transform="matrix(-37.05 0 0 1 299.75 0)"/><use href="#s" transform="matrix(-24.04 0 0 1 326.69 0)"/><use href="#s" transform="matrix(-31.89 0 0 1 289.23 0)"/><use href="#s" transform="matrix(-29.16 0 0 1 318.24 0)"/><use href="#s" transform="matrix(-37.3 0 0 1 335.12 0)"/><use href="#s" transform="matrix(-42.82 0 0 1 316.69 0)"/><use href="#s" transform="matrix(-35.68 0 0 1 333.52 0)"/><use href="#s" transform="matrix(-29.15 0 0 1 333.07 0)"/><use href="#s" transform="matrix(-32.22 0 0 1 288.19 0)"/><use href="#s" transform="matrix(-54.46 0 0 1 249.86 0)"/><use href="#s" transform="matrix(-36.84 0 0 1 296.74 0)"/><use href="#s" transform="matrix(-38.91 0 0 1 260.79 0)"/><use href="#s" transform="matrix(-67.85 0 0 1 242.47 0)"/><use href="#s" transform="matrix(-22.21 0 0 1 307.21 0)"/><use href="#s" transform="matrix(-28.75 0 0 1 272.82 0)"/><use href="#s" transform="matrix(-27.59 0 0 1 283.92 0)"/><use href="#s" transform="matrix(-29.62 0 0 1 299.09 0)"/><use href="#s" transform="matrix(-42.41 0 0 1 275.06 0)"/><use href="#s" transform="matrix(-35.4 0 0 1 323.02 0)"/><use href="#s" transform="matrix(-29.26 0 0 1 343.01 0)"/><use href="#s" transform="matrix(-37.18 0 0 1 276.79 0)"/><use href="#s" transform="matrix(-30.75 0 0 1 294.96 0)"/><use href="#s" transform="matrix(-64.11 0 0 1 211.26 0)"/><use href="#s" transform="matrix(-55.59 0 0 1 276.13 0)"/><use href="#s" transform="matrix(-28.04 0 0 1 338.52 0)"/><use href="#s" transform="matrix(-42.04 0 0 1 301.14 0)"/><use href="#s" transform="matrix(-48.59 0 0 1 291.58 0)"/><use href="#s" transform="matrix(-34.89 0 0 1 316.54 0)"/><use href="#s" transform="matrix(-39.27 0 0 1 292.78 0)"/><use href="#s" transform="matrix(-19.73 0 0 1 317.97 0)"/><use href="#s" transform="matrix(-32.49 0 0 1 293.76 0)"/><use href="#s" transform="matrix(-28.42 0 0 1 280.19 0)"/><use href="#s" transform="matrix(-30.79 0 0 1 288.93 0)"/><use href="#s" transform="matrix(-58.05 0 0 1 216.52 0)"/><use href="#s" transform="matrix(-36.94 0 0 1 317.79 0)"/><use href="#s" transform="matrix(-38.19 0 0 1 324.02 0)"/><use href="#s" transform="matrix(-39.9 0 0 1 251.08 0)"/><use href="#s" transform="matrix(-78.65 0 0 1 191.8 0)"/><use href="#s" transform="matrix(-47.45 0 0 1 286.12 0)"/><use href="#s" transform="matrix(-23.93 0 0 1 295.26 0)"/><use href="#s" transform="matrix(-28.3 0 0 1 337.62 0)"/><use href="#s" transform="matrix(-44.12 0 0 1 275.67 0)"/><use href="#s" transform="matrix(-27.5 0 0 1 276.39 0)"/><use href="#s" transform="matrix(-38.8 0 0 1 299.34 0)"/><use href="#s" transform="matrix(-30.52 0 0 1 340 0)"/><use href="#s" transform="matrix(-54.77 0 0 1 273.63 0)"/><use href="#s" transform="matrix(-35.85 0 0 1 288.16 0)"/><use href="#s" transform="matrix(-52.31 0 0 1 280.74 0)"/><use href="#s" transform="matrix(-35.52 0 0 1 335.53 0)"/><use href="#s" transform="matrix(-29.9 0 0 1 341.04 0)"/><use href="#s" transform="matrix(-20.06 0 0 1 322.14 0)"/><use href="#s" transform="matrix(-30.67 0 0 1 344.06 0)"/><use href="#s" transform="matrix(-26.53 0 0 1 320.17 0)"/><use href="#s" transform="matrix(-36.36 0 0 1 284.6 0)"/><use href="#s" transform="matrix(-41.08 0 0 1 326.01 0)"/><use href="#s" transform="matrix(-33.96 0 0 1 348.27 0)"/><use href="#s" transform="matrix(-38.78 0 0 1 338.33 0)"/><use href="#s" transform="matrix(-25.94 0 0 1 276.07 0)"/><use href="#s" transform="matrix(-52.22 0 0 1 301.76 0)"/><use href="#s" transform="matrix(-25.55 0 0 1 284.53 0)"/></g></g>
<path fill="none" stroke="#000" stroke-width="3.3" stroke-linejoin="round" stroke-linecap="round" d="M273.7 272.9 276.5 275.6 279.3 278.3 282.1 281.2 285.0 284.1 287.8 287.0 290.6 289.9 293.4 292.8 296.3 295.7 299.1 298.5 301.9 301.4 304.7 304.3 307.6 307.2 310.4 310.1 313.2 312.9 316.0 315.7 318.9 318.5 321.7 321.3 324.5 324.1 327.3 326.9 330.2 329.6 333.0 332.2 335.8 334.7 338.6 337.2 341.5 339.5 344.3 341.8 347.1 343.9 349.9 345.9 352.8 347.8 355.6 349.6 358.4 351.3 361.2 352.9 364.1 354.5 366.9 356.0 369.7 357.3 372.5 358.7 375.4 359.9 378.2 361.0 381.0 362.1 383.8 363.2 386.7 364.1 389.5 365.0 392.3 365.9 395.1 366.6 398.0 367.4 400.8 368.0 403.6 368.7 406.4 369.3 409.3 369.8 412.1 370.3 414.9 370.8 417.7 371.2 420.6 371.7 423.4 372.0 426.2 372.4 429.0 372.7 431.9 373.0 434.7 373.3 437.5 373.6 440.3 373.8"/>
<path stroke="#000" stroke-width=".95" d="M273.7 382.7v-5M286.8 382.7v-5M289 382.7v-5M301.3 382.7v-5M304.3 382.7v-5M306 382.7v-5M308 382.7v-5M312.7 382.7v-5M315.4 382.7v-5M316.6 382.7v-5M318.4 382.7v-5M319.9 382.7v-5M322.1 382.7v-5M323.6 382.7v-5M326.2 382.7v-5M326.3 382.7v-5M329.5 382.7v-5M330.4 382.7v-5M331.8 382.7v-5M333.9 382.7v-5M335.5 382.7v-5M337.7 382.7v-5M342.5 382.7v-5M345.7 382.7v-5M346.7 382.7v-5M349.5 382.7v-5M352.1 382.7v-5M358.3 382.7v-5M362.4 382.7v-5M363.4 382.7v-5M365 382.7v-5M366.4 382.7v-5M367.5 382.7v-5M369.4 382.7v-5M370.3 382.7v-5M372.1 382.7v-5M373.8 382.7v-5M375.1 382.7v-5M376.7 382.7v-5M380.2 382.7v-5M383.2 382.7v-5M385.1 382.7v-5M386 382.7v-5M387.1 382.7v-5M390 382.7v-5M392.3 382.7v-5M393.6 382.7v-5M394.5 382.7v-5M397.9 382.7v-5M399.2 382.7v-5M401.2 382.7v-5M405.5 382.7v-5M407 382.7v-5M408.1 382.7v-5M409.3 382.7v-5M410.6 382.7v-5M413.4 382.7v-5M430.7 382.7v-5M440.2 382.7v-5"/>
<rect x="267" y="217.3" width="180" height="165.4" fill="none" stroke="#000" stroke-width="1"/>
<path stroke="#000" stroke-width="1" d="M267 376.5h-6M267 345.9h-6M267 315.3h-6M267 284.7h-6M267 254.1h-6M267 223.5h-6M298 382.7v6M349.6 382.7v6M401.3 382.7v6M437.4 382.7v6"/>
<text transform="translate(256.1 376.5) rotate(-90) scale(.95 1)" text-anchor="middle" font-size="10">0.0</text>
<text transform="translate(256.1 345.9) rotate(-90) scale(.95 1)" text-anchor="middle" font-size="10">0.2</text>
<text transform="translate(256.1 315.3) rotate(-90) scale(.95 1)" text-anchor="middle" font-size="10">0.4</text>
<text transform="translate(256.1 284.7) rotate(-90) scale(.95 1)" text-anchor="middle" font-size="10">0.6</text>
<text transform="translate(256.1 254.1) rotate(-90) scale(.95 1)" text-anchor="middle" font-size="10">0.8</text>
<text transform="translate(256.1 223.5) rotate(-90) scale(.95 1)" text-anchor="middle" font-size="10">1.0</text>
<text transform="translate(298 400.6) scale(.95 1)" text-anchor="middle" font-size="10">5</text>
<text transform="translate(349.6 400.6) scale(.95 1)" text-anchor="middle" font-size="10">50</text>
<text transform="translate(401.3 400.6) scale(.95 1)" text-anchor="middle" font-size="10">500</text>
<text transform="translate(437.4 400.6) scale(.95 1)" text-anchor="middle" font-size="10">2500</text>
<text transform="translate(240.4 300) rotate(-90)" text-anchor="middle" font-size="11.4">FV3 Prevalence</text>
<text x="293.4" y="416.8" font-size="11.4">Zooplankton density (l<tspan font-size="8.6" dx="0.5" dy="-4.6">−1</tspan><tspan dx="0.4" dy="4.6">)</tspan></text>
<text x="270.3" y="232.4" font-size="15" font-weight="bold">E</text>
<clipPath id="cF"><rect x="505.2" y="0.5" width="166.7" height="165.4"/></clipPath>
<g transform="translate(0 216.8)"><g clip-path="url(#cF)"><use href="#s" transform="matrix(-89.24 0 0 1 345.8 0)"/><use href="#s" transform="matrix(-500.9 0 0 1 -503.17 0)"/><use href="#s" transform="matrix(-59.34 0 0 1 420.99 0)"/><use href="#s" transform="matrix(-62.64 0 0 1 397.85 0)"/><use href="#s" transform="matrix(-67.46 0 0 1 394.49 0)"/><use href="#s" transform="matrix(-87.83 0 0 1 348.58 0)"/><use href="#s" transform="matrix(-106.2 0 0 1 334.19 0)"/><use href="#s" transform="matrix(-67.82 0 0 1 489.08 0)"/><use href="#s" transform="matrix(-95.29 0 0 1 355.51 0)"/><use href="#s" transform="matrix(-146.8 0 0 1 215.56 0)"/><use href="#s" transform="matrix(-110.9 0 0 1 278.41 0)"/><use href="#s" transform="matrix(-114.3 0 0 1 377.28 0)"/><use href="#s" transform="matrix(-183.5 0 0 1 173.22 0)"/><use href="#s" transform="matrix(-214.9 0 0 1 208.71 0)"/><use href="#s" transform="matrix(-72.14 0 0 1 397.2 0)"/><use href="#s" transform="matrix(-87.15 0 0 1 334.76 0)"/><use href="#s" transform="matrix(-72.16 0 0 1 316.69 0)"/><use href="#s" transform="matrix(-72.09 0 0 1 385.98 0)"/><use href="#s" transform="matrix(-79.04 0 0 1 290.05 0)"/><use href="#s" transform="matrix(-75.6 0 0 1 442.95 0)"/><use href="#s" transform="matrix(-65.96 0 0 1 353.02 0)"/><use href="#s" transform="matrix(-85.08 0 0 1 343.61 0)"/><use href="#s" transform="matrix(-94.3 0 0 1 343.2 0)"/><use href="#s" transform="matrix(-68.23 0 0 1 359.01 0)"/><use href="#s" transform="matrix(-72.72 0 0 1 451.31 0)"/><use href="#s" transform="matrix(-124.9 0 0 1 249.05 0)"/><use href="#s" transform="matrix(-138.7 0 0 1 297.84 0)"/><use href="#s" transform="matrix(-67.08 0 0 1 420.9 0)"/><use href="#s" transform="matrix(-77.32 0 0 1 472.8 0)"/><use href="#s" transform="matrix(-83.74 0 0 1 437.91 0)"/><use href="#s" transform="matrix(-103.4 0 0 1 464.67 0)"/><use href="#s" transform="matrix(-129.8 0 0 1 394.72 0)"/><use href="#s" transform="matrix(-82.36 0 0 1 288.25 0)"/><use href="#s" transform="matrix(-75.76 0 0 1 418.88 0)"/><use href="#s" transform="matrix(-101.5 0 0 1 322.7 0)"/><use href="#s" transform="matrix(-75.17 0 0 1 399.77 0)"/><use href="#s" transform="matrix(-110.5 0 0 1 340.86 0)"/><use href="#s" transform="matrix(-56.67 0 0 1 471.91 0)"/><use href="#s" transform="matrix(-77.42 0 0 1 308.13 0)"/><use href="#s" transform="matrix(-211 0 0 1 253.51 0)"/><use href="#s" transform="matrix(-96.75 0 0 1 339.94 0)"/><use href="#s" transform="matrix(-72.2 0 0 1 335.62 0)"/><use href="#s" transform="matrix(-171.6 0 0 1 201.93 0)"/><use href="#s" transform="matrix(-95.15 0 0 1 380.78 0)"/><use href="#s" transform="matrix(-93.62 0 0 1 350.3 0)"/><use href="#s" transform="matrix(-99.35 0 0 1 345.18 0)"/><use href="#s" transform="matrix(-588.3 0 0 1 -641.06 0)"/><use href="#s" transform="matrix(-78.2 0 0 1 399.54 0)"/><use href="#s" transform="matrix(-69.77 0 0 1 388.58 0)"/><use href="#s" transform="matrix(-115.6 0 0 1 246.32 0)"/><use href="#s" transform="matrix(-104.3 0 0 1 478.68 0)"/><use href="#s" transform="matrix(-74.22 0 0 1 327.33 0)"/><use href="#s" transform="matrix(-80.23 0 0 1 456.16 0)"/><use href="#s" transform="matrix(-324.3 0 0 1 -150.65 0)"/><use href="#s" transform="matrix(-125.8 0 0 1 240.51 0)"/><use href="#s" transform="matrix(-181.1 0 0 1 309.59 0)"/><use href="#s" transform="matrix(-83.57 0 0 1 328.62 0)"/><use href="#s" transform="matrix(-92.06 0 0 1 286.99 0)"/><use href="#s" transform="matrix(-67.89 0 0 1 367.26 0)"/><use href="#s" transform="matrix(-48.36 0 0 1 469.96 0)"/><use href="#s" transform="matrix(-131 0 0 1 180.97 0)"/><use href="#s" transform="matrix(-63.14 0 0 1 488.11 0)"/><use href="#s" transform="matrix(-91.18 0 0 1 437.02 0)"/><use href="#s" transform="matrix(-64.91 0 0 1 456.56 0)"/><use href="#s" transform="matrix(-87.52 0 0 1 406.5 0)"/><use href="#s" transform="matrix(-74.1 0 0 1 348.87 0)"/><use href="#s" transform="matrix(-391.8 0 0 1 -216.9 0)"/><use href="#s" transform="matrix(-92.21 0 0 1 401.87 0)"/><use href="#s" transform="matrix(-70.15 0 0 1 447.48 0)"/><use href="#s" transform="matrix(-89.46 0 0 1 426.65 0)"/><use href="#s" transform="matrix(-52.87 0 0 1 421.69 0)"/><use href="#s" transform="matrix(-115.5 0 0 1 293.12 0)"/><use href="#s" transform="matrix(-72.22 0 0 1 516.66 0)"/><use href="#s" transform="matrix(-144.9 0 0 1 178.61 0)"/><use href="#s" transform="matrix(-63.85 0 0 1 408.32 0)"/><use href="#s" transform="matrix(-176.9 0 0 1 105.1 0)"/><use href="#s" transform="matrix(-45.39 0 0 1 479.8 0)"/><use href="#s" transform="matrix(-71.74 0 0 1 370.96 0)"/><use href="#s" transform="matrix(-139.4 0 0 1 372.89 0)"/><use href="#s" transform="matrix(-102 0 0 1 470.57 0)"/><use href="#s" transform="matrix(-94.8 0 0 1 210.49 0)"/><use href="#s" transform="matrix(-130.4 0 0 1 214.8 0)"/><use href="#s" transform="matrix(-79.2 0 0 1 287.19 0)"/><use href="#s" transform="matrix(-131.5 0 0 1 184.67 0)"/><use href="#s" transform="matrix(-183.5 0 0 1 56.932 0)"/><use href="#s" transform="matrix(-276.3 0 0 1 -90.298 0)"/><use href="#s" transform="matrix(-62.29 0 0 1 470.76 0)"/><use href="#s" transform="matrix(-278.9 0 0 1 32.657 0)"/><use href="#s" transform="matrix(-191.8 0 0 1 267.04 0)"/><use href="#s" transform="matrix(-95.65 0 0 1 469.79 0)"/><use href="#s" transform="matrix(-109 0 0 1 345.97 0)"/><use href="#s" transform="matrix(-116.6 0 0 1 304 0)"/><use href="#s" transform="matrix(-78.14 0 0 1 458.69 0)"/><use href="#s" transform="matrix(-81.76 0 0 1 397.19 0)"/><use href="#s" transform="matrix(-113.7 0 0 1 253.3 0)"/><use href="#s" transform="matrix(-121.9 0 0 1 160.92 0)"/><use href="#s" transform="matrix(-92.63 0 0 1 313.3 0)"/><use href="#s" transform="matrix(-58.36 0 0 1 410.3 0)"/><use href="#s" transform="matrix(-116.7 0 0 1 260.41 0)"/><use href="#s" transform="matrix(-50.74 0 0 1 451.65 0)"/><use href="#s" transform="matrix(-110.7 0 0 1 477.1 0)"/><use href="#s" transform="matrix(-122.5 0 0 1 406.08 0)"/><use href="#s" transform="matrix(-91.75 0 0 1 218.59 0)"/><use href="#s" transform="matrix(-153.7 0 0 1 217.08 0)"/><use href="#s" transform="matrix(-133.2 0 0 1 211.44 0)"/><use href="#s" transform="matrix(-75.92 0 0 1 445.24 0)"/><use href="#s" transform="matrix(-56.83 0 0 1 444.82 0)"/><use href="#s" transform="matrix(-219.9 0 0 1 150.24 0)"/><use href="#s" transform="matrix(-102.4 0 0 1 332.78 0)"/><use href="#s" transform="matrix(-79.77 0 0 1 358.03 0)"/><use href="#s" transform="matrix(-132.6 0 0 1 200.64 0)"/><use href="#s" transform="matrix(-75.34 0 0 1 382.67 0)"/><use href="#s" transform="matrix(-157.4 0 0 1 166.24 0)"/><use href="#s" transform="matrix(-358.2 0 0 1 -143.31 0)"/><use href="#s" transform="matrix(-71.69 0 0 1 461.43 0)"/><use href="#s" transform="matrix(-77.87 0 0 1 369.86 0)"/><use href="#s" transform="matrix(-126.2 0 0 1 397.84 0)"/><use href="#s" transform="matrix(-97.12 0 0 1 377.43 0)"/><use href="#s" transform="matrix(-61.93 0 0 1 378.06 0)"/><use href="#s" transform="matrix(-145 0 0 1 373.23 0)"/><use href="#s" transform="matrix(-80.4 0 0 1 360.72 0)"/><use href="#s" transform="matrix(-164.8 0 0 1 323.23 0)"/><use href="#s" transform="matrix(-62.82 0 0 1 404.29 0)"/><use href="#s" transform="matrix(-104.6 0 0 1 442.84 0)"/><use href="#s" transform="matrix(-121.6 0 0 1 384.29 0)"/><use href="#s" transform="matrix(-133.6 0 0 1 291.16 0)"/><use href="#s" transform="matrix(-70.07 0 0 1 366.34 0)"/><use href="#s" transform="matrix(-59.93 0 0 1 503.9 0)"/><use href="#s" transform="matrix(-147.8 0 0 1 260.35 0)"/><use href="#s" transform="matrix(-180.6 0 0 1 263.35 0)"/><use href="#s" transform="matrix(-103.7 0 0 1 353.84 0)"/><use href="#s" transform="matrix(-125.5 0 0 1 286.95 0)"/><use href="#s" transform="matrix(-76.12 0 0 1 329.34 0)"/><use href="#s" transform="matrix(-68.07 0 0 1 381.45 0)"/><use href="#s" transform="matrix(-193.3 0 0 1 95.657 0)"/><use href="#s" transform="matrix(-146.8 0 0 1 407.62 0)"/><use href="#s" transform="matrix(-105.4 0 0 1 509.8 0)"/><use href="#s" transform="matrix(-113.5 0 0 1 285.75 0)"/><use href="#s" transform="matrix(-70.22 0 0 1 404.87 0)"/><use href="#s" transform="matrix(-45.46 0 0 1 468.18 0)"/><use href="#s" transform="matrix(-108.4 0 0 1 277.04 0)"/><use href="#s" transform="matrix(-202.3 0 0 1 112.06 0)"/><use href="#s" transform="matrix(-130.7 0 0 1 246.4 0)"/><use href="#s" transform="matrix(-109.8 0 0 1 464.77 0)"/><use href="#s" transform="matrix(-62.92 0 0 1 444.12 0)"/><use href="#s" transform="matrix(-202.7 0 0 1 83.968 0)"/><use href="#s" transform="matrix(-262.5 0 0 1 112.61 0)"/><use href="#s" transform="matrix(-653.4 0 0 1 -485.99 0)"/><use href="#s" transform="matrix(-255.5 0 0 1 115.42 0)"/><use href="#s" transform="matrix(-220.6 0 0 1 -74.252 0)"/><use href="#s" transform="matrix(-58.61 0 0 1 410 0)"/><use href="#s" transform="matrix(-61.26 0 0 1 422.46 0)"/><use href="#s" transform="matrix(-60.32 0 0 1 443.57 0)"/><use href="#s" transform="matrix(-184.4 0 0 1 244.71 0)"/><use href="#s" transform="matrix(-99.44 0 0 1 315.61 0)"/><use href="#s" transform="matrix(-70.4 0 0 1 378.45 0)"/><use href="#s" transform="matrix(-66.75 0 0 1 450.89 0)"/><use href="#s" transform="matrix(-83.36 0 0 1 534.1 0)"/><use href="#s" transform="matrix(-64.11 0 0 1 374.52 0)"/><use href="#s" transform="matrix(-112.1 0 0 1 432.98 0)"/><use href="#s" transform="matrix(-110.9 0 0 1 440.01 0)"/><use href="#s" transform="matrix(-658.2 0 0 1 -593.51 0)"/><use href="#s" transform="matrix(-132.4 0 0 1 34.719 0)"/><use href="#s" transform="matrix(-54.4 0 0 1 447.5 0)"/><use href="#s" transform="matrix(-347.6 0 0 1 -145.7 0)"/><use href="#s" transform="matrix(-107.8 0 0 1 293.66 0)"/><use href="#s" transform="matrix(-96.15 0 0 1 398.48 0)"/><use href="#s" transform="matrix(-77.35 0 0 1 341.6 0)"/><use href="#s" transform="matrix(-107.9 0 0 1 269.84 0)"/><use href="#s" transform="matrix(-73.55 0 0 1 451.44 0)"/><use href="#s" transform="matrix(-83.05 0 0 1 446.61 0)"/><use href="#s" transform="matrix(-81.69 0 0 1 454.19 0)"/><use href="#s" transform="matrix(-172.1 0 0 1 320.9 0)"/><use href="#s" transform="matrix(-176.7 0 0 1 252.48 0)"/><use href="#s" transform="matrix(-61.34 0 0 1 448.42 0)"/><use href="#s" transform="matrix(-98.66 0 0 1 451.84 0)"/><use href="#s" transform="matrix(-82.32 0 0 1 484.61 0)"/><use href="#s" transform="matrix(-113.7 0 0 1 404.39 0)"/><use href="#s" transform="matrix(-117.4 0 0 1 423.73 0)"/><use href="#s" transform="matrix(-91.66 0 0 1 346.7 0)"/><use href="#s" transform="matrix(-130.6 0 0 1 437.22 0)"/><use href="#s" transform="matrix(-104.5 0 0 1 496.71 0)"/><use href="#s" transform="matrix(-74.23 0 0 1 497.03 0)"/><use href="#s" transform="matrix(-101.6 0 0 1 372.21 0)"/><use href="#s" transform="matrix(-75.44 0 0 1 316.26 0)"/><use href="#s" transform="matrix(-64.71 0 0 1 375.38 0)"/><use href="#s" transform="matrix(-60.49 0 0 1 435.55 0)"/><use href="#s" transform="matrix(-69.84 0 0 1 354.93 0)"/><use href="#s" transform="matrix(-68.68 0 0 1 372.6 0)"/><use href="#s" transform="matrix(-97.54 0 0 1 494.09 0)"/><use href="#s" transform="matrix(-107.3 0 0 1 253.22 0)"/><use href="#s" transform="matrix(-77.29 0 0 1 323.4 0)"/><use href="#s" transform="matrix(-69.94 0 0 1 402.57 0)"/><use href="#s" transform="matrix(-112.7 0 0 1 336.52 0)"/><use href="#s" transform="matrix(-91.53 0 0 1 510.5 0)"/><use href="#s" transform="matrix(-182 0 0 1 309.2 0)"/><use href="#s" transform="matrix(-110.6 0 0 1 402.75 0)"/><use href="#s" transform="matrix(-131.2 0 0 1 359.94 0)"/><use href="#s" transform="matrix(-68.68 0 0 1 342.56 0)"/><use href="#s" transform="matrix(-84.53 0 0 1 289.3 0)"/><use href="#s" transform="matrix(-112.6 0 0 1 235.09 0)"/><use href="#s" transform="matrix(-76.72 0 0 1 377.84 0)"/><use href="#s" transform="matrix(-77.66 0 0 1 311.82 0)"/><use href="#s" transform="matrix(-183.6 0 0 1 359.22 0)"/><use href="#s" transform="matrix(-206.3 0 0 1 189.75 0)"/><use href="#s" transform="matrix(-95.84 0 0 1 410.03 0)"/><use href="#s" transform="matrix(-143.3 0 0 1 373.32 0)"/><use href="#s" transform="matrix(-116.5 0 0 1 335.51 0)"/><use href="#s" transform="matrix(-79.61 0 0 1 305.31 0)"/><use href="#s" transform="matrix(-90.22 0 0 1 318.07 0)"/><use href="#s" transform="matrix(-87.36 0 0 1 381.88 0)"/><use href="#s" transform="matrix(-141.7 0 0 1 159.47 0)"/><use href="#s" transform="matrix(-89.34 0 0 1 347.16 0)"/><use href="#s" transform="matrix(-90.15 0 0 1 294.6 0)"/><use href="#s" transform="matrix(-61.56 0 0 1 440.24 0)"/><use href="#s" transform="matrix(-63.47 0 0 1 429.21 0)"/><use href="#s" transform="matrix(-88.76 0 0 1 369.54 0)"/><use href="#s" transform="matrix(-88.48 0 0 1 404.44 0)"/><use href="#s" transform="matrix(-116.2 0 0 1 420.87 0)"/><use href="#s" transform="matrix(-136.6 0 0 1 288.8 0)"/><use href="#s" transform="matrix(-108.8 0 0 1 358.97 0)"/><use href="#s" transform="matrix(-63.25 0 0 1 455.62 0)"/><use href="#s" transform="matrix(-131.7 0 0 1 327.71 0)"/><use href="#s" transform="matrix(-60.65 0 0 1 412.89 0)"/><use href="#s" transform="matrix(-104.8 0 0 1 326.38 0)"/><use href="#s" transform="matrix(-124.4 0 0 1 273.79 0)"/><use href="#s" transform="matrix(-277.2 0 0 1 -55.48 0)"/><use href="#s" transform="matrix(-76.99 0 0 1 422.47 0)"/><use href="#s" transform="matrix(-104.8 0 0 1 361.47 0)"/><use href="#s" transform="matrix(-96.02 0 0 1 329.17 0)"/><use href="#s" transform="matrix(-56.2 0 0 1 467.11 0)"/><use href="#s" transform="matrix(-122.8 0 0 1 434.48 0)"/><use href="#s" transform="matrix(-80.53 0 0 1 387.68 0)"/><use href="#s" transform="matrix(-128.1 0 0 1 239.41 0)"/><use href="#s" transform="matrix(-62.55 0 0 1 429.05 0)"/><use href="#s" transform="matrix(-132.6 0 0 1 300.47 0)"/><use href="#s" transform="matrix(-132.3 0 0 1 374.75 0)"/><use href="#s" transform="matrix(-98.4 0 0 1 356.67 0)"/><use href="#s" transform="matrix(-163.4 0 0 1 393.96 0)"/><use href="#s" transform="matrix(-104.6 0 0 1 272.13 0)"/><use href="#s" transform="matrix(-181.9 0 0 1 215.44 0)"/><use href="#s" transform="matrix(-58.59 0 0 1 402.12 0)"/><use href="#s" transform="matrix(-155.6 0 0 1 314.67 0)"/><use href="#s" transform="matrix(-63.52 0 0 1 379.05 0)"/><use href="#s" transform="matrix(-68.05 0 0 1 368.49 0)"/><use href="#s" transform="matrix(-75.16 0 0 1 327.29 0)"/><use href="#s" transform="matrix(-81.48 0 0 1 377.55 0)"/><use href="#s" transform="matrix(-117.1 0 0 1 479.04 0)"/><use href="#s" transform="matrix(-85.9 0 0 1 482.33 0)"/><use href="#s" transform="matrix(-98.98 0 0 1 323.18 0)"/><use href="#s" transform="matrix(-77.93 0 0 1 380.18 0)"/><use href="#s" transform="matrix(-89.12 0 0 1 396.52 0)"/><use href="#s" transform="matrix(-69.35 0 0 1 331.43 0)"/><use href="#s" transform="matrix(-110.9 0 0 1 400.47 0)"/><use href="#s" transform="matrix(-100.1 0 0 1 458.58 0)"/><use href="#s" transform="matrix(-60.69 0 0 1 403.37 0)"/><use href="#s" transform="matrix(-68.98 0 0 1 326.2 0)"/><use href="#s" transform="matrix(-76.25 0 0 1 320.1 0)"/><use href="#s" transform="matrix(-97.67 0 0 1 401.17 0)"/><use href="#s" transform="matrix(-68.06 0 0 1 382.18 0)"/><use href="#s" transform="matrix(-58.71 0 0 1 406.73 0)"/><use href="#s" transform="matrix(-115.3 0 0 1 392.08 0)"/><use href="#s" transform="matrix(-57.92 0 0 1 414.87 0)"/><use href="#s" transform="matrix(-138.2 0 0 1 256.5 0)"/><use href="#s" transform="matrix(-217.8 0 0 1 113.29 0)"/><use href="#s" transform="matrix(-69.68 0 0 1 323.94 0)"/><use href="#s" transform="matrix(-110.1 0 0 1 443.5 0)"/><use href="#s" transform="matrix(-109.5 0 0 1 449.19 0)"/><use href="#s" transform="matrix(-124.6 0 0 1 272.39 0)"/><use href="#s" transform="matrix(-205.1 0 0 1 253.07 0)"/><use href="#s" transform="matrix(-413.8 0 0 1 -356.41 0)"/><use href="#s" transform="matrix(-118 0 0 1 392.46 0)"/><use href="#s" transform="matrix(-122.9 0 0 1 310.12 0)"/><use href="#s" transform="matrix(-97.64 0 0 1 322.26 0)"/><use href="#s" transform="matrix(-89.89 0 0 1 330.4 0)"/><use href="#s" transform="matrix(-141 0 0 1 413.36 0)"/><use href="#s" transform="matrix(-209.8 0 0 1 175.63 0)"/><use href="#s" transform="matrix(-114.8 0 0 1 382.14 0)"/><use href="#s" transform="matrix(-569.9 0 0 1 -662.04 0)"/><use href="#s" transform="matrix(-95.3 0 0 1 528.37 0)"/><use href="#s" transform="matrix(-203.4 0 0 1 262.59 0)"/><use href="#s" transform="matrix(-109.4 0 0 1 252.28 0)"/><use href="#s" transform="matrix(-107.8 0 0 1 454.92 0)"/><use href="#s" transform="matrix(-1559 0 0 1 -2968.9 0)"/><use href="#s" transform="matrix(-140.1 0 0 1 425.01 0)"/><use href="#s" transform="matrix(-130.8 0 0 1 416.38 0)"/><use href="#s" transform="matrix(-83.87 0 0 1 493.35 0)"/><use href="#s" transform="matrix(-96.77 0 0 1 338.23 0)"/><use href="#s" transform="matrix(-106.1 0 0 1 247.86 0)"/><use href="#s" transform="matrix(-108.5 0 0 1 390.77 0)"/><use href="#s" transform="matrix(-154.8 0 0 1 381.75 0)"/><use href="#s" transform="matrix(-177.7 0 0 1 282.47 0)"/><use href="#s" transform="matrix(-59.22 0 0 1 420.06 0)"/><use href="#s" transform="matrix(-101.1 0 0 1 482.92 0)"/><use href="#s" transform="matrix(-122.8 0 0 1 429.37 0)"/><use href="#s" transform="matrix(-72.19 0 0 1 356.85 0)"/><use href="#s" transform="matrix(-62.08 0 0 1 433.05 0)"/><use href="#s" transform="matrix(-98.52 0 0 1 282.47 0)"/><use href="#s" transform="matrix(-99.4 0 0 1 334.11 0)"/><use href="#s" transform="matrix(-225.1 0 0 1 -66.972 0)"/><use href="#s" transform="matrix(-105.2 0 0 1 285.98 0)"/><use href="#s" transform="matrix(-182.9 0 0 1 98.285 0)"/><use href="#s" transform="matrix(-218.8 0 0 1 -59.908 0)"/><use href="#s" transform="matrix(-292.7 0 0 1 27.557 0)"/><use href="#s" transform="matrix(-83.75 0 0 1 392.89 0)"/><use href="#s" transform="matrix(-109.9 0 0 1 293.89 0)"/><use href="#s" transform="matrix(-83.54 0 0 1 301.51 0)"/><use href="#s" transform="matrix(-74.94 0 0 1 479.29 0)"/><use href="#s" transform="matrix(-252.6 0 0 1 80.021 0)"/><use href="#s" transform="matrix(-66.58 0 0 1 381.32 0)"/><use href="#s" transform="matrix(-68.44 0 0 1 374.22 0)"/><use href="#s" transform="matrix(-64.33 0 0 1 457.98 0)"/><use href="#s" transform="matrix(-98.76 0 0 1 284.17 0)"/><use href="#s" transform="matrix(-96.95 0 0 1 352.71 0)"/><use href="#s" transform="matrix(-117.8 0 0 1 227.68 0)"/><use href="#s" transform="matrix(-120 0 0 1 419.12 0)"/><use href="#s" transform="matrix(-57.44 0 0 1 383.19 0)"/><use href="#s" transform="matrix(-71.42 0 0 1 348.46 0)"/><use href="#s" transform="matrix(-92.43 0 0 1 402.92 0)"/><use href="#s" transform="matrix(-146.5 0 0 1 328.64 0)"/><use href="#s" transform="matrix(-127.6 0 0 1 398.23 0)"/><use href="#s" transform="matrix(-61.54 0 0 1 443.09 0)"/><use href="#s" transform="matrix(-80.47 0 0 1 491.02 0)"/><use href="#s" transform="matrix(-64.58 0 0 1 369.09 0)"/><use href="#s" transform="matrix(-146.9 0 0 1 331.94 0)"/><use href="#s" transform="matrix(-91.08 0 0 1 421.41 0)"/><use href="#s" transform="matrix(-130.3 0 0 1 341.93 0)"/><use href="#s" transform="matrix(-91.94 0 0 1 463.22 0)"/><use href="#s" transform="matrix(-65.08 0 0 1 456.97 0)"/><use href="#s" transform="matrix(-56.5 0 0 1 438.07 0)"/><use href="#s" transform="matrix(-137 0 0 1 433.82 0)"/><use href="#s" transform="matrix(-61.88 0 0 1 386.82 0)"/><use href="#s" transform="matrix(-61.64 0 0 1 420.7 0)"/><use href="#s" transform="matrix(-224.5 0 0 1 71.447 0)"/><use href="#s" transform="matrix(-62.78 0 0 1 471.27 0)"/><use href="#s" transform="matrix(-118 0 0 1 264.49 0)"/><use href="#s" transform="matrix(-238.4 0 0 1 10.062 0)"/><use href="#s" transform="matrix(-191.7 0 0 1 274.13 0)"/><use href="#s" transform="matrix(-164.3 0 0 1 253.72 0)"/><use href="#s" transform="matrix(-108.6 0 0 1 259.93 0)"/><use href="#s" transform="matrix(-241.8 0 0 1 125.68 0)"/><use href="#s" transform="matrix(-107.4 0 0 1 442.92 0)"/><use href="#s" transform="matrix(-157 0 0 1 259.97 0)"/><use href="#s" transform="matrix(-88.18 0 0 1 298.09 0)"/><use href="#s" transform="matrix(-87.2 0 0 1 352.43 0)"/><use href="#s" transform="matrix(-69.64 0 0 1 347.19 0)"/><use href="#s" transform="matrix(-295.1 0 0 1 -130.33 0)"/><use href="#s" transform="matrix(-111.6 0 0 1 409.97 0)"/><use href="#s" transform="matrix(-251.9 0 0 1 211.44 0)"/><use href="#s" transform="matrix(-55.96 0 0 1 475.96 0)"/><use href="#s" transform="matrix(-65.58 0 0 1 368.07 0)"/><use href="#s" transform="matrix(-85.68 0 0 1 354.99 0)"/><use href="#s" transform="matrix(-73.59 0 0 1 338.85 0)"/><use href="#s" transform="matrix(-88.31 0 0 1 433.12 0)"/><use href="#s" transform="matrix(-76.09 0 0 1 340.83 0)"/><use href="#s" transform="matrix(-79.92 0 0 1 329.81 0)"/><use href="#s" transform="matrix(-95.5 0 0 1 285.94 0)"/><use href="#s" transform="matrix(-196.5 0 0 1 291.09 0)"/><use href="#s" transform="matrix(-154.5 0 0 1 299.91 0)"/><use href="#s" transform="matrix(-72.75 0 0 1 395.6 0)"/><use href="#s" transform="matrix(-94.92 0 0 1 451.69 0)"/><use href="#s" transform="matrix(-89.63 0 0 1 369.59 0)"/><use href="#s" transform="matrix(-481.9 0 0 1 -474.27 0)"/><use href="#s" transform="matrix(-51.02 0 0 1 502.09 0)"/><use href="#s" transform="matrix(-73.99 0 0 1 359.49 0)"/><use href="#s" transform="matrix(-113.7 0 0 1 285.37 0)"/><use href="#s" transform="matrix(-75.3 0 0 1 465.23 0)"/><use href="#s" transform="matrix(-215.5 0 0 1 176.28 0)"/><use href="#s" transform="matrix(-73.04 0 0 1 410.51 0)"/><use href="#s" transform="matrix(-91.44 0 0 1 281.05 0)"/><use href="#s" transform="matrix(-157.3 0 0 1 189.08 0)"/><use href="#s" transform="matrix(-654.1 0 0 1 -867.46 0)"/><use href="#s" transform="matrix(-192.9 0 0 1 273.78 0)"/><use href="#s" transform="matrix(-86.55 0 0 1 353.52 0)"/><use href="#s" transform="matrix(-173.9 0 0 1 307.61 0)"/><use href="#s" transform="matrix(-72.5 0 0 1 358.62 0)"/><use href="#s" transform="matrix(-88.9 0 0 1 349.79 0)"/><use href="#s" transform="matrix(-186.1 0 0 1 275.43 0)"/><use href="#s" transform="matrix(-69.93 0 0 1 345.45 0)"/><use href="#s" transform="matrix(-219.1 0 0 1 36.21 0)"/><use href="#s" transform="matrix(-63.31 0 0 1 463.97 0)"/><use href="#s" transform="matrix(-151.5 0 0 1 216.91 0)"/><use href="#s" transform="matrix(-90.11 0 0 1 506.39 0)"/><use href="#s" transform="matrix(-124.1 0 0 1 397.69 0)"/><use href="#s" transform="matrix(-119.1 0 0 1 395.39 0)"/><use href="#s" transform="matrix(-64.57 0 0 1 397.15 0)"/><use href="#s" transform="matrix(-99.91 0 0 1 384.39 0)"/><use href="#s" transform="matrix(-171.7 0 0 1 251.35 0)"/><use href="#s" transform="matrix(-87.01 0 0 1 298.02 0)"/><use href="#s" transform="matrix(-156.5 0 0 1 210.52 0)"/><use href="#s" transform="matrix(-64.24 0 0 1 389.42 0)"/><use href="#s" transform="matrix(-72.35 0 0 1 444.17 0)"/><use href="#s" transform="matrix(-299.7 0 0 1 -15.538 0)"/><use href="#s" transform="matrix(-107.7 0 0 1 180.77 0)"/><use href="#s" transform="matrix(-107.2 0 0 1 353.88 0)"/><use href="#s" transform="matrix(-116 0 0 1 301.72 0)"/><use href="#s" transform="matrix(-176.4 0 0 1 314.84 0)"/><use href="#s" transform="matrix(-75.99 0 0 1 401.47 0)"/><use href="#s" transform="matrix(-138.3 0 0 1 180.69 0)"/><use href="#s" transform="matrix(-93.27 0 0 1 275.64 0)"/><use href="#s" transform="matrix(-95.75 0 0 1 313.34 0)"/><use href="#s" transform="matrix(-72.23 0 0 1 348.4 0)"/><use href="#s" transform="matrix(-315.2 0 0 1 -22.505 0)"/><use href="#s" transform="matrix(-115.7 0 0 1 278.32 0)"/><use href="#s" transform="matrix(-84.21 0 0 1 359.11 0)"/><use href="#s" transform="matrix(-89.13 0 0 1 405.66 0)"/><use href="#s" transform="matrix(-77.92 0 0 1 365.71 0)"/><use href="#s" transform="matrix(-178.7 0 0 1 164.54 0)"/><use href="#s" transform="matrix(-59.87 0 0 1 439.24 0)"/><use href="#s" transform="matrix(-77.77 0 0 1 444.55 0)"/><use href="#s" transform="matrix(-89.61 0 0 1 409.7 0)"/><use href="#s" transform="matrix(-96.73 0 0 1 265.92 0)"/><use href="#s" transform="matrix(-73.18 0 0 1 396.81 0)"/><use href="#s" transform="matrix(-73.18 0 0 1 376.67 0)"/><use href="#s" transform="matrix(-129.4 0 0 1 407.56 0)"/><use href="#s" transform="matrix(-220.9 0 0 1 -169.88 0)"/><use href="#s" transform="matrix(-73.63 0 0 1 382.98 0)"/><use href="#s" transform="matrix(-86.3 0 0 1 368.89 0)"/><use href="#s" transform="matrix(-78.6 0 0 1 411.79 0)"/><use href="#s" transform="matrix(-75.23 0 0 1 368 0)"/><use href="#s" transform="matrix(-148.6 0 0 1 231.58 0)"/><use href="#s" transform="matrix(-53.74 0 0 1 423.25 0)"/><use href="#s" transform="matrix(-70.41 0 0 1 332.82 0)"/><use href="#s" transform="matrix(-82.62 0 0 1 380.3 0)"/><use href="#s" transform="matrix(-97.15 0 0 1 262.16 0)"/><use href="#s" transform="matrix(-109.2 0 0 1 274.9 0)"/><use href="#s" transform="matrix(-122.7 0 0 1 400.99 0)"/><use href="#s" transform="matrix(-143.6 0 0 1 328.93 0)"/><use href="#s" transform="matrix(-84.66 0 0 1 402.04 0)"/><use href="#s" transform="matrix(-91.8 0 0 1 446.69 0)"/><use href="#s" transform="matrix(-127.8 0 0 1 352.67 0)"/><use href="#s" transform="matrix(-182.6 0 0 1 272.68 0)"/><use href="#s" transform="matrix(-177.6 0 0 1 141.89 0)"/><use href="#s" transform="matrix(-87.11 0 0 1 332.31 0)"/><use href="#s" transform="matrix(-84.02 0 0 1 467.61 0)"/><use href="#s" transform="matrix(-254.5 0 0 1 -11.96 0)"/><use href="#s" transform="matrix(-124.3 0 0 1 413.17 0)"/><use href="#s" transform="matrix(-212.4 0 0 1 252.77 0)"/><use href="#s" transform="matrix(-93.12 0 0 1 477.25 0)"/><use href="#s" transform="matrix(-88.21 0 0 1 327.88 0)"/><use href="#s" transform="matrix(-116.9 0 0 1 430.07 0)"/><use href="#s" transform="matrix(-64.01 0 0 1 382.18 0)"/><use href="#s" transform="matrix(-167 0 0 1 205.59 0)"/><use href="#s" transform="matrix(-82.49 0 0 1 486.47 0)"/><use href="#s" transform="matrix(-81.7 0 0 1 482.44 0)"/><use href="#s" transform="matrix(-100.8 0 0 1 367.73 0)"/><use href="#s" transform="matrix(-63.35 0 0 1 480.26 0)"/><use href="#s" transform="matrix(-75.31 0 0 1 427.11 0)"/><use href="#s" transform="matrix(-295.6 0 0 1 24.091 0)"/><use href="#s" transform="matrix(-61.84 0 0 1 462.56 0)"/><use href="#s" transform="matrix(-100.3 0 0 1 274.83 0)"/><use href="#s" transform="matrix(-73.7 0 0 1 335.97 0)"/><use href="#s" transform="matrix(-161.6 0 0 1 -16.4 0)"/><use href="#s" transform="matrix(-291.2 0 0 1 120.51 0)"/><use href="#s" transform="matrix(-61.98 0 0 1 377.37 0)"/><use href="#s" transform="matrix(-117.1 0 0 1 290.86 0)"/><use href="#s" transform="matrix(-120.2 0 0 1 321.17 0)"/><use href="#s" transform="matrix(-188.9 0 0 1 203.15 0)"/><use href="#s" transform="matrix(-153.5 0 0 1 354.57 0)"/><use href="#s" transform="matrix(-137.5 0 0 1 286.24 0)"/><use href="#s" transform="matrix(-119.2 0 0 1 440.56 0)"/><use href="#s" transform="matrix(-81.62 0 0 1 297.47 0)"/><use href="#s" transform="matrix(-164.9 0 0 1 383.84 0)"/><use href="#s" transform="matrix(-122.9 0 0 1 421.66 0)"/><use href="#s" transform="matrix(-71.57 0 0 1 376.98 0)"/><use href="#s" transform="matrix(-89.47 0 0 1 473.08 0)"/><use href="#s" transform="matrix(-98.27 0 0 1 337.05 0)"/><use href="#s" transform="matrix(-71.05 0 0 1 506.37 0)"/><use href="#s" transform="matrix(-79.69 0 0 1 470.41 0)"/><use href="#s" transform="matrix(-69.81 0 0 1 426.84 0)"/><use href="#s" transform="matrix(-201.4 0 0 1 204.51 0)"/><use href="#s" transform="matrix(-205 0 0 1 297.2 0)"/><use href="#s" transform="matrix(-123.2 0 0 1 348.79 0)"/><use href="#s" transform="matrix(-273.4 0 0 1 92.071 0)"/><use href="#s" transform="matrix(-67.19 0 0 1 424.83 0)"/><use href="#s" transform="matrix(-98.96 0 0 1 458.53 0)"/><use href="#s" transform="matrix(-88.76 0 0 1 356.72 0)"/><use href="#s" transform="matrix(-145.6 0 0 1 206.09 0)"/><use href="#s" transform="matrix(-77.84 0 0 1 500.98 0)"/><use href="#s" transform="matrix(-94.81 0 0 1 379.23 0)"/><use href="#s" transform="matrix(-93.74 0 0 1 418.57 0)"/><use href="#s" transform="matrix(-85.95 0 0 1 364.99 0)"/><use href="#s" transform="matrix(-69.07 0 0 1 373.22 0)"/><use href="#s" transform="matrix(-123.4 0 0 1 420.14 0)"/><use href="#s" transform="matrix(-67.25 0 0 1 470.11 0)"/><use href="#s" transform="matrix(-106.5 0 0 1 310.76 0)"/><use href="#s" transform="matrix(-65.51 0 0 1 376.79 0)"/><use href="#s" transform="matrix(-60.82 0 0 1 421.61 0)"/><use href="#s" transform="matrix(-66.01 0 0 1 426.48 0)"/><use href="#s" transform="matrix(-71.97 0 0 1 373.77 0)"/><use href="#s" transform="matrix(-130.7 0 0 1 412.92 0)"/><use href="#s" transform="matrix(-71.09 0 0 1 413.05 0)"/><use href="#s" transform="matrix(-79.01 0 0 1 339.59 0)"/><use href="#s" transform="matrix(-79.07 0 0 1 374.51 0)"/><use href="#s" transform="matrix(-123.5 0 0 1 326.39 0)"/><use href="#s" transform="matrix(-184.3 0 0 1 245.83 0)"/><use href="#s" transform="matrix(-78.38 0 0 1 358.7 0)"/><use href="#s" transform="matrix(-84.2 0 0 1 428.05 0)"/><use href="#s" transform="matrix(-193.7 0 0 1 94.336 0)"/><use href="#s" transform="matrix(-182.6 0 0 1 304.39 0)"/><use href="#s" transform="matrix(-107.7 0 0 1 329.27 0)"/><use href="#s" transform="matrix(-93.66 0 0 1 305.4 0)"/><use href="#s" transform="matrix(-59.01 0 0 1 387.22 0)"/><use href="#s" transform="matrix(-80.03 0 0 1 308.53 0)"/><use href="#s" transform="matrix(-166.6 0 0 1 92.907 0)"/><use href="#s" transform="matrix(-82.58 0 0 1 301.08 0)"/><use href="#s" transform="matrix(-55.21 0 0 1 429.52 0)"/><use href="#s" transform="matrix(-89.88 0 0 1 353.48 0)"/><use href="#s" transform="matrix(-78.49 0 0 1 324.13 0)"/><use href="#s" transform="matrix(-129.4 0 0 1 246.03 0)"/><use href="#s" transform="matrix(-92.93 0 0 1 294.31 0)"/><use href="#s" transform="matrix(-110.8 0 0 1 410.99 0)"/><use href="#s" transform="matrix(-347.4 0 0 1 -232.11 0)"/><use href="#s" transform="matrix(-86.96 0 0 1 369.09 0)"/><use href="#s" transform="matrix(-72.08 0 0 1 415.3 0)"/><use href="#s" transform="matrix(-104.4 0 0 1 394.31 0)"/><use href="#s" transform="matrix(-109.7 0 0 1 429.97 0)"/><use href="#s" transform="matrix(-68.48 0 0 1 383.79 0)"/><use href="#s" transform="matrix(-117.7 0 0 1 207.82 0)"/><use href="#s" transform="matrix(-57.58 0 0 1 440.94 0)"/><use href="#s" transform="matrix(-67.23 0 0 1 434.41 0)"/><use href="#s" transform="matrix(-110.5 0 0 1 219.36 0)"/><use href="#s" transform="matrix(-293.2 0 0 1 9.0022 0)"/><use href="#s" transform="matrix(-86.97 0 0 1 389.63 0)"/><use href="#s" transform="matrix(-176.7 0 0 1 178.4 0)"/><use href="#s" transform="matrix(-93.98 0 0 1 350.2 0)"/><use href="#s" transform="matrix(-75.96 0 0 1 322.23 0)"/><use href="#s" transform="matrix(-84.19 0 0 1 322.94 0)"/><use href="#s" transform="matrix(-126 0 0 1 215.11 0)"/><use href="#s" transform="matrix(-107.3 0 0 1 466.23 0)"/><use href="#s" transform="matrix(-327.7 0 0 1 -24.925 0)"/><use href="#s" transform="matrix(-119.3 0 0 1 285.5 0)"/><use href="#s" transform="matrix(-237.3 0 0 1 -2.5605 0)"/><use href="#s" transform="matrix(-280.5 0 0 1 73.16 0)"/><use href="#s" transform="matrix(-70.68 0 0 1 398.74 0)"/><use href="#s" transform="matrix(-69.84 0 0 1 382.31 0)"/><use href="#s" transform="matrix(-89.2 0 0 1 302.16 0)"/><use href="#s" transform="matrix(-181.1 0 0 1 114.29 0)"/><use href="#s" transform="matrix(-184.1 0 0 1 55.043 0)"/><use href="#s" transform="matrix(-81.82 0 0 1 294.43 0)"/><use href="#s" transform="matrix(-83.06 0 0 1 398.08 0)"/><use href="#s" transform="matrix(-71.51 0 0 1 365.28 0)"/><use href="#s" transform="matrix(-76.32 0 0 1 416.06 0)"/><use href="#s" transform="matrix(-1109 0 0 1 -1381.7 0)"/><use href="#s" transform="matrix(-99.58 0 0 1 329.19 0)"/><use href="#s" transform="matrix(-69.19 0 0 1 379.99 0)"/><use href="#s" transform="matrix(-74.59 0 0 1 383.95 0)"/><use href="#s" transform="matrix(-56.56 0 0 1 494.17 0)"/><use href="#s" transform="matrix(-149 0 0 1 348.9 0)"/><use href="#s" transform="matrix(-97.21 0 0 1 307.55 0)"/><use href="#s" transform="matrix(-158.3 0 0 1 409.92 0)"/><use href="#s" transform="matrix(-481.7 0 0 1 -389.8 0)"/><use href="#s" transform="matrix(-75.57 0 0 1 326.16 0)"/><use href="#s" transform="matrix(-76.1 0 0 1 301.83 0)"/><use href="#s" transform="matrix(-74.33 0 0 1 312.94 0)"/><use href="#s" transform="matrix(-156.9 0 0 1 340.96 0)"/><use href="#s" transform="matrix(-238.2 0 0 1 283.64 0)"/><use href="#s" transform="matrix(-86.81 0 0 1 314.38 0)"/><use href="#s" transform="matrix(-84.61 0 0 1 358.52 0)"/><use href="#s" transform="matrix(-87.92 0 0 1 295.72 0)"/><use href="#s" transform="matrix(-76.12 0 0 1 375.58 0)"/><use href="#s" transform="matrix(-55.09 0 0 1 461.08 0)"/><use href="#s" transform="matrix(-76.75 0 0 1 407.28 0)"/><use href="#s" transform="matrix(-65.16 0 0 1 384.85 0)"/><use href="#s" transform="matrix(-93.42 0 0 1 305.71 0)"/><use href="#s" transform="matrix(-86.83 0 0 1 376.94 0)"/><use href="#s" transform="matrix(-80.96 0 0 1 404.23 0)"/><use href="#s" transform="matrix(-121.7 0 0 1 277.92 0)"/><use href="#s" transform="matrix(-64.82 0 0 1 394.23 0)"/><use href="#s" transform="matrix(-144.3 0 0 1 384.24 0)"/><use href="#s" transform="matrix(-171.7 0 0 1 244.83 0)"/><use href="#s" transform="matrix(-141.5 0 0 1 173.38 0)"/><use href="#s" transform="matrix(-74.73 0 0 1 458.86 0)"/><use href="#s" transform="matrix(-101 0 0 1 335.04 0)"/><use href="#s" transform="matrix(-153.3 0 0 1 101.15 0)"/><use href="#s" transform="matrix(-109.9 0 0 1 433.76 0)"/><use href="#s" transform="matrix(-57.14 0 0 1 481.44 0)"/><use href="#s" transform="matrix(-130.7 0 0 1 341.32 0)"/><use href="#s" transform="matrix(-84.37 0 0 1 340.18 0)"/><use href="#s" transform="matrix(-86.97 0 0 1 309.93 0)"/><use href="#s" transform="matrix(-93.75 0 0 1 328.43 0)"/><use href="#s" transform="matrix(-75.33 0 0 1 301.34 0)"/><use href="#s" transform="matrix(-70.96 0 0 1 425.9 0)"/><use href="#s" transform="matrix(-64.57 0 0 1 433.54 0)"/><use href="#s" transform="matrix(-73.74 0 0 1 341.83 0)"/><use href="#s" transform="matrix(-101.2 0 0 1 477.6 0)"/><use href="#s" transform="matrix(-134.1 0 0 1 393.79 0)"/><use href="#s" transform="matrix(-103.4 0 0 1 467.03 0)"/><use href="#s" transform="matrix(-142.5 0 0 1 353.42 0)"/><use href="#s" transform="matrix(-94.35 0 0 1 453.68 0)"/><use href="#s" transform="matrix(-84.86 0 0 1 401.08 0)"/><use href="#s" transform="matrix(-74.01 0 0 1 342.31 0)"/><use href="#s" transform="matrix(-174.7 0 0 1 241.89 0)"/><use href="#s" transform="matrix(-93 0 0 1 286.67 0)"/><use href="#s" transform="matrix(-114 0 0 1 259.51 0)"/><use href="#s" transform="matrix(-112.5 0 0 1 317.09 0)"/><use href="#s" transform="matrix(-359.4 0 0 1 -310.39 0)"/><use href="#s" transform="matrix(-76.82 0 0 1 320.75 0)"/><use href="#s" transform="matrix(-84.22 0 0 1 418.72 0)"/><use href="#s" transform="matrix(-68.93 0 0 1 386.06 0)"/><use href="#s" transform="matrix(-79.43 0 0 1 368.98 0)"/><use href="#s" transform="matrix(-155.2 0 0 1 280.55 0)"/><use href="#s" transform="matrix(-86.32 0 0 1 297.76 0)"/><use href="#s" transform="matrix(-54.54 0 0 1 423.23 0)"/><use href="#s" transform="matrix(-72.05 0 0 1 351.35 0)"/><use href="#s" transform="matrix(-109.7 0 0 1 368.08 0)"/><use href="#s" transform="matrix(-100.2 0 0 1 372.15 0)"/><use href="#s" transform="matrix(-83.09 0 0 1 373.59 0)"/><use href="#s" transform="matrix(-106.7 0 0 1 463.75 0)"/><use href="#s" transform="matrix(-91.17 0 0 1 369.44 0)"/><use href="#s" transform="matrix(-98.09 0 0 1 393.96 0)"/><use href="#s" transform="matrix(-158.7 0 0 1 272.31 0)"/><use href="#s" transform="matrix(-146.5 0 0 1 315.7 0)"/><use href="#s" transform="matrix(-55.51 0 0 1 473.19 0)"/><use href="#s" transform="matrix(-83.81 0 0 1 497.11 0)"/><use href="#s" transform="matrix(-208.4 0 0 1 219.39 0)"/><use href="#s" transform="matrix(-106.6 0 0 1 319.2 0)"/><use href="#s" transform="matrix(-236.5 0 0 1 88.975 0)"/><use href="#s" transform="matrix(-85.02 0 0 1 362.07 0)"/><use href="#s" transform="matrix(-117.2 0 0 1 441.35 0)"/><use href="#s" transform="matrix(-95.71 0 0 1 320.17 0)"/><use href="#s" transform="matrix(-87.51 0 0 1 298.94 0)"/><use href="#s" transform="matrix(-115.3 0 0 1 135.07 0)"/><use href="#s" transform="matrix(-202.8 0 0 1 146.07 0)"/><use href="#s" transform="matrix(-79.84 0 0 1 374.61 0)"/><use href="#s" transform="matrix(-94.5 0 0 1 332.99 0)"/><use href="#s" transform="matrix(-80.78 0 0 1 364.6 0)"/><use href="#s" transform="matrix(-88.89 0 0 1 359.84 0)"/><use href="#s" transform="matrix(-93.57 0 0 1 310.47 0)"/><use href="#s" transform="matrix(-91.83 0 0 1 354.18 0)"/><use href="#s" transform="matrix(-96.17 0 0 1 292.09 0)"/><use href="#s" transform="matrix(-240.4 0 0 1 70.924 0)"/><use href="#s" transform="matrix(-74.16 0 0 1 507.75 0)"/><use href="#s" transform="matrix(-51.87 0 0 1 443.69 0)"/><use href="#s" transform="matrix(-279.7 0 0 1 89.504 0)"/><use href="#s" transform="matrix(-441.2 0 0 1 -247.46 0)"/><use href="#s" transform="matrix(-66.71 0 0 1 398.39 0)"/><use href="#s" transform="matrix(-83.24 0 0 1 459.71 0)"/><use href="#s" transform="matrix(-144.5 0 0 1 204.14 0)"/><use href="#s" transform="matrix(-94.4 0 0 1 351.76 0)"/><use href="#s" transform="matrix(-81.73 0 0 1 359.41 0)"/><use href="#s" transform="matrix(-67.46 0 0 1 459.35 0)"/><use href="#s" transform="matrix(-56.08 0 0 1 442.55 0)"/><use href="#s" transform="matrix(-212.3 0 0 1 76.673 0)"/><use href="#s" transform="matrix(-89.72 0 0 1 267.23 0)"/><use href="#s" transform="matrix(-54.96 0 0 1 451.88 0)"/><use href="#s" transform="matrix(-110.6 0 0 1 440.68 0)"/><use href="#s" transform="matrix(-167.5 0 0 1 175.88 0)"/><use href="#s" transform="matrix(-98.34 0 0 1 458.31 0)"/><use href="#s" transform="matrix(-106.6 0 0 1 244.02 0)"/><use href="#s" transform="matrix(-70.78 0 0 1 334.6 0)"/><use href="#s" transform="matrix(-108.2 0 0 1 221.53 0)"/><use href="#s" transform="matrix(-85.58 0 0 1 409.81 0)"/><use href="#s" transform="matrix(-82.2 0 0 1 349.67 0)"/><use href="#s" transform="matrix(-69.48 0 0 1 434.28 0)"/><use href="#s" transform="matrix(-124 0 0 1 87.487 0)"/><use href="#s" transform="matrix(-278.6 0 0 1 201.58 0)"/><use href="#s" transform="matrix(-91.41 0 0 1 358.32 0)"/><use href="#s" transform="matrix(-93.99 0 0 1 470 0)"/><use href="#s" transform="matrix(-93.4 0 0 1 395.77 0)"/><use href="#s" transform="matrix(-90.27 0 0 1 284.25 0)"/><use href="#s" transform="matrix(-123.2 0 0 1 462.7 0)"/><use href="#s" transform="matrix(-203.6 0 0 1 186.61 0)"/><use href="#s" transform="matrix(-152.6 0 0 1 413.6 0)"/><use href="#s" transform="matrix(-462.4 0 0 1 -500.39 0)"/><use href="#s" transform="matrix(-59.51 0 0 1 428.44 0)"/><use href="#s" transform="matrix(-148 0 0 1 386.8 0)"/><use href="#s" transform="matrix(-102.3 0 0 1 430.67 0)"/><use href="#s" transform="matrix(-58.84 0 0 1 452.21 0)"/><use href="#s" transform="matrix(-71.53 0 0 1 338.92 0)"/><use href="#s" transform="matrix(-94.06 0 0 1 333.79 0)"/><use href="#s" transform="matrix(-218.3 0 0 1 19.289 0)"/><use href="#s" transform="matrix(-177.1 0 0 1 266.37 0)"/><use href="#s" transform="matrix(-100.3 0 0 1 244.71 0)"/><use href="#s" transform="matrix(-77.37 0 0 1 480.32 0)"/><use href="#s" transform="matrix(-95.11 0 0 1 303.66 0)"/><use href="#s" transform="matrix(-120.5 0 0 1 392.45 0)"/><use href="#s" transform="matrix(-125 0 0 1 227.67 0)"/><use href="#s" transform="matrix(-83.24 0 0 1 504.07 0)"/><use href="#s" transform="matrix(-54.54 0 0 1 492.19 0)"/><use href="#s" transform="matrix(-78.98 0 0 1 301.34 0)"/><use href="#s" transform="matrix(-114.3 0 0 1 212.67 0)"/><use href="#s" transform="matrix(-99.02 0 0 1 376.46 0)"/><use href="#s" transform="matrix(-124.2 0 0 1 191.37 0)"/><use href="#s" transform="matrix(-152.3 0 0 1 238.79 0)"/><use href="#s" transform="matrix(-72.8 0 0 1 448.68 0)"/><use href="#s" transform="matrix(-115.7 0 0 1 250.05 0)"/><use href="#s" transform="matrix(-198.6 0 0 1 118.93 0)"/><use href="#s" transform="matrix(-74.74 0 0 1 362.66 0)"/><use href="#s" transform="matrix(-78.13 0 0 1 382.57 0)"/><use href="#s" transform="matrix(-142.8 0 0 1 388.08 0)"/><use href="#s" transform="matrix(-82.39 0 0 1 417.8 0)"/><use href="#s" transform="matrix(-98.82 0 0 1 269.04 0)"/><use href="#s" transform="matrix(-90.79 0 0 1 294.76 0)"/><use href="#s" transform="matrix(-99.63 0 0 1 362.44 0)"/><use href="#s" transform="matrix(-95.48 0 0 1 450.76 0)"/><use href="#s" transform="matrix(-222.8 0 0 1 69.861 0)"/><use href="#s" transform="matrix(-109.2 0 0 1 273.21 0)"/><use href="#s" transform="matrix(-103.5 0 0 1 317.88 0)"/><use href="#s" transform="matrix(-127.8 0 0 1 276.88 0)"/><use href="#s" transform="matrix(-90.12 0 0 1 371.65 0)"/><use href="#s" transform="matrix(-75.62 0 0 1 371.96 0)"/><use href="#s" transform="matrix(-67.81 0 0 1 407.29 0)"/><use href="#s" transform="matrix(-662.2 0 0 1 -842.24 0)"/><use href="#s" transform="matrix(-78.84 0 0 1 441.69 0)"/><use href="#s" transform="matrix(-68.27 0 0 1 442.31 0)"/><use href="#s" transform="matrix(-163.3 0 0 1 297.9 0)"/><use href="#s" transform="matrix(-196.9 0 0 1 197.23 0)"/><use href="#s" transform="matrix(-148.5 0 0 1 210.66 0)"/><use href="#s" transform="matrix(-138.8 0 0 1 185.32 0)"/><use href="#s" transform="matrix(-71.08 0 0 1 407.63 0)"/><use href="#s" transform="matrix(-746.6 0 0 1 -801.86 0)"/><use href="#s" transform="matrix(-302.9 0 0 1 -40.076 0)"/><use href="#s" transform="matrix(-92.81 0 0 1 466.16 0)"/><use href="#s" transform="matrix(-93.16 0 0 1 338.57 0)"/><use href="#s" transform="matrix(-49.46 0 0 1 481.8 0)"/><use href="#s" transform="matrix(-77.1 0 0 1 495.07 0)"/><use href="#s" transform="matrix(-130.3 0 0 1 428.17 0)"/><use href="#s" transform="matrix(-240.8 0 0 1 80.153 0)"/><use href="#s" transform="matrix(-86.99 0 0 1 404.5 0)"/><use href="#s" transform="matrix(-76.58 0 0 1 371.3 0)"/><use href="#s" transform="matrix(-105.8 0 0 1 358.86 0)"/><use href="#s" transform="matrix(-90.57 0 0 1 387.68 0)"/><use href="#s" transform="matrix(-94.74 0 0 1 282.47 0)"/><use href="#s" transform="matrix(-182.4 0 0 1 203.76 0)"/><use href="#s" transform="matrix(-51.7 0 0 1 436.4 0)"/><use href="#s" transform="matrix(-103.2 0 0 1 404.2 0)"/><use href="#s" transform="matrix(-59.76 0 0 1 428.91 0)"/><use href="#s" transform="matrix(-159.7 0 0 1 270.28 0)"/><use href="#s" transform="matrix(-75.05 0 0 1 373.6 0)"/><use href="#s" transform="matrix(-56.42 0 0 1 471.21 0)"/><use href="#s" transform="matrix(-127.7 0 0 1 263.9 0)"/><use href="#s" transform="matrix(-150 0 0 1 216.37 0)"/><use href="#s" transform="matrix(-78.92 0 0 1 383.79 0)"/><use href="#s" transform="matrix(-344.9 0 0 1 -90.445 0)"/><use href="#s" transform="matrix(-82.1 0 0 1 314.15 0)"/><use href="#s" transform="matrix(-79.35 0 0 1 432.38 0)"/><use href="#s" transform="matrix(-102.4 0 0 1 439.03 0)"/><use href="#s" transform="matrix(-93.16 0 0 1 376.05 0)"/><use href="#s" transform="matrix(-79.82 0 0 1 382.45 0)"/><use href="#s" transform="matrix(-261.6 0 0 1 151.37 0)"/><use href="#s" transform="matrix(-89.77 0 0 1 437.23 0)"/><use href="#s" transform="matrix(-127.7 0 0 1 232.46 0)"/><use href="#s" transform="matrix(-82.09 0 0 1 385.86 0)"/><use href="#s" transform="matrix(-76.34 0 0 1 460.06 0)"/><use href="#s" transform="matrix(-79.79 0 0 1 341.46 0)"/><use href="#s" transform="matrix(-62.88 0 0 1 448.44 0)"/><use href="#s" transform="matrix(-145.1 0 0 1 123.78 0)"/><use href="#s" transform="matrix(-60.24 0 0 1 461.15 0)"/><use href="#s" transform="matrix(-92.15 0 0 1 483.42 0)"/><use href="#s" transform="matrix(-114.6 0 0 1 413.67 0)"/><use href="#s" transform="matrix(-53.93 0 0 1 448.22 0)"/><use href="#s" transform="matrix(-121.2 0 0 1 248.53 0)"/><use href="#s" transform="matrix(-71.49 0 0 1 354.69 0)"/><use href="#s" transform="matrix(-79.76 0 0 1 334.46 0)"/><use href="#s" transform="matrix(-64.3 0 0 1 438.27 0)"/><use href="#s" transform="matrix(-159.4 0 0 1 236.92 0)"/><use href="#s" transform="matrix(-57.47 0 0 1 469.34 0)"/><use href="#s" transform="matrix(-68.83 0 0 1 386.76 0)"/><use href="#s" transform="matrix(-111.9 0 0 1 407.09 0)"/><use href="#s" transform="matrix(-256.7 0 0 1 210.13 0)"/><use href="#s" transform="matrix(-224.3 0 0 1 146.23 0)"/><use href="#s" transform="matrix(-241.5 0 0 1 55.037 0)"/><use href="#s" transform="matrix(-65.11 0 0 1 448.85 0)"/><use href="#s" transform="matrix(-158 0 0 1 47.247 0)"/><use href="#s" transform="matrix(-83.96 0 0 1 513.6 0)"/><use href="#s" transform="matrix(-89.32 0 0 1 338.16 0)"/><use href="#s" transform="matrix(-275.9 0 0 1 209.57 0)"/><use href="#s" transform="matrix(-109 0 0 1 494.56 0)"/><use href="#s" transform="matrix(-110 0 0 1 249.33 0)"/><use href="#s" transform="matrix(-71.66 0 0 1 353.82 0)"/><use href="#s" transform="matrix(-109.4 0 0 1 432.35 0)"/><use href="#s" transform="matrix(-160 0 0 1 133.43 0)"/><use href="#s" transform="matrix(-128.2 0 0 1 293.29 0)"/><use href="#s" transform="matrix(-326.4 0 0 1 -52.435 0)"/><use href="#s" transform="matrix(-85.1 0 0 1 395.98 0)"/><use href="#s" transform="matrix(-166.5 0 0 1 221.32 0)"/><use href="#s" transform="matrix(-156.1 0 0 1 362.48 0)"/><use href="#s" transform="matrix(-100.6 0 0 1 301.98 0)"/><use href="#s" transform="matrix(-88.97 0 0 1 360.57 0)"/><use href="#s" transform="matrix(-274.9 0 0 1 -144.27 0)"/><use href="#s" transform="matrix(-122.9 0 0 1 375.55 0)"/><use href="#s" transform="matrix(-118.2 0 0 1 200.58 0)"/><use href="#s" transform="matrix(-75.97 0 0 1 415.7 0)"/><use href="#s" transform="matrix(-123.2 0 0 1 264.17 0)"/><use href="#s" transform="matrix(-108.4 0 0 1 463.8 0)"/><use href="#s" transform="matrix(-150.5 0 0 1 313.01 0)"/><use href="#s" transform="matrix(-120.2 0 0 1 361.84 0)"/><use href="#s" transform="matrix(-120.2 0 0 1 272.33 0)"/><use href="#s" transform="matrix(-99.34 0 0 1 382.69 0)"/><use href="#s" transform="matrix(-116.5 0 0 1 414.81 0)"/><use href="#s" transform="matrix(-91.02 0 0 1 409.45 0)"/><use href="#s" transform="matrix(-86.17 0 0 1 486.67 0)"/><use href="#s" transform="matrix(-353.7 0 0 1 -40.342 0)"/><use href="#s" transform="matrix(-47.9 0 0 1 500.26 0)"/><use href="#s" transform="matrix(-69.35 0 0 1 340.49 0)"/><use href="#s" transform="matrix(-103.3 0 0 1 312.11 0)"/><use href="#s" transform="matrix(-88.5 0 0 1 358.44 0)"/><use href="#s" transform="matrix(-1445 0 0 1 -1956.4 0)"/><use href="#s" transform="matrix(-158.1 0 0 1 337.92 0)"/><use href="#s" transform="matrix(-364.1 0 0 1 -146.47 0)"/><use href="#s" transform="matrix(-78.69 0 0 1 324.43 0)"/><use href="#s" transform="matrix(-89.17 0 0 1 343.24 0)"/><use href="#s" transform="matrix(-70.58 0 0 1 342.11 0)"/><use href="#s" transform="matrix(-84.82 0 0 1 366.83 0)"/><use href="#s" transform="matrix(-180.7 0 0 1 252.19 0)"/><use href="#s" transform="matrix(-127.6 0 0 1 27.189 0)"/><use href="#s" transform="matrix(-139.4 0 0 1 390.43 0)"/><use href="#s" transform="matrix(-114.3 0 0 1 265.52 0)"/><use href="#s" transform="matrix(-67.04 0 0 1 391.57 0)"/><use href="#s" transform="matrix(-71.57 0 0 1 403.86 0)"/><use href="#s" transform="matrix(-90.52 0 0 1 353.99 0)"/><use href="#s" transform="matrix(-126.8 0 0 1 409.4 0)"/><use href="#s" transform="matrix(-74.82 0 0 1 463.71 0)"/><use href="#s" transform="matrix(-103.6 0 0 1 162.57 0)"/><use href="#s" transform="matrix(-85.67 0 0 1 512.43 0)"/><use href="#s" transform="matrix(-102.6 0 0 1 320.53 0)"/><use href="#s" transform="matrix(-112.5 0 0 1 340.18 0)"/><use href="#s" transform="matrix(-166.7 0 0 1 215.46 0)"/><use href="#s" transform="matrix(-65.68 0 0 1 363.35 0)"/><use href="#s" transform="matrix(-90.74 0 0 1 347.2 0)"/><use href="#s" transform="matrix(-151.8 0 0 1 260.32 0)"/><use href="#s" transform="matrix(-316.1 0 0 1 28.97 0)"/><use href="#s" transform="matrix(-126.8 0 0 1 408.34 0)"/><use href="#s" transform="matrix(-98.76 0 0 1 399.19 0)"/><use href="#s" transform="matrix(-110.9 0 0 1 279.11 0)"/><use href="#s" transform="matrix(-74.45 0 0 1 467.97 0)"/><use href="#s" transform="matrix(-137.2 0 0 1 369.24 0)"/><use href="#s" transform="matrix(-69.59 0 0 1 367.65 0)"/><use href="#s" transform="matrix(-68.65 0 0 1 431.26 0)"/><use href="#s" transform="matrix(-75.11 0 0 1 444.69 0)"/><use href="#s" transform="matrix(-109.7 0 0 1 319.18 0)"/><use href="#s" transform="matrix(-240.5 0 0 1 111.87 0)"/><use href="#s" transform="matrix(-103.1 0 0 1 194.05 0)"/><use href="#s" transform="matrix(-208.3 0 0 1 -46.804 0)"/><use href="#s" transform="matrix(-247.5 0 0 1 40.555 0)"/><use href="#s" transform="matrix(-326.3 0 0 1 -68.876 0)"/><use href="#s" transform="matrix(-134.5 0 0 1 390.74 0)"/><use href="#s" transform="matrix(-114.8 0 0 1 227.31 0)"/><use href="#s" transform="matrix(-102.7 0 0 1 287.58 0)"/><use href="#s" transform="matrix(-236.6 0 0 1 99.709 0)"/><use href="#s" transform="matrix(-108.2 0 0 1 257.68 0)"/><use href="#s" transform="matrix(-83.54 0 0 1 312.77 0)"/><use href="#s" transform="matrix(-130.8 0 0 1 410.88 0)"/><use href="#s" transform="matrix(-243.4 0 0 1 108.55 0)"/><use href="#s" transform="matrix(-95.09 0 0 1 458.83 0)"/><use href="#s" transform="matrix(-77.36 0 0 1 330.86 0)"/><use href="#s" transform="matrix(-101.9 0 0 1 416.86 0)"/><use href="#s" transform="matrix(-55.53 0 0 1 458.27 0)"/><use href="#s" transform="matrix(-106.6 0 0 1 488.6 0)"/><use href="#s" transform="matrix(-92.02 0 0 1 368.02 0)"/><use href="#s" transform="matrix(-128.9 0 0 1 435.74 0)"/><use href="#s" transform="matrix(-126.6 0 0 1 414.87 0)"/><use href="#s" transform="matrix(-95.68 0 0 1 349.74 0)"/><use href="#s" transform="matrix(-101 0 0 1 264.95 0)"/><use href="#s" transform="matrix(-62.82 0 0 1 374.15 0)"/><use href="#s" transform="matrix(-97.39 0 0 1 306.83 0)"/><use href="#s" transform="matrix(-69.35 0 0 1 378.92 0)"/><use href="#s" transform="matrix(-150.8 0 0 1 348.04 0)"/><use href="#s" transform="matrix(-94.33 0 0 1 430.85 0)"/><use href="#s" transform="matrix(-123.1 0 0 1 225.68 0)"/><use href="#s" transform="matrix(-82.59 0 0 1 402.08 0)"/><use href="#s" transform="matrix(-69.93 0 0 1 423.44 0)"/><use href="#s" transform="matrix(-69.45 0 0 1 437.15 0)"/><use href="#s" transform="matrix(-215.3 0 0 1 9.4381 0)"/><use href="#s" transform="matrix(-117.8 0 0 1 223.62 0)"/><use href="#s" transform="matrix(-99.54 0 0 1 401.66 0)"/><use href="#s" transform="matrix(-114.7 0 0 1 301.95 0)"/><use href="#s" transform="matrix(-77.58 0 0 1 369.05 0)"/><use href="#s" transform="matrix(-100.6 0 0 1 458.81 0)"/><use href="#s" transform="matrix(-84.96 0 0 1 328.42 0)"/><use href="#s" transform="matrix(-1487 0 0 1 -3188.9 0)"/><use href="#s" transform="matrix(-71.52 0 0 1 356.49 0)"/><use href="#s" transform="matrix(-99.95 0 0 1 457.34 0)"/><use href="#s" transform="matrix(-68.1 0 0 1 383.12 0)"/><use href="#s" transform="matrix(-62.95 0 0 1 433.18 0)"/><use href="#s" transform="matrix(-59.08 0 0 1 435.22 0)"/><use href="#s" transform="matrix(-109.8 0 0 1 491.41 0)"/><use href="#s" transform="matrix(-136.3 0 0 1 222.14 0)"/><use href="#s" transform="matrix(-206.6 0 0 1 238.05 0)"/><use href="#s" transform="matrix(-185.1 0 0 1 246.91 0)"/><use href="#s" transform="matrix(-92.56 0 0 1 340.2 0)"/><use href="#s" transform="matrix(-69.65 0 0 1 404.32 0)"/><use href="#s" transform="matrix(-79.64 0 0 1 300.37 0)"/><use href="#s" transform="matrix(-62.03 0 0 1 427.82 0)"/><use href="#s" transform="matrix(-85.23 0 0 1 301.7 0)"/><use href="#s" transform="matrix(-80.29 0 0 1 442.48 0)"/><use href="#s" transform="matrix(-83.83 0 0 1 361.88 0)"/><use href="#s" transform="matrix(-217.8 0 0 1 -51.069 0)"/><use href="#s" transform="matrix(-65.76 0 0 1 378.05 0)"/><use href="#s" transform="matrix(-105.7 0 0 1 398.43 0)"/><use href="#s" transform="matrix(-73.58 0 0 1 347.29 0)"/><use href="#s" transform="matrix(-90.83 0 0 1 247.47 0)"/><use href="#s" transform="matrix(-88.82 0 0 1 344.65 0)"/><use href="#s" transform="matrix(-265.2 0 0 1 58.73 0)"/><use href="#s" transform="matrix(-80.27 0 0 1 366.51 0)"/><use href="#s" transform="matrix(-111 0 0 1 338.9 0)"/><use href="#s" transform="matrix(-154 0 0 1 405.98 0)"/><use href="#s" transform="matrix(-171.5 0 0 1 370.16 0)"/><use href="#s" transform="matrix(-120.2 0 0 1 422.35 0)"/></g></g>
<path fill="none" stroke="#000" stroke-width="3.3" stroke-linejoin="round" stroke-linecap="round" d="M505.2 332.8 508.0 333.7 510.8 334.6 513.6 335.6 516.5 336.5 519.3 337.4 522.1 338.4 524.9 339.3 527.8 340.3 530.6 341.2 533.4 342.2 536.2 343.2 539.1 344.2 541.9 345.2 544.7 346.1 547.5 347.1 550.4 348.0 553.2 349.0 556.0 349.9 558.8 350.8 561.7 351.6 564.5 352.4 567.3 353.2 570.1 353.9 573.0 354.6 575.8 355.3 578.6 356.0 581.4 356.7 584.3 357.4 587.1 358.0 589.9 358.6 592.7 359.2 595.6 359.8 598.4 360.4 601.2 360.9 604.0 361.4 606.9 361.9 609.7 362.4 612.5 362.9 615.3 363.3 618.2 363.7 621.0 364.2 623.8 364.6 626.6 365.0 629.5 365.3 632.3 365.7 635.1 366.0 637.9 366.4 640.8 366.7 643.6 367.0 646.4 367.3 649.2 367.5 652.1 367.8 654.9 368.1 657.7 368.4 660.5 368.7 663.4 369.0 666.2 369.2 669.0 369.5 671.8 369.7"/>
<path stroke="#000" stroke-width=".95" d="M505.6 382.7v-5M520.9 382.7v-5M523.1 382.7v-5M526 382.7v-5M527.3 382.7v-5M528.7 382.7v-5M530.5 382.7v-5M536.7 382.7v-5M541 382.7v-5M542.1 382.7v-5M543.8 382.7v-5M546.3 382.7v-5M547.5 382.7v-5M548.7 382.7v-5M551.1 382.7v-5M554.3 382.7v-5M555.3 382.7v-5M556.6 382.7v-5M559.1 382.7v-5M563 382.7v-5M568.9 382.7v-5M570.2 382.7v-5M573.5 382.7v-5M591.7 382.7v-5M610.9 382.7v-5M612.1 382.7v-5M613.7 382.7v-5M636.1 382.7v-5M641.4 382.7v-5M653.5 382.7v-5M655.4 382.7v-5M672 382.7v-5"/>
<rect x="498.5" y="217.3" width="180" height="165.4" fill="none" stroke="#000" stroke-width="1"/>
<path stroke="#000" stroke-width="1" d="M498.5 376.5h-6M498.5 345.9h-6M498.5 315.3h-6M498.5 284.7h-6M498.5 254.1h-6M498.5 223.5h-6M504.1 382.7v6M540.7 382.7v6M577.3 382.7v6M625.6 382.7v6M662.2 382.7v6M513.7 382.7v6M521.9 382.7v6M528.9 382.7v6M535.1 382.7v6M598.7 382.7v6M613.9 382.7v6M635.2 382.7v6M643.4 382.7v6M650.4 382.7v6M656.6 382.7v6"/>
<text transform="translate(487.6 376.5) rotate(-90) scale(.95 1)" text-anchor="middle" font-size="10">0.0</text>
<text transform="translate(487.6 345.9) rotate(-90) scale(.95 1)" text-anchor="middle" font-size="10">0.2</text>
<text transform="translate(487.6 315.3) rotate(-90) scale(.95 1)" text-anchor="middle" font-size="10">0.4</text>
<text transform="translate(487.6 284.7) rotate(-90) scale(.95 1)" text-anchor="middle" font-size="10">0.6</text>
<text transform="translate(487.6 254.1) rotate(-90) scale(.95 1)" text-anchor="middle" font-size="10">0.8</text>
<text transform="translate(487.6 223.5) rotate(-90) scale(.95 1)" text-anchor="middle" font-size="10">1.0</text>
<text transform="translate(504.1 400.6) scale(.95 1)" text-anchor="middle" font-size="10">50</text>
<text transform="translate(540.7 400.6) scale(.95 1)" text-anchor="middle" font-size="10">100</text>
<text transform="translate(577.3 400.6) scale(.95 1)" text-anchor="middle" font-size="10">200</text>
<text transform="translate(625.6 400.6) scale(.95 1)" text-anchor="middle" font-size="10">500</text>
<text transform="translate(662.2 400.6) scale(.95 1)" text-anchor="middle" font-size="10">1000</text>
<text transform="translate(471.9 300) rotate(-90)" text-anchor="middle" font-size="11.4">FV3 Prevalence</text>
<text x="481.2" y="416" font-size="11.4">Mean 3−nearest neighbors distance (m)</text>
<text x="501.8" y="232.4" font-size="15" font-weight="bold">F</text>
</svg></body></html>
